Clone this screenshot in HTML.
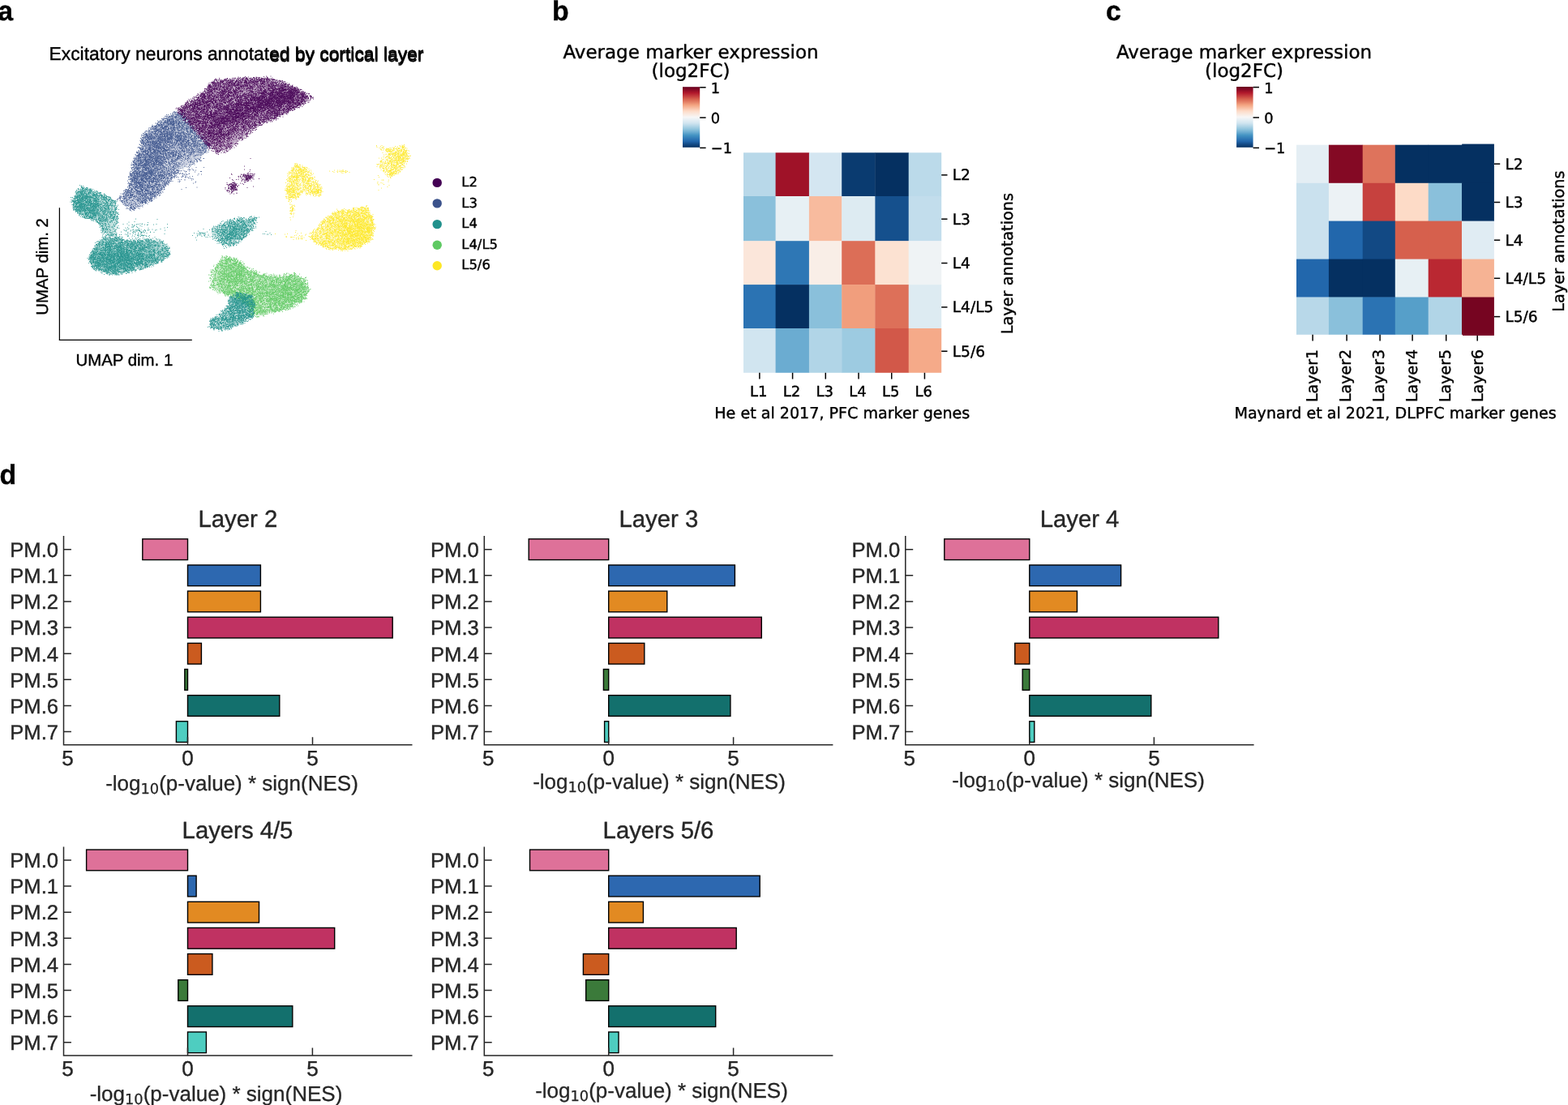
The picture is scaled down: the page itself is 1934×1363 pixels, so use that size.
<!DOCTYPE html>
<html><head><meta charset="utf-8"><title>Figure</title>
<style>
html,body{margin:0;padding:0;background:#fff;}
body{width:1934px;height:1363px;overflow:hidden;}
svg{display:block;position:absolute;left:0;top:0;}
text{text-rendering:geometricPrecision;}
.L{font-family:"Liberation Sans",sans-serif;}
.D{font-family:"DejaVu Sans",sans-serif;}
</style></head><body>
<svg width="1934" height="1363" viewBox="0 0 1934 1363">
<defs><linearGradient id="rdbu" x1="0" y1="0" x2="0" y2="1"><stop offset="0.00" stop-color="#67001f"/><stop offset="0.05" stop-color="#8a0b25"/><stop offset="0.10" stop-color="#b1182b"/><stop offset="0.15" stop-color="#c43b3c"/><stop offset="0.20" stop-color="#d6604d"/><stop offset="0.25" stop-color="#e48066"/><stop offset="0.30" stop-color="#f3a481"/><stop offset="0.35" stop-color="#f8bfa4"/><stop offset="0.40" stop-color="#fddbc7"/><stop offset="0.45" stop-color="#fae9df"/><stop offset="0.50" stop-color="#f7f6f6"/><stop offset="0.55" stop-color="#e4eef4"/><stop offset="0.60" stop-color="#d1e5f0"/><stop offset="0.65" stop-color="#b1d5e7"/><stop offset="0.70" stop-color="#90c4dd"/><stop offset="0.75" stop-color="#6bacd1"/><stop offset="0.80" stop-color="#4393c3"/><stop offset="0.85" stop-color="#327cb7"/><stop offset="0.90" stop-color="#2065ab"/><stop offset="0.95" stop-color="#124984"/><stop offset="1.00" stop-color="#053061"/></linearGradient><filter id="bl" x="-20%" y="-20%" width="140%" height="140%"><feMorphology operator="erode" radius="2"/><feGaussianBlur stdDeviation="1.8"/></filter></defs>
<text class="L" x="-2.7" y="24.5" font-size="33.8" font-weight="bold" fill="#000" stroke="#000" stroke-width="0.4">a</text>
<text class="L" x="681.0" y="24.6" font-size="33.8" font-weight="bold" fill="#000" stroke="#000" stroke-width="0.4">b</text>
<text class="L" x="1363.9" y="24.7" font-size="33.8" font-weight="bold" fill="#000" stroke="#000" stroke-width="0.4">c</text>
<text class="L" x="-0.5" y="597.4" font-size="33.8" font-weight="bold" fill="#000" stroke="#000" stroke-width="0.4">d</text>
<text class="L" x="60.5" y="74.3" font-size="22.84" fill="#000" stroke="#000" stroke-width="0.4">Excitatory neurons annotated by cortical layer</text>
<text class="L" x="60.8" y="75.6" font-size="22.84" fill="#000" stroke="#000" stroke-width="0.3"><tspan fill="none" stroke="none">Excitatory neurons annotat</tspan>ed by cortical layer</text>
<path d="M73.4 256.2V419.9M72.75 419.35H236.8" fill="none" stroke="#000" stroke-width="1.25"/>
<text class="L" x="153.4" y="450.5" font-size="20.4" text-anchor="middle" fill="#000" stroke="#000" stroke-width="0.4">UMAP dim. 1</text>
<text class="L" x="59" y="328.9" font-size="20.4" text-anchor="middle" fill="#000" transform="rotate(-90 59 328.9)" stroke="#000" stroke-width="0.4">UMAP dim. 2</text>
<circle cx="539.2" cy="225.4" r="5.7" fill="#440154"/>
<text class="D" x="569.3" y="230.1" font-size="16.4" fill="#000" stroke="#000" stroke-width="0.4">L2</text>
<circle cx="539.2" cy="250.9" r="5.7" fill="#3b528b"/>
<text class="D" x="569.3" y="255.6" font-size="16.4" fill="#000" stroke="#000" stroke-width="0.4">L3</text>
<circle cx="539.2" cy="276.6" r="5.7" fill="#21918c"/>
<text class="D" x="569.3" y="281.3" font-size="16.4" fill="#000" stroke="#000" stroke-width="0.4">L4</text>
<circle cx="539.2" cy="302.3" r="5.7" fill="#5ec962"/>
<text class="D" x="569.3" y="307.0" font-size="16.4" fill="#000" stroke="#000" stroke-width="0.4">L4/L5</text>
<circle cx="539.2" cy="327.7" r="5.7" fill="#fde725"/>
<text class="D" x="569.3" y="332.4" font-size="16.4" fill="#000" stroke="#000" stroke-width="0.4">L5/6</text>
<g id="umap">
<polygon points="263.7,98.1 300,96 332,95.2 347.9,99.8 365,107.8 386.6,120.3 368.4,132.8 342.2,145.3 319.5,155.5 302.4,170.3 285.3,185.1 268.3,189.7 259.2,184 237.5,159 222.8,141.9 217,135 234.1,123.7 251.2,112.3" fill="#440154" opacity="0.34" filter="url(#bl)" transform-origin="center" />
<polygon points="214,137.5 195,150 176.7,163.5 171,184 164,198.8 159.6,215.8 157.4,231.9 144.8,245.5 159.6,259.2 171,256.9 193.8,243.2 207.4,228.4 222.2,211.4 239.3,203.4 248.4,197.6 260.5,180 239.8,157 225.1,139.9" fill="#3b528b" opacity="0.26" filter="url(#bl)" transform-origin="center" />
<polygon points="98.2,229.6 88,245.5 90.2,259.2 102.8,268.3 119.8,273.9 125.5,285.3 128.9,293.3 143.7,291 146,270.5 143.7,247.8 131.2,241 114.1,234.1" fill="#21918c" opacity="0.26" filter="url(#bl)" transform-origin="center" />
<polygon points="123.2,294.4 114.1,308.1 108.4,319.5 114.1,330.8 131.2,337.7 146,338.8 171,333.1 193.8,325.1 208.6,316 209.7,305.8 199.5,296.7 182.4,294.4 159.6,296.7 143.7,291" fill="#21918c" opacity="0.34" filter="url(#bl)" transform-origin="center" />
<polygon points="317.8,268.4 294,268.4 276.9,273 262,281 256,288 267.8,298.5 276.9,304.8 288.3,303.7 301.9,293.5 313.3,282.1" fill="#21918c" opacity="0.22" filter="url(#bl)" transform-origin="center" />
<polygon points="276.9,315.1 259.8,334.4 258.7,353.8 274.6,362.9 285,366 300,372 306,380 310,391 333.8,386.8 356.5,381.1 375.9,370.8 381.5,357.2 377,342.4 364.5,337.8 345.1,340.1 322.4,337.8 305.3,329.9 291.7,319.6" fill="#5ec962" opacity="0.26" filter="url(#bl)" transform-origin="center" />
<polygon points="294,360.7 311,364.1 314.4,375.5 312.2,392.6 299.6,398.3 282.6,406.2 267.8,407.4 257.5,403.9 258.7,394.8 271.2,386.9 281.4,375.5 282.6,366.4" fill="#21918c" opacity="0.26" filter="url(#bl)" transform-origin="center" />
<polygon points="464.5,180.4 485,182.1 498.6,178.7 506.6,192.3 499.8,203.7 494.1,212.8 481.5,219.6 475.9,215.1 464.5,204.8 466.8,196.9 473.6,188.9" fill="#fde725" opacity="0.12" filter="url(#bl)" transform-origin="center" />
<polygon points="356.4,213.9 363.8,202.0 373.5,204.2 382.6,210.5 391.7,224.2 398.5,235.5 394.5,242.4 386.0,240.5 379.2,239.8 374.6,236.8 371.2,240.8 365.5,245.6 354.1,248.0 352.2,233.3 353.6,221.9" fill="#fde725" opacity="0.12" filter="url(#bl)" transform-origin="center" />
<polygon points="452,253.7 459.9,267.4 462.2,281 458.8,295.8 445.1,304.9 422.4,309.5 399.6,306.1 388.3,299.2 380.3,291.3 390.5,281 401.9,267.4 416.7,259.4 433.8,258.3 442.9,256" fill="#fde725" opacity="0.22" filter="url(#bl)" transform-origin="center" />
<path d="M997 357h0m-5 1h0m-6 1h0m-44 0h0m-13 0h0m0 1h0m1 3h0m6 2h0m3-4h0m1 4h0m3 0h0m1-3h0m1 2h0m2-2h0m15 3h0m6-1h0m3 1h0m1 0h0m2-1h0m1-3h0m4 3h0m2-2h0m2 3h0m4-4h0m0 4h0m3-4h0m2 4h0m0-1h0m0-1h0m1-2h0m0-1h0m0 2h0m0 2h0m1-1h0m0-3h0m1 0h0m0 3h0m0 2h0m1-5h0m1 0h0m0 4h0m1-2h0m0-1h0m3 4h0m5 6h0m-2-5h0m-1 4h0m-2 1h0m-2-5h0m0 4h0m-2-1h0m0 2h0m0-3h0m-1 1h0m-1 0h0m-1-3h0m-2 2h0m-1 2h0m0 1h0m-1-2h0m-1 0h0m-1 1h0m-1 1h0m-2-4h0m0 4h0m0-5h0m-2 1h0m0-1h0m-1 5h0m-2-4h0m0 2h0m0 2h0m-1-3h0m-2-1h0m-1 0h0m-3 3h0m-1-4h0m0 4h0m-1-3h0m0 2h0m0 1h0m-1 1h0m-2 0h0m-1-2h0m-3 0h0m0-3h0m-1 4h0m-1-1h0m-2 2h0m0-3h0m0 2h0m-1-3h0m-1 0h0m-1 2h0m0 2h0m-1-2h0m0-1h0m0-1h0m-2-1h0m-1 3h0m0 2h0m0-3h0m-2 2h0m-4-3h0m-2 3h0m-4-1h0m0 1h0m-1-1h0m-1-1h0m5 9h0m9-4h0m2 0h0m1 2h0m1-1h0m1-1h0m1 0h0m2-1h0m0 2h0m0-1h0m2-1h0m0 3h0m1-2h0m0 2h0m2-1h0m1 2h0m0-3h0m3-1h0m2 4h0m3 1h0m0-1h0m1 1h0m0-2h0m1-2h0m1 3h0m0-1h0m0 2h0m3-4h0m1 2h0m1-2h0m0 4h0m1 0h0m1-3h0m1 0h0m2 1h0m1-2h0m1-1h0m1 0h0m0 1h0m3 3h0m1-2h0m0-1h0m0 2h0m1-2h0m0 4h0m1-3h0m0 3h0m2-3h0m0 3h0m1-4h0m0 3h0m1 1h0m0-4h0m0 2h0m1-3h0m0 2h0m1-2h0m1 4h0m5-4h0m0 7h0m-3-1h0m-2 3h0m0 2h0m-1-2h0m0-1h0m0-1h0m-1-1h0m0 2h0m-1 0h0m-2 3h0m0-3h0m-1 0h0m-1-2h0m0 4h0m-1 1h0m0-3h0m0-1h0m-1 2h0m0 2h0m-1-5h0m0 2h0m-1 0h0m0 2h0m-1-4h0m-1 3h0m0 1h0m-1 1h0m-1-1h0m-1-4h0m0 2h0m-1 2h0m-3-3h0m0 4h0m0-3h0m-1 1h0m0-1h0m0 2h0m-1-4h0m-1 1h0m-1 4h0m0-5h0m0 2h0m-1 1h0m-3-2h0m0 2h0m0 2h0m0-3h0m-1 1h0m0 2h0m0-5h0m-1 5h0m0-5h0m0 2h0m-1 3h0m-1-4h0m-1 0h0m0-1h0m0 4h0m-1-3h0m0 2h0m-1-1h0m0 3h0m-1-5h0m-1 3h0m-1-2h0m-1 1h0m-2-2h0m0 2h0m0 3h0m-1 0h0m-1-4h0m0 2h0m-1 1h0m0-1h0m-1-2h0m0 2h0m-1 1h0m-6-1h0m-5 1h0m-1 5h0m5 2h0m2-2h0m2-1h0m1 1h0m2-2h0m1 3h0m1-1h0m1 0h0m1 2h0m3-1h0m0 1h0m3-4h0m0 2h0m3 0h0m0 2h0m2-3h0m1-1h0m1 0h0m1-1h0m1 3h0m0 2h0m1-2h0m2 0h0m1-3h0m0 2h0m1 2h0m1-2h0m0 2h0m0 1h0m1-4h0m0 2h0m1-1h0m0-1h0m1 3h0m0 1h0m1-1h0m0-1h0m0 2h0m1 0h0m0-5h0m0 1h0m1 3h0m0-3h0m2-1h0m1 1h0m1 1h0m0-1h0m0 4h0m1-5h0m1 5h0m1 0h0m0-3h0m1 2h0m2-2h0m1-1h0m1 3h0m0-3h0m1-1h0m0 2h0m0-1h0m2 0h0m1 4h0m1-4h0m1 0h0m0 2h0m1-2h0m3 0h0m2-1h0m-2 6h0m-2 0h0m-2 1h0m0 2h0m-2 0h0m0-1h0m-1-1h0m-1 1h0m-1-1h0m0-1h0m-1 3h0m-2-3h0m-1 5h0m-1-4h0m-1 2h0m0-1h0m0 2h0m-1-4h0m-1 4h0m0-3h0m-1 2h0m0 1h0m-1-3h0m0 4h0m-1 0h0m0-1h0m-1-1h0m0 2h0m0-1h0m-1-3h0m0 4h0m-1-5h0m0 4h0m-2-3h0m0 4h0m-1-3h0m0-1h0m0 2h0m-1 0h0m-1-1h0m0 2h0m0-3h0m-3 4h0m0-3h0m-1-2h0m0 2h0m-1-1h0m-1 2h0m0 1h0m-2-3h0m0 4h0m0-5h0m-1 0h0m0 3h0m0 2h0m-2-5h0m-1 5h0m-2-3h0m-1-1h0m0 1h0m-1 3h0m0-1h0m-1-1h0m-1-1h0m-2-1h0m0 4h0m-1-4h0m-1 0h0m0-1h0m-2 0h0m-3 5h0m0-3h0m-1 2h0m-2 0h0m-8-1h0m-3 2h0m-1-5h0m-6 0h0m3 9h0m1-1h0m0 2h0m0-3h0m1 1h0m1 1h0m0-3h0m1 4h0m1 0h0m3 0h0m5-2h0m0 2h0m5 0h0m1-3h0m0 4h0m3-1h0m1-4h0m0 2h0m1 1h0m0-1h0m1-1h0m1 2h0m0 1h0m1-4h0m1 4h0m1-2h0m0 2h0m1 0h0m1 0h0m0-3h0m2-1h0m1 4h0m0-1h0m1-2h0m2-1h0m1 4h0m0-3h0m0 4h0m1 0h0m1-5h0m1 2h0m0 2h0m0-3h0m1 0h0m0 2h0m0 2h0m1-1h0m0 1h0m1-5h0m0 5h0m1-4h0m1-1h0m1 4h0m0-3h0m1 1h0m2 3h0m0-5h0m1 0h0m1 4h0m0 1h0m2-2h0m0-1h0m1 3h0m1-4h0m0 2h0m0 1h0m1-4h0m0 3h0m1 0h0m0-3h0m1 0h0m0 1h0m0 2h0m1 1h0m2-2h0m1-2h0m0 3h0m4-2h0m0 2h0m-2 5h0m-6-1h0m-1 1h0m-3 1h0m0 2h0m-1-3h0m-1 2h0m0-3h0m-1-1h0m-2 1h0m-1-1h0m-1 1h0m-3 2h0m0-1h0m-1 2h0m-1-3h0m0 1h0m-1 0h0m0 2h0m-1 1h0m0-1h0m0-3h0m-2-1h0m0 5h0m-3 0h0m-1-5h0m-1 5h0m0-5h0m-1 3h0m-1 2h0m-3-2h0m0 2h0m0-4h0m-1 3h0m-1-1h0m0-3h0m-3 1h0m-2-1h0m0 4h0m-1-3h0m-1 2h0m0-1h0m0-1h0m-1 0h0m-1 4h0m-1-1h0m-2-3h0m-2 0h0m-2 0h0m0 3h0m-1-4h0m-4 3h0m0-1h0m-2 2h0m-2 1h0m-1 0h0m-1-3h0m-3 2h0m-2-1h0m-2 2h0m-1-2h0m-190 1h0m0 1h0m-1 0h0m-6-3h0m0 2h0m-1 1h0m-2-4h0m-1 2h0m-2-1h0m-2 9h0m1-3h0m1-2h0m1 2h0m1 1h0m0 2h0m0-5h0m1 4h0m1-3h0m1 0h0m0 2h0m0 2h0m1-2h0m0-3h0m1 1h0m0 2h0m0-3h0m1 5h0m1-1h0m1 1h0m0-3h0m1 2h0m1 0h0m1 1h0m1-3h0m5 1h0m0 2h0m0-5h0m2 5h0m1 0h0m2 0h0m1-1h0m4 1h0m1 0h0m173-2h0m7-1h0m0 2h0m2-3h0m1 3h0m0-2h0m2 0h0m1 0h0m0-1h0m3-1h0m1 2h0m0 1h0m4 2h0m1-4h0m1 1h0m0 2h0m0-1h0m3-1h0m1-1h0m1 4h0m3-2h0m3-2h0m1-1h0m1 2h0m0 1h0m1 0h0m0 2h0m1-1h0m1-4h0m0 5h0m1-5h0m1 0h0m0 2h0m1 0h0m0 3h0m1-5h0m0 1h0m1 3h0m0 1h0m2-3h0m0-1h0m0 2h0m1-3h0m0 3h0m1 2h0m0-3h0m1 3h0m1-1h0m1 0h0m2-2h0m1 3h0m1-3h0m0-1h0m1 2h0m1-1h0m0-2h0m1 5h0m0-3h0m1-2h0m1 5h0m2 0h0m2 0h0m1-5h0m2 0h0m1 2h0m1 2h0m-3 2h0m-3 4h0m-1-1h0m-2 2h0m-1-1h0m-1-4h0m0 2h0m0-1h0m-2 1h0m-1 3h0m-2 0h0m-1-4h0m-2 2h0m-1-1h0m-1 1h0m-1 0h0m0-1h0m0 2h0m-1-1h0m0-2h0m-1 4h0m0-5h0m-1 1h0m-1 0h0m-1 0h0m-1 1h0m0 2h0m-1 1h0m-2-1h0m0-1h0m0 2h0m-1-1h0m-1-1h0m0 1h0m-1 1h0m0-5h0m-1 1h0m-1 0h0m0 4h0m-4-4h0m-3 2h0m-1 0h0m-1 2h0m-1-3h0m-1-1h0m0 2h0m-4-2h0m0 4h0m-1-4h0m0 3h0m-2-4h0m0 2h0m0-1h0m-2-1h0m-3 5h0m-2-5h0m0 1h0m-92 4h0m-84-2h0m-4-3h0m-1 3h0m-1 1h0m-1 0h0m0 1h0m-2-4h0m0 2h0m-1-1h0m0 2h0m0-3h0m0-1h0m-1 4h0m0-3h0m-1 4h0m-1 0h0m-1-2h0m0 2h0m0-5h0m-2 5h0m-2-2h0m-1 0h0m0 1h0m-1-2h0m0 2h0m0-3h0m0 2h0m-1 2h0m0-4h0m0 2h0m-1 2h0m-1-2h0m-1 1h0m0-3h0m-1 3h0m0-1h0m-4-3h0m0 5h0m-1 0h0m-1-2h0m-3-1h0m-3-2h0m0 2h0m0 2h0m0-1h0m-1 0h0m0-1h0m-1 2h0m-1 1h0m0-5h0m0 4h0m-2 1h0m0-5h0m0 1h0m-7 9h0m1 0h0m0 1h0m4-1h0m0-3h0m1-1h0m1 0h0m1 3h0m0 1h0m1-3h0m0 2h0m1-2h0m2 3h0m1-4h0m3 1h0m0-1h0m0 2h0m1 2h0m1 1h0m1-3h0m1 0h0m1-1h0m2 0h0m0 3h0m1-4h0m0 2h0m0-1h0m0 4h0m1 0h0m2-4h0m0 1h0m1 1h0m2-2h0m0 2h0m0-3h0m0 2h0m1-1h0m0 4h0m0-1h0m1-1h0m1-3h0m0 3h0m1-2h0m0 4h0m2 0h0m0-5h0m0 2h0m2 3h0m1-4h0m0 2h0m0 2h0m2-2h0m1 0h0m0-1h0m2 1h0m1-2h0m1 4h0m1-1h0m0 1h0m1-1h0m1-1h0m1-2h0m1 4h0m3-5h0m1 4h0m45-2h0m8 1h0m3 2h0m1-5h0m7 3h0m1 2h0m0-5h0m4 3h0m1-3h0m2 4h0m1-1h0m1-1h0m0-1h0m3 2h0m1-2h0m0 2h0m1 0h0m3 0h0m2-1h0m0 3h0m1-4h0m1 4h0m2-3h0m1 1h0m5 2h0m83-4h0m1 2h0m1-2h0m1 3h0m0-4h0m3 5h0m1-2h0m1-3h0m1 0h0m1 2h0m1-1h0m1 4h0m1-2h0m1 2h0m0-4h0m1 4h0m0-5h0m1 1h0m0 2h0m1-2h0m0 2h0m0-1h0m1-1h0m1 2h0m1-2h0m0 4h0m1 0h0m2-3h0m2 3h0m1-2h0m1 0h0m0 1h0m1 0h0m2 0h0m0-3h0m0 2h0m1-1h0m0 2h0m0-1h0m2-1h0m1 2h0m0-3h0m0 4h0m2-5h0m1 1h0m1 4h0m1-3h0m1-2h0m1 4h0m1-1h0m0 1h0m1-2h0m-5 4h0m-1 3h0m-3-1h0m-2 1h0m-1-2h0m-1 1h0m0 1h0m-1 0h0m-2-3h0m0 2h0m-2-1h0m0 2h0m-1 0h0m0 2h0m0-5h0m0 4h0m-1-3h0m0 4h0m-1-5h0m0 2h0m-1 2h0m0-4h0m-1 1h0m0 2h0m-1 2h0m0-5h0m0 4h0m0-3h0m-1 2h0m0 2h0m0-5h0m-1 3h0m-1 0h0m0 2h0m0-3h0m0 2h0m-1 0h0m-3 1h0m0-1h0m-2-2h0m-3 3h0m-2-3h0m-98-2h0m-6 1h0m-3-1h0m-70 2h0m-3 3h0m-2-3h0m-1 0h0m0-1h0m0 2h0m-5-1h0m-1 3h0m-3-3h0m0 3h0m-2 0h0m0-3h0m-2 2h0m0 1h0m-1 0h0m0-5h0m-4 2h0m0 2h0m0-4h0m-1 5h0m-2-4h0m0 2h0m0-1h0m-1 0h0m0 1h0m-1 2h0m0-1h0m-1-2h0m-1-2h0m0 4h0m-1 1h0m-1-4h0m0-1h0m-2 2h0m0-1h0m-1 0h0m-2 1h0m-2 0h0m0 2h0m0-1h0m-1-1h0m-1-1h0m-1 1h0m0 1h0m-1 0h0m-2-2h0m-1 4h0m-1-5h0m0 2h0m-3 3h0m0-4h0m-1 1h0m-1 0h0m0-1h0m-3-1h0m0 1h0m-3 1h0m0 1h0m-1-3h0m-1 4h0m-3-2h0m1 8h0m0-3h0m3 4h0m2-2h0m3 0h0m0 2h0m1-5h0m0 4h0m0-3h0m0 4h0m1 0h0m0-5h0m1 5h0m0-3h0m2 2h0m0-2h0m1 1h0m1 1h0m0-1h0m0 2h0m1-2h0m1 1h0m0-1h0m0 2h0m0-5h0m1 1h0m0 4h0m0-5h0m0 2h0m2 2h0m1-1h0m0-3h0m1 5h0m0-4h0m1 0h0m0 2h0m0 2h0m1-5h0m0 3h0m0 2h0m1 0h0m0-5h0m0 4h0m1-3h0m1 4h0m0-3h0m1-1h0m1 0h0m0-1h0m1 3h0m1 0h0m0-3h0m3 1h0m0 2h0m0 2h0m2-2h0m0-1h0m2 1h0m0-1h0m1 0h0m0 2h0m1-1h0m0 2h0m1 0h0m1-4h0m0 1h0m0 2h0m2-3h0m2 2h0m1 0h0m1 1h0m1 0h0m2-3h0m2-1h0m1 1h0m1 4h0m2-4h0m3 4h0m6-1h0m157-3h0m2 4h0m20-5h0m1 3h0m2 2h0m3-5h0m1 1h0m0 2h0m1 2h0m2-4h0m1 0h0m0 2h0m1 0h0m0-1h0m3-1h0m3-1h0m-9 7h0m-1-1h0m-40 5h0m-147-5h0m0 5h0m-4-3h0m0 1h0m-1-1h0m0-2h0m-1 4h0m0 1h0m0-5h0m-2 1h0m-1 0h0m-1 0h0m0 3h0m-1-1h0m-1-1h0m-1 0h0m0 2h0m-1-3h0m0 1h0m-1 1h0m0 2h0m-2-5h0m-3 0h0m-1 5h0m-1-4h0m0 4h0m-1-2h0m-1-3h0m0 5h0m-3-3h0m0 1h0m0 2h0m-1 0h0m0-1h0m-1-4h0m0 2h0m0 2h0m-1-1h0m-1-1h0m-1-2h0m-3 4h0m-1 1h0m-2-4h0m-1 4h0m-2-5h0m-1 2h0m0 2h0m-1 0h0m0-3h0m0 4h0m-1 0h0m-1-3h0m0 2h0m0-3h0m-1-1h0m0 1h0m-3 4h0m-1-1h0m-1-3h0m-2-1h0m-2 4h0m0-1h0m-1-1h0m0 2h0m0 1h0m-3-2h0m-1-1h0m0 2h0m0-3h0m-1 1h0m0 1h0m0 2h0m-1-5h0m-1 0h0m-1 2h0m-2 1h0m-3 2h0m2 4h0m1 0h0m0-3h0m0 2h0m3 1h0m0-3h0m1 3h0m1 2h0m0-3h0m1 3h0m0-3h0m1-1h0m1 3h0m1 1h0m0-1h0m1 0h0m1-3h0m1 3h0m1-1h0m1 2h0m1 0h0m0-5h0m0 2h0m0 2h0m2-4h0m1 4h0m1-4h0m0 4h0m0-3h0m1-1h0m1 0h0m1 4h0m0-2h0m1 0h0m1 2h0m1-3h0m1 4h0m2-1h0m1-3h0m6-1h0m1 1h0m0 1h0m1 1h0m1 1h0m0 1h0m0-3h0m1-2h0m2 5h0m0-3h0m2-1h0m1-1h0m0 1h0m0 2h0m4-1h0m1-1h0m0 2h0m0 2h0m1 0h0m0-5h0m0 2h0m1 1h0m0-1h0m0-1h0m2 2h0m0-3h0m0 4h0m2-2h0m0-1h0m2 2h0m3 2h0m2-1h0m1-1h0m0 2h0m4-1h0m0 1h0m2-1h0m0-3h0m1 0h0m3 3h0m2-2h0m147 3h0m10-5h0m3 0h0m1 0h0m12 4h0m1-4h0m-12 11h0m-3-3h0m-4-1h0m-6 3h0m-3-2h0m-141 3h0m-4 0h0m-2-2h0m-1 2h0m-1-4h0m-1 3h0m-1 0h0m0 1h0m0-3h0m-1 0h0m0 3h0m-3-4h0m-1 2h0m-1 2h0m-1-4h0m-4 4h0m0-3h0m-2 1h0m-1-1h0m-3 1h0m-2 1h0m0-2h0m-1 0h0m0-1h0m0 2h0m-1-1h0m0 2h0m-2-1h0m-1-3h0m0 1h0m-1-1h0m0 2h0m-1 1h0m-3-3h0m-1 5h0m-1-3h0m0-2h0m-4 0h0m-4 3h0m-1 2h0m-4-2h0m-2-1h0m0 2h0m-2-1h0m-1-2h0m0 4h0m-1-4h0m0 2h0m-3 1h0m-1-3h0m-1-1h0m0 4h0m0-1h0m-1-3h0m-3 2h0m0 2h0m0 1h0m-1 0h0m0-1h0m-1-2h0m0-1h0m-4 3h0m-3-2h0m-2 2h0m-1 0h0m-4-3h0m1 10h0m1-3h0m1-1h0m1 3h0m2 1h0m0-1h0m1 1h0m0-1h0m1-2h0m1 3h0m1 0h0m0-3h0m1 1h0m1 0h0m1-2h0m0-1h0m0 2h0m1-1h0m0 1h0m2 0h0m1 2h0m1 0h0m0-3h0m1 2h0m0 1h0m1-1h0m1-2h0m2 2h0m0 2h0m4-5h0m1 1h0m1 0h0m0 1h0m0 2h0m1-2h0m1 0h0m1 2h0m2-4h0m1 5h0m0-4h0m2 0h0m6 2h0m0-3h0m1 1h0m2 4h0m1-4h0m0 4h0m0-3h0m2-1h0m0 3h0m1-2h0m3-2h0m1 2h0m2 2h0m2-3h0m0 2h0m0-3h0m1 5h0m1-2h0m0-2h0m1 2h0m1-2h0m0 3h0m1-1h0m0-1h0m1 2h0m1-3h0m2-1h0m2 5h0m0-1h0m1-3h0m0-1h0m1 3h0m0-1h0m3 2h0m3 0h0m1-1h0m0 2h0m0-5h0m0 2h0m0 2h0m1-3h0m0 2h0m2 2h0m0-3h0m1 2h0m2-3h0m3 4h0m142-5h0m22 5h0m4-4h0m-19 7h0m-147 1h0m0-3h0m-2 5h0m-1-2h0m0-3h0m-1 3h0m0-1h0m-2 3h0m-1-4h0m0 4h0m-2 0h0m-1-4h0m0 2h0m-1-2h0m-1 4h0m-1 0h0m0-1h0m-2 1h0m-1-4h0m0 4h0m0-5h0m-1 3h0m-1-3h0m-1 4h0m0-4h0m-1 5h0m-1-3h0m0 1h0m-2 2h0m-4-3h0m0-1h0m0 2h0m-1-3h0m-1 4h0m0 1h0m-3 0h0m-1-2h0m0-3h0m-2 1h0m0 2h0m-1-1h0m-2 1h0m0-3h0m-2 0h0m0 2h0m0-1h0m-1 1h0m-1 3h0m-3-4h0m0 3h0m-1-4h0m0 1h0m0 4h0m-1 0h0m-4-3h0m-2 0h0m-1 1h0m-1 0h0m-1 2h0m-2 0h0m-1-2h0m-1 1h0m0-3h0m0 2h0m-1 2h0m-1-5h0m-1 4h0m-1-3h0m-1 4h0m-1-3h0m-1-2h0m0 2h0m-1 2h0m-1-1h0m-1 2h0m-1-2h0m0-3h0m-1 2h0m-1-1h0m-1 1h0m0 2h0m0 1h0m0-5h0m-1 4h0m0 1h0m-1-2h0m0 2h0m-1-2h0m-1 2h0m-1-4h0m-1 3h0m0-3h0m0 4h0m-1-1h0m-3 1h0m0-5h0m0 4h0m-1-2h0m0 1h0m-1 1h0m-1-1h0m-3 0h0m-1 4h0m2 0h0m2 1h0m0 2h0m0-3h0m1 0h0m1-1h0m0 5h0m1-5h0m0 2h0m0 2h0m1 1h0m0-1h0m0-3h0m1 3h0m1-1h0m0-3h0m1 3h0m0-3h0m1 4h0m0-3h0m0 4h0m1-2h0m0 2h0m0-3h0m2 3h0m0-4h0m1 3h0m1-1h0m1-2h0m1 4h0m0-1h0m1-3h0m0 4h0m0-1h0m1-4h0m0 2h0m0-1h0m0 2h0m1 0h0m0-3h0m0 2h0m0 2h0m1-3h0m1 3h0m1-2h0m1-2h0m2 5h0m1-3h0m2 0h0m2-2h0m1 1h0m4 1h0m1 3h0m1-3h0m1 3h0m1-2h0m1-1h0m1 2h0m2-2h0m2-2h0m1 4h0m0-3h0m3 3h0m1-4h0m1 0h0m1 1h0m2 1h0m0 1h0m1-2h0m0 2h0m1 2h0m0-1h0m1 0h0m1-4h0m3 5h0m0-5h0m0 2h0m1 1h0m0 2h0m2-4h0m0 2h0m0 2h0m1-1h0m1-4h0m0 4h0m2 0h0m1 1h0m1-3h0m1 3h0m1-3h0m0 2h0m2 1h0m0-3h0m1-2h0m0 2h0m1 3h0m0-1h0m1-2h0m0 2h0m0-3h0m1 2h0m0-1h0m0 2h0m0-3h0m1 4h0m1 0h0m0-3h0m0 2h0m0-3h0m0 2h0m1-3h0m0 2h0m1-1h0m1-1h0m2 3h0m0-3h0m0 2h0m1 3h0m1-2h0m0-1h0m3 3h0m138-4h0m-142 6h0m0 1h0m-1-2h0m0 2h0m-1-1h0m-1 3h0m-1 0h0m-1-3h0m-1 0h0m-1 1h0m0 1h0m-1-2h0m0-1h0m0 2h0m-1-1h0m0 2h0m0-3h0m-1 3h0m0-3h0m-2 4h0m0-1h0m0 2h0m-1 0h0m-1-4h0m0-1h0m0 2h0m-1-2h0m-1 1h0m0 3h0m-1-3h0m-1 4h0m0-3h0m-1 0h0m-1-1h0m0-1h0m-1 3h0m0-3h0m0 2h0m0 2h0m-1-4h0m0 3h0m-3-2h0m-1 0h0m0 4h0m0-3h0m-1-1h0m0 4h0m-2-1h0m-1-3h0m-2 1h0m-1 2h0m0 1h0m-2-2h0m-1-1h0m-1 0h0m0 2h0m-9-4h0m0 2h0m-1-1h0m-1 0h0m-3-1h0m-1 0h0m0 2h0m-1 1h0m-2 0h0m0 2h0m0-5h0m-1 3h0m-1 0h0m0 2h0m-2-1h0m0-3h0m0 4h0m-1-2h0m-2-3h0m-1 3h0m-2-2h0m0 4h0m0-1h0m-2-3h0m0-1h0m-1 1h0m-1 3h0m0-3h0m0 4h0m-2-4h0m-1 0h0m0 4h0m-1-4h0m-1 2h0m-1 0h0m-2 1h0m0-3h0m0 2h0m-1 1h0m0-4h0m-1 0h0m-1 0h0m-1 2h0m-1 2h0m0-3h0m0 2h0m-1 1h0m-1-2h0m-2 3h0m-1 6h0m1-1h0m2 1h0m4-1h0m0-4h0m1 5h0m0-5h0m0 2h0m2-1h0m1 1h0m0-1h0m1 4h0m0-5h0m0 2h0m1-1h0m0 4h0m2 0h0m0-3h0m1 1h0m0 2h0m0-3h0m0 2h0m1 0h0m1-3h0m1 1h0m1-2h0m0 2h0m2-1h0m0 2h0m2 0h0m0 2h0m0-5h0m1 5h0m4-2h0m0 2h0m0-1h0m0-3h0m1 3h0m1-4h0m1 5h0m1-3h0m1-1h0m0-1h0m2 0h0m1 0h0m14 1h0m10 1h0m7-1h0m0 2h0m4 1h0m3-4h0m0 2h0m0 1h0m4-2h0m2 2h0m1-1h0m0 3h0m1-4h0m2 1h0m0-1h0m1-1h0m1 1h0m-55 6h0m-2-1h0m-3 1h0m-1 3h0m-1-4h0m-1 3h0m0-3h0m-1 0h0m-2 1h0m0 1h0m-1-2h0m-1 2h0m0-2h0m-1 2h0m-1-1h0m-1 1h0m-2-1h0m-1-1h0m-1 2h0m0-1h0m-1 0h0m-1 0h0m-1 0h0m0 2h0m-2 1h0m0-3h0m-1 3h0m-3-1h0m-1-1h0m-1 0h0m6 9h0m0-1h0m1 0h0m0-3h0m1-1h0m1 0h0m1 1h0m3 0h0m0 4h0m11-5h0m-14 8h0m-1 4h0m3 1h0m3 4h0m0-3h0m3 1h0m2-1h0m1 3h0m176 0h0m1 0h0m1-2h0m4 6h0m-1 2h0m-1-1h0m0-1h0m-1 2h0m-1-3h0m-2 2h0m-2-1h0m0 2h0m-1-3h0m-1 3h0m-1-2h0m-1 0h0m-1-2h0m-1 1h0m-1-2h0m0 4h0m0-3h0m-1 1h0m0 2h0m-2-1h0m0-3h0m-1 2h0m0 1h0m-1 0h0m-2 2h0m-1-1h0m0 1h0m-2-1h0m-2 0h0m-2-2h0m-4 1h0m-3 0h0m0 2h0m-2-2h0m0 1h0m-22 1h0m-124-1h0m-2 0h0m-1-3h0m0 2h0m-1 0h0m0 2h0m-2-5h0m-1 1h0m-1 1h0m0 2h0m-1-1h0m-1 7h0m2-1h0m1 2h0m2 0h0m0-3h0m0 2h0m1-4h0m0 2h0m1 3h0m0-3h0m1 1h0m0-3h0m4 2h0m104-2h0m2 3h0m1 2h0m2 0h0m1 0h0m4-1h0m2-1h0m1-2h0m0 1h0m1 0h0m0 3h0m1-3h0m0 2h0m2-2h0m0 2h0m3 0h0m2-3h0m3 2h0m1 1h0m1-2h0m1 2h0m0 1h0m2-4h0m0 2h0m0 1h0m1-3h0m1 4h0m1-1h0m2 0h0m0 1h0m1-1h0m1-1h0m0-1h0m3 1h0m0-3h0m1 0h0m1 2h0m0 2h0m0-4h0m1 4h0m1 1h0m1-4h0m1 4h0m1-5h0m1 4h0m0-1h0m2 0h0m2-3h0m1 0h0m0 2h0m2 1h0m0-1h0m1-2h0m1 0h0m0 4h0m1-3h0m1 0h0m1 2h0m0-3h0m0 2h0m2-1h0m0 2h0m1-1h0m0 3h0m1 0h0m1-2h0m1-1h0m0 2h0m1-1h0m1-1h0m2 0h0m1-1h0m0 2h0m1-2h0m0 2h0m1 0h0m0 1h0m2-1h0m0-1h0m2-1h0m0 4h0m0-3h0m1-2h0m0 3h0m3 1h0m0 5h0m-2-3h0m0 3h0m-1 0h0m-1 1h0m0-1h0m-1-1h0m-2-1h0m0 2h0m-2 0h0m0-3h0m-1 5h0m0-4h0m-1 0h0m0-1h0m-1 0h0m0 2h0m0 3h0m-1-1h0m-1 0h0m-1-4h0m0 4h0m-1 1h0m-1-3h0m-1 3h0m-1-5h0m0 2h0m0-1h0m-1 4h0m0-1h0m0-1h0m-1 0h0m0 2h0m-1-3h0m-2 2h0m-2-3h0m-1-1h0m0 4h0m0-3h0m0 4h0m-1-3h0m0 1h0m-1 2h0m0-3h0m-1 0h0m-1 2h0m0-3h0m-1 1h0m0 2h0m-1-1h0m-1-2h0m0 2h0m-1 2h0m0-4h0m-1-1h0m-1 0h0m0 4h0m-1-2h0m0 3h0m-1 0h0m-1-4h0m-1-1h0m0 2h0m-1 1h0m-1-2h0m-1-1h0m0 1h0m-1 1h0m-1 0h0m-1 2h0m-1 1h0m0-4h0m-2 0h0m0 2h0m-1-2h0m-1 1h0m-1-1h0m-1 2h0m0 2h0m-1 0h0m0-3h0m0-1h0m-1 4h0m0-2h0m-2 0h0m-1 0h0m-1-1h0m-1-1h0m-3 0h0m0 4h0m0-5h0m0 4h0m-1-1h0m0 2h0m0-5h0m-1 4h0m-1 1h0m0-5h0m0 1h0m-1 2h0m-1 2h0m0-1h0m0-3h0m-2-1h0m0 1h0m-1-1h0m0 4h0m-2-4h0m-1 3h0m-1-3h0m0 4h0m-1-4h0m0 4h0m0-3h0m-1 2h0m0-1h0m0-1h0m-1-1h0m-1 3h0m-2 2h0m-1-4h0m-1 2h0m0 2h0m-1 0h0m-1-2h0m-1-3h0m-1 5h0m0-1h0m-2 1h0m-1-3h0m-1 3h0m-1-1h0m-93 0h0m-3 0h0m-4 0h0m-1 0h0m0-2h0m-2 3h0m2 1h0m1 1h0m5 1h0m86 2h0m4 1h0m1 0h0m2 0h0m1-1h0m2-4h0m1 5h0m0-4h0m2 2h0m0-3h0m2 0h0m1 3h0m1-3h0m0 2h0m0 2h0m2-4h0m1 3h0m0-1h0m2-1h0m0 3h0m2-1h0m2-2h0m0-1h0m0 4h0m1 1h0m2 0h0m3 0h0m1-2h0m0 1h0m1-3h0m1 0h0m0-1h0m1 4h0m0-1h0m3 0h0m0-3h0m0 4h0m3-3h0m0 2h0m1-1h0m1 1h0m1 0h0m1-2h0m0 2h0m1 0h0m0-3h0m1 4h0m2 1h0m1-3h0m0 2h0m1 1h0m1-2h0m0 2h0m1-2h0m0-1h0m1-1h0m0 1h0m3 3h0m1-2h0m0-1h0m1 3h0m0-3h0m1-2h0m2 1h0m0 2h0m0-3h0m0 2h0m0 2h0m1 1h0m0-4h0m2 1h0m0 1h0m0 2h0m1-2h0m0 1h0m1-3h0m0-1h0m0 2h0m1-1h0m0 4h0m0-3h0m1 0h0m0 1h0m1-2h0m1 4h0m2 0h0m0-5h0m0 2h0m1 3h0m0-5h0m0 2h0m0 2h0m0-3h0m1 0h0m1 1h0m0 2h0m1 0h0m0-4h0m1 5h0m1-3h0m3 2h0m1-1h0m1-1h0m0 2h0m0 1h0m1-2h0m2 2h0m0-5h0m2 1h0m0 1h0m2-1h0m0-1h0m1 3h0m0-1h0m2 1h0m0 2h0m1-2h0m0-1h0m2 3h0m1 0h0m0-5h0m0 2h0m2-1h0m0 2h0m0 2h0m1-1h0m1 1h0m0-5h0m0 4h0m1 1h0m1-2h0m1 1h0m2 1h0m2-4h0m0 5h0m-2 2h0m0-1h0m0 4h0m-1-2h0m-1-3h0m0 2h0m0 2h0m-1 0h0m-1-2h0m0 3h0m-1-2h0m-1-1h0m0-1h0m-2-1h0m0 2h0m0 2h0m-1 1h0m-1-3h0m-1-1h0m-1 3h0m0-3h0m0-1h0m-1 3h0m-1-2h0m0 2h0m-1 2h0m0-3h0m-1 3h0m0-3h0m0 2h0m-1 1h0m0-2h0m-1 1h0m0-1h0m0-3h0m-1 0h0m0 2h0m0 2h0m-1-2h0m-1 0h0m0-1h0m-1 1h0m0 1h0m-1-2h0m-1 4h0m-2-5h0m-1 4h0m-2 1h0m0-5h0m0 4h0m-1-4h0m0 2h0m-1 2h0m-2 1h0m0-1h0m-1-4h0m0 5h0m-1-4h0m-1 0h0m0-1h0m-2 0h0m-1 3h0m-1 0h0m-2 1h0m-1 0h0m0-3h0m0 4h0m-1-2h0m0 2h0m-1-5h0m0 2h0m0 1h0m-1 0h0m-2-2h0m-1-1h0m0 4h0m-2 0h0m0-3h0m0 2h0m0 2h0m-1-5h0m0 4h0m-1-4h0m0 4h0m-1-1h0m0 2h0m0-5h0m-1 4h0m0-1h0m-1 1h0m0-1h0m-1 0h0m0-3h0m-1 5h0m0-5h0m-1 0h0m0 3h0m-2-3h0m0 5h0m-1 0h0m-1-4h0m0 2h0m-1-2h0m-1 0h0m-2 4h0m0-3h0m0 1h0m-2 0h0m0 2h0m-2-2h0m0 2h0m0-1h0m-1-1h0m0-3h0m-1 0h0m0 1h0m-2-1h0m0 2h0m0 2h0m-1-4h0m-2 5h0m-1-5h0m0 2h0m-1 0h0m-2 0h0m0 2h0m-1 1h0m0-5h0m-1 3h0m-1 2h0m0-1h0m-1-3h0m-1 2h0m0 2h0m0-5h0m-1 2h0m0 1h0m-1 1h0m-1-1h0m0-3h0m-1 0h0m-2 1h0m-1 3h0m-1 1h0m0-2h0m-1 0h0m0 2h0m-2 0h0m0-5h0m-1 1h0m0 1h0m0 2h0m-1-3h0m-1 2h0m0 1h0m-1-4h0m-1 4h0m0-1h0m-2-3h0m0 1h0m0 2h0m-3-1h0m-1 3h0m0-5h0m-1 4h0m-2 0h0m-1-1h0m0-1h0m-1 1h0m0-1h0m-81-1h0m-7 2h0m1 5h0m79 3h0m1-1h0m2-4h0m0 4h0m1 0h0m0-3h0m1 0h0m1 4h0m1-2h0m0 2h0m4-4h0m1 4h0m0-3h0m1-2h0m1 5h0m1-5h0m0 2h0m1-2h0m1 3h0m0 2h0m1-3h0m1 3h0m0-1h0m2-1h0m1 2h0m1-5h0m1 0h0m0 2h0m1 2h0m0-4h0m1 2h0m1 2h0m0-3h0m0 2h0m0 2h0m1-5h0m0 2h0m1 1h0m3 0h0m1 0h0m1-2h0m0 3h0m2-4h0m1 5h0m2-5h0m0 4h0m1-3h0m1 0h0m0 2h0m0 2h0m2-2h0m0 2h0m0-5h0m1 3h0m0-3h0m0 2h0m1-1h0m0 3h0m1-3h0m0 4h0m1-2h0m1 0h0m0-1h0m2 0h0m0 2h0m1-3h0m0-1h0m0 2h0m1 2h0m0-2h0m1 0h0m1-2h0m1 1h0m0 3h0m1-2h0m1 0h0m0 2h0m0 1h0m1-2h0m0 2h0m0-3h0m2-1h0m0 2h0m0-1h0m0 2h0m1-1h0m1 0h0m1 0h0m1 0h0m0-3h0m1 3h0m0 1h0m3-2h0m0 2h0m0-3h0m0 2h0m2 2h0m0-3h0m1-2h0m0 4h0m1-1h0m0 2h0m1-2h0m0-3h0m0 2h0m1 0h0m1-1h0m0 4h0m0-3h0m0 2h0m1 0h0m1-2h0m0 2h0m1-1h0m0 2h0m0-3h0m1-2h0m1 1h0m0-1h0m1 4h0m1-1h0m0 2h0m0-5h0m1 5h0m0-3h0m2 0h0m0 2h0m1-4h0m1 0h0m0 2h0m0 2h0m0-3h0m0 2h0m1-1h0m1 0h0m0 2h0m0-3h0m1 2h0m1 1h0m0-3h0m1 2h0m1 0h0m1-2h0m0 3h0m1-3h0m1-1h0m0 4h0m0 1h0m1-4h0m0 4h0m0-3h0m0 2h0m1-1h0m1-3h0m1 0h0m0 2h0m0 2h0m0-1h0m1-2h0m0 2h0m0-1h0m1 2h0m0-1h0m0 2h0m1-5h0m0 2h0m2 0h0m1 0h0m2-2h0m1 3h0m0 1h0m1 1h0m0-5h0m2 3h0m1-2h0m1 4h0m2-5h0m2 5h0m0-3h0m0 2h0m1-3h0m0 2h0m0 2h0m1-4h0m0 1h0m1 0h0m0 2h0m0-1h0m1 0h0m0 2h0m0-3h0m1 1h0m2 0h0m0-2h0m1 0h0m-2 6h0m0 4h0m0-3h0m-1-2h0m0 3h0m0 2h0m-1-5h0m0 2h0m0-1h0m-1 2h0m0 2h0m-1-3h0m-1-2h0m-2 5h0m-3-2h0m-1-3h0m-1 4h0m0-3h0m0 4h0m-1-2h0m-1-2h0m0-1h0m-1 1h0m0 1h0m-1 0h0m-1 3h0m-1-4h0m-1 3h0m0-1h0m-2 2h0m0-3h0m-1 3h0m0-3h0m-1-2h0m0 1h0m-1-1h0m0 2h0m0 2h0m-1-2h0m-1 2h0m0-3h0m-1 3h0m-1-2h0m-1 0h0m0-1h0m0 4h0m-1-5h0m-1 0h0m0 2h0m0-1h0m-1-1h0m-1 3h0m0-1h0m-1 2h0m0-1h0m-1-3h0m0 2h0m0-1h0m0 2h0m-1-1h0m0 1h0m-1 2h0m0-3h0m-1-1h0m0 4h0m0-5h0m0 2h0m-1-2h0m0 4h0m0-3h0m0 2h0m-1 1h0m0-3h0m-1 3h0m0-3h0m-1 0h0m-1-1h0m-1 0h0m0 4h0m-1-2h0m-1-2h0m0 4h0m0-3h0m0 2h0m-1-2h0m0 1h0m0 2h0m-1-4h0m0 4h0m-1-2h0m-1-1h0m0-1h0m-1 0h0m0 2h0m-3-1h0m0 4h0m-1-2h0m-1-3h0m0 1h0m0 2h0m-1-2h0m0-1h0m-1 5h0m-1 0h0m-1 0h0m0-5h0m0 1h0m-1-1h0m-1 0h0m-1 5h0m-1-3h0m0 2h0m-1 1h0m0-3h0m0 1h0m-1 2h0m0-2h0m-1 2h0m-1 0h0m0-5h0m0 4h0m-1-4h0m0 3h0m0 2h0m-1-1h0m0-3h0m-1 4h0m-1-5h0m0 4h0m-3-4h0m0 1h0m0 2h0m-1-3h0m0 3h0m0 2h0m-1 0h0m0-3h0m-1-2h0m0 2h0m-2-2h0m0 2h0m0 3h0m-1-5h0m-1 1h0m-2 1h0m0 1h0m-2-2h0m-1-1h0m0 1h0m-2 2h0m-1-3h0m-2 3h0m0 2h0m0-4h0m-1 2h0m-1-1h0m0 2h0m-3 0h0m-1-3h0m0 4h0m0-3h0m-1 1h0m0 2h0m0-3h0m-1 1h0m-1 2h0m-1-1h0m-2 1h0m-1-5h0m0 4h0m-1-1h0m0 2h0m0-5h0m0 4h0m0-3h0m-1 0h0m0 1h0m-2 1h0m-1 1h0m0-3h0m-2 0h0m-1 3h0m-1-3h0m-2 1h0m-3 0h0m0 2h0m-1-4h0m0 4h0m0-3h0m-1 1h0m0-1h0m-1 3h0m-1 1h0m0-1h0m0-3h0m-1 3h0m-1-1h0m0 2h0m-1-4h0m0 2h0m0-3h0m-3 2h0m-5 8h0m1 0h0m1-2h0m1-2h0m2 2h0m1 2h0m1-2h0m0 2h0m1-4h0m0 2h0m2-1h0m7 2h0m0-3h0m0 4h0m4-1h0m0-1h0m1 2h0m1-1h0m1 2h0m1-5h0m1 3h0m2-1h0m1-2h0m1 5h0m0-5h0m0 2h0m1 1h0m0-3h0m1 1h0m1 4h0m1-1h0m2-1h0m2-3h0m1 2h0m1-1h0m0 2h0m0 2h0m2-2h0m0 2h0m1-3h0m1-1h0m2 1h0m0 2h0m1-1h0m0 2h0m0-5h0m0 4h0m1-4h0m1 0h0m0 2h0m0 2h0m0 1h0m1 0h0m0-5h0m2 0h0m1 3h0m1 2h0m2-4h0m0-1h0m0 4h0m1 1h0m1-5h0m0 1h0m1 4h0m0-3h0m0 2h0m1-3h0m1-1h0m0 2h0m1 0h0m1 2h0m1-2h0m0-1h0m0 2h0m1 0h0m0-1h0m0 2h0m1 0h0m0-1h0m1 2h0m0-1h0m1-3h0m0 2h0m0-1h0m0 2h0m1-3h0m0 4h0m0-1h0m1-4h0m1 3h0m0-3h0m3 4h0m1 0h0m1-1h0m0-3h0m0 4h0m1-1h0m0 2h0m1-4h0m1 3h0m1 0h0m1 1h0m1-2h0m1 2h0m0-5h0m0 2h0m1-2h0m0 4h0m2 1h0m1-3h0m2-2h0m0 2h0m0 2h0m0-3h0m1-1h0m0 4h0m1 0h0m0-3h0m0 2h0m1 1h0m0-3h0m1 2h0m2-2h0m0 2h0m0-3h0m0 4h0m1 1h0m0-5h0m0 2h0m0 2h0m1-4h0m0 2h0m0 2h0m1-2h0m0 2h0m0 1h0m1-5h0m2 0h0m0 2h0m1-2h0m0 2h0m0 2h0m1-2h0m1-1h0m0 4h0m0-5h0m1 3h0m0-1h0m0-1h0m1 0h0m0 2h0m0-3h0m0 2h0m1 1h0m1 0h0m0 1h0m1 1h0m0-5h0m0 4h0m1-3h0m0 1h0m1 0h0m1 1h0m0 2h0m0-1h0m1-2h0m0 1h0m0 2h0m1-5h0m0 4h0m0-3h0m1 4h0m1-4h0m1-1h0m0 3h0m0 2h0m1 0h0m0-5h0m0 4h0m0-3h0m1-1h0m0 3h0m1 0h0m0-2h0m1 2h0m0-1h0m1 1h0m0 2h0m0-5h0m1 0h0m1 2h0m1-1h0m0 1h0m1 3h0m0-1h0m1 1h0m0-3h0m1-2h0m0 4h0m0-3h0m0 2h0m0 2h0m1-4h0m1 2h0m1 2h0m0-5h0m1 5h0m0-3h0m1-1h0m0 2h0m0 2h0m1-5h0m1 2h0m1 1h0m0-1h0m1-2h0m3 2h0m1 6h0m-2 2h0m-2-1h0m0 1h0m-1-4h0m-1 1h0m0 4h0m0-5h0m0 2h0m-1 3h0m-1-2h0m-1 2h0m-1-1h0m0-2h0m-1 2h0m0 1h0m-2-4h0m0 3h0m-1-1h0m0 2h0m-1-3h0m-1 1h0m0 2h0m-1-1h0m0-3h0m0 4h0m-1-2h0m0 2h0m-1-4h0m0 4h0m0-5h0m-1 4h0m0-1h0m0-1h0m-1 1h0m0 2h0m-1-5h0m-1 4h0m0-3h0m0 2h0m0 2h0m-2 0h0m-1-4h0m0 4h0m0-5h0m0 2h0m-1 0h0m-1 3h0m-1-4h0m0 2h0m-1-1h0m0 3h0m0-5h0m-1 1h0m-1 3h0m0 1h0m-1-3h0m0 1h0m-1 2h0m0-1h0m-1-4h0m0 2h0m-1-1h0m0 2h0m0 2h0m0-5h0m0 2h0m-2 2h0m0-3h0m0-1h0m-1 3h0m-1 1h0m0-1h0m0 2h0m0-5h0m0 2h0m-1 2h0m0-3h0m0 2h0m0 2h0m-1-3h0m0 2h0m0-1h0m-1-2h0m0-1h0m0 4h0m-1-1h0m0 2h0m0-5h0m-1 0h0m0 2h0m0 2h0m-1-4h0m0 4h0m0-1h0m-2 1h0m0-3h0m0-1h0m-1 1h0m0-1h0m0 4h0m-1-4h0m0 2h0m0 3h0m-1-5h0m0 1h0m-1 0h0m-1 2h0m-1 2h0m0-5h0m-1 5h0m-1-4h0m0 4h0m-1-1h0m-1-2h0m-1 1h0m-1-1h0m0-1h0m-1 1h0m0 2h0m0 1h0m-1-4h0m-1 3h0m0-1h0m0 2h0m-1-5h0m0 2h0m-1-2h0m0 5h0m-1-1h0m0-3h0m0 4h0m0-3h0m-1 2h0m-1 1h0m0-1h0m-1 0h0m0-1h0m-1 0h0m0 2h0m-1-4h0m0 2h0m-1-1h0m0-1h0m-1 1h0m-1 2h0m0-3h0m0 2h0m0-3h0m-1 5h0m0-4h0m0 2h0m-1-3h0m0 2h0m0-1h0m0 4h0m-1-2h0m0-2h0m-1 4h0m0-5h0m-1 1h0m-1 1h0m0 2h0m0-3h0m0 2h0m0-3h0m-1 3h0m-1 0h0m-1-3h0m-1 5h0m0-5h0m0 1h0m-1 4h0m-1-1h0m-1-3h0m-1 0h0m-1 4h0m0-5h0m0 2h0m0 2h0m-1-3h0m0-1h0m-1 2h0m0 3h0m-1-4h0m-1-1h0m0 3h0m-1-3h0m0 4h0m0-1h0m-3-2h0m-1 0h0m0-1h0m0 2h0m0 2h0m-1-2h0m0 2h0m-3-3h0m0 2h0m-1-2h0m-2 0h0m-2-1h0m0 4h0m-1-1h0m-1-3h0m0 4h0m-1-3h0m-1 2h0m-1 0h0m-1 2h0m-1 0h0m-1 0h0m0-4h0m-1 1h0m-1-1h0m0-1h0m-2 1h0m-1-1h0m0 3h0m-1-2h0m-1 3h0m-2-1h0m-1-2h0m-4 0h0m-2 1h0m0 2h0m-2 1h0m0-4h0m-1 2h0m0-3h0m-3 5h0m-1 0h0m0-5h0m-1 0h0m-2 5h0m0-2h0m-2 2h0m0-1h0m-54 7h0m43 0h0m1-2h0m2-2h0m3 3h0m2-2h0m1-1h0m1 0h0m0 2h0m1 0h0m1 0h0m0-3h0m2 0h0m1 5h0m3-1h0m1-2h0m2-1h0m0-1h0m1 0h0m1 0h0m0 4h0m0-3h0m1 0h0m0 4h0m1-3h0m1 1h0m0-1h0m3-1h0m0 4h0m1-5h0m2 4h0m1-1h0m1-2h0m0 2h0m1-3h0m0 4h0m0-3h0m1 1h0m2 1h0m2-2h0m0 4h0m0-1h0m2-1h0m0-3h0m0 4h0m1-3h0m0 2h0m2 1h0m3-3h0m0 4h0m2-5h0m2 1h0m0 2h0m0 1h0m1 1h0m0-3h0m1 2h0m1-1h0m0 2h0m0-3h0m2-1h0m0 1h0m1-2h0m0 2h0m3 1h0m0-3h0m0 2h0m1 0h0m1 3h0m1-2h0m1-2h0m0 2h0m0 2h0m1-2h0m0 2h0m0-1h0m2-1h0m1 1h0m0-1h0m0 2h0m1 0h0m0-3h0m1-2h0m2 5h0m0-3h0m1 3h0m1 0h0m0-3h0m1 1h0m0 2h0m0-1h0m1-1h0m0 1h0m1-4h0m0 4h0m0-1h0m1 2h0m0-1h0m2-4h0m1 1h0m0 2h0m0-3h0m0 4h0m1-1h0m0-3h0m0 4h0m1-2h0m0-1h0m0 4h0m1-1h0m1-4h0m0 2h0m1-1h0m0 4h0m0-5h0m0 4h0m1-4h0m1 0h0m0 4h0m1 0h0m0-3h0m0 4h0m0-3h0m1-1h0m0 2h0m0 1h0m2-3h0m0 2h0m0 2h0m1-4h0m0-1h0m0 2h0m1-2h0m0 2h0m0-1h0m1 2h0m1-2h0m1 3h0m1-3h0m0 4h0m1-3h0m1 0h0m0 2h0m1-3h0m0-1h0m1 1h0m0 3h0m1-1h0m1 2h0m0-5h0m1 5h0m1-1h0m1-4h0m0 4h0m0 1h0m1-5h0m0 2h0m1 3h0m1 0h0m1-4h0m0 1h0m0 2h0m1-2h0m0 2h0m0-3h0m0 2h0m1 1h0m0-3h0m1 4h0m0-1h0m1-4h0m0 4h0m1-1h0m0-3h0m0 2h0m0 2h0m1-4h0m1 2h0m0 2h0m1 0h0m0-1h0m0 2h0m2 0h0m0-5h0m1 0h0m0 4h0m0-3h0m1 0h0m0-1h0m1 2h0m0-1h0m1 2h0m0-3h0m0 2h0m2 2h0m2-4h0m1 3h0m1 0h0m0-3h0m0 2h0m0 2h0m1-4h0m0 2h0m0 2h0m0-3h0m0 2h0m0 2h0m1-5h0m0 1h0m1 4h0m0-1h0m0-3h0m0 2h0m2 2h0m0-3h0m0 2h0m0-3h0m1-1h0m0 1h0m1 3h0m0-1h0m0-3h0m0 2h0m1 3h0m0-5h0m0 4h0m1 1h0m1-5h0m0 2h0m1 2h0m1 1h0m0-3h0m0 1h0m2-1h0m1-2h0m1 4h0m0 1h0m2-3h0m1 0h0m1-2h0m1 0h0m-3 7h0m-2 4h0m-3-2h0m0 2h0m0-3h0m-1-1h0m0 2h0m0-1h0m0 2h0m-1-3h0m0 4h0m-2-3h0m-1-1h0m0 4h0m0-3h0m-1 1h0m-1 0h0m0-3h0m0 2h0m0 2h0m-1 0h0m0-3h0m0 2h0m-1-2h0m0-1h0m0 2h0m-1 3h0m0-5h0m0 4h0m-1-1h0m0-3h0m0 2h0m-1 1h0m0-2h0m-1 0h0m0 1h0m-1-1h0m-1 0h0m0 2h0m-1 2h0m0-3h0m0 1h0m-1 1h0m0-3h0m0 1h0m-1-1h0m0 2h0m0-3h0m-1 5h0m-1-2h0m0-3h0m-1 3h0m0-3h0m-1 0h0m0 2h0m-1 2h0m0-1h0m0-3h0m-1 1h0m0-1h0m0 4h0m-1-2h0m0-1h0m0 2h0m-1-2h0m-1 4h0m0-5h0m0 4h0m-1 1h0m0-1h0m-1-1h0m0-3h0m-2 1h0m0 1h0m-1-1h0m0 2h0m0-3h0m-2 4h0m0-3h0m0 4h0m-1-3h0m0 2h0m0-3h0m0 4h0m0-5h0m-1 2h0m0 2h0m0-3h0m-1 4h0m0-5h0m0 4h0m-2 1h0m0-3h0m-1-1h0m-1 1h0m0 3h0m-1 0h0m0-5h0m-1 4h0m0-3h0m-1 2h0m-1-3h0m0 2h0m0-1h0m-1 0h0m-1 0h0m0 2h0m0-3h0m-1 5h0m0-3h0m0 2h0m-1-1h0m0 2h0m0-3h0m-1 1h0m-1-1h0m0 2h0m0-1h0m0-3h0m-1 0h0m0 2h0m-1 3h0m0-5h0m-1 0h0m0 4h0m0-3h0m0 2h0m0 2h0m-1-1h0m0-1h0m-1 1h0m0-3h0m0 4h0m0-5h0m-1 5h0m0-3h0m0-1h0m-1 0h0m0 2h0m0 1h0m-1-4h0m0 4h0m0-3h0m-1 3h0m0-2h0m-1-2h0m0 1h0m-1 3h0m0 1h0m-3-2h0m0 2h0m-1-3h0m-2-2h0m-1 0h0m-1 4h0m-1-2h0m0 2h0m-1-2h0m0 3h0m-1 0h0m0-5h0m-1 2h0m0 1h0m-1-3h0m0 4h0m-2-2h0m0 3h0m-1-1h0m-1 0h0m-2-1h0m-1-3h0m0 2h0m0 2h0m-1 0h0m0-3h0m0 2h0m-1-1h0m0-1h0m-1 3h0m0-3h0m-1 2h0m-1-3h0m-1 0h0m0 4h0m-2-2h0m0-1h0m0 4h0m-1-4h0m0 2h0m-2-1h0m-1 3h0m0-5h0m-1 3h0m-1-3h0m0 3h0m-2 1h0m0 1h0m0-5h0m-1 0h0m0 1h0m-1 1h0m0 2h0m0 1h0m-1-1h0m-1-1h0m0 2h0m-1-4h0m-1 1h0m0 3h0m-2-5h0m0 5h0m-2-3h0m0 1h0m-1 0h0m-2-3h0m0 4h0m0-1h0m0 2h0m-1 0h0m0-1h0m-2 1h0m-1-5h0m-1 5h0m-2-5h0m-1 2h0m-2 2h0m-1-4h0m-3 2h0m-1 0h0m0 3h0m-1 0h0m0-3h0m0-1h0m-1 0h0m-1-1h0m0 4h0m0-3h0m-3 2h0m-3-3h0m-1 5h0m-2 0h0m0-5h0m0 3h0m-1-3h0m-1 3h0m-2-1h0m-2 2h0m-1-2h0m-1 2h0m0-3h0m-1 2h0m-2 2h0m-1 0h0m-3-1h0m-22 1h0m-14-2h0m-50 4h0m24 1h0m6-1h0m18 4h0m4-1h0m3-4h0m5 5h0m14-1h0m2-2h0m9-1h0m4-1h0m2 5h0m0-1h0m1-1h0m2-2h0m1 3h0m3 0h0m1-3h0m1 2h0m3 2h0m0-3h0m1 0h0m1 2h0m4-3h0m1 1h0m1-2h0m2 5h0m3-3h0m1 1h0m2-2h0m0 2h0m1-2h0m0 2h0m0-3h0m2 0h0m0 2h0m1-2h0m2 1h0m0 4h0m0-5h0m1 0h0m0 2h0m0 2h0m1-4h0m0 2h0m0 2h0m2 0h0m1-1h0m0 2h0m1-4h0m2 4h0m1-1h0m1-4h0m0 2h0m2 2h0m2-3h0m1 3h0m0-3h0m0 4h0m1-5h0m0 4h0m1-3h0m1 0h0m0 2h0m1 1h0m3-2h0m2-2h0m0 4h0m2-2h0m0 3h0m2-2h0m0-3h0m0 2h0m0 2h0m2 1h0m0-5h0m0 4h0m1 1h0m0-1h0m1 1h0m1-4h0m1 0h0m0-1h0m0 2h0m1-2h0m0 5h0m1 0h0m1 0h0m0-1h0m1-3h0m0 4h0m1-3h0m2-1h0m0 2h0m0 2h0m2-2h0m0-3h0m1 5h0m0-3h0m1 2h0m0 1h0m1-4h0m0 2h0m0-3h0m0 4h0m1-3h0m0 2h0m0 2h0m0-3h0m0 2h0m1 0h0m1-1h0m0 1h0m0-3h0m1 2h0m1-2h0m0 1h0m1 1h0m0 2h0m1-1h0m1-2h0m0-1h0m1 2h0m0-3h0m2 0h0m0 2h0m1 3h0m0-4h0m1 0h0m1 1h0m1 1h0m0 2h0m0-5h0m0 4h0m1-1h0m0-1h0m0 2h0m1 1h0m1-2h0m0 2h0m0-5h0m1 2h0m0-1h0m0 2h0m0 2h0m1-4h0m0 2h0m0 2h0m0-3h0m1 3h0m1-2h0m1-2h0m0 2h0m0-1h0m0 2h0m1-3h0m1 3h0m0-3h0m0 2h0m1 2h0m0-4h0m1 4h0m0-3h0m0 2h0m1-1h0m0 2h0m0-4h0m1 3h0m0-4h0m1 5h0m1-4h0m0 2h0m0 1h0m1-2h0m0 2h0m0-1h0m1 0h0m0 2h0m0-5h0m2 1h0m0 2h0m0 2h0m1-5h0m1 5h0m0-4h0m1-1h0m0 2h0m1 1h0m0 2h0m0-3h0m0 2h0m1 0h0m1-3h0m0-1h0m0 2h0m1 2h0m0-3h0m1-1h0m0 2h0m0 2h0m1-1h0m1-3h0m0 4h0m1-2h0m0-1h0m1 2h0m1 1h0m0-3h0m1 4h0m1-2h0m0-1h0m1 3h0m1-5h0m1 0h0m0 4h0m0 1h0m1-2h0m1-1h0m0 2h0m0-1h0m1 2h0m1-1h0m0 1h0m1-5h0m0 5h0m1-5h0m1 2h0m0 2h0m0-1h0m1 2h0m1-5h0m1 4h0m0-1h0m0 2h0m1 0h0m0-3h0m1 2h0m1-4h0m0 3h0m1 2h0m0-4h0m1 2h0m0 2h0m1-5h0m1 0h0m1 4h0m-1 3h0m0-1h0m-4 5h0m-2-2h0m0-3h0m-1 0h0m0 5h0m-1-3h0m0 2h0m-1-1h0m-1 2h0m-1-3h0m-1-1h0m0 3h0m-1 1h0m0-5h0m0 4h0m-1-4h0m-1 3h0m-1 0h0m0-1h0m-1 3h0m0-1h0m-1-2h0m0 1h0m0 2h0m-1 0h0m0-1h0m-1-2h0m0 2h0m0-3h0m0 2h0m-1-3h0m0 2h0m-1-1h0m0 2h0m0 2h0m0-3h0m-1 3h0m0-5h0m0 2h0m0 2h0m-1-3h0m0 4h0m-1-5h0m-1 3h0m-1 1h0m0-1h0m0 2h0m-1-3h0m-1 1h0m-1-1h0m0 2h0m0-1h0m-1-2h0m0 1h0m-1-1h0m0 2h0m-1 2h0m0-3h0m-1 0h0m-1 3h0m-1-4h0m-1 3h0m0-3h0m0 4h0m0-5h0m-1 1h0m0 4h0m0-5h0m-1 0h0m-1 3h0m0-3h0m0 2h0m0 2h0m-1-3h0m-1 0h0m0 1h0m-1-1h0m0 1h0m-1-2h0m0 4h0m-1-1h0m-1 1h0m0-1h0m0-1h0m-2-1h0m0 2h0m0-1h0m-1-1h0m-1 1h0m-1-2h0m-1 1h0m0 4h0m0-3h0m-1-2h0m-1 2h0m0 2h0m0-4h0m-1 2h0m0 2h0m0-3h0m0-1h0m-1 2h0m0-1h0m-1 0h0m-1 4h0m-1-5h0m-1 4h0m-1 1h0m-1 0h0m0-5h0m0 4h0m-1-4h0m-1 2h0m0 2h0m0-3h0m-1 0h0m-1 1h0m0-1h0m-1 1h0m-1 0h0m0 1h0m-1-1h0m0-1h0m-1 4h0m-1 0h0m-1-1h0m-1-4h0m0 1h0m-1-1h0m0 2h0m-1-2h0m0 4h0m-2-4h0m0 2h0m0 2h0m-1-4h0m-2 1h0m-3 2h0m-1 0h0m-1 1h0m0-3h0m-1 2h0m0-3h0m-3 1h0m-1-1h0m-1 2h0m0-2h0m-2 0h0m0 2h0m-1 0h0m0 2h0m-1-4h0m-2 4h0m0 1h0m-1-1h0m-2-2h0m0-2h0m-4 5h0m-1-3h0m-1 0h0m-1-1h0m0 2h0m-1-3h0m0 4h0m-2-4h0m0 1h0m-1 0h0m0 4h0m-1-3h0m-1 2h0m-1 0h0m0-4h0m-1 5h0m0-4h0m0 2h0m-1 1h0m-1-3h0m-1 1h0m-7 1h0m-1-3h0m-1 4h0m-1-2h0m0-1h0m0 2h0m-1 1h0m0 1h0m-1 0h0m-1-2h0m-3-2h0m-1-1h0m-1 0h0m-1 1h0m-1 4h0m0-3h0m-2 0h0m-1-2h0m0 5h0m-1-4h0m-1 0h0m-1 2h0m-3-2h0m-1 2h0m-1-3h0m0 4h0m0 1h0m-1-5h0m0 2h0m0 1h0m0 2h0m-2-5h0m-1 2h0m-1 2h0m0-1h0m-2-1h0m-1-1h0m-1 0h0m-12 3h0m-4-4h0m-1 5h0m-1-5h0m-2 2h0m-6 0h0m0 3h0m-5 0h0m-6-2h0m-4 0h0m-2 0h0m-2 0h0m-10-1h0m-1-1h0m0 2h0m18 6h0m7-1h0m5 0h0m1-1h0m5-1h0m0 1h0m3 1h0m1-2h0m9 5h0m11-2h0m3-2h0m0-1h0m1 1h0m1-1h0m0 2h0m1 1h0m1-2h0m0 2h0m1-2h0m0 3h0m1-3h0m0 4h0m0-3h0m1 0h0m1-1h0m0-1h0m0 2h0m1 3h0m1-4h0m0-1h0m1 3h0m0 1h0m2-4h0m1 1h0m0-1h0m1 3h0m1 2h0m0-5h0m1 1h0m0-1h0m2 4h0m3-4h0m1 4h0m2-1h0m1 1h0m1-3h0m0 3h0m3-3h0m1 4h0m2-4h0m2 4h0m1-4h0m0 1h0m2-1h0m0-1h0m2 5h0m1-4h0m1-1h0m0 2h0m0-1h0m1 0h0m1 0h0m0 2h0m3-1h0m0 1h0m0 2h0m1-2h0m3 0h0m0 2h0m0-1h0m1-4h0m0 5h0m1-2h0m5 1h0m0-3h0m1 3h0m1 0h0m2-1h0m0 2h0m1-2h0m0-3h0m0 1h0m1 3h0m1-2h0m0-1h0m1 0h0m1 2h0m1-2h0m0 2h0m1 2h0m0-5h0m1 5h0m1-1h0m1-4h0m0 2h0m0 2h0m0-3h0m1-1h0m1 1h0m0 1h0m2-2h0m1 4h0m0 1h0m1-3h0m0 2h0m1-1h0m0-1h0m0 2h0m1 1h0m0-5h0m1 1h0m1-1h0m0 2h0m0-1h0m1 0h0m1 2h0m1 2h0m0-3h0m0 2h0m1-4h0m0 2h0m2 1h0m0 2h0m0-3h0m0-1h0m1 0h0m0 3h0m1-1h0m0 2h0m1-3h0m0-1h0m1-1h0m0 4h0m1-1h0m0-3h0m0 2h0m1-2h0m0 1h0m2 4h0m0-3h0m1-2h0m0 2h0m1-1h0m0 3h0m1 1h0m0-5h0m0 4h0m1 1h0m0-5h0m1 5h0m0-1h0m0-3h0m1 2h0m0 2h0m0-5h0m1 3h0m0-3h0m0 4h0m2-2h0m0 2h0m0-1h0m0 2h0m1 0h0m0-1h0m0-1h0m1 1h0m0-1h0m0 2h0m1-3h0m0-1h0m1 1h0m0-1h0m1 4h0m0-4h0m1-1h0m0 2h0m0 1h0m1 0h0m0 2h0m0-1h0m1-4h0m1 5h0m0-4h0m1 1h0m1-2h0m0 2h0m1-1h0m0 2h0m0-1h0m0 2h0m1-4h0m0 2h0m0 1h0m0 2h0m1-4h0m1 1h0m1 2h0m0-3h0m1-1h0m0 4h0m1-2h0m0 2h0m0-3h0m1 4h0m0-3h0m0 2h0m0-3h0m1 2h0m0-3h0m0 2h0m0 2h0m1-2h0m0-1h0m1 1h0m0 2h0m1 1h0m0-5h0m1 3h0m0-3h0m1 0h0m1 0h0m1 3h0m0 2h0m1-1h0m0-3h0m1 1h0m0 3h0m1-5h0m0 1h0m0 2h0m1 2h0m1-5h0m0 2h0m0 1h0m1-2h0m0-1h0m1 0h0m0 4h0m1-1h0m0-3h0m0 1h0m1-1h0m0 2h0m0-1h0m0 4h0m2-2h0m1-1h0m1 3h0m0-3h0m1-2h0m2 3h0m2-2h0m1 2h0m-8 6h0m-2-3h0m0 1h0m0 2h0m-1-1h0m-2 0h0m-1-1h0m-1 2h0m0-3h0m-1 0h0m0 1h0m-1 2h0m0-3h0m0 4h0m-1-1h0m0-1h0m-1 3h0m-1 0h0m0-5h0m0 4h0m-1 1h0m-1-4h0m0 2h0m-1-2h0m-1 0h0m0 2h0m0-3h0m0 4h0m-1-2h0m-1 3h0m-2-4h0m0 4h0m0-5h0m-1 5h0m0-1h0m-1-2h0m-1 0h0m0 2h0m-1 0h0m0-3h0m-1 2h0m0 2h0m0-3h0m-2 2h0m0-3h0m-1 0h0m0 1h0m-1 3h0m0-1h0m-1 1h0m-1-2h0m-1-3h0m0 5h0m-1-2h0m-1-1h0m-1 3h0m-1-3h0m0 2h0m0-3h0m0 2h0m-1-3h0m-1 4h0m0-3h0m-1 2h0m-1 1h0m0-3h0m0-1h0m-2 3h0m0-1h0m-1-1h0m0 2h0m-1-3h0m0 2h0m0 2h0m-2 1h0m0-5h0m-1 2h0m0 2h0m0-3h0m0 4h0m-1-2h0m0-1h0m-1-2h0m-1 5h0m0-5h0m-1 3h0m0-3h0m-1 2h0m0 2h0m0-3h0m-1 1h0m0 3h0m0-5h0m-1 1h0m0 2h0m0-3h0m0 2h0m-1 1h0m0-3h0m0 2h0m-1 2h0m0-1h0m0 2h0m-1-3h0m0 2h0m-1-3h0m0 2h0m0 2h0m0-5h0m-1 0h0m-1 4h0m-1-3h0m-1 0h0m-1 0h0m0-1h0m0 2h0m0 2h0m-1 0h0m0-3h0m-1 3h0m0-3h0m0 2h0m-1 0h0m-2-2h0m0 2h0m-2-3h0m-2 0h0m0 3h0m-2-2h0m0 4h0m-2-3h0m-1 1h0m0-3h0m-1 5h0m-1-3h0m-1-1h0m0 2h0m-1-2h0m0 2h0m-2 2h0m-1-1h0m-1-3h0m-2 2h0m0-3h0m0 2h0m0-1h0m-1 4h0m0-5h0m-1 4h0m-2 1h0m-1-1h0m0 1h0m-1 0h0m0-5h0m-1 2h0m-1-1h0m-1 1h0m0 2h0m-1-4h0m-1 3h0m-1 0h0m0 2h0m0-3h0m-1-2h0m0 1h0m-1 0h0m0 2h0m0-1h0m-1-2h0m0 2h0m0 3h0m-2-2h0m0-3h0m-3 0h0m0 5h0m-1-3h0m-1 2h0m0-4h0m-1 4h0m-1-4h0m0 1h0m-1 1h0m-1 0h0m0-1h0m0 2h0m-1-3h0m0 3h0m-1 0h0m0 2h0m-1-3h0m-1 2h0m0-1h0m-1 2h0m-2-4h0m-1 1h0m0 1h0m-1 1h0m0-1h0m-1 2h0m-1-1h0m-1-4h0m-1 2h0m0 2h0m-3 1h0m0-5h0m-2 3h0m0 2h0m-2-2h0m-1-2h0m-1 2h0m-1-1h0m0-1h0m-1 1h0m-2 0h0m7 7h0m1-2h0m1-1h0m4 2h0m0 2h0m0-1h0m1-1h0m2-1h0m1 0h0m1 0h0m0 4h0m1-4h0m0 2h0m1 2h0m1-3h0m0 2h0m0-3h0m0 4h0m2-4h0m1 0h0m0 1h0m0 2h0m1-1h0m1 0h0m1-2h0m0 1h0m2-1h0m0 2h0m0-3h0m0 4h0m2-3h0m0 3h0m1-3h0m2 0h0m0 2h0m3 2h0m0-5h0m2 1h0m1 1h0m1 1h0m2-3h0m2 4h0m2 1h0m0-3h0m1-1h0m0 2h0m0 2h0m0-5h0m1 1h0m1 4h0m0-4h0m1 2h0m1-1h0m0 2h0m1-4h0m1 3h0m6-3h0m0 2h0m3 3h0m0-5h0m1 4h0m1-2h0m0-1h0m1-1h0m1 0h0m1 3h0m1 2h0m0-5h0m1 0h0m0 4h0m0-3h0m0 4h0m1 0h0m1-5h0m0 2h0m1-2h0m1 3h0m1-3h0m1 1h0m0 2h0m1 0h0m0 2h0m1 0h0m1-5h0m1 5h0m1-2h0m0-1h0m2 0h0m0-1h0m1 1h0m1 0h0m0-1h0m1-1h0m0 2h0m0-1h0m2 0h0m1-1h0m0 2h0m0-1h0m0 4h0m1-5h0m1 4h0m0-4h0m1 5h0m2 0h0m0-1h0m2 1h0m0-1h0m0-3h0m1-1h0m1 0h0m0 1h0m0 2h0m1-1h0m0 2h0m0-3h0m1 1h0m0-1h0m0 2h0m0 2h0m1 0h0m1-5h0m0 5h0m1-5h0m0 2h0m1 0h0m0 1h0m1-1h0m0 2h0m2-4h0m2 4h0m1-1h0m0 2h0m0-5h0m1 0h0m0 2h0m1 0h0m1 0h0m0-1h0m1 4h0m0-5h0m1 0h0m1 1h0m0 4h0m1-2h0m0-3h0m1 0h0m0 3h0m1-3h0m1 0h0m0 3h0m1 0h0m1 0h0m0-2h0m1 1h0m3-1h0m2 2h0m6-3h0m-14 7h0m-1-1h0m-1 1h0m0-1h0m-1 4h0m0-1h0m-1-2h0m0 2h0m-2-3h0m-1 1h0m0 1h0m-1 2h0m-1-3h0m0 2h0m0-3h0m0 2h0m-2 0h0m-2-2h0m-1 3h0m0-3h0m-1 1h0m0 1h0m-1 1h0m-1-2h0m0-1h0m0 2h0m-1-2h0m-1 1h0m0 1h0m-1 0h0m0 2h0m0-1h0m-2 2h0m-1-4h0m0 2h0m-1-3h0m-2 1h0m0-1h0m-1 0h0m-2 2h0m-2-2h0m0 4h0m-1-2h0m-1 2h0m0-3h0m0 1h0m-1-1h0m0 2h0m-1 0h0m-1 2h0m-1-1h0m-1-1h0m-1-2h0m0-1h0m-1 2h0m0 1h0m0 2h0m-2-5h0m0 2h0m-1 0h0m0 2h0m-1-4h0m-1 4h0m-2-3h0m-3 3h0m0-1h0m0 2h0m-1-5h0m-2 5h0m-2-3h0m0 2h0m0-3h0m0 2h0m0 2h0m-2-1h0m-1-1h0m-1 1h0m-1 0h0m0-3h0m-1 3h0m0-3h0m0 4h0m-1 0h0m0-5h0m-1 5h0m-1-1h0m0-4h0m0 2h0m-1-2h0m0 5h0m-1-4h0m0-1h0m-1 2h0m0 1h0m-2 1h0m0 1h0m-2-4h0m0-1h0m-1 0h0m-1 0h0m-2 0h0m-2 0h0m-1 1h0m0 4h0m-1-4h0m-1-1h0m0 5h0m-2 0h0m-1-1h0m0-2h0m-1-2h0m0 5h0m-1-3h0m0 2h0m-1-1h0m-1-2h0m0-1h0m-2 1h0m-1 2h0m0-3h0m0 2h0m-1 0h0m0-1h0m-3-1h0m0 4h0m-1-2h0m-1 1h0m0-3h0m-1 3h0m0-3h0m8 7h0m1-1h0m1 3h0m5 0h0m0-1h0m3-1h0m0 1h0m0 2h0m1-4h0m1 1h0m1 0h0m1-1h0m1 0h0m0 3h0m1-1h0m1 3h0m0-5h0m0 1h0m2-1h0m1 3h0m0-3h0m2 0h0m1 2h0m1-2h0m1 1h0m1 2h0m5 2h0m0-5h0m2 1h0m1 2h0m1-1h0m1-2h0m1 2h0m1-2h0m0 3h0m2 1h0m0-1h0m1-2h0m0 2h0m1-1h0m1 2h0m1-4h0m0 1h0m1-1h0m0 3h0m1-2h0m1-1h0m1 3h0m0-1h0m1-2h0m0 2h0m1 1h0m1 1h0m1-2h0m1 0h0m2-2h0m1 3h0m1-1h0m2 0h0m1 0h0m1-1h0m1-1h0m0 3h0m2 0h0m0-3h0m2 1h0m5 0h0m1 1h0m5-2h0m7 0h0m-30 7h0m-7-1h0m-6 1h0m-3-1h0m-1 0h0" transform="scale(.5)" fill="none" stroke="#fde725" stroke-width="2.3" stroke-linecap="round" opacity="0.92"/>
<path d="M567 633h0m0 2h0m-6-2h0m-1-1h0m-1 2h0m-1-3h0m0 4h0m0-1h0m-1 1h0m-3-1h0m-1 1h0m0-1h0m-4-1h0m-1-2h0m0 3h0m-3 6h0m0-1h0m1 2h0m1-5h0m2 0h0m0 4h0m3-4h0m1 5h0m2-4h0m1 2h0m0 2h0m0-5h0m0 4h0m2-1h0m0-1h0m2 0h0m0 2h0m0-1h0m1 2h0m1-1h0m1-2h0m0 2h0m0-3h0m0 2h0m1-3h0m0 4h0m1-3h0m0 2h0m1-3h0m0 2h0m0 2h0m0-3h0m0 4h0m1 0h0m1 0h0m0-5h0m1 5h0m0-5h0m1 5h0m0-5h0m0 4h0m0-1h0m1-1h0m0 2h0m0-1h0m0 2h0m2-1h0m0 1h0m3-5h0m0 1h0m0 4h0m1-2h0m0 2h0m1-5h0m1 3h0m1-1h0m0 3h0m2 0h0m1-2h0m0-1h0m0 2h0m1-3h0m2 4h0m13 5h0m-5-3h0m-2 3h0m0-1h0m-2 2h0m-3-4h0m0-1h0m0 2h0m0 2h0m-1-3h0m-1 2h0m0 2h0m-1-1h0m-1 1h0m-1-2h0m0 2h0m-1-5h0m0 2h0m-1 0h0m0-1h0m-1 2h0m0-3h0m-2 3h0m-1-2h0m0 1h0m-1-1h0m-2 0h0m-3 4h0m-1-5h0m0 2h0m0 2h0m-1-2h0m0 2h0m-2-3h0m0 4h0m0-3h0m0 2h0m-1-4h0m-2 0h0m-1 3h0m0 2h0m-1-3h0m0 2h0m-1-3h0m0 3h0m-1-1h0m0-3h0m0 2h0m-1 1h0m-1-2h0m0-1h0m-1 4h0m0-4h0m-1 1h0m-1 1h0m-3-1h0m-1-1h0m0 4h0m0-3h0m-1-1h0m-1 5h0m-1-4h0m0 4h0m0-3h0m-1 1h0m0-3h0m0 2h0m0 2h0m-1-2h0m-2 0h0m-1 1h0m0 2h0m-1-3h0m-7 9h0m2 0h0m2-4h0m0 2h0m1 0h0m0-1h0m2 1h0m1 2h0m0-5h0m1 3h0m1-2h0m0-1h0m0 2h0m0 2h0m1 1h0m1-1h0m1 0h0m1-3h0m0-1h0m1 4h0m0-3h0m1 2h0m2-2h0m0 2h0m1-1h0m1 0h0m1 0h0m1-2h0m0 2h0m0-1h0m0 2h0m1-1h0m0-2h0m1 0h0m0 4h0m0-1h0m1-3h0m0 2h0m0 2h0m1-3h0m0 2h0m0 2h0m2-5h0m0 1h0m1 2h0m1 1h0m1 1h0m1-1h0m2 0h0m1-2h0m1 0h0m0 3h0m1-3h0m2 1h0m1-1h0m0-1h0m1 1h0m0 2h0m1-4h0m0 4h0m0-3h0m0 4h0m1-2h0m1-2h0m0 4h0m1-3h0m0 3h0m1-4h0m0 2h0m0-3h0m0 4h0m1-2h0m1 1h0m0-3h0m1 2h0m0-1h0m0 2h0m1 2h0m0-5h0m1 1h0m1 4h0m2-1h0m0-1h0m1 0h0m0 2h0m1-5h0m0 1h0m1 3h0m0-1h0m0-3h0m1 0h0m0 4h0m0-3h0m0 2h0m1-2h0m0 2h0m1-1h0m0-2h0m1 4h0m0-3h0m0 4h0m0-5h0m2 5h0m1-1h0m3-2h0m2 1h0m8 8h0m-2 0h0m-5-3h0m-2 3h0m0-1h0m0-1h0m-1 0h0m0 2h0m-1-5h0m0 2h0m0 2h0m-1-4h0m-1 5h0m-1 0h0m0-5h0m0 4h0m-1-1h0m0 2h0m0-5h0m0 4h0m-1-3h0m-1 2h0m0 2h0m-2-4h0m0 2h0m0 2h0m0-3h0m-1 3h0m0-4h0m-1 0h0m0 4h0m0-5h0m-1 0h0m0 2h0m0-1h0m0 2h0m-1 0h0m0 1h0m-1-2h0m0 2h0m-1 1h0m0-3h0m-1 1h0m-2 1h0m0-3h0m-1 2h0m0-3h0m-1 2h0m-1-1h0m0-1h0m-2 2h0m0-1h0m0 4h0m-2-2h0m0 1h0m-2 1h0m0-3h0m-1-2h0m0 4h0m-1-4h0m0 2h0m-1-1h0m0-1h0m0 2h0m-1 0h0m-1 3h0m0-5h0m0 2h0m-1-1h0m0 2h0m-1-2h0m-1 4h0m-1-5h0m0 2h0m0 2h0m-1-3h0m0 4h0m0-5h0m-1 3h0m0-1h0m-1 0h0m-1 2h0m-1-4h0m0 4h0m-1-2h0m0 1h0m-1 2h0m-1-2h0m0 2h0m-2-4h0m0 2h0m0-3h0m0 2h0m-1 1h0m0 2h0m-2-2h0m0-1h0m-1-1h0m-1 3h0m-1-3h0m0 4h0m0-5h0m0 4h0m-2-2h0m0-1h0m-1 2h0m0-3h0m0 2h0m-1-1h0m0 2h0m-1 2h0m-1-4h0m-2-1h0m-2 2h0m-1-2h0m0 4h0m0-3h0m0 2h0m0 2h0m-1-1h0m-1 1h0m0-1h0m0-3h0m-1 1h0m-1 3h0m0-3h0m-1 3h0m-5-5h0m-1 3h0m-3 8h0m6-3h0m1 3h0m0-5h0m0 2h0m1 1h0m1-3h0m0 3h0m0 2h0m3-4h0m1 3h0m1-1h0m0-3h0m0 2h0m3-2h0m3 4h0m1-3h0m0 4h0m1-4h0m1-1h0m0 2h0m2 0h0m1 0h0m0-1h0m1 1h0m0 1h0m1 2h0m1-3h0m1 0h0m0 2h0m0-1h0m0 2h0m2-4h0m0 1h0m1-2h0m1 0h0m0 2h0m1 1h0m0 2h0m1-1h0m0 1h0m1-3h0m2 0h0m0-1h0m1 1h0m0 2h0m0-3h0m0 4h0m1-4h0m1 0h0m1 2h0m0-3h0m1 5h0m0-3h0m1 2h0m0-3h0m1-1h0m0 2h0m0 2h0m0-3h0m0 4h0m1-1h0m0-4h0m1 3h0m0-3h0m0 4h0m1 1h0m1-4h0m1 0h0m1 3h0m0-4h0m1 1h0m0 2h0m0 2h0m1-4h0m2-1h0m0 5h0m1-3h0m0 2h0m2-2h0m0 3h0m1-3h0m0 2h0m0 1h0m1-1h0m0-3h0m1 0h0m0 2h0m1-1h0m1-1h0m0 4h0m1-5h0m0 2h0m0 2h0m1-4h0m1 4h0m1 0h0m0 1h0m1-2h0m1-2h0m0 2h0m0-1h0m1 1h0m0-3h0m0 2h0m2 2h0m0-3h0m0 4h0m1-2h0m0-3h0m0 4h0m1-2h0m0-1h0m1 4h0m0-3h0m0 2h0m1 0h0m0-4h0m1 1h0m0-1h0m0 2h0m0 2h0m1-3h0m0-1h0m1 3h0m1-3h0m1 1h0m0 2h0m0 2h0m0-5h0m1 4h0m1 0h0m0-1h0m4-3h0m3 3h0m1-2h0m5 3h0m1 0h0m3-1h0m15 8h0m-6 0h0m-1-1h0m-1 1h0m0-4h0m-2 1h0m-2 1h0m-1 1h0m-2-3h0m-1 3h0m-1 0h0m-1 0h0m-1-2h0m0 2h0m-1 0h0m-1 0h0m0-3h0m-2 2h0m-1 2h0m-1 0h0m-1-1h0m-2-3h0m0 2h0m0 2h0m-1 0h0m0-1h0m0-1h0m-1-2h0m-1-1h0m0 4h0m-1-1h0m-1 2h0m-2 0h0m0-5h0m-1 1h0m-1 3h0m0-3h0m-1 1h0m-1-2h0m0 4h0m-1-2h0m0 1h0m-1-1h0m-1 2h0m0-3h0m-1 2h0m0 2h0m0-5h0m-1 4h0m0-4h0m-1 5h0m0-5h0m0 1h0m0 2h0m-1 0h0m0 2h0m-1-3h0m-1 1h0m0-3h0m0 1h0m-1 2h0m0 2h0m0-5h0m0 4h0m-1 0h0m0-1h0m-1-2h0m0 3h0m-1-1h0m-1 2h0m0-3h0m-1 0h0m0-1h0m-1 2h0m0-3h0m-1 0h0m0 4h0m-1-1h0m-1 2h0m0-5h0m-1 0h0m0 2h0m0-1h0m0 2h0m-1-3h0m0 2h0m0 2h0m-1-2h0m0 3h0m-1-2h0m0 2h0m-1-3h0m0-1h0m-1 4h0m-1-3h0m0 2h0m0-1h0m-1 0h0m0-2h0m-1 1h0m0 1h0m-1 0h0m0 2h0m-1-5h0m0 4h0m-1-1h0m0-3h0m0 4h0m-2 1h0m0-5h0m-2 1h0m0 4h0m-1-3h0m-1-1h0m0 3h0m-1-4h0m-1 0h0m-1 0h0m-1 2h0m0 1h0m-1 2h0m0-5h0m0 2h0m-1-1h0m0 4h0m-1-5h0m-1 2h0m0 1h0m-2 2h0m0-5h0m0 3h0m-1-2h0m-1 2h0m0 1h0m-2-4h0m-1 3h0m0 1h0m-1-3h0m0 3h0m-1-2h0m-1 2h0m-1 1h0m-2-2h0m0-3h0m0 4h0m-1-4h0m-1 4h0m-1-1h0m-1 1h0m-3-3h0m0 2h0m0-1h0m-1 3h0m-1-4h0m-1 0h0m0 2h0m0-3h0m-1 3h0m0 1h0m-3-1h0m-1 2h0m-1-4h0m-1-1h0m-2 2h0m0-1h0m-1 4h0m-2-1h0m-1-4h0m0 5h0m1 1h0m1 5h0m2-4h0m0 4h0m3-1h0m3 1h0m2-4h0m0 2h0m0 2h0m3-5h0m2 3h0m2-3h0m0 2h0m0-1h0m1 1h0m0 3h0m1-2h0m1 2h0m1-4h0m1 1h0m0-1h0m0-1h0m2 3h0m0-3h0m2 4h0m0-3h0m0 1h0m1 3h0m1-1h0m0-1h0m1-3h0m0 5h0m1-2h0m0-3h0m1 4h0m0-3h0m1 2h0m0 1h0m1-2h0m0-1h0m0 2h0m1 2h0m0-3h0m1 2h0m0 1h0m1-2h0m0 2h0m1-3h0m1 3h0m0-5h0m1 4h0m0-1h0m2 0h0m0 1h0m1-2h0m0 1h0m0-3h0m1 2h0m0 1h0m0 2h0m1-3h0m2-1h0m0 2h0m1-3h0m1 4h0m0-3h0m0 4h0m1-1h0m0-4h0m1 4h0m0-1h0m1 2h0m1-5h0m1 2h0m1-1h0m1 3h0m0 1h0m0-3h0m2 0h0m1-2h0m2 0h0m1 4h0m0-3h0m0 2h0m0 2h0m1-4h0m0 2h0m0-1h0m1 2h0m0-3h0m0 2h0m1 2h0m0-5h0m0 2h0m0 2h0m1 1h0m1 0h0m0-5h0m0 2h0m1-1h0m0 4h0m1-4h0m0 2h0m0-1h0m1-2h0m0 2h0m0 1h0m0 2h0m1-3h0m0-1h0m0 2h0m0 2h0m1-2h0m0 2h0m1 0h0m0-1h0m0-1h0m1 0h0m0 2h0m0-5h0m0 2h0m1-1h0m0 2h0m1 0h0m0 2h0m1-3h0m0 2h0m1-3h0m2 1h0m0 3h0m1-5h0m1 5h0m1-1h0m0-3h0m0 1h0m1 2h0m0 1h0m1 0h0m0-5h0m1 0h0m1 1h0m1 4h0m0-1h0m0-3h0m1 1h0m0-1h0m0 2h0m1-1h0m1-1h0m1 3h0m0 1h0m1-2h0m1 1h0m0 1h0m1-2h0m1-2h0m1 0h0m0 4h0m1-1h0m1 1h0m0-5h0m0 2h0m1-1h0m3-1h0m1 4h0m0-2h0m1-1h0m1 2h0m0-3h0m0 2h0m1 1h0m0 2h0m0-4h0m1 2h0m1 1h0m0-3h0m0 2h0m1-2h0m1 0h0m0 4h0m0-3h0m0 2h0m1 1h0m0-3h0m0 2h0m1-1h0m3 1h0m3-4h0m10 4h0m1 0h0m1 1h0m1-1h0m1-1h0m4-1h0m10 3h0m7-1h0m26-1h0m3 2h0m3-3h0m0 2h0m3-2h0m3 2h0m6 1h0m1 0h0m5-4h0m1 4h0m0-3h0m0 2h0m1-3h0m0 3h0m2-1h0m10 1h0m4 7h0m-6-1h0m0 1h0m-1-2h0m-1-1h0m-1 2h0m0-1h0m-1 2h0m-2-1h0m0-4h0m-1 4h0m-2-4h0m0 2h0m0 2h0m-1-2h0m0-1h0m0 4h0m0-5h0m-1 1h0m-1 1h0m0 1h0m-1 0h0m-2-2h0m0 2h0m0 2h0m-1-1h0m-1 1h0m0-3h0m-1-2h0m-1 2h0m-1 2h0m0-3h0m0-1h0m-1 3h0m0-3h0m-1 1h0m0 2h0m0 2h0m0-5h0m-1 4h0m0-1h0m-2 1h0m0-1h0m-1 2h0m-1 0h0m-1-1h0m-1 0h0m-1-1h0m0 2h0m-1-1h0m-1-4h0m0 4h0m-3 0h0m0 1h0m0-5h0m-1 0h0m-1 3h0m-1 1h0m0-4h0m-3 5h0m-4-4h0m-1 3h0m-1-1h0m0 2h0m-1-5h0m0 2h0m-5 3h0m-1-4h0m-1 3h0m-1 0h0m-1 0h0m-2 0h0m0-4h0m-1 4h0m-1-2h0m-2 2h0m-2-3h0m-1 4h0m-1 0h0m-1 0h0m0-5h0m0 2h0m-2 2h0m0 1h0m-3-5h0m0 2h0m-2 3h0m0-1h0m-1 1h0m-1 0h0m-2 0h0m0-3h0m0 2h0m-2 1h0m0-5h0m0 3h0m-2 0h0m-1-1h0m-1-2h0m-1 0h0m0 2h0m-1 0h0m0-2h0m-1 5h0m0-5h0m0 4h0m-1-2h0m0-1h0m-1 2h0m-1 1h0m0-1h0m0 2h0m-1-3h0m0 2h0m0 1h0m-1-4h0m-1 3h0m-1 0h0m0-3h0m0 2h0m-1-1h0m0 1h0m-1 1h0m0 1h0m-1-4h0m0-1h0m-2 4h0m0-3h0m0 4h0m-1-3h0m0 2h0m0 1h0m0-5h0m-1 0h0m0 2h0m0-1h0m-2-1h0m0 5h0m-1-1h0m0 1h0m-1-5h0m0 5h0m-1 0h0m0-5h0m-2 1h0m0 2h0m0-3h0m0 2h0m-1 2h0m0-3h0m-1 3h0m0-1h0m-1-1h0m-2 1h0m0 2h0m-2-5h0m-1 5h0m0-1h0m0-1h0m-1 0h0m0 1h0m0-3h0m-1 3h0m0-3h0m0 1h0m-1 1h0m-1 1h0m0-3h0m-1 4h0m-1 0h0m0-3h0m-1-1h0m-1-1h0m0 4h0m0-3h0m-1-1h0m-4 4h0m0 1h0m-1 0h0m-1-3h0m-1-2h0m0 2h0m0 1h0m-2 2h0m0-3h0m-1 1h0m0-3h0m0 4h0m-1-3h0m0 4h0m0-3h0m0 2h0m-2-1h0m0-1h0m-1 0h0m0 2h0m0-3h0m-1-1h0m0 4h0m-1-4h0m0 1h0m-1 2h0m0 2h0m-1-2h0m0-2h0m-1-1h0m0 1h0m-1 4h0m0-5h0m0 2h0m0 2h0m0-3h0m0 2h0m-1-3h0m-1 1h0m0-1h0m0 4h0m-1-3h0m0 4h0m0-5h0m-2 1h0m-1 2h0m0 2h0m0-5h0m0 1h0m-1 4h0m0-3h0m0 2h0m-1 1h0m0-5h0m0 2h0m0 2h0m0-3h0m-1 0h0m0-1h0m-1 5h0m0-5h0m-1 3h0m-1-3h0m-1 0h0m0 3h0m-1 0h0m0-3h0m-1 3h0m0 2h0m-1-2h0m0 2h0m-1-1h0m0-3h0m-1 2h0m0 2h0m0-5h0m0 2h0m-1 1h0m0-3h0m-1 2h0m0 2h0m-1-2h0m0 2h0m0-3h0m0 2h0m-1 2h0m0-1h0m0-3h0m-1 4h0m0-5h0m0 4h0m-1 0h0m-1-1h0m0 2h0m0-5h0m-1 3h0m0-3h0m0 4h0m0-3h0m-2 3h0m0-1h0m0-3h0m-1 2h0m-1 1h0m-1-3h0m0 2h0m0 2h0m-1 1h0m0-3h0m0 2h0m-1-3h0m0 1h0m0 2h0m-1-1h0m0 1h0m-1-4h0m-1 5h0m-1-3h0m0 2h0m-1 1h0m0-5h0m0 4h0m0-3h0m-1 4h0m-2-2h0m0 2h0m0-5h0m0 4h0m-1-1h0m-1-2h0m-1 2h0m0-1h0m-1 1h0m-1 0h0m-1-3h0m0 2h0m0 2h0m-1 0h0m-1 0h0m0 1h0m-1-5h0m-1 5h0m-2-5h0m0 4h0m-2 0h0m-4-2h0m-1-1h0m0 4h0m0-5h0m-1 2h0m-2 0h0m-3 3h0m-4-3h0m0 1h0m-1-2h0m-4-1h0m-1 0h0m2 8h0m2-1h0m0 1h0m1 1h0m1 1h0m6-1h0m1 2h0m1-1h0m1-3h0m0 2h0m0-3h0m2 2h0m0 2h0m1-1h0m1 1h0m2-3h0m2 1h0m0 3h0m1-3h0m1-1h0m0-1h0m1 4h0m0 1h0m3-3h0m0-2h0m1 2h0m0 1h0m1 1h0m1-1h0m1-2h0m0 2h0m0 2h0m2-1h0m0-1h0m2-3h0m0 4h0m0-1h0m1 1h0m0-1h0m0-1h0m1-2h0m0 2h0m1 3h0m0-1h0m2 1h0m0-5h0m2 2h0m1 2h0m0-3h0m1 4h0m0-3h0m1-1h0m0 2h0m1-3h0m0 2h0m0 2h0m1-4h0m1 0h0m1 5h0m1-3h0m0-1h0m1 1h0m1 2h0m1-3h0m0 2h0m0 2h0m0-3h0m1 2h0m1-1h0m1 1h0m0 1h0m1 0h0m2-4h0m0 2h0m0-1h0m0 2h0m1-3h0m0 1h0m1 1h0m0 2h0m1-1h0m0-3h0m0 1h0m1-1h0m1 0h0m0 1h0m1 2h0m0 1h0m1-4h0m0 2h0m1-3h0m0 4h0m1-1h0m0-3h0m0 2h0m1 3h0m1-4h0m0 4h0m1 0h0m1 0h0m0-5h0m1 3h0m0 1h0m1-4h0m0 2h0m0 2h0m2 0h0m0-3h0m1 3h0m1 1h0m0-5h0m1 2h0m1 2h0m0 1h0m1-4h0m0 2h0m0 2h0m1-2h0m1 0h0m0 1h0m1-4h0m1 5h0m2-4h0m0 2h0m2 0h0m1-3h0m0 4h0m0-3h0m1 2h0m0-3h0m1 3h0m2 2h0m0-1h0m1-3h0m1 3h0m1-3h0m0 4h0m0-5h0m2 1h0m1 4h0m1-2h0m1 0h0m0 2h0m0-5h0m1 1h0m0 3h0m1 1h0m1 0h0m1-4h0m0 2h0m0 1h0m1-1h0m1-2h0m0 3h0m1-3h0m0-1h0m0 4h0m1-4h0m0 3h0m2-1h0m2 2h0m1-4h0m2 5h0m3-5h0m1 5h0m1-2h0m1-3h0m1 5h0m0-5h0m1 2h0m0 2h0m1 0h0m0-1h0m0 2h0m1 0h0m0-5h0m1 0h0m1 0h0m0 1h0m1 0h0m1 1h0m1-1h0m1 3h0m0-3h0m1-1h0m1 2h0m1-1h0m0 2h0m0-1h0m1 2h0m1 1h0m0-5h0m1 0h0m0 4h0m2 0h0m0-1h0m2 1h0m0-3h0m0 1h0m1-1h0m1 4h0m1 0h0m1-5h0m0 4h0m1-2h0m0 2h0m0-1h0m1-3h0m0 2h0m1-2h0m0 4h0m1-1h0m0 1h0m2 0h0m1-2h0m0-1h0m1 1h0m1 3h0m0-3h0m1 0h0m1-1h0m0 1h0m1-1h0m2-1h0m0 1h0m1 3h0m1-4h0m1 5h0m0-3h0m0-1h0m1 4h0m1-2h0m0 1h0m1 0h0m1-3h0m0 2h0m0 2h0m1-2h0m1 0h0m0 2h0m0-3h0m2-2h0m1 2h0m0 2h0m2-2h0m0-1h0m0-1h0m1 5h0m1-4h0m2-1h0m1 3h0m1-3h0m1 5h0m0-5h0m0 1h0m1 4h0m0-2h0m2-1h0m2 0h0m1 3h0m0-1h0m1-2h0m1-2h0m0 4h0m1-3h0m1 4h0m0-1h0m1-4h0m1 2h0m0 1h0m0 2h0m1-1h0m1-1h0m0-3h0m0 2h0m1 3h0m0-5h0m0 1h0m1 4h0m0-2h0m1-1h0m1 3h0m0-3h0m0-1h0m1 4h0m0-4h0m1-1h0m1 0h0m0 1h0m1 2h0m3 1h0m1-1h0m0-1h0m1-2h0m0 3h0m0 2h0m1-2h0m0 2h0m0-5h0m1 2h0m1 0h0m0-1h0m1 1h0m1 3h0m1-3h0m1 0h0m1 3h0m0-5h0m1 4h0m0 1h0m1-2h0m2 2h0m0-3h0m1 2h0m1-3h0m1 2h0m0 2h0m1-2h0m1 0h0m0-3h0m2 3h0m2 0h0m1 1h0m2-1h0m0 2h0m3-4h0m1 3h0m0-3h0m1-1h0m4 8h0m-3 0h0m0-1h0m-3 2h0m0-1h0m0 2h0m-1-3h0m0 4h0m0-1h0m-2-4h0m0 4h0m-1-3h0m0 4h0m0-3h0m-4 3h0m-1-3h0m-1 3h0m-1-3h0m-2-1h0m0 2h0m-1 1h0m0-3h0m-1-1h0m0 4h0m-1 1h0m0-1h0m-1-3h0m0 4h0m0-3h0m0 2h0m-1 0h0m-1 0h0m0 1h0m-1-4h0m0 3h0m-1-4h0m-1 5h0m0-4h0m-1-1h0m0 2h0m-1 1h0m0-1h0m0 2h0m-1-4h0m0 2h0m-1 0h0m0 1h0m-1 1h0m0 1h0m-1-1h0m0-2h0m-2 2h0m0-4h0m0 2h0m-1 0h0m-1 2h0m-1-1h0m0-3h0m0 4h0m-1 0h0m0-3h0m0 4h0m-1-5h0m0 2h0m-3-1h0m-1-1h0m0 2h0m-1 2h0m-1-4h0m-1 2h0m-1-1h0m0 2h0m0 2h0m0-5h0m0 2h0m-1-2h0m-1 1h0m0 2h0m0-1h0m-1 1h0m0 2h0m0-3h0m-1 2h0m0-3h0m0 4h0m0-5h0m-1 1h0m-1 3h0m0-4h0m-1 4h0m-1-2h0m0-1h0m0-1h0m-1 3h0m0 2h0m0-1h0m-1 1h0m-1-4h0m0 4h0m0-3h0m-1 0h0m0 3h0m-1-3h0m0-2h0m-1 4h0m-1-1h0m-2-1h0m0 2h0m0-3h0m-1 3h0m0 1h0m-1-4h0m-1 0h0m-1 0h0m0 1h0m-1 3h0m0-3h0m-2-2h0m0 3h0m-2-3h0m-1 4h0m0-3h0m0 2h0m-1-3h0m-1 2h0m0 2h0m-3-3h0m0 4h0m-1-3h0m0 1h0m0 2h0m-1-3h0m0-1h0m-2-1h0m0 2h0m-1 2h0m0-3h0m0 4h0m-1-3h0m0 2h0m0-3h0m-2 3h0m0-1h0m0 2h0m-1-2h0m0 1h0m-1-3h0m0 4h0m-2-4h0m0 2h0m-3-3h0m0 3h0m-1-3h0m-4 0h0m0 2h0m0 3h0m-1-2h0m-1-1h0m-1 0h0m0-1h0m-1 3h0m-1-3h0m0 2h0m0-3h0m-2 5h0m-1-4h0m0 3h0m-1-1h0m-2-3h0m0 4h0m-1 1h0m-1-1h0m-1-4h0m0 4h0m-1 1h0m-2-4h0m0 2h0m-1-1h0m0 3h0m-1-3h0m0 2h0m-1-3h0m0 2h0m0 2h0m-2 0h0m-1-3h0m-1 1h0m0-3h0m-3 1h0m-1 1h0m0-1h0m-1 3h0m0-3h0m-1 2h0m-1 0h0m0-1h0m-1 3h0m-1 0h0m0-1h0m-1-2h0m0 1h0m0-3h0m-1 4h0m0-3h0m-1-1h0m0 2h0m-1 2h0m0-3h0m0 4h0m-1-5h0m0 1h0m0 2h0m-1 1h0m-1-2h0m0 2h0m-1-4h0m-1 1h0m0 4h0m0-1h0m-1 1h0m-1 0h0m-3 0h0m-1 0h0m0-3h0m-1-2h0m-1 5h0m0-3h0m-1-1h0m-1 0h0m0 1h0m-1-2h0m0 2h0m-1 2h0m0 1h0m0-5h0m-1 5h0m0-1h0m0-1h0m-1 0h0m0 1h0m-1-1h0m-1 2h0m0-3h0m-1 3h0m0-1h0m0-3h0m-1-1h0m0 3h0m-1 2h0m0-5h0m0 2h0m-1 3h0m-1-5h0m0 2h0m0 2h0m-1 0h0m0-3h0m0 2h0m-1-1h0m0 2h0m0-1h0m-1-3h0m0 5h0m-1-5h0m0 4h0m0-1h0m0 2h0m-2-2h0m0-3h0m-1 5h0m0-5h0m-1 4h0m0-3h0m0 2h0m-1-2h0m0 2h0m0-1h0m0 2h0m-1-4h0m-1 5h0m0-1h0m-1-2h0m0 3h0m-1-2h0m0 1h0m0-3h0m-1 4h0m0-5h0m0 2h0m0 2h0m-1 1h0m0-5h0m0 4h0m-1-4h0m0 4h0m-1 1h0m0-5h0m0 1h0m-1-1h0m0 2h0m0 2h0m-1-3h0m-1 4h0m0-1h0m0-3h0m-1 3h0m-1-1h0m-1 2h0m0-1h0m0-3h0m0 2h0m-1 1h0m0-3h0m-1 4h0m-1-3h0m0 2h0m0-1h0m-2-2h0m0 2h0m0 1h0m-1-1h0m0 2h0m0-1h0m-1 1h0m0-5h0m0 1h0m-1-1h0m-1 1h0m0 2h0m-1-2h0m0 2h0m-1-2h0m0 2h0m0 2h0m-2 0h0m0-4h0m-1 1h0m0 3h0m-2-4h0m0-1h0m-1 1h0m-1 0h0m-1 2h0m0 2h0m-1-5h0m0 4h0m-1 1h0m-1-5h0m0 2h0m-1 3h0m-1-3h0m-1-1h0m0 1h0m-1 1h0m0-1h0m0 2h0m-1 1h0m0-5h0m-1 3h0m0 2h0m-1-1h0m0-3h0m-1 2h0m0 1h0m-1-2h0m0 2h0m-1-4h0m-2 0h0m-1 2h0m-3-1h0m0 2h0m-1-1h0m-1 1h0m-1-2h0m-2 1h0m-1 1h0m-1-2h0m-1 0h0m0 4h0m-1-2h0m0 2h0m-1 0h0m0-3h0m-5 0h0m-4 2h0m6 7h0m1-3h0m3-2h0m2 1h0m0 4h0m0-5h0m0 4h0m2-1h0m6 2h0m1-1h0m0-3h0m1 0h0m0-1h0m1 4h0m0 1h0m1-2h0m1-3h0m2 4h0m0-1h0m0 2h0m1-2h0m0-3h0m2 4h0m0-2h0m1 0h0m1 3h0m1-1h0m1-2h0m1-1h0m0-1h0m1 4h0m0-3h0m1 4h0m1 0h0m0-1h0m1-1h0m0-3h0m1 2h0m0-1h0m2 4h0m2-3h0m0-2h0m3 1h0m1 2h0m1-3h0m0 4h0m1-3h0m0 2h0m0-3h0m1 3h0m0-1h0m1-1h0m0-1h0m1 2h0m1 0h0m1-2h0m1 1h0m0-1h0m1 5h0m1-2h0m0 2h0m1-5h0m0 1h0m1 2h0m1-3h0m1 5h0m0-5h0m1 5h0m0-1h0m1-3h0m0 2h0m2 1h0m0 1h0m0-3h0m1 3h0m1-5h0m0 2h0m0-1h0m1 1h0m0 2h0m0-4h0m1 3h0m1-1h0m1 1h0m0 2h0m1-5h0m1 2h0m0-2h0m1 2h0m2 2h0m1-2h0m1-1h0m0 2h0m0 1h0m2-3h0m0 2h0m2-2h0m0-1h0m0 4h0m1 1h0m0-5h0m3 1h0m0 2h0m0-1h0m1-1h0m0 2h0m0 1h0m1-2h0m0 1h0m1 2h0m1-3h0m0 2h0m0-1h0m0-3h0m2 5h0m1-2h0m0-1h0m1 3h0m0-5h0m0 2h0m3-1h0m1 0h0m0 3h0m1-3h0m3 3h0m0 1h0m0-5h0m1 3h0m1 2h0m1-2h0m0 1h0m1-2h0m1 0h0m1-1h0m1 0h0m0 4h0m0-5h0m1 1h0m1 3h0m0-1h0m3 1h0m1-2h0m1-2h0m0 1h0m0 2h0m1 0h0m0 1h0m1-4h0m1 5h0m1 0h0m0-5h0m0 2h0m1 2h0m1-2h0m2 1h0m0 2h0m1-2h0m0 1h0m1-1h0m0 2h0m1-4h0m0 4h0m0-5h0m1 2h0m0-2h0m1 0h0m1 4h0m1-1h0m0-1h0m0 2h0m1-3h0m0 2h0m1 0h0m0 2h0m0-5h0m3 1h0m0 4h0m0-1h0m1-1h0m2-2h0m1 0h0m0-1h0m1 2h0m0-1h0m1 4h0m1-5h0m1 3h0m0 1h0m2-4h0m2 5h0m1-2h0m0-3h0m1 5h0m0-3h0m0 2h0m2-4h0m0 4h0m1-1h0m0-1h0m1 1h0m0 2h0m0-5h0m1 0h0m1 4h0m1 1h0m0-5h0m2 3h0m0 1h0m0-3h0m1 3h0m0-3h0m1 4h0m0-4h0m3 2h0m1-3h0m1 0h0m0 2h0m1 0h0m1-2h0m1 0h0m1 4h0m1-4h0m0 2h0m0 2h0m1 1h0m1-5h0m0 1h0m2 4h0m0-1h0m0-3h0m1 2h0m0 2h0m0-5h0m0 1h0m1 0h0m0 2h0m0-3h0m0 2h0m2-2h0m0 1h0m1-1h0m0 2h0m1 1h0m3 2h0m1 0h0m1-1h0m1-4h0m0 2h0m0 2h0m0-3h0m1 4h0m0-5h0m0 3h0m1 2h0m0-4h0m1 2h0m0 2h0m0-5h0m0 4h0m3-1h0m1-2h0m0 4h0m0-5h0m0 2h0m1 1h0m1 0h0m0-3h0m1 2h0m1 2h0m0-3h0m0 2h0m0 2h0m0-5h0m1 2h0m1-2h0m0 2h0m1-1h0m0 4h0m1-2h0m0-1h0m3 0h0m1-2h0m0 4h0m0-3h0m1-1h0m0 5h0m1-1h0m1 1h0m0-1h0m1-1h0m1 1h0m1-4h0m0 5h0m1 0h0m0-3h0m0 2h0m1-2h0m0 2h0m1-1h0m0-3h0m1 3h0m1 2h0m1-3h0m0 2h0m1-3h0m0-1h0m2 4h0m0 1h0m1-1h0m0 1h0m1-5h0m1 2h0m0-2h0m1 2h0m0-1h0m1 1h0m0 2h0m1 1h0m1-3h0m0 2h0m1-3h0m1 1h0m0 2h0m0-3h0m0 2h0m1 2h0m1 0h0m0-3h0m0-1h0m1 3h0m2-4h0m1 4h0m0-1h0m0 2h0m1-1h0m1-1h0m1 1h0m0-1h0m1 2h0m3-4h0m0 2h0m0 2h0m1 3h0m-1 3h0m0-1h0m-2-4h0m-1 5h0m-2-3h0m-1 2h0m-1 1h0m0-3h0m0 2h0m-1 1h0m-1-1h0m-2-3h0m0-1h0m-1 4h0m-1-4h0m-1 1h0m0 4h0m0-5h0m0 2h0m-1 1h0m0-3h0m-1 4h0m0-3h0m0-1h0m0 2h0m-1-2h0m0 3h0m-1-2h0m0-1h0m0 4h0m-1 1h0m0-5h0m0 4h0m0-3h0m-1 2h0m-1-1h0m0 1h0m-1-1h0m-1 1h0m0 1h0m-1-1h0m-1-3h0m0 2h0m-1-1h0m0 4h0m-1-2h0m0 2h0m0-3h0m-1-2h0m-1 4h0m-1-4h0m0 1h0m0 4h0m-1-4h0m0-1h0m-1 1h0m0 4h0m-1-2h0m0-3h0m-1 3h0m0 2h0m0-3h0m0 2h0m-1 1h0m-1-5h0m0 3h0m-1 1h0m-1-3h0m0 1h0m-1-2h0m0 2h0m-1-1h0m0 1h0m-1 1h0m-1 2h0m0-1h0m0-3h0m-1 0h0m-1-1h0m0 4h0m-3-4h0m-1 1h0m0 4h0m0-5h0m-1 0h0m0 2h0m0 2h0m-1 0h0m0-3h0m0 4h0m-1-4h0m-1 3h0m-1 0h0m0-3h0m0 2h0m0 2h0m0-3h0m-1 3h0m0-3h0m-1 1h0m0 1h0m-1-3h0m0 4h0m0-5h0m0 2h0m-1 1h0m0-3h0m0 4h0m-1 0h0m0-3h0m0 2h0m0-3h0m0 2h0m-1-1h0m0 2h0m0-1h0m-1 2h0m-1-2h0m-1 3h0m0-3h0m-1 1h0m0-3h0m0 4h0m-1-2h0m-1 0h0m0 2h0m-2 1h0m0-3h0m-1-2h0m-1 2h0m-1-2h0m0 4h0m-1 0h0m0-4h0m-1 3h0m0-3h0m-1 4h0m-1-1h0m0-3h0m-1 2h0m-1 2h0m0-2h0m-1-2h0m-1 1h0m0 4h0m-1-5h0m0 2h0m0 2h0m0 1h0m-1-3h0m0 1h0m-1-1h0m0-1h0m0 4h0m-1-4h0m0 4h0m0-1h0m-1 0h0m0-1h0m0-1h0m-1-1h0m0 4h0m0-5h0m0 2h0m-1-1h0m-1 4h0m0-3h0m-1-1h0m0 2h0m-1-2h0m0 1h0m-1 2h0m0-3h0m-1 1h0m0-1h0m-2 3h0m0-3h0m0 4h0m0-5h0m-1 1h0m0 2h0m0-3h0m0 2h0m-1 2h0m-1-1h0m0 2h0m-1-2h0m-1 1h0m0-4h0m-2 4h0m-1-4h0m-1 1h0m0 2h0m0-3h0m-1 5h0m0-3h0m0-1h0m-1 4h0m0-3h0m-1 0h0m0-1h0m0 2h0m0 2h0m0-5h0m-2 4h0m0-1h0m-1-1h0m0-1h0m-2 2h0m-1 1h0m0-3h0m0-1h0m-2 2h0m0 2h0m-2-3h0m-1 1h0m0 3h0m-1 0h0m-3-1h0m0-3h0m-1 2h0m-1 0h0m0 1h0m-1 0h0m0-4h0m-1 5h0m0-3h0m-1 2h0m-1-3h0m-1 1h0m0 1h0m0 2h0m-1-5h0m0 2h0m-2 2h0m0-3h0m-2 0h0m0 4h0m-2-4h0m0 2h0m-1-1h0m-1 0h0m-1 3h0m-1 0h0m0-5h0m-1 2h0m0-1h0m-1 2h0m-1-1h0m0-2h0m-1 2h0m-1-1h0m-1-1h0m-1 3h0m-1-3h0m0 2h0m-1 1h0m0-3h0m0 4h0m-1-3h0m-1 2h0m-1 1h0m-1-2h0m0 2h0m0-1h0m-1 1h0m-1 0h0m0-4h0m-1 1h0m-1 4h0m-1-1h0m-1-2h0m-1 3h0m-1 0h0m-1-1h0m0-3h0m0 4h0m-1-1h0m-1-1h0m0 2h0m-1-5h0m-1 3h0m-1-1h0m0 1h0m-1 2h0m-2-4h0m0 1h0m-1 0h0m-3 1h0m-1 0h0m-1-2h0m-1 2h0m0-1h0m-1-2h0m0 4h0m-1-2h0m-1-1h0m-1 4h0m0-4h0m-2 1h0m0-1h0m0 2h0m-2 1h0m-1-4h0m0 2h0m-2 0h0m0-1h0m-1 1h0m-1 1h0m-2 0h0m0 1h0m-1-2h0m0 1h0m-1 2h0m0-5h0m0 1h0m-1 3h0m0-1h0m-1 2h0m0-5h0m0 2h0m-1 0h0m0 3h0m-1-4h0m0 2h0m0-3h0m0 4h0m-1-2h0m0-1h0m-1 2h0m0 2h0m0-1h0m-1 1h0m-1-5h0m0 2h0m0-1h0m-1 0h0m-1 3h0m-1-2h0m0 2h0m-1-3h0m0 4h0m-1 0h0m-1-2h0m-1-2h0m0 1h0m-3-1h0m-2 1h0m0 2h0m0-3h0m-1 4h0m0-5h0m0 4h0m-1 0h0m-1-4h0m-1 0h0m-1 4h0m-2-2h0m0 3h0m-1-5h0m0 3h0m-1-2h0m0 4h0m-2-4h0m-2 0h0m-3 1h0m-1 0h0m-1 1h0m-1-1h0m-2-1h0m0 2h0m-2-1h0m-1 1h0m0 1h0m0-3h0m-2 1h0m-2-1h0m0 2h0m-3 3h0m1 1h0m0 2h0m1-2h0m1 2h0m2-3h0m2 0h0m1 1h0m1 3h0m0-3h0m1-1h0m1 2h0m1-2h0m1 3h0m1 2h0m0-1h0m1-3h0m2 4h0m1-2h0m3-3h0m2 4h0m0-2h0m3 2h0m1-1h0m1-3h0m2 2h0m0-1h0m0-1h0m1 2h0m1 1h0m0-3h0m1 5h0m1-5h0m1 3h0m0 2h0m1-3h0m1-2h0m1 0h0m0 2h0m1-2h0m1 1h0m0 4h0m1-1h0m1 0h0m1-3h0m0 2h0m1-1h0m1 2h0m0-3h0m0 2h0m0-3h0m1 3h0m0-3h0m1 0h0m1 0h0m0 3h0m1-3h0m1 3h0m0-3h0m0 4h0m2-2h0m0 1h0m1 1h0m1 0h0m0 1h0m2-2h0m1 0h0m1-2h0m0 2h0m0-3h0m1 1h0m0 4h0m1-5h0m1 0h0m1 1h0m0 3h0m2-3h0m0 2h0m0-1h0m3 1h0m0 2h0m1-2h0m1 2h0m2-2h0m1 0h0m0 2h0m1-1h0m0-1h0m1-2h0m0-1h0m2 0h0m0 4h0m1 1h0m1-2h0m0-3h0m1 1h0m0 1h0m1-1h0m0-1h0m1 3h0m0 2h0m0-3h0m0 2h0m2-1h0m1-1h0m0-1h0m0 2h0m0 2h0m1-1h0m2 1h0m0-3h0m1-2h0m0 3h0m0 2h0m1-4h0m0 4h0m1-2h0m2 0h0m0 2h0m2-4h0m1 2h0m1 2h0m1-2h0m0 2h0m0-5h0m0 1h0m1 2h0m0 2h0m1-4h0m0 1h0m1 1h0m0 2h0m0-3h0m1 1h0m0 1h0m2-2h0m0-1h0m1 2h0m0-3h0m0 2h0m0 2h0m1 0h0m0 1h0m0-5h0m1 1h0m0 2h0m0-1h0m0 2h0m1-1h0m1 2h0m1-4h0m3 0h0m3 4h0m1-2h0m0-1h0m0 2h0m0-3h0m1 1h0m0 2h0m1-3h0m1 2h0m0 2h0m0-3h0m1 3h0m0-5h0m1 1h0m0 4h0m0-5h0m1 1h0m0-1h0m1 0h0m0 2h0m1 2h0m1-2h0m1-2h0m0 4h0m1-4h0m0 2h0m0-1h0m1-1h0m0 2h0m1 3h0m0-1h0m2-4h0m0 1h0m0 2h0m1 0h0m0 2h0m0-5h0m0 4h0m1 0h0m0-3h0m1 1h0m1 3h0m0-5h0m1 5h0m1-5h0m0 2h0m1 0h0m1-2h0m0 4h0m1 0h0m1-1h0m0-3h0m1 0h0m1 3h0m0-3h0m1 5h0m0-1h0m1-4h0m1 1h0m1 4h0m0-4h0m1 3h0m3-3h0m1 3h0m1-3h0m1-1h0m0 4h0m1 1h0m0-1h0m2-2h0m0-1h0m1 1h0m1 2h0m0-3h0m1 0h0m1 0h0m0 4h0m0-1h0m1-2h0m1 0h0m0-1h0m1 3h0m2-3h0m1-1h0m0 3h0m0 2h0m1-3h0m1 2h0m1-3h0m0 3h0m1 1h0m0-2h0m1 1h0m1-1h0m1 1h0m1 0h0m1 1h0m0-5h0m0 1h0m1 0h0m0 4h0m1-3h0m0 3h0m1-4h0m0-1h0m1 5h0m0-3h0m0 2h0m1-1h0m0 2h0m0-5h0m0 4h0m1 1h0m0-5h0m0 2h0m0-1h0m0 2h0m1 1h0m0-3h0m1 2h0m1-3h0m0 4h0m1-3h0m0 2h0m1 2h0m1-5h0m0 1h0m0 4h0m1-2h0m0-3h0m1 0h0m0 4h0m0-1h0m1 0h0m0 2h0m0-5h0m0 2h0m1-2h0m0 1h0m0 2h0m0 2h0m1-2h0m0 1h0m0-3h0m2 0h0m0 2h0m1-1h0m0 2h0m0-3h0m0 2h0m2 0h0m0-3h0m0 2h0m1-2h0m0 2h0m0 1h0m1 2h0m1 0h0m0-3h0m0 2h0m0-3h0m1-1h0m0 4h0m0-3h0m1 4h0m0-3h0m1-1h0m1 4h0m0-3h0m0-1h0m1 0h0m0 1h0m1 2h0m1 1h0m0-5h0m1 4h0m0 1h0m2-3h0m0 2h0m1 1h0m0-1h0m1-3h0m1 1h0m0-1h0m1 1h0m0 2h0m1-3h0m1 4h0m0-1h0m1 1h0m1-4h0m0 4h0m1-5h0m0 3h0m0 2h0m1-2h0m0 2h0m0-5h0m0 2h0m0 2h0m1-2h0m0 2h0m0 1h0m1 0h0m0-3h0m0 2h0m1 0h0m1-3h0m0-1h0m1 2h0m1-1h0m0 4h0m1-4h0m0 2h0m2-3h0m0 3h0m0 2h0m1-5h0m0 1h0m0 2h0m1 1h0m0-3h0m1 4h0m0-5h0m0 4h0m1 1h0m0-3h0m1-2h0m0 1h0m1 4h0m1-3h0m0-1h0m1 1h0m0 2h0m1-4h0m1 5h0m1-3h0m0-1h0m1 3h0m1 0h0m0-3h0m0 2h0m1-2h0m0 4h0m5 0h0m-1 1h0m-2 2h0m-1 3h0m0-5h0m-1 3h0m0 2h0m-1-3h0m0 1h0m-1 2h0m0-1h0m-1 1h0m-1-3h0m-2 3h0m0-3h0m-1 3h0m0-5h0m0 2h0m-1 3h0m0-1h0m-2 1h0m0-5h0m-1 3h0m0 2h0m0-5h0m0 2h0m0 2h0m-1-4h0m0 2h0m-1 3h0m-1-5h0m-2 3h0m0-3h0m0 1h0m-2 3h0m0-1h0m0 2h0m-1-4h0m0 4h0m-1-3h0m-1 0h0m0 2h0m0-3h0m0 4h0m-1-1h0m-2-3h0m0-1h0m-1 4h0m0-3h0m0 1h0m-1 3h0m0-5h0m-1 3h0m0-3h0m0 2h0m-1 0h0m0 2h0m-1-3h0m0 2h0m0 2h0m0-5h0m0 2h0m-1 1h0m0 2h0m0-5h0m-1 0h0m0 2h0m0 2h0m0-3h0m0 2h0m0 2h0m-1-3h0m0 2h0m-1 0h0m0-3h0m-1 2h0m0 1h0m-2-3h0m0 2h0m0-1h0m-1-1h0m0 2h0m-1-3h0m-2 2h0m0 1h0m0-3h0m-2 1h0m-1-1h0m-1 4h0m0-4h0m-1 3h0m-1-3h0m0 2h0m-1-1h0m0 2h0m0-3h0m-2 1h0m0-1h0m-1 0h0m0 2h0m-1 2h0m0-1h0m0 2h0m-1-3h0m0 1h0m-1-3h0m0 2h0m-1 1h0m0-3h0m0 2h0m-1 2h0m0 1h0m0-3h0m-1 0h0m0 2h0m0-3h0m0 2h0m0 2h0m-1-2h0m0-1h0m-1-2h0m-1 2h0m0-1h0m0 4h0m0-5h0m-1 4h0m0-4h0m0 2h0m-1-2h0m0 1h0m-1 2h0m0-1h0m-1 0h0m-1 2h0m-1-3h0m-1 0h0m0-1h0m0 2h0m-1-2h0m0 3h0m-1 2h0m-1-1h0m0-1h0m0-3h0m-2 1h0m0 1h0m0 2h0m-1 1h0m-1-3h0m0 2h0m-1-4h0m-1 3h0m-1 1h0m0 1h0m0-5h0m-1 1h0m0 4h0m-2-4h0m0 1h0m-1-2h0m0 2h0m0 1h0m0 2h0m-1-2h0m0 2h0m-1-2h0m0 2h0m-2-5h0m0 2h0m-2-2h0m-1 1h0m0 2h0m-1 2h0m0-3h0m-1-1h0m0-1h0m-1 1h0m0-1h0m0 2h0m-1 0h0m-1 3h0m-1-3h0m0 2h0m0-4h0m-1 0h0m-1 2h0m-1-1h0m0 4h0m-1-3h0m-1 0h0m-2 3h0m-1-5h0m0 4h0m0-3h0m-2 3h0m0-3h0m-1 4h0m-1-3h0m0 1h0m-1-1h0m-1-1h0m0-1h0m-1 3h0m-2-1h0m0-1h0m0-1h0m-2 4h0m-1-3h0m-1-1h0m0 2h0m-1-1h0m-1-1h0m0 2h0m-1 3h0m-3-5h0m0 2h0m0-1h0m0 2h0m-1 2h0m0-5h0m-1 1h0m-2 0h0m-1 1h0m0 3h0m-1-5h0m0 4h0m-2-3h0m0-1h0m-2 2h0m0 1h0m0 2h0m-1-5h0m0 1h0m0 2h0m-1 2h0m-2 0h0m0-1h0m-1-1h0m0 2h0m-1-1h0m0-3h0m-1 0h0m-1 1h0m0 2h0m0 1h0m0-5h0m-1 1h0m0 2h0m-2-1h0m-1 1h0m-1-2h0m0 4h0m-1-3h0m-1 3h0m-1-4h0m0 2h0m-1 0h0m0 2h0m0-3h0m0 2h0m-2-1h0m0-3h0m-1 0h0m0 2h0m-1 1h0m-1-3h0m0 1h0m0 4h0m-1-2h0m-1-1h0m0-1h0m-4 2h0m0 2h0m-1-3h0m0 2h0m-1 1h0m0-1h0m-1-2h0m0-1h0m0-1h0m-1 0h0m-1 2h0m-1 1h0m-1-3h0m0 2h0m0-1h0m-1 4h0m0-5h0m-1 2h0m0-1h0m-1 3h0m0-3h0m0 4h0m0-3h0m-1 3h0m-1-4h0m0 2h0m-1-3h0m0 2h0m-1-1h0m0-1h0m0 2h0m-2-2h0m-1 1h0m-2-1h0m0 2h0m-3 0h0m0 2h0m-2-2h0m0-1h0m0 4h0m-1-2h0m-1 0h0m0 2h0m-1-1h0m-2 0h0m0-1h0m-1-3h0m0 2h0m0 1h0m0 2h0m-2-2h0m0 2h0m0-5h0m-1 0h0m0 2h0m0-1h0m0 2h0m-1-2h0m0-1h0m-1 4h0m0-4h0m-1 5h0m-1-1h0m0-3h0m-1 0h0m0 1h0m0 2h0m-2-4h0m-1 4h0m0-3h0m0 2h0m-1-1h0m-1-2h0m0 2h0m-1 3h0m-1-5h0m-1 2h0m-1 2h0m-1-4h0m0 4h0m-1 1h0m-1-1h0m0 1h0m-1-4h0m0 2h0m-1 0h0m0-2h0m-2 4h0m0-1h0m0-1h0m-1-1h0m0 2h0m-1-3h0m-1 2h0m-1-3h0m-1 4h0m-2-4h0m0 1h0m-1 2h0m0 2h0m0-3h0m-2 0h0m-2-2h0m-1 1h0m-2 3h0m0-1h0m-2-3h0m-2 2h0m-1 0h0m-3-2h0m-1 1h0m11 6h0m2-1h0m0 4h0m4-4h0m0 2h0m1 1h0m3-3h0m4 2h0m1 0h0m0 1h0m0-3h0m1 0h0m1 0h0m0 2h0m0 2h0m1-3h0m0 2h0m0-1h0m1 1h0m0 2h0m0-3h0m1-2h0m1 0h0m1 4h0m0-2h0m1 0h0m0 3h0m1-4h0m0 1h0m0 2h0m1-3h0m0-1h0m0 4h0m1-3h0m0 4h0m0-5h0m0 4h0m1 1h0m0-5h0m1 0h0m0 2h0m1 1h0m0 2h0m0-3h0m1-2h0m1 1h0m0-1h0m0 2h0m1 2h0m0-3h0m1 0h0m0 3h0m1-4h0m0 4h0m1-2h0m1-1h0m0 2h0m1-1h0m0 2h0m1-2h0m1 3h0m0-5h0m0 2h0m1-1h0m0-1h0m1 0h0m1 4h0m0 1h0m1-5h0m0 2h0m2 1h0m0-3h0m0 2h0m1 2h0m1-3h0m1-1h0m1 3h0m0-3h0m0 2h0m1 3h0m0-5h0m0 2h0m1 0h0m1-1h0m1 1h0m0 3h0m1-2h0m0 1h0m1-4h0m0 3h0m1 2h0m0-5h0m0 2h0m1-2h0m0 2h0m0 2h0m0-3h0m1 0h0m1 4h0m1-2h0m0-2h0m1 0h0m1-1h0m0 4h0m1-1h0m0 2h0m0-1h0m1 1h0m0-5h0m1 4h0m3-3h0m1 0h0m0-1h0m1 1h0m0 4h0m1 0h0m0-1h0m1-3h0m0 4h0m1-2h0m0-3h0m1 1h0m0 1h0m1 1h0m1-1h0m0 1h0m1 0h0m0-3h0m1 2h0m0-1h0m0 4h0m0-5h0m1 0h0m0 2h0m3-2h0m0 4h0m1-4h0m0 1h0m1 0h0m0 1h0m0 2h0m2-1h0m0 2h0m0-1h0m1-1h0m0-2h0m1 4h0m1-4h0m0 4h0m1-4h0m0 1h0m1-2h0m1 3h0m1 1h0m1-3h0m1 0h0m1 0h0m1 4h0m1-2h0m1 2h0m1 0h0m0-2h0m1-2h0m1-1h0m0 4h0m0-3h0m1 2h0m1 0h0m1-2h0m0 2h0m0 2h0m1-5h0m0 2h0m0 2h0m0-3h0m0 2h0m2 0h0m0 2h0m1-1h0m1-3h0m0 2h0m0-3h0m1 2h0m0 2h0m1-1h0m0 2h0m0-5h0m1 3h0m0 2h0m1-5h0m1 3h0m1 0h0m0 1h0m1 1h0m0-5h0m1 3h0m1-2h0m1 0h0m0 3h0m1 1h0m0-3h0m0 2h0m0-3h0m1 4h0m0-5h0m0 2h0m1 1h0m0 2h0m0-1h0m1-1h0m0-3h0m0 2h0m0 2h0m1-4h0m1 2h0m0 2h0m1-2h0m1 3h0m0-5h0m0 1h0m1 4h0m0-5h0m0 3h0m1-3h0m0 2h0m0 2h0m1-3h0m1-1h0m1 4h0m1-4h0m0 3h0m1 2h0m0-5h0m1 0h0m0 2h0m0 1h0m1 2h0m0-5h0m0 2h0m1 1h0m0 2h0m0-4h0m1 0h0m0-1h0m0 4h0m1-3h0m0 2h0m1-3h0m1 2h0m1-2h0m0 2h0m0-1h0m1 4h0m1 0h0m0-5h0m1 4h0m0-4h0m1 2h0m0-1h0m1 0h0m0 1h0m0 2h0m2 1h0m1 0h0m0-3h0m0-1h0m1-1h0m0 4h0m1-3h0m1-1h0m1 3h0m2 1h0m0-3h0m0 4h0m1-4h0m0 1h0m1-2h0m1 0h0m0 2h0m0-1h0m1 0h0m0 4h0m1-2h0m0-3h0m0 2h0m0 2h0m0-3h0m1-1h0m0 2h0m0 2h0m1-1h0m0 1h0m1 1h0m1-4h0m0 2h0m1-2h0m0-1h0m1 0h0m0 4h0m1-1h0m0 2h0m0-5h0m0 2h0m0 2h0m1-2h0m0 1h0m1 0h0m0-1h0m1 2h0m0-1h0m1 2h0m0-5h0m0 2h0m0 2h0m1 1h0m0-5h0m0 2h0m0-1h0m1 1h0m0 2h0m1-1h0m1 2h0m0-5h0m0 2h0m0 2h0m0-1h0m1-2h0m0 4h0m1-5h0m1 4h0m0-1h0m1 2h0m0-3h0m0 2h0m0-3h0m0 2h0m1-3h0m1 0h0m0 2h0m0 2h0m1-4h0m0 4h0m0 1h0m1-1h0m0-3h0m0 4h0m3-4h0m0 1h0m1-2h0m0 4h0m1-4h0m1 0h0m0 3h0m2-1h0m0-1h0m0 4h0m1-5h0m0 4h0m1 1h0m0-1h0m1-2h0m0-1h0m0 4h0m1-3h0m1 2h0m1-4h0m0 2h0m0 2h0m0-3h0m0 2h0m1-3h0m0 2h0m0 1h0m1-2h0m0 1h0m1-1h0m0 2h0m1-2h0m0 2h0m1 1h0m0 1h0m1-5h0m0 5h0m1-5h0m1 5h0m0-5h0m0 4h0m1-3h0m1 4h0m1-2h0m0-3h0m1 1h0m1 0h0m0 2h0m0-3h0m1 0h0m0 1h0m1 3h0m1 0h0m0 1h0m1-4h0m1 0h0m1 3h0m1-2h0m0 2h0m1-2h0m1 0h0m0 2h0m2-1h0m0-3h0m2 0h0m-4 9h0m-1-3h0m-1 0h0m0 2h0m-1 0h0m-1-2h0m0 2h0m0 2h0m-1-4h0m0 2h0m0 1h0m-1 0h0m-1-2h0m-1 0h0m0 1h0m-3 2h0m0-3h0m0 2h0m-1 0h0m0 2h0m0-5h0m-1 5h0m-1-4h0m0 2h0m0 2h0m-1-3h0m-1-1h0m0 4h0m-1-5h0m0 1h0m-1 1h0m-1-2h0m0 4h0m-1-3h0m0 2h0m-1-1h0m-1 1h0m-1 0h0m0-1h0m-1 0h0m0 2h0m-1-1h0m-1-2h0m-1 4h0m-1-4h0m0 4h0m0-5h0m0 4h0m-1-3h0m0 2h0m0-1h0m0 2h0m-1 1h0m-1-4h0m0 2h0m0 1h0m-1 0h0m-1 0h0m-1 1h0m-1-5h0m0 2h0m-1 3h0m0-1h0m-2-3h0m0-1h0m0 4h0m-1-4h0m0 2h0m0 2h0m0-3h0m0 2h0m0 2h0m-1-4h0m0 2h0m0-3h0m-1 0h0m0 1h0m0 2h0m-1 1h0m-1-3h0m0-1h0m-1 0h0m0 2h0m-1 0h0m0-1h0m-1 0h0m0 2h0m0-3h0m0 4h0m-1-3h0m0-1h0m0 2h0m-1 2h0m0-3h0m0 2h0m0-3h0m0 2h0m-1 0h0m-2-2h0m-1 1h0m0 4h0m-1-4h0m0 2h0m-1 2h0m0-5h0m-1 0h0m-1 5h0m0-3h0m-2-1h0m0 2h0m0 2h0m0-5h0m0 2h0m0 2h0m-1-1h0m0-3h0m0 2h0m-1-2h0m0 2h0m0 1h0m0 2h0m-1-3h0m-1 1h0m0 2h0m0-3h0m-1 1h0m-1-3h0m0 2h0m0-1h0m-1 2h0m0 2h0m0-3h0m0 2h0m-1 1h0m0-1h0m0-1h0m-1-2h0m0 4h0m-1 0h0m0-3h0m-1 0h0m0-1h0m0 4h0m-1-2h0m0 2h0m-1-2h0m0 1h0m-1-1h0m0-3h0m-1 2h0m0 1h0m0-3h0m-2 1h0m0 2h0m-1-2h0m-1 0h0m0 4h0m0-5h0m-2 1h0m0 3h0m-1-2h0m-1 3h0m0-5h0m-1 5h0m0-5h0m-1 4h0m0-3h0m-1 1h0m-1 3h0m-1-4h0m-1 4h0m-1-2h0m0-3h0m-1 1h0m0 1h0m-1-1h0m0-1h0m-1 1h0m0 4h0m-1-2h0m0 2h0m0-5h0m-1 3h0m-1-3h0m-1 5h0m0-1h0m-1 0h0m0-1h0m-1-2h0m-1 3h0m0-3h0m0 1h0m-1 0h0m-1 1h0m0-1h0m0 2h0m-1-1h0m-1 2h0m0-3h0m-1 0h0m0 3h0m-2-3h0m0-2h0m-1 5h0m-1-1h0m0-2h0m-1 2h0m-1-2h0m0-1h0m-1-1h0m-2 3h0m-1 1h0m0-1h0m0 2h0m0-5h0m-1 4h0m0-4h0m-1 5h0m0-4h0m-1 1h0m0 1h0m-1 2h0m0-3h0m-1 1h0m0 2h0m-1-2h0m-1-2h0m0 2h0m0-3h0m-1 1h0m0 3h0m-2 0h0m-1-3h0m0 4h0m-1-1h0m0-1h0m0-3h0m-2 0h0m-1 2h0m0 1h0m-1-2h0m-1 2h0m-1-2h0m-1 3h0m-1-4h0m-1 0h0m-1 2h0m-1-1h0m0 3h0m-1-2h0m0-1h0m-2 0h0m-1 3h0m0-3h0m0 2h0m0 2h0m0-5h0m-2 3h0m0 2h0m0-5h0m-1 2h0m0 2h0m0 1h0m-1-2h0m-1 2h0m0-2h0m-1 1h0m-1-4h0m-3 3h0m-2 1h0m0-3h0m0-1h0m-1 1h0m-1-1h0m0 3h0m-1-1h0m-1 3h0m0-2h0m-1 1h0m-1-4h0m0 3h0m-1-2h0m0-1h0m-1 4h0m-2-1h0m-1 2h0m0-3h0m0 2h0m-1 1h0m0-3h0m0 2h0m-1-2h0m0-1h0m0 4h0m-1-1h0m-1-2h0m-1-2h0m0 3h0m-1 2h0m-1-5h0m0 2h0m-1 1h0m-1-1h0m-1-2h0m-1 5h0m-1-3h0m-1 1h0m0 2h0m0-5h0m0 2h0m-2-2h0m-1 3h0m-1 0h0m-1 1h0m-1-1h0m0-1h0m-1 1h0m0 2h0m-1-2h0m-1-3h0m0 2h0m-3 0h0m-1 3h0m0-5h0m-1 0h0m-1 0h0m-2 0h0m0 1h0m-1 3h0m0-1h0m-1-3h0m0 4h0m0-3h0m-2 1h0m0-1h0m-1-1h0m-2 4h0m-1 0h0m0-4h0m-1 0h0m0 2h0m15 4h0m2 0h0m0 2h0m2 0h0m2-2h0m3 3h0m1 0h0m1 0h0m2-1h0m1-1h0m1 2h0m1 0h0m0 2h0m0-5h0m1 1h0m0 1h0m1 3h0m0-5h0m0 4h0m0-3h0m1 2h0m1 0h0m0 1h0m0-3h0m1 0h0m0-1h0m0 2h0m0 2h0m1 1h0m0-5h0m0 2h0m1-1h0m1 0h0m1 4h0m0-3h0m1 3h0m0-5h0m0 2h0m2 2h0m0-1h0m1-2h0m0 2h0m1-2h0m0 2h0m1-2h0m1 0h0m0 4h0m0-5h0m1 0h0m0 2h0m0 2h0m1 1h0m0-5h0m1 2h0m0-1h0m1 0h0m0 2h0m0-1h0m1 3h0m0-5h0m1 5h0m0-3h0m1-2h0m1 2h0m1-2h0m0 2h0m0-1h0m1 0h0m0 2h0m0 1h0m1 1h0m2 0h0m1-4h0m1 2h0m0 1h0m1-2h0m1-1h0m0-1h0m1 5h0m0-3h0m1-1h0m0 2h0m0 2h0m1-4h0m2 4h0m0-5h0m2 5h0m1 0h0m1-2h0m0 2h0m2-1h0m0-3h0m1 2h0m0 2h0m0-3h0m0-1h0m1 2h0m0-2h0m1 4h0m0-4h0m1-1h0m2 5h0m0-3h0m0-1h0m1 0h0m2 4h0m1-4h0m0-1h0m0 2h0m0 2h0m1-1h0m0 2h0m0-3h0m2 2h0m0-1h0m1 2h0m0-1h0m0-3h0m1 0h0m1 2h0m0 2h0m0-5h0m0 1h0m1 4h0m0-4h0m1 2h0m1-1h0m0-2h0m1 5h0m0-5h0m2 0h0m1 5h0m1 0h0m0-1h0m1 1h0m2-3h0m1-2h0m1 4h0m1-1h0m1 2h0m2 0h0m0-4h0m1-1h0m0 1h0m1 3h0m0-3h0m1 4h0m0-5h0m0 4h0m1 1h0m0-5h0m0 2h0m0 2h0m1-1h0m1 1h0m0-1h0m0 2h0m1-2h0m0 2h0m0-1h0m1 0h0m0-1h0m1-2h0m0 2h0m0-3h0m1 0h0m0 4h0m1 1h0m1-1h0m1-1h0m0 2h0m0-3h0m1 3h0m0-5h0m0 2h0m1-2h0m0 4h0m1-1h0m1 2h0m0-3h0m0 2h0m1-2h0m0 2h0m0-3h0m1-1h0m0 4h0m1-4h0m0 4h0m1-2h0m1 2h0m0-3h0m0 2h0m1 1h0m1-4h0m1 0h0m0 4h0m0-1h0m1 2h0m0-5h0m1 5h0m0-5h0m1 3h0m0 2h0m0-5h0m1 0h0m0 2h0m0-1h0m0 2h0m0 2h0m1-2h0m0-3h0m1 4h0m1-2h0m0 2h0m1 1h0m1-4h0m0-1h0m0 2h0m1-2h0m0 2h0m1-1h0m1 1h0m0-1h0m0 2h0m1-1h0m0 1h0m1-3h0m0 3h0m1-1h0m1 1h0m1 2h0m0-5h0m0 4h0m0-3h0m1 2h0m0-3h0m0 4h0m1 1h0m1-4h0m1 1h0m0 2h0m1-4h0m0 2h0m0-1h0m0 2h0m1-2h0m0 2h0m1 2h0m0-1h0m0-3h0m1-1h0m0 4h0m0-3h0m1 1h0m0-1h0m0 4h0m2-3h0m1-2h0m0 2h0m0 2h0m1-4h0m0 2h0m0 2h0m1-2h0m1 0h0m0-1h0m0 2h0m1-1h0m0 1h0m0-3h0m1 0h0m0 1h0m0 2h0m1-3h0m0 5h0m1-3h0m0-1h0m0 4h0m1-2h0m0-3h0m0 2h0m1 0h0m0 3h0m1 0h0m0-1h0m2-3h0m2 4h0m0-4h0m1 3h0m0-3h0m0 4h0m1 0h0m0-5h0m1 4h0m0-3h0m0 2h0m1-1h0m0 3h0m1-1h0m0-3h0m0 4h0m0-5h0m1 2h0m0 1h0m1-1h0m0-1h0m0 2h0m1 1h0m1-3h0m1-1h0m1 2h0m0-2h0m1 1h0m0 2h0m0 2h0m1 0h0m1-4h0m0 1h0m1 2h0m1-2h0m0-2h0m1 0h0m0 1h0m1 2h0m0 2h0m0-3h0m1 3h0m2-5h0m0 4h0m0-1h0m1 2h0m1-2h0m0 2h0m0-3h0m2 0h0m1 3h0m-5 2h0m-5-1h0m-1 1h0m-1 3h0m-1-1h0m0-1h0m-1-2h0m0 2h0m0-1h0m0 4h0m-1-2h0m0 2h0m-2 0h0m0-5h0m0 3h0m-1 2h0m0-5h0m-1 1h0m0 3h0m-1-1h0m0 1h0m-1-4h0m0 1h0m-1 0h0m0 4h0m0-5h0m-2 3h0m0-1h0m-1 3h0m-1-4h0m0-1h0m-1 3h0m0 2h0m0-5h0m0 2h0m0 2h0m-1-3h0m0-1h0m-1 5h0m-1-4h0m0 2h0m0 2h0m-1-2h0m0-3h0m0 4h0m-1-1h0m-1 1h0m-1-1h0m-1-2h0m0 3h0m-1-2h0m0 2h0m0-3h0m-1 2h0m0-3h0m0 2h0m-1 3h0m-1-2h0m0 2h0m-1-4h0m0 2h0m0-3h0m-1 3h0m0-1h0m0 2h0m-1-4h0m-1 1h0m0-1h0m0 2h0m-1 2h0m0 1h0m-1 0h0m0-1h0m-1-4h0m0 2h0m0 2h0m0-3h0m-1 0h0m0-1h0m0 4h0m-1-3h0m0-1h0m0 4h0m-2-1h0m0 2h0m0-3h0m-1-2h0m-1 5h0m0-5h0m0 4h0m-1-3h0m0 2h0m-1 0h0m0-3h0m-1 5h0m0-3h0m0 2h0m-1-3h0m0 4h0m0-5h0m0 2h0m-1 3h0m0-5h0m-1 1h0m0 4h0m-2-5h0m0 4h0m-1-3h0m-1 3h0m-2-2h0m-1-2h0m0 2h0m-1 1h0m0 2h0m-1 0h0m0-3h0m-1 2h0m0-1h0m0 2h0m-1 0h0m0-1h0m-1 1h0m0-5h0m-1 1h0m0 3h0m-1-3h0m0 4h0m-1-1h0m0-3h0m0 2h0m-1-3h0m0 2h0m0 1h0m-1 0h0m0-3h0m-1 1h0m0-1h0m0 2h0m0 2h0m-1-3h0m0 2h0m-1-1h0m-1 1h0m0 2h0m0-3h0m-1-1h0m0 4h0m-1-3h0m-1 1h0m0-1h0m0 2h0m-1 1h0m0-5h0m0 2h0m-1-1h0m0-1h0m-2 3h0m0-3h0m0 2h0m-1 0h0m0-1h0m-1 0h0m0 4h0m0-3h0m-1-1h0m0 4h0m0-3h0m-1 1h0m-1 0h0m0-3h0m0 2h0m-1-2h0m0 2h0m-1 1h0m0 2h0m-1 0h0m-1-2h0m0-1h0m-2-2h0m0 2h0m0 2h0m0-1h0m-1 1h0m0-3h0m0 4h0m-1 0h0m0-1h0m-1-3h0m0 2h0m0-3h0m-1 4h0m-4-2h0m0 2h0m-1 0h0m-1-2h0m0 2h0m-1-2h0m0 2h0m0-1h0m-1-2h0m-2 3h0m-1 1h0m0-1h0m-1-4h0m0 2h0m-1-1h0m0 1h0m0 2h0m-1-3h0m0 2h0m0-1h0m-2-1h0m0 4h0m-1-3h0m0 2h0m-2 1h0m-1-2h0m0 1h0m-1-1h0m-1-3h0m-1 0h0m-1 4h0m0 1h0m0-5h0m-1 2h0m-1-2h0m-1 2h0m0-1h0m-1 4h0m-1-2h0m0-1h0m0 2h0m-1 0h0m0-3h0m0 4h0m0-5h0m-1 4h0m0-1h0m0-3h0m-1 5h0m0-3h0m0 2h0m-1 1h0m-1-3h0m0 3h0m-1-5h0m-1 2h0m0-1h0m-3 1h0m-1 1h0m-1-1h0m-1 3h0m-1 0h0m-3-2h0m-1 2h0m-2-4h0m0 1h0m0 2h0m-2-2h0m0-2h0m-2 0h0m0 4h0m-1-3h0m-1 1h0m-1 0h0m0-1h0m0 4h0m-1-1h0m0-1h0m-1-1h0m-1-2h0m-3 1h0m-2 0h0m0 2h0m-1 1h0m0-3h0m-3 1h0m-2 0h0m-7-2h0m14 6h0m3 0h0m3 4h0m0-3h0m2 4h0m0-1h0m1-4h0m0 2h0m1-1h0m1 2h0m1-3h0m1 0h0m0 2h0m0 1h0m2 2h0m2 0h0m0-3h0m0 2h0m1-4h0m0 2h0m0 2h0m1-3h0m0 2h0m1 1h0m1 0h0m1-1h0m0 1h0m1-2h0m0 2h0m1 1h0m0-4h0m1 2h0m1 2h0m2-2h0m0-2h0m1 0h0m0 4h0m0-3h0m0 2h0m1 1h0m0-1h0m1-2h0m0-1h0m1 3h0m0-1h0m1-3h0m0 2h0m1-2h0m0 3h0m1 0h0m1 2h0m0-5h0m0 2h0m0 2h0m1-1h0m0 2h0m0-5h0m2 2h0m1-2h0m0 2h0m2 0h0m0-1h0m1 1h0m0-1h0m0 2h0m0 2h0m1-2h0m0 2h0m0-5h0m3 4h0m0-1h0m3-2h0m0-1h0m0 2h0m1-2h0m0 1h0m0 2h0m1-3h0m0 1h0m2-1h0m0 4h0m1 1h0m0-5h0m1 5h0m1-2h0m1 0h0m1-1h0m1 0h0m0 1h0m3 2h0m0-1h0m1 1h0m1-4h0m0 4h0m1 0h0m1 0h0m0-5h0m1 1h0m1-1h0m0 2h0m1 3h0m1-4h0m0-1h0m1 0h0m0 1h0m0 4h0m1-4h0m0 4h0m1 0h0m0-3h0m0 2h0m1-3h0m1 3h0m0-3h0m2 2h0m1 2h0m0-3h0m1 0h0m0 3h0m1-1h0m0-1h0m2-2h0m0 4h0m1-2h0m0 1h0m1-2h0m1 3h0m1-5h0m0 2h0m0 2h0m0-1h0m1 1h0m0-3h0m0 4h0m1-5h0m0 1h0m0 2h0m2-1h0m1 2h0m0-1h0m1-3h0m1 2h0m0 3h0m1-4h0m0 2h0m0 2h0m1-5h0m0 2h0m0 2h0m0-1h0m1 0h0m0-3h0m1 5h0m1 0h0m0-3h0m1-1h0m1 0h0m0 4h0m1-3h0m0-1h0m1 1h0m0 1h0m1 2h0m1-5h0m0 2h0m0 2h0m0-1h0m1-1h0m0 2h0m0-1h0m0 2h0m1-1h0m2-2h0m0 2h0m0-3h0m1 1h0m0 1h0m0-3h0m1 0h0m0 2h0m1-2h0m0 1h0m2 2h0m0-1h0m1-2h0m3 2h0m1 0h0m1-1h0m0 2h0m0-3h0m1 0h0m1 4h0m0-3h0m2 1h0m1 0h0m0-1h0m0 4h0m1-3h0m1 1h0m0 2h0m0-3h0m1 2h0m0 1h0m0-5h0m1 3h0m1 2h0m1-5h0m1 0h0m1 5h0m1-5h0m0 2h0m0-1h0m1 0h0m0 2h0m2-1h0m1-2h0m1 1h0m0-1h0m1 0h0m1 4h0m1-4h0m2 0h0m0 2h0m1 0h0m0-1h0m1 1h0m0 2h0m2-2h0m1-2h0m0 2h0m2-2h0m0 2h0m1-2h0m5 0h0m-15 10h0m-2-3h0m-2 2h0m-2-2h0m-2 4h0m0-5h0m-3 1h0m0-1h0m-1 5h0m-1-3h0m-1 1h0m-1-3h0m0 2h0m0 2h0m0 1h0m-1-4h0m0 3h0m-2-3h0m0 2h0m0-3h0m0 2h0m-1 1h0m0 2h0m0-1h0m0-3h0m-1 0h0m-1 3h0m-1-3h0m-1 3h0m-1-3h0m0 4h0m-1-3h0m0 2h0m0-3h0m-1-1h0m0 4h0m-1-1h0m0 2h0m-1-4h0m-1 1h0m-1 1h0m0 1h0m-2-1h0m0-3h0m0 2h0m0 2h0m-1 1h0m-1-5h0m-2 0h0m0 2h0m-2 3h0m0-5h0m0 2h0m-1-2h0m0 2h0m-1 2h0m-1 1h0m0-3h0m0 2h0m-1-2h0m-1 0h0m0 2h0m-1 0h0m-1-3h0m-1 2h0m0 2h0m0-5h0m0 4h0m-1-2h0m-1-2h0m0 2h0m-3 3h0m0-3h0m0 2h0m-1-1h0m-1-1h0m-1 2h0m-1-2h0m0-1h0m-1 0h0m0 2h0m0-3h0m-1 0h0m-1 1h0m0 1h0m-1 1h0m0 2h0m0-5h0m0 2h0m0 2h0m-1 0h0m-1 1h0m-1-1h0m-1-3h0m0-1h0m-3 5h0m0-3h0m0-1h0m0 2h0m-1-1h0m-1-2h0m0 4h0m0 1h0m-1-4h0m0-1h0m-1 2h0m0 1h0m-1 2h0m-1-5h0m-2 5h0m-1-4h0m-1 0h0m0 1h0m-3 2h0m-1-3h0m-1 0h0m0 2h0m-1-3h0m0 2h0m-3-2h0m0 1h0m-1 1h0m-1 3h0m-1-4h0m0-1h0m-2 3h0m-1-1h0m0 2h0m-1 1h0m-1-2h0m-1 1h0m-1-3h0m-1 1h0m0 2h0m0 1h0m-1-3h0m-2-1h0m0 1h0m-1-2h0m-1 5h0m-1-4h0m0 2h0m-2-2h0m-2 4h0m0-5h0m-1 4h0m0-3h0m-1 4h0m-1-1h0m0-2h0m-1 3h0m-1-3h0m0 2h0m-1-3h0m-1 4h0m0-5h0m-1 1h0m0 2h0m0 2h0m-1-5h0m-1 3h0m0 2h0m-1-5h0m-1 3h0m-1 1h0m-1-2h0m-1 2h0m0-4h0m-1 2h0m-1 3h0m-1-2h0m0 2h0m0-3h0m-2-1h0m0 2h0m-1-1h0m-3 0h0m2 5h0m3 4h0m4-3h0m0-1h0m1 3h0m1-3h0m1 1h0m1-2h0m1 1h0m1-1h0m1 5h0m0-2h0m1-3h0m0 2h0m1 3h0m0-5h0m0 2h0m2 1h0m1-2h0m0 2h0m1-2h0m1 1h0m0 2h0m1-4h0m0 1h0m1 2h0m0 2h0m0-3h0m1 1h0m0 2h0m0-3h0m1 2h0m1-1h0m1 0h0m0-3h0m2 3h0m0 2h0m0-5h0m2 2h0m1 3h0m0-5h0m0 1h0m1 3h0m0-1h0m1 1h0m1-2h0m0-1h0m0 2h0m1 1h0m0-1h0m1 2h0m0-5h0m0 2h0m1 0h0m0-1h0m1 0h0m0 4h0m1-3h0m2-1h0m1-1h0m2 2h0m0 1h0m1 0h0m0-1h0m1 0h0m0 2h0m2-3h0m2 1h0m0 1h0m2 0h0m0-3h0m1 2h0m0-1h0m0 2h0m1-2h0m1 0h0m0 2h0m1-1h0m1-1h0m0-1h0m0 2h0m1-2h0m0 2h0m0 3h0m1-1h0m0-3h0m1 1h0m0 2h0m0-3h0m1 0h0m0 2h0m0-3h0m0 2h0m1 3h0m2-3h0m2-1h0m2 2h0m2 1h0m1-4h0m0 4h0m1-1h0m0 2h0m1-4h0m1 3h0m0-1h0m0 2h0m1-3h0m0-2h0m1 2h0m0-1h0m0 2h0m1 2h0m1-2h0m2 2h0m1 0h0m2-3h0m1 0h0m0 2h0m1 0h0m0-1h0m1-1h0m0 1h0m0-3h0m1 4h0m0-4h0m0 2h0m1 3h0m1-5h0m1 3h0m1 2h0m0-5h0m0 2h0m1 2h0m0 1h0m1-1h0m0-3h0m0 2h0m1-2h0m0 2h0m1 0h0m1-2h0m1 3h0m1-2h0m1-1h0m0 4h0m1 0h0m0-3h0m1 2h0m0 1h0m1-4h0m0-1h0m0 2h0m1-2h0m0 2h0m1-2h0m2 3h0m1 1h0m0-1h0m0-3h0m1 1h0m0 4h0m1-4h0m1 0h0m1 0h0m2 0h0m1-1h0m0 4h0m1-4h0m2 2h0m3-1h0m-12 6h0m-4 0h0m0-1h0m-1 0h0m0 1h0m-1 2h0m-4-2h0m0 1h0m-1 1h0m-2-1h0m-1-1h0m-2 0h0m-1-1h0m-2 1h0m0-1h0m0 2h0m-1-1h0m-1 3h0m-1-2h0m-1-1h0m0 2h0m0-1h0m-2-2h0m0 2h0m0 2h0m-1-3h0m-1 1h0m0 2h0m0-4h0m-1 5h0m-1-3h0m-1 1h0m0 1h0m-1-3h0m0 2h0m-1 0h0m0-1h0m0 2h0m-1-1h0m0-1h0m0 2h0m0-3h0m-1 0h0m0 4h0m0-5h0m-2 0h0m0 2h0m0 2h0m-1 1h0m0-5h0m-1 3h0m0-3h0m-1 5h0m0-1h0m0-3h0m-1 3h0m-1 1h0m0-3h0m-1 3h0m0-3h0m-1-2h0m0 4h0m-1-1h0m0 2h0m-1-4h0m0 2h0m0-3h0m-1 3h0m0 2h0m-1-4h0m0-1h0m-2 2h0m-1-2h0m0 2h0m-1 1h0m0 1h0m-2-1h0m-2 2h0m0-3h0m-1-1h0m-1 3h0m-1-3h0m0 2h0m-1-1h0m-1 3h0m-1-2h0m-1 2h0m-1-5h0m-1 1h0m0 1h0m-1 2h0m0 1h0m0-3h0m-1 3h0m-1-3h0m-1 1h0m0 2h0m-1-5h0m0 3h0m-1-3h0m-1 4h0m-1-4h0m-1 3h0m0-3h0m0 2h0m0 2h0m-1-4h0m0 2h0m-1 3h0m-1 0h0m-1-1h0m-1-4h0m-1 3h0m-1-1h0m-1-1h0m-1 3h0m0-3h0m0 2h0m0 2h0m-1 0h0m-1-3h0m0 2h0m-1 0h0m-1 1h0m0-5h0m-2 3h0m0 1h0m-2 1h0m0-5h0m-1 1h0m-2-1h0m-1 1h0m0 2h0m0-1h0m-1-1h0m-1 3h0m-1-3h0m0 2h0m0-3h0m-1 3h0m0 2h0m-1 0h0m0-4h0m-1 0h0m0 1h0m-3-2h0m0 3h0m-2 1h0m4 3h0m1 1h0m3 3h0m1 0h0m5-5h0m0 1h0m1 2h0m0-3h0m0 2h0m0 2h0m1-4h0m0 4h0m0-3h0m1 1h0m0 1h0m1-2h0m0 4h0m1-4h0m3 2h0m0 2h0m1-1h0m0-1h0m1 1h0m0 1h0m0-5h0m1 2h0m1 2h0m0-3h0m0 2h0m1-2h0m1 1h0m1-1h0m0 2h0m1-2h0m0 2h0m0 2h0m1 0h0m0-3h0m0 1h0m1-3h0m1 0h0m1 3h0m0 2h0m1-5h0m0 2h0m1-1h0m1 1h0m0 1h0m1-2h0m0 4h0m1-3h0m0-1h0m1-1h0m1 0h0m0 4h0m1-4h0m0 2h0m0 2h0m0-1h0m1-2h0m1 2h0m1-2h0m0 4h0m2-3h0m0-1h0m1 2h0m3-1h0m2-1h0m1 1h0m0 2h0m0-4h0m3 0h0m2 4h0m1-2h0m1-1h0m3-1h0m1 2h0m1 0h0m1-2h0m0 1h0m1-1h0m0 2h0m0-1h0m1-1h0m0 1h0m1 0h0m6-1h0m1 0h0m2 1h0m7 0h0m-22 5h0m-14 0h0m-1 0h0m-2 1h0m-1-1h0m-2 1h0m-2 0h0m-2 1h0m-1 2h0m-1 0h0m-1-4h0m0 4h0m0-3h0m-1-1h0m-2 2h0m-2-1h0m-1 2h0m-2-2h0m-4 0h0m-1 0h0m-1 2h0m0-1h0m-2-1h0m0 2h0m0-3h0m-4 5h0m-1-4h0m0 1h0m-1-1h0m-1-1h0m-1 2h0m0-1h0m-2 1h0m0 2h0m-1-1h0m0-3h0m-1 1h0m-2 2h0m-1-1h0m-1-1h0m0-1h0m5 6h0m1 0h0m3 1h0m6 0h0m1 0h0m2 2h0m1-2h0m2-1h0m0 1h0m1 1h0m2-2h0m11 0h0" transform="scale(.5)" fill="none" stroke="#5ec962" stroke-width="2.3" stroke-linecap="round" opacity="0.92"/>
<path d="M197 457h0m3 3h0m1-2h0m0 2h0m4-1h0m24 8h0m-4-1h0m-1 1h0m-2-2h0m0 2h0m-2 0h0m-3-3h0m-1 1h0m-1-2h0m0 4h0m-1-4h0m0 4h0m0-1h0m-1-3h0m-1 2h0m0 2h0m-1-2h0m-2 2h0m-1-5h0m0 2h0m-2 1h0m0-1h0m-1 0h0m0-1h0m0 2h0m0 2h0m-1-3h0m0-2h0m-1 2h0m0 2h0m0-4h0m-1 1h0m0 4h0m-1-5h0m0 1h0m-2 3h0m-4 1h0m-1 0h0m-1-2h0m-1 1h0m-5 6h0m2-3h0m1 1h0m0 2h0m3 0h0m1 0h0m0 1h0m1-3h0m1 3h0m2-2h0m0 2h0m0-1h0m1 1h0m0-5h0m0 2h0m1-1h0m1 4h0m0-3h0m1 1h0m1 0h0m0 2h0m1-2h0m0 2h0m0-5h0m0 2h0m0 2h0m1 0h0m0-3h0m1 3h0m0-1h0m0-3h0m0 2h0m1 1h0m2-3h0m0 4h0m0-3h0m1 2h0m0-3h0m0 4h0m0-3h0m1 4h0m1-4h0m1 4h0m0-4h0m1-1h0m2 0h0m0 4h0m0-3h0m0 2h0m1 1h0m0-4h0m1 5h0m1-4h0m2 1h0m0 2h0m0 1h0m0-5h0m1 3h0m1-3h0m0 2h0m0 2h0m1-2h0m0 3h0m1-5h0m0 4h0m1-2h0m0 1h0m1 0h0m0-1h0m1 2h0m3 1h0m2-3h0m3 3h0m1-2h0m2 1h0m2 0h0m17 7h0m-1-1h0m-7 1h0m-1-4h0m-1 0h0m0 2h0m-2 1h0m0-3h0m0 1h0m-2 1h0m0-1h0m-1 0h0m-1 0h0m-2-2h0m0 2h0m0 2h0m-2-1h0m0 2h0m-1 0h0m0-3h0m-2-1h0m-1 0h0m-1 4h0m0-5h0m0 4h0m-1 1h0m0-5h0m0 4h0m-1-1h0m-1 2h0m0-2h0m-1-2h0m0 1h0m-1-2h0m-2 4h0m-1-2h0m-1-2h0m-1 1h0m0 2h0m-1-1h0m-1-1h0m-1 3h0m0-3h0m0 1h0m-1 3h0m0-3h0m-1-1h0m0 2h0m0-3h0m-1 3h0m-1 2h0m-1 0h0m-1 0h0m-1-3h0m0 2h0m0 1h0m-1-1h0m-1-1h0m-1 0h0m0-1h0m-1 1h0m0-3h0m-1 1h0m0 4h0m0-5h0m-1 3h0m-2 2h0m0-1h0m-1-3h0m0 2h0m0 2h0m-1-5h0m0 2h0m-1-1h0m0 2h0m0 2h0m0-3h0m-1 2h0m0 1h0m-1-1h0m0-3h0m0 2h0m-1 1h0m0-3h0m0 4h0m0-3h0m-1-2h0m-1 1h0m0 1h0m-2 3h0m-1-4h0m0 2h0m-1-3h0m-1 2h0m0-1h0m0-1h0m-1 2h0m0-1h0m-1 3h0m-1 0h0m0-1h0m0-1h0m-1 1h0m0 2h0m0-5h0m-2 0h0m-2 9h0m0 2h0m2-1h0m0 1h0m1-2h0m1-1h0m0 2h0m0-4h0m1 5h0m2-5h0m0 4h0m0-1h0m0 2h0m1-2h0m0 2h0m0-5h0m0 2h0m0-1h0m1 1h0m0 3h0m1 0h0m1-4h0m0 2h0m1 0h0m1-1h0m0 2h0m0-3h0m0 2h0m1 0h0m0-3h0m1 5h0m0-5h0m0 3h0m1-3h0m0 4h0m1-4h0m0 2h0m0-1h0m1 0h0m1 3h0m1-4h0m0 2h0m0 1h0m1-3h0m0 2h0m0 2h0m1 1h0m0-2h0m1-2h0m0 4h0m0-5h0m2 3h0m0-1h0m0 2h0m1-2h0m0 2h0m0 1h0m1 0h0m0-1h0m1 1h0m0-4h0m0 2h0m1 0h0m0-3h0m0 2h0m0 2h0m1-4h0m0 4h0m0-1h0m1 2h0m0-3h0m0 2h0m1-1h0m1 2h0m0-1h0m1-4h0m0 4h0m0-3h0m0 4h0m2 0h0m0-1h0m1 1h0m1-2h0m0-3h0m0 2h0m1 2h0m1 1h0m0-1h0m2 1h0m1-4h0m1 2h0m0-3h0m2 1h0m0 2h0m0 2h0m0-1h0m1-4h0m0 2h0m0-1h0m0 2h0m1-3h0m0 1h0m1 2h0m1 2h0m0-5h0m0 1h0m1 1h0m0-1h0m0-1h0m1 5h0m0-3h0m0 2h0m1-1h0m0-3h0m1 1h0m0 4h0m1-3h0m1-2h0m0 2h0m0-1h0m1 1h0m0 1h0m1 2h0m0-3h0m2 0h0m1 2h0m0-1h0m1-1h0m0-1h0m1-1h0m1 1h0m1 2h0m0-1h0m1-2h0m0 2h0m1 1h0m0-1h0m0 2h0m0-3h0m1 2h0m1-1h0m0 1h0m1 1h0m2 1h0m0-5h0m1 3h0m0 2h0m1-2h0m1 1h0m0-3h0m2 1h0m2 1h0m0 2h0m2 0h0m2 0h0m3 0h0m4 6h0m-1-2h0m0 2h0m0-4h0m-1 3h0m-1-3h0m-1 4h0m-1-4h0m0 4h0m0-3h0m-1-1h0m0 1h0m-4 1h0m0 2h0m-1-4h0m0 2h0m0 2h0m-1-4h0m-1 2h0m0-3h0m0 1h0m-1 0h0m0 4h0m-1-3h0m-1-1h0m0 2h0m-1 2h0m0-4h0m-1-1h0m0 4h0m0-1h0m-1-2h0m-1 0h0m0 2h0m-1-3h0m-2 5h0m0-5h0m-1 4h0m-1-3h0m0 2h0m0-3h0m0 4h0m-4-4h0m0 4h0m-1 1h0m-1-4h0m-1 4h0m0-5h0m0 4h0m-1 1h0m-1-2h0m-1-3h0m0 2h0m-1-1h0m0-1h0m0 2h0m0 2h0m-1-3h0m-1 1h0m-1 1h0m0 2h0m0-3h0m0 2h0m-1 1h0m-1-2h0m-1 1h0m-1-1h0m-1-2h0m0-1h0m-1 3h0m-1-2h0m-1 0h0m0-1h0m-1 3h0m0-1h0m0 2h0m-1-3h0m0-1h0m0 2h0m-1 0h0m-1-1h0m0 4h0m0-5h0m-1 2h0m-1-1h0m0 2h0m-1-2h0m0 4h0m0-5h0m-1 5h0m0-5h0m0 2h0m-2-1h0m-1 2h0m0 2h0m0-4h0m-1 0h0m0 2h0m0 2h0m-1-4h0m0 2h0m0-3h0m0 4h0m-1 0h0m0-3h0m0 4h0m0-5h0m-1 1h0m0 2h0m-1 0h0m0 2h0m0-1h0m-1-3h0m0-1h0m0 2h0m-1 0h0m0 1h0m-1-3h0m-1 0h0m0 3h0m-1 2h0m0-5h0m0 2h0m-1 2h0m0-1h0m0 2h0m0-5h0m-1 1h0m0 2h0m0-3h0m0 4h0m-1-4h0m0 2h0m0 2h0m0-3h0m0 2h0m-1 0h0m0-1h0m0 2h0m-1-2h0m0-1h0m0 2h0m-1 2h0m0-3h0m0 2h0m-1 1h0m0-3h0m-1 3h0m0-3h0m-1 3h0m0-5h0m0 4h0m-1-3h0m0 2h0m0 2h0m0-5h0m-1 1h0m0 4h0m0-1h0m-1-3h0m0-1h0m-1 5h0m0-5h0m-1 1h0m-1 0h0m0 2h0m0 2h0m0-3h0m-1-1h0m0-1h0m0 2h0m-1-1h0m0 2h0m-1-3h0m0 2h0m0-1h0m-1 3h0m0-1h0m-1 1h0m-1-3h0m0 2h0m-1 2h0m-1-1h0m-1 1h0m0-2h0m-3-2h0m-1 1h0m-3-1h0m1 6h0m2 4h0m0-2h0m2 0h0m0 2h0m0-4h0m1 3h0m0-1h0m0 2h0m1 0h0m1-1h0m0-1h0m0 2h0m1 0h0m1-3h0m0-1h0m1 2h0m0 2h0m0-3h0m0 2h0m1-1h0m0 2h0m0-1h0m1-1h0m1-1h0m0 1h0m1-1h0m1-1h0m0 2h0m0-3h0m0 2h0m1 1h0m0 2h0m0-3h0m1 0h0m0 2h0m0-3h0m0 2h0m0-3h0m1 2h0m0-1h0m1 2h0m0 2h0m0-1h0m1-1h0m0 2h0m0-1h0m1-4h0m0 1h0m0 2h0m1-2h0m0 2h0m1 2h0m0-3h0m0 1h0m1-3h0m0 4h0m1-1h0m0-3h0m1 0h0m0 4h0m0-3h0m0 2h0m0 2h0m1 0h0m0-5h0m0 2h0m0 1h0m1-3h0m0 1h0m0 4h0m1 0h0m1-4h0m0 2h0m1 0h0m0 2h0m0-3h0m1-2h0m0 3h0m1-3h0m1 3h0m0-1h0m1-2h0m0 2h0m0 1h0m0 2h0m2-1h0m0 1h0m2 0h0m0-4h0m0 2h0m1 1h0m1-1h0m0-3h0m1 2h0m0 3h0m1 0h0m1 0h0m0-5h0m0 2h0m0-1h0m1-1h0m0 2h0m0 2h0m0-1h0m1 2h0m0-3h0m0 2h0m0-1h0m1-3h0m0 2h0m1 2h0m0-3h0m1 0h0m0 4h0m0-3h0m1 3h0m1 0h0m2-5h0m0 3h0m1-3h0m0 2h0m1 3h0m0-5h0m1 4h0m0-1h0m0 2h0m1-5h0m0 2h0m0 1h0m0 2h0m1-3h0m1-1h0m0 2h0m0 2h0m0-3h0m1 3h0m0-4h0m0 2h0m1 2h0m0-3h0m1-2h0m0 2h0m0 1h0m1-1h0m0 2h0m0-4h0m1 5h0m1 0h0m1-1h0m0-3h0m0 2h0m1-2h0m0 4h0m1-5h0m0 4h0m2 1h0m1-1h0m3-1h0m2-2h0m0-1h0m1 0h0m0 5h0m1 0h0m1-4h0m1-1h0m1 1h0m0-1h0m0 2h0m1 0h0m0-1h0m2 0h0m0-1h0m1 2h0m0 2h0m0-3h0m1 1h0m0 3h0m1 0h0m1-5h0m1 0h0m1 1h0m1 1h0m0 2h0m1-3h0m1 2h0m0-3h0m1 1h0m0 4h0m1-4h0m2 4h0m1-2h0m0-1h0m1-2h0m1 2h0m1 0h0m0 2h0m0-1h0m1-2h0m0 4h0m0-3h0m1 1h0m1 0h0m2 0h0m0 2h0m1-1h0m0 1h0m2-2h0m1 2h0m3-1h0m-3 4h0m-1 0h0m0 2h0m0-1h0m-1 0h0m0-3h0m-1 3h0m-1-1h0m-1-2h0m-1 2h0m-1 0h0m-2 0h0m-1 1h0m-1-3h0m0 2h0m-2 3h0m0-2h0m-1 2h0m0-3h0m-4 3h0m-2-2h0m0-2h0m-1 4h0m-1-5h0m0 1h0m0 2h0m-1-2h0m0 1h0m-1 3h0m0-3h0m-1-2h0m0 4h0m-1 1h0m0-1h0m-2 1h0m-1-4h0m0 2h0m-2 0h0m-1 0h0m0-1h0m-2-2h0m-1 5h0m-1-3h0m-1 2h0m-1-4h0m0 4h0m-3-1h0m-2 0h0m0-3h0m0 4h0m-1-1h0m-1 2h0m0-3h0m0 2h0m-2-1h0m0-3h0m0 4h0m-1 0h0m0-3h0m0 2h0m-1-2h0m-1-1h0m0 4h0m-1 0h0m0-2h0m-1 2h0m0 1h0m-1 0h0m0-1h0m-1-1h0m0 2h0m-1-5h0m0 2h0m0-1h0m-1 2h0m0 2h0m0-3h0m-1 3h0m-1 0h0m-1-2h0m0-1h0m0 2h0m-1 1h0m-1-5h0m0 4h0m0-1h0m0 2h0m-1-2h0m0 2h0m0-3h0m0 2h0m-1 0h0m0-3h0m0 2h0m0 2h0m-1-5h0m-1 1h0m0 2h0m0-3h0m0 2h0m-1 0h0m-1-1h0m0 2h0m0 2h0m0-1h0m-1 1h0m-1-1h0m0-4h0m-1 4h0m0-3h0m0 2h0m0-1h0m-1-1h0m0 2h0m-1-3h0m0 4h0m0-1h0m-1-2h0m0 2h0m-1-3h0m-1 1h0m0 4h0m0-3h0m-1 0h0m0-1h0m-1 4h0m-1-3h0m-1 3h0m-1-2h0m0-1h0m-1 2h0m0-1h0m-1-1h0m0 3h0m-1 0h0m0-5h0m-1 3h0m0 2h0m0-1h0m-1-1h0m0 2h0m0-3h0m-1-1h0m0-1h0m0 4h0m-1 1h0m0-3h0m0 2h0m-1-2h0m0-1h0m0 2h0m-1-2h0m0 2h0m0-3h0m-1 4h0m0-3h0m-1-1h0m0 2h0m0-1h0m0 2h0m-1-2h0m0 1h0m0 2h0m-1-4h0m0 2h0m0 2h0m0-1h0m-1-2h0m0 2h0m0 1h0m-1-2h0m0 2h0m0 1h0m0-5h0m-1 5h0m0-1h0m-1-3h0m0 2h0m-1 1h0m0-1h0m0 2h0m0-3h0m-1 2h0m0 1h0m0-3h0m-1-1h0m0-1h0m-1 1h0m0-1h0m0 4h0m-1-2h0m0 2h0m0-1h0m0-3h0m-1 1h0m0 2h0m-1-2h0m-1 4h0m0-3h0m-4-1h0m-3-1h0m4 7h0m2 0h0m0 4h0m1-2h0m0-3h0m0 2h0m2-1h0m0-1h0m1 3h0m0 1h0m1 0h0m2 0h0m0-3h0m0 2h0m1 2h0m0-3h0m1-2h0m0 2h0m0-1h0m1 1h0m0 3h0m1 0h0m1 0h0m0-3h0m2 3h0m0-1h0m1-2h0m0-1h0m1-1h0m0 2h0m0 2h0m0-3h0m0 2h0m1-1h0m0 2h0m0-3h0m1 0h0m0-1h0m0 2h0m0 2h0m1-4h0m0 4h0m0 1h0m1-3h0m0-1h0m0 4h0m1-5h0m0 2h0m0 2h0m0-3h0m1 3h0m1 1h0m0-3h0m0 2h0m0-3h0m1 0h0m0-1h0m0 2h0m1 3h0m0-4h0m1-1h0m0 4h0m1-2h0m0 1h0m0 2h0m1-5h0m0 4h0m1-2h0m0 2h0m0-3h0m0 2h0m1-1h0m0-1h0m1 0h0m0 1h0m1 2h0m0-3h0m0 4h0m1 0h0m0-3h0m1 0h0m0 2h0m0-3h0m1 1h0m0 1h0m2-3h0m0 2h0m0 2h0m0-3h0m1 3h0m0-1h0m1 0h0m0-3h0m1 0h0m0 2h0m1-1h0m1 1h0m0 1h0m1-3h0m0 2h0m0 2h0m1-3h0m0 2h0m1 1h0m0-3h0m0 2h0m1-1h0m0 2h0m0-3h0m1 4h0m0-5h0m1 0h0m1 2h0m0 2h0m0-1h0m0 2h0m1-2h0m1-2h0m0 4h0m0-5h0m0 2h0m1 1h0m0 2h0m0-3h0m0 2h0m1 1h0m1-4h0m0 4h0m0-5h0m0 2h0m0 2h0m1-4h0m0 4h0m0-3h0m0 2h0m1 1h0m0-3h0m1-1h0m0 1h0m0 2h0m1 2h0m1-1h0m0-3h0m0-1h0m1 2h0m0-1h0m0 4h0m1-2h0m0 2h0m1-3h0m0-1h0m0 2h0m1-1h0m0 2h0m0-1h0m1 2h0m0-5h0m1 1h0m0 2h0m1-1h0m0-1h0m1 0h0m0-1h0m2 4h0m0-3h0m1 0h0m2-1h0m1 4h0m1 0h0m0-1h0m0 2h0m1-1h0m1-1h0m2-1h0m0-1h0m0 2h0m1 0h0m0 1h0m1 0h0m1 0h0m0-4h0m1 5h0m1-1h0m0-1h0m0 2h0m1-4h0m0 1h0m0 2h0m1 0h0m1-3h0m0 4h0m0-5h0m1 3h0m0 2h0m1-2h0m0 2h0m1-2h0m2-1h0m0 1h0m1-3h0m1 2h0m1-2h0m1 3h0m1 1h0m1-4h0m0 2h0m1 2h0m1 0h0m2-2h0m1 3h0m1-1h0m1-2h0m1-2h0m1 3h0m3 2h0m2-3h0m-3 6h0m0 2h0m-1-3h0m0 1h0m0 2h0m-2 0h0m0 1h0m-1-1h0m0-3h0m-1 3h0m-1-4h0m-5 3h0m-2-3h0m-2 4h0m-4 1h0m0-1h0m0-3h0m-1 0h0m0 2h0m-1 2h0m0-5h0m0 2h0m-1 2h0m0-1h0m-1 0h0m-1-1h0m0 1h0m-2 0h0m-1 2h0m0-1h0m-1 0h0m-1-3h0m0 2h0m0 2h0m-1-2h0m0 2h0m0-1h0m-1-2h0m-1-1h0m-1 1h0m-1 0h0m-1 3h0m-1-3h0m-1-1h0m0 2h0m-2 2h0m0-5h0m0 4h0m-1-1h0m0 2h0m-1-5h0m0 1h0m0 4h0m-3-2h0m0-3h0m0 2h0m0 2h0m-1-3h0m-1-1h0m-1 4h0m-2-2h0m-1-1h0m0 2h0m0-3h0m0 4h0m-1-3h0m0 1h0m-1-1h0m0 4h0m0-5h0m0 2h0m0 2h0m-1-2h0m0-1h0m-1-1h0m0 4h0m-1 1h0m0-5h0m0 2h0m-1-1h0m0 4h0m-1-3h0m0 2h0m0-3h0m-1 2h0m0 2h0m0-3h0m0 2h0m-1-3h0m0 1h0m-1 3h0m0-5h0m0 2h0m0-1h0m-1-1h0m-1 1h0m0 2h0m-1 0h0m0 2h0m0-3h0m-1 1h0m0-3h0m-1 0h0m-1 1h0m0 2h0m0-3h0m0 4h0m-2 0h0m0-1h0m-1 0h0m0-1h0m0 2h0m-1-1h0m0 2h0m-1-1h0m0-3h0m-1 0h0m0 2h0m0-1h0m-1 3h0m0-3h0m0 2h0m-1-1h0m0 2h0m0-5h0m-1 4h0m0-1h0m0 2h0m0-5h0m-1 0h0m0 2h0m-1-1h0m0 4h0m-2-4h0m0 2h0m0 2h0m0-5h0m0 4h0m-1 1h0m0-1h0m-1-1h0m0-3h0m-1 1h0m0 4h0m-1-4h0m0 4h0m0-3h0m-1 1h0m0 2h0m0-5h0m0 4h0m-1-3h0m0 2h0m0-1h0m-1 2h0m0-1h0m0-3h0m-1 5h0m0-1h0m0-3h0m-1 2h0m0-1h0m-1-1h0m0-1h0m0 2h0m0 2h0m-1 0h0m0-3h0m0 4h0m0-5h0m-1 1h0m0-1h0m0 2h0m0 2h0m-1-3h0m0 4h0m0-5h0m-2 3h0m0-3h0m0 2h0m0 2h0m-1 1h0m0-5h0m0 2h0m-1-2h0m0 2h0m0-1h0m-1 0h0m0-1h0m0 2h0m-1 0h0m0-1h0m0 2h0m-1-2h0m0 4h0m0-1h0m-1-3h0m0 4h0m0-3h0m-1 3h0m0-5h0m-1 1h0m0-1h0m-1 0h0m0 2h0m-2 0h0m0 3h0m0-5h0m-1 1h0m0 1h0m-1-2h0m0 4h0m-1-1h0m1 5h0m0-1h0m1 1h0m0-1h0m2 1h0m1-1h0m0-1h0m1 1h0m1 1h0m0-1h0m0 2h0m0 2h0m2-1h0m0-3h0m0 4h0m1-4h0m0 2h0m0-3h0m0 2h0m0 2h0m1 1h0m0-1h0m0-3h0m1-1h0m0 2h0m1-1h0m0 4h0m0-5h0m1 2h0m0 2h0m1-3h0m0 4h0m1 0h0m0-5h0m0 4h0m0-1h0m1-2h0m0 4h0m1-1h0m0-1h0m0 2h0m1 0h0m0-3h0m1-1h0m0 2h0m1-2h0m1 1h0m0 2h0m0-3h0m0 2h0m1 1h0m1-2h0m0 1h0m1 1h0m0-1h0m1-2h0m0 4h0m0-5h0m1 2h0m0 1h0m1 0h0m0-3h0m1 0h0m0 2h0m0 3h0m1-1h0m0-3h0m0 4h0m1-5h0m0 2h0m0 2h0m0-1h0m1-1h0m0 1h0m0 2h0m1-2h0m1-1h0m1-1h0m1 1h0m0 3h0m1-5h0m0 3h0m1-2h0m0 1h0m1 2h0m0-2h0m1-1h0m0 2h0m0-1h0m0 2h0m1 1h0m0-5h0m1 2h0m0 2h0m0-4h0m1 3h0m0-3h0m1 2h0m0 3h0m1-3h0m0 1h0m0 2h0m1-2h0m0 2h0m0-3h0m0-1h0m2 3h0m0-3h0m0 2h0m0 2h0m1-4h0m0 2h0m0 2h0m0-1h0m1-4h0m0 2h0m0-1h0m0 4h0m1-1h0m0-3h0m0 2h0m1 1h0m0-1h0m1 0h0m0 2h0m0-5h0m1 4h0m0-3h0m0 2h0m1 0h0m0-1h0m1 2h0m0-1h0m0-3h0m1 0h0m1 5h0m1-4h0m0 2h0m0 1h0m1 0h0m0-4h0m1 2h0m0-1h0m1 0h0m0 4h0m1-3h0m0 1h0m1-3h0m2 5h0m1-1h0m1-3h0m1 3h0m0-3h0m0 4h0m1-3h0m1 2h0m0-1h0m1-2h0m0 2h0m0-3h0m1 1h0m0 4h0m2-3h0m0 3h0m2-3h0m0 3h0m1-1h0m1-2h0m0 2h0m0-1h0m1 1h0m1-4h0m0 2h0m1-1h0m0 4h0m1-5h0m1 2h0m0 2h0m1-3h0m1 4h0m2-4h0m0 2h0m0-3h0m0 4h0m1-4h0m1 4h0m1-4h0m2 5h0m2-2h0m0-3h0m1 0h0m2 1h0m0 4h0m1 0h0m3 0h0m1-3h0m1 1h0m0-3h0m0 2h0m1-2h0m0 4h0m1-3h0m2 0h0m5 0h0m-2 8h0m-1 2h0m-1-1h0m-1-3h0m-2 4h0m0-5h0m0 2h0m0 1h0m-1 0h0m-3-3h0m0 1h0m-1 2h0m-1 2h0m0-3h0m-1-2h0m0 4h0m0-3h0m-1 3h0m-2-4h0m-1 1h0m-1 4h0m-1-2h0m0-3h0m-1 0h0m0 1h0m0 2h0m-1 2h0m0-2h0m-1-2h0m-2 1h0m-1 1h0m0-2h0m-2 1h0m-1 3h0m0-1h0m-2-4h0m-2 2h0m-1 1h0m0-3h0m0 2h0m-1 1h0m0 2h0m-1-1h0m-1-4h0m0 3h0m-1 2h0m0-5h0m0 2h0m-1-1h0m-1-1h0m0 4h0m-2-1h0m-4 1h0m-1-3h0m0 1h0m-1 3h0m0-3h0m-1 3h0m-1-3h0m0 2h0m-1 0h0m-1-3h0m0-1h0m0 2h0m-1 3h0m-1-2h0m0 2h0m0-3h0m-1-2h0m0 2h0m0 2h0m0-3h0m-1 1h0m0-1h0m-1 1h0m0 2h0m-1-2h0m0 2h0m-1 1h0m0-1h0m-1-2h0m0 1h0m-1 0h0m0-3h0m0 2h0m0 2h0m-1-2h0m0 2h0m0-3h0m-1 2h0m-1 1h0m-1-1h0m0 2h0m0-5h0m0 4h0m0-3h0m-1-1h0m0 2h0m0 1h0m-1 2h0m-1-3h0m-1 1h0m0-3h0m0 4h0m-1-1h0m0 2h0m0-5h0m0 2h0m0-1h0m-1 2h0m0-3h0m-1 3h0m0-1h0m0-1h0m-1 1h0m-1 1h0m0 2h0m0-5h0m0 4h0m-1 1h0m-1-2h0m-1-1h0m-1-1h0m0-1h0m0 2h0m0 2h0m-1 1h0m0-3h0m0 2h0m-1 1h0m0-1h0m-1-2h0m0 1h0m-1 2h0m0-3h0m-1 1h0m0-1h0m0 2h0m-1-3h0m0-1h0m0 4h0m-2-4h0m-2 4h0m-2-3h0m-1 4h0m-1-4h0m-1 0h0m0 3h0m-1-4h0m-1 1h0m0 2h0m0 2h0m0-5h0m-1 4h0m-1-4h0m0 4h0m-2-1h0m0-1h0m0 2h0m-1-1h0m-2-2h0m0 2h0m0 1h0m-4-3h0m8 7h0m1 1h0m0-3h0m0 4h0m2-3h0m2-1h0m1 3h0m1-3h0m1 0h0m0 1h0m1 4h0m1-3h0m0-1h0m0-1h0m1 3h0m0-3h0m3 5h0m0-5h0m1 3h0m0-3h0m1 2h0m0-1h0m0 2h0m0-3h0m2 0h0m0 1h0m0 4h0m1-2h0m0 2h0m0-3h0m1 1h0m0 2h0m1-1h0m0-3h0m1 0h0m0 2h0m1-1h0m0 2h0m1-4h0m3 4h0m0 1h0m0-5h0m1 4h0m0-1h0m0-1h0m3 0h0m0 1h0m1-3h0m1 5h0m1-4h0m1 3h0m0-3h0m0 4h0m0-5h0m0 2h0m1-1h0m0 4h0m0-3h0m0 2h0m1-3h0m0 2h0m0-3h0m1 2h0m0 1h0m1-1h0m0 2h0m0-3h0m1 3h0m0-4h0m0 2h0m1 1h0m0 1h0m1-2h0m0 2h0m0-3h0m0 2h0m1-3h0m2 2h0m1-2h0m1 3h0m1-1h0m1 2h0m0-3h0m0 1h0m1-1h0m0-1h0m2 3h0m0 2h0m1-3h0m1-1h0m0-1h0m0 2h0m2 1h0m1 0h0m0 2h0m1 0h0m0-3h0m2-1h0m1 0h0m0 4h0m1-4h0m1 2h0m0-3h0m2 0h0m1 1h0m0 2h0m1-1h0m0 2h0m1-3h0m1 2h0m1-3h0m1 5h0m1-1h0m0 1h0m1-5h0m2 5h0m0-5h0m2 1h0m1 2h0m0 2h0m1-1h0m0-3h0m0-1h0m0 2h0m1 2h0m1-3h0m0 2h0m1-1h0m1 1h0m0-1h0m3-1h0m2 0h0m0 4h0m1-3h0m0 1h0m1 0h0m0-3h0m4 5h0m0-1h0m1 1h0m1-5h0m2 1h0m327 4h0m19 3h0m-5 1h0m-1 2h0m-1-2h0m-1-1h0m-1 2h0m-1 0h0m-1 0h0m0-1h0m-1-3h0m0 4h0m0-1h0m-2 2h0m-2-1h0m-2 0h0m-1-3h0m-2 0h0m-1 1h0m-2 0h0m-2 3h0m-10-1h0m-1-1h0m-1 0h0m-2 2h0m-2-1h0m-2-1h0m-1 1h0m-2 1h0m0-3h0m-3 2h0m-1-3h0m-3 4h0m-6-1h0m-2 1h0m-285 0h0m-1 0h0m0-3h0m-1-1h0m-2-1h0m0 2h0m0 2h0m-1 1h0m-1-4h0m-3-1h0m0 4h0m0-3h0m-1 2h0m0-3h0m-1 0h0m0 2h0m0 2h0m0-3h0m-1 4h0m-1-1h0m0-3h0m-1 1h0m0-1h0m0 4h0m-1 0h0m-1 0h0m0-5h0m0 4h0m-1 1h0m-2-5h0m0 2h0m0-1h0m-1 0h0m0 4h0m-1-2h0m-2-2h0m-1 1h0m-2 1h0m-1 1h0m-2-3h0m0 4h0m0-5h0m0 2h0m0 2h0m-1-3h0m-1 3h0m-2 0h0m-1-4h0m-1 1h0m0 2h0m-1 2h0m0-3h0m0-1h0m-1 3h0m-1 1h0m0-1h0m-1-1h0m0-2h0m-1 0h0m0-1h0m-1 4h0m0-3h0m0 1h0m-1-2h0m-1 5h0m-1-5h0m-1 4h0m-1-1h0m0-3h0m0 2h0m-1 3h0m-1-2h0m-1-3h0m0 4h0m0 1h0m-3-5h0m-2 4h0m-1-4h0m0 4h0m-1-4h0m-1 0h0m0 3h0m-1-3h0m-1 3h0m0-3h0m-3 0h0m0 2h0m0 2h0m0-3h0m-1 4h0m-1-5h0m0 4h0m0-1h0m0 2h0m-1 0h0m0-5h0m0 2h0m0 2h0m-1-1h0m0-1h0m0-1h0m-1 4h0m0-5h0m-1 0h0m0 2h0m0 2h0m0-1h0m-1 0h0m0-1h0m0-1h0m-1 2h0m0-3h0m0 2h0m0-1h0m-1 0h0m0 2h0m0 2h0m0-5h0m-1 5h0m0-3h0m0-1h0m-1-1h0m0 4h0m-1 1h0m0-5h0m-1 5h0m-1-3h0m-1 0h0m0 3h0m-1-3h0m0 2h0m0-3h0m-1 0h0m0-1h0m-1 5h0m-1-3h0m-1 3h0m0-5h0m-1 0h0m0 2h0m0 1h0m-1 0h0m-1-3h0m0 2h0m-3-1h0m0 1h0m-1-1h0m-4-1h0m25 7h0m2 1h0m0 2h0m0-1h0m3-1h0m1 3h0m0-4h0m1 3h0m1-3h0m1 0h0m0-1h0m1 0h0m1 3h0m1 0h0m1-2h0m0 1h0m2 1h0m0 2h0m1-4h0m3 2h0m0-2h0m1 0h0m0 2h0m1 2h0m1-1h0m0 1h0m1-2h0m0-3h0m1 5h0m0-3h0m1 1h0m1 1h0m0-4h0m2 1h0m0 2h0m1 0h0m2-1h0m1-1h0m0 4h0m0-1h0m1-2h0m1 2h0m1-2h0m1-1h0m0 2h0m0-1h0m1-1h0m0 4h0m1-4h0m0 2h0m0 2h0m1-3h0m1 0h0m1 0h0m1-1h0m0 2h0m0 2h0m4-5h0m4 3h0m1 1h0m2 1h0m2-3h0m0 1h0m1 0h0m1-2h0m0 1h0m4-1h0m0 1h0m1 2h0m2-3h0m0 4h0m2-4h0m0 1h0m45-2h0m53 1h0m162 4h0m11-2h0m1 1h0m4-1h0m1-1h0m0 2h0m2-3h0m0 4h0m1-2h0m2 2h0m2-2h0m1-1h0m1 3h0m3-4h0m0-1h0m4 5h0m2-4h0m0 2h0m1 0h0m1-1h0m0 2h0m0 1h0m1-2h0m1 1h0m0 1h0m1-3h0m0 2h0m1-4h0m0 4h0m1 1h0m1-3h0m1 0h0m1-1h0m0 1h0m2 3h0m0-3h0m1-2h0m0 1h0m1 3h0m1 1h0m1-1h0m1 1h0m1-1h0m4-4h0m0 2h0m1 1h0m0 1h0m4 0h0m0-2h0m1-2h0m1 5h0m1-1h0m0-3h0m0 2h0m1 1h0m1-3h0m1-1h0m1 1h0m1 3h0m1 0h0m1-3h0m0 1h0m1 1h0m0 2h0m0-1h0m1-3h0m0 4h0m0-3h0m1 1h0m1 0h0m0 2h0m0-3h0m1-2h0m2 1h0m1 1h0m0 1h0m1 0h0m0 1h0m1 1h0m1-5h0m1 9h0m-5 2h0m-1-2h0m0 2h0m-2-3h0m0 1h0m0 2h0m-1-4h0m-2-1h0m-3 4h0m0-4h0m-1 2h0m-1 1h0m0-3h0m-1 0h0m-1 4h0m0-4h0m-2 2h0m0 1h0m-1-1h0m-1 1h0m-1-3h0m-1 4h0m-2-4h0m-2 5h0m0-4h0m0 2h0m-3 2h0m0-3h0m0 2h0m-1 0h0m0-1h0m-1-2h0m0 2h0m-1-3h0m0 4h0m-1-4h0m-1 0h0m0 4h0m-1-4h0m0 2h0m-1 0h0m-1 0h0m0-1h0m0 2h0m0-3h0m-2 2h0m0 1h0m-1 1h0m-1-3h0m-3 4h0m0-3h0m-2-2h0m-1 3h0m-1-2h0m-3 2h0m0 2h0m-2-4h0m0 1h0m0 2h0m-1 0h0m0-3h0m0 4h0m-1-5h0m-1 2h0m-1-2h0m0 2h0m-1 1h0m-2 1h0m0-1h0m-1-3h0m0 2h0m0 2h0m0-1h0m0 2h0m-1-1h0m0-3h0m-3 1h0m0-1h0m0 4h0m-1-2h0m0-3h0m-1 5h0m0-2h0m-1-2h0m-2 3h0m-1-2h0m0-1h0m-2 1h0m-1-1h0m-1 1h0m-2 2h0m-1-2h0m-1 3h0m-6-4h0m-3 4h0m0-1h0m-179-1h0m-33-2h0m-14 1h0m-26 1h0m-2-1h0m0-2h0m-1 5h0m0-3h0m-2-2h0m0 4h0m-1 1h0m-3-2h0m-6-1h0m-2-2h0m-2 2h0m-1-2h0m-1 1h0m0 2h0m-5-3h0m0 3h0m-1-2h0m-3-1h0m-1 0h0m0 5h0m-2 0h0m0-4h0m-3 1h0m-2-2h0m-1 5h0m0-4h0m-1-1h0m0 5h0m-1 0h0m0-5h0m-1 2h0m-1-2h0m-1 4h0m-2 0h0m0-3h0m-1 1h0m-1 3h0m0-1h0m-1-1h0m0 2h0m-2-2h0m0-3h0m0 1h0m-1-1h0m-1 2h0m-1-2h0m-2 0h0m8 7h0m2 3h0m1-3h0m0-1h0m0 2h0m1-2h0m2 3h0m0 2h0m1 0h0m1-1h0m1-4h0m1 5h0m0-1h0m1-3h0m2-1h0m2 2h0m1 3h0m0-1h0m1-4h0m0 4h0m1-3h0m0 1h0m5-2h0m0 1h0m1 0h0m2 4h0m0-3h0m10 2h0m1-3h0m0 3h0m2 1h0m2-3h0m1-2h0m0 2h0m6 3h0m12-4h0m10-1h0m4 4h0m8-2h0m1 1h0m4 2h0m1-2h0m5-1h0m1-1h0m4 0h0m4 4h0m0-5h0m4 1h0m1-1h0m6 2h0m6 1h0m2-1h0m14 0h0m7-1h0m27 0h0m125 2h0m3-1h0m0 2h0m1 1h0m1 0h0m2-1h0m0-3h0m2 4h0m2-2h0m0 2h0m1-2h0m1-2h0m0 1h0m1 0h0m0 2h0m1 1h0m0-3h0m1 2h0m0 1h0m1 0h0m0-3h0m1 0h0m1 3h0m2-4h0m1-1h0m1 0h0m1 1h0m1 1h0m0 1h0m0 2h0m2 0h0m0-1h0m1-1h0m0-3h0m0 2h0m1-2h0m1 4h0m0 1h0m1 0h0m0-5h0m0 4h0m2-3h0m1 3h0m1 0h0m0-3h0m0 4h0m1-4h0m2-1h0m0 2h0m1 0h0m1-1h0m0 2h0m0-1h0m1 1h0m1-2h0m1 0h0m0 4h0m0-1h0m2-1h0m0-3h0m1 0h0m1 1h0m0 4h0m0-5h0m0 4h0m1-2h0m1 1h0m0 2h0m0-5h0m2 0h0m0 2h0m1 3h0m0-5h0m0 2h0m2 3h0m0-1h0m1 1h0m2-3h0m1 1h0m0 2h0m1 0h0m0-5h0m1 1h0m1 2h0m0 2h0m1-4h0m0 2h0m0-1h0m1 1h0m0 1h0m1-4h0m0 2h0m1-2h0m0 1h0m1 4h0m1-2h0m0-1h0m0-1h0m2 1h0m0 2h0m0-1h0m1 2h0m1-1h0m2-3h0m1 3h0m1-1h0m0 2h0m1-5h0m2 5h0m1-2h0m2 2h0m2-4h0m0 2h0m2 1h0m1 0h0m0-3h0m1 4h0m2-5h0m1 0h0m3 2h0m0 5h0m0 3h0m-4 1h0m-1-4h0m-1 0h0m0 3h0m-2 0h0m-2-1h0m-1-2h0m0 4h0m-1-1h0m-1-4h0m0 1h0m-2 4h0m-1-4h0m-5-1h0m-1 0h0m0 4h0m-1-3h0m0-1h0m-1 3h0m0-3h0m-2 3h0m0 2h0m0-5h0m-1 2h0m-1 0h0m0 2h0m0-1h0m-1-1h0m0 3h0m-1-1h0m-1-2h0m0 2h0m-1-1h0m0-3h0m-1 5h0m-1-4h0m0 3h0m-1-4h0m0 3h0m-2-3h0m0 4h0m0-1h0m-1-1h0m0 1h0m-1-1h0m0 2h0m0-3h0m0 2h0m-1-3h0m-1 5h0m-1-3h0m0 2h0m-1-3h0m-1 0h0m0-1h0m-2 2h0m0 3h0m-1-5h0m0 1h0m0 2h0m-1 2h0m0-5h0m-1 5h0m0-5h0m-1 4h0m0-3h0m-1 0h0m0 2h0m0 2h0m-1-5h0m-1 2h0m0 2h0m0-3h0m0 2h0m0 2h0m0-5h0m-1 4h0m0 1h0m-1-3h0m0 2h0m-1-4h0m0 4h0m0-1h0m-1-1h0m0-1h0m0 2h0m0 2h0m-1-4h0m-1-1h0m-2 4h0m0-4h0m-1 4h0m0-3h0m0 2h0m-1-3h0m-1 3h0m0-1h0m-1 2h0m0 1h0m-1-4h0m-1-1h0m-1 2h0m-1 2h0m0-3h0m-1 1h0m-1 3h0m-1-2h0m-1-1h0m-1 0h0m0 3h0m-1-3h0m0 1h0m-1-1h0m0 1h0m-3-3h0m0 4h0m-1-1h0m-1-3h0m-1 2h0m-2 2h0m0-3h0m-2 2h0m-3 0h0m-1-1h0m0 2h0m-1-4h0m-3 5h0m0-5h0m0 2h0m-2 2h0m0-3h0m-3-1h0m0 4h0m0-3h0m-4 1h0m0 2h0m-1-4h0m-2 4h0m-112-1h0m-7 1h0m-40 1h0m-16-5h0m-8 5h0m-3-2h0m-2-2h0m-7-1h0m-2 1h0m0 2h0m-3-1h0m-10 1h0m-5 1h0m-16 1h0m-3-1h0m-2-2h0m0 2h0m-6-3h0m-5 0h0m0 2h0m0-1h0m-3 0h0m-4 0h0m-1 0h0m-2 2h0m0-3h0m-2-1h0m-3 5h0m0-3h0m0 1h0m-1-2h0m-4 2h0m-2 2h0m0-5h0m-1 5h0m-1 0h0m-1-2h0m0 2h0m0-5h0m-1 1h0m-2 4h0m0-5h0m-2 1h0m-2 2h0m3 7h0m1-1h0m0 1h0m2-4h0m1 4h0m0-3h0m1 0h0m1 1h0m0-1h0m0 2h0m1-2h0m0 3h0m3 0h0m0-3h0m1-1h0m1 1h0m1 1h0m2 0h0m0 2h0m0-3h0m1 2h0m1-2h0m4 1h0m1 0h0m1 1h0m1 2h0m6-5h0m3 1h0m1 4h0m2-2h0m2-1h0m19 1h0m2 2h0m4 0h0m0-3h0m4-1h0m2-1h0m5 4h0m5-2h0m0 2h0m1-2h0m4 2h0m3-1h0m2 1h0m2-1h0m2 1h0m1-1h0m0 2h0m0-5h0m0 4h0m2 1h0m3-3h0m8 2h0m1-1h0m2 2h0m6-1h0m0-1h0m3 0h0m8-1h0m7 2h0m3-1h0m10-2h0m11 3h0m95-3h0m15 2h0m6-3h0m0 2h0m1 0h0m0 2h0m2-3h0m4 4h0m0-5h0m0 1h0m1 0h0m0 4h0m1-4h0m1 2h0m1 1h0m1-1h0m1-1h0m1 0h0m1 1h0m0 1h0m1 0h0m1-2h0m0 1h0m1 0h0m1-1h0m2 0h0m1 1h0m0 1h0m1-2h0m1 1h0m0-3h0m1 0h0m0 2h0m1 2h0m1 1h0m0-3h0m1-1h0m1 2h0m1-1h0m1 2h0m1-4h0m0 4h0m0-1h0m1-1h0m1 1h0m0 2h0m0-1h0m1-1h0m0-1h0m0 2h0m1-3h0m0 3h0m2-3h0m0 2h0m1 2h0m3-2h0m0-1h0m2 3h0m0-5h0m0 2h0m2-2h0m0 4h0m1-4h0m0 1h0m0 4h0m1-3h0m1 1h0m0-1h0m1-1h0m1 3h0m0 1h0m1-2h0m0 2h0m0-3h0m0 2h0m1-4h0m1 1h0m0 4h0m0-3h0m0 2h0m1 1h0m0-5h0m0 2h0m0-1h0m1 0h0m1 0h0m0 2h0m0 2h0m0-5h0m0 2h0m1-2h0m0 4h0m1-1h0m0-3h0m0 4h0m1-2h0m0-1h0m1 0h0m0 2h0m0-3h0m0 2h0m1 0h0m1-2h0m1 2h0m1-2h0m0 4h0m1-1h0m0-1h0m1-1h0m1 4h0m0-3h0m0-1h0m0 2h0m1-2h0m1 4h0m0-4h0m2-1h0m0 2h0m0 1h0m1 2h0m0-3h0m1-2h0m0 2h0m0 2h0m1-2h0m0 2h0m0-3h0m1 1h0m2 1h0m1 2h0m0-3h0m0 2h0m1 1h0m1-1h0m0-3h0m1 4h0m0-5h0m1 4h0m1-2h0m1 3h0m0-1h0m0-3h0m1 2h0m0-3h0m0 4h0m1-3h0m0 4h0m0-1h0m1-4h0m0 2h0m1 3h0m0-5h0m0 1h0m1 2h0m0-2h0m2 2h0m0 2h0m2-2h0m1-2h0m0 2h0m2-3h0m0 2h0m0-1h0m1 4h0m2-1h0m0-3h0m1 4h0m42 6h0m-10-4h0m-40 0h0m-2 2h0m0-3h0m0 2h0m-1 0h0m-1 2h0m0 1h0m-1-4h0m0-1h0m-1 4h0m-1 0h0m0-1h0m0 2h0m0-5h0m-1 2h0m0-2h0m-3 5h0m-1-4h0m-1-1h0m-1 2h0m0 2h0m0-3h0m0 2h0m0-3h0m-1 1h0m0 2h0m0-3h0m-1 4h0m0-1h0m-1-1h0m-1-2h0m-1 2h0m-1-1h0m0-1h0m-1 0h0m0 4h0m-1 0h0m0-3h0m0 1h0m-1 2h0m-1 0h0m-1 0h0m-1 0h0m0-3h0m0 4h0m-1-3h0m0 3h0m-1-4h0m-1 0h0m0-1h0m-1 2h0m-1 2h0m-1-4h0m0 2h0m0-1h0m0 2h0m-1-2h0m0-1h0m0 2h0m-1 2h0m0-3h0m-1 1h0m0 2h0m-1-1h0m-1-2h0m0 2h0m0-3h0m-1 5h0m-1 0h0m0-1h0m-1 0h0m0-3h0m0 4h0m-1-3h0m0-1h0m-1 4h0m0-5h0m0 2h0m0 2h0m0-3h0m-1 1h0m0 2h0m0-1h0m-1 1h0m0-1h0m0-3h0m-1 2h0m0 2h0m0 1h0m-1-5h0m0 2h0m0 2h0m-1-1h0m0-3h0m-1 4h0m0-1h0m0 2h0m-1-5h0m0 2h0m0 2h0m0-1h0m-1-2h0m-1 4h0m-1 0h0m0-5h0m0 2h0m-3 0h0m0-1h0m-1-1h0m0 2h0m0 1h0m0 2h0m-1-1h0m0 1h0m-1 0h0m-2-3h0m0 1h0m-1 0h0m0 2h0m0-1h0m0-3h0m-1 1h0m0-1h0m0 2h0m0 2h0m-1-4h0m0 2h0m0-3h0m-1 2h0m0-2h0m-1 5h0m0-4h0m-1 3h0m0-4h0m-1 5h0m0-5h0m0 2h0m-1 1h0m-1 2h0m-1-1h0m-1-2h0m0-1h0m0 2h0m-1-3h0m-1 3h0m-1 1h0m-1-3h0m-2 0h0m-2 0h0m0 4h0m0-5h0m-1 2h0m0-1h0m0 2h0m-1 1h0m-1-2h0m-1 0h0m-1 0h0m0 1h0m-4-1h0m-2-1h0m-2-1h0m0 2h0m0-1h0m-13 1h0m-5 2h0m-2 1h0m-3 0h0m-1-1h0m-3 0h0m-2 1h0m-2 0h0m-1-2h0m-3-3h0m-10 5h0m-99-2h0m-9 0h0m0-1h0m-9 3h0m-3-5h0m-3 3h0m0 1h0m-2-4h0m-1 0h0m-1 3h0m-3 0h0m0 2h0m-1-4h0m0 2h0m0 2h0m-3-4h0m-3 3h0m-4-4h0m-2 0h0m-3 2h0m0 1h0m-3-2h0m-1 0h0m0 4h0m-1-2h0m0 1h0m-6-4h0m-6 3h0m-1 1h0m-4-4h0m-12 2h0m-13 1h0m-1-3h0m-2 1h0m0-1h0m-4 1h0m-1 4h0m-2 0h0m-2-2h0m-1 2h0m-2-3h0m-1 2h0m-2-4h0m-3 2h0m-1 2h0m-3-2h0m0 1h0m-1-3h0m-1 2h0m-1 1h0m-1 1h0m-2-4h0m-2 0h0m0 2h0m-1 3h0m-2-2h0m4 6h0m2-3h0m5 4h0m2 1h0m2-2h0m1-1h0m0 1h0m1-1h0m1 2h0m2-1h0m0 2h0m3-2h0m1 2h0m1-5h0m0 3h0m1 2h0m1-2h0m2 0h0m0-1h0m1 2h0m1-2h0m2-2h0m1 4h0m1-2h0m0 1h0m2-2h0m0 2h0m0 2h0m1-5h0m0 4h0m7-1h0m4 0h0m10-1h0m4 1h0m3 2h0m0-4h0m5 0h0m6 3h0m7-1h0m0-3h0m5 4h0m1 1h0m1 0h0m0-5h0m1 3h0m5-1h0m2 3h0m1-2h0m1 2h0m2 0h0m2 0h0m1-1h0m4 1h0m9 0h0m37-4h0m69 4h0m11-5h0m1 4h0m3-3h0m1 3h0m2-4h0m1 3h0m0-3h0m2 4h0m3-4h0m4 1h0m0 3h0m1-4h0m1 4h0m2-2h0m7 3h0m0-3h0m11 0h0m1 0h0m4 1h0m0-1h0m1 0h0m5-2h0m0 4h0m1 1h0m1-3h0m1-1h0m0-1h0m2 0h0m0 3h0m0 2h0m1-5h0m1 5h0m1 0h0m1-1h0m1-2h0m1 1h0m1 0h0m0-2h0m2 0h0m1 2h0m0 2h0m0-5h0m1 5h0m0-3h0m1 1h0m1 0h0m0-1h0m1-2h0m2 5h0m0-5h0m1 3h0m0-3h0m1 5h0m0-5h0m1 5h0m1-2h0m0 2h0m0-3h0m0 2h0m0-3h0m1 1h0m1 1h0m0-1h0m1 1h0m0-3h0m0 2h0m1 0h0m0-1h0m0 2h0m1 0h0m0 2h0m0-5h0m0 2h0m0-1h0m1 2h0m0-3h0m0 1h0m1 0h0m1 2h0m0 2h0m0-5h0m0 2h0m1 2h0m1-2h0m0 2h0m0-3h0m1 2h0m0 2h0m0-3h0m0 2h0m1-2h0m0 2h0m1-3h0m0 2h0m0 2h0m0-5h0m0 2h0m2-2h0m0 2h0m0 2h0m1 0h0m1-4h0m0 4h0m2-4h0m0 4h0m1-3h0m0-1h0m0 2h0m0 2h0m1-1h0m0-1h0m1 2h0m0-4h0m1 1h0m0 2h0m0 1h0m1-1h0m0-3h0m1 0h0m1 2h0m0-1h0m2 2h0m0 2h0m0-3h0m1-2h0m0 1h0m1 4h0m1-2h0m2-1h0m0 2h0m0-3h0m1 0h0m0 3h0m1-4h0m1 3h0m0-3h0m0 1h0m1 2h0m0 2h0m1-5h0m1 5h0m0-5h0m1 2h0m0 1h0m0 2h0m1-1h0m1-4h0m0 2h0m0-1h0m1 0h0m0 2h0m1-3h0m1 0h0m1 5h0m0-5h0m0 4h0m1-4h0m0 2h0m1-2h0m0 4h0m1 0h0m5-2h0m34-1h0m4 0h0m6 1h0m3 0h0m7 1h0m-61 3h0m-1 2h0m-1-1h0m-1 0h0m0 1h0m-1-1h0m-1 3h0m-1-2h0m0-2h0m-1 1h0m0 2h0m0 2h0m0-5h0m0 4h0m-1-3h0m0 2h0m-1 2h0m-1 0h0m0-1h0m-3 1h0m0-3h0m-1 3h0m-1-1h0m0-3h0m0 2h0m-1-1h0m0 2h0m0-3h0m0 2h0m-1 0h0m0-3h0m0 2h0m-2 3h0m-1-5h0m0 2h0m-1 3h0m0-5h0m-1 5h0m-1-1h0m0-1h0m-1-1h0m0-1h0m-2-1h0m-1 2h0m0-1h0m0 4h0m0-5h0m-1 1h0m0 2h0m0-3h0m0 4h0m-1-3h0m0 2h0m0-3h0m-1 3h0m-1-3h0m0 2h0m-1 0h0m-1 2h0m0-3h0m0 4h0m-1-1h0m-1 0h0m0 1h0m0-5h0m-2 5h0m0-5h0m0 2h0m0 2h0m-1 0h0m-1-1h0m0 2h0m-1-1h0m-1-3h0m0-1h0m0 2h0m-1 3h0m0-5h0m-1 1h0m0 2h0m-2-1h0m0 2h0m0-3h0m0 2h0m-1 0h0m-1-1h0m0 2h0m0-4h0m-1 4h0m0 1h0m-1-2h0m0-3h0m-1 0h0m0 2h0m0 1h0m-1 2h0m-1-5h0m0 4h0m0-1h0m-1-1h0m-1 0h0m0-2h0m-2 0h0m-3 2h0m0 2h0m-1 1h0m0-5h0m-1 0h0m-1 4h0m0-4h0m-1 1h0m-1 1h0m-1 2h0m-3-4h0m-1 2h0m-3 1h0m0 2h0m-1-1h0m-3-3h0m-1-1h0m0 4h0m-1 0h0m-4-4h0m-1 3h0m-2-2h0m-5 1h0m-6 1h0m-4 0h0m-3-3h0m-7 1h0m-11-1h0m-4 4h0m-101-1h0m-13 1h0m-3-3h0m-5 0h0m-8 1h0m-6-1h0m-3-1h0m-3 2h0m-1 3h0m-5 0h0m-3-4h0m-6 1h0m-9-2h0m-2 1h0m-13 2h0m-2 0h0m-4-1h0m-1 0h0m0-1h0m-1 4h0m-2-2h0m0 2h0m-1-2h0m0 2h0m-1-1h0m-2-2h0m-1-2h0m0 4h0m0 1h0m-1 0h0m-1-2h0m0 2h0m-1-2h0m0-1h0m0 2h0m-1 0h0m0-2h0m-3 3h0m-1-4h0m-1-1h0m-3 0h0m-2 5h0m-1-1h0m0-4h0m-1 1h0m0 2h0m0 2h0m-2-1h0m-2-2h0m-2 3h0m-3-5h0m0 4h0m-1-1h0m-1-1h0m0 2h0m-1-3h0m-1 4h0m-2-2h0m-2 1h0m-1-4h0m-1 4h0m-5 6h0m4-1h0m1 1h0m0-1h0m2 1h0m1-3h0m0-1h0m1 3h0m0-2h0m1 1h0m1-2h0m1 3h0m0-1h0m0 2h0m2-4h0m0 3h0m1 0h0m0 2h0m0-3h0m2-1h0m0-1h0m1 3h0m2-3h0m0 4h0m2-1h0m0 2h0m1-5h0m2 2h0m1 1h0m0 2h0m0-5h0m1 5h0m0-3h0m1-1h0m1 3h0m0-3h0m1 4h0m0-5h0m1 3h0m0-1h0m1-1h0m2 1h0m0 2h0m2-1h0m0 2h0m0-4h0m2 4h0m0-5h0m0 4h0m1 1h0m1 0h0m0-5h0m0 4h0m0-3h0m1 4h0m0-5h0m1 2h0m0-1h0m1 3h0m0-1h0m1-1h0m2-2h0m1 3h0m0 2h0m0-5h0m0 2h0m1 1h0m1 0h0m0-3h0m1 2h0m1 2h0m1 0h0m0-3h0m1 4h0m1 0h0m0-5h0m0 4h0m0-3h0m1 2h0m1 0h0m0 2h0m0-1h0m1 0h0m0-1h0m2 0h0m6 2h0m1 0h0m1-1h0m0-1h0m2 2h0m3-5h0m3 4h0m1-1h0m4-2h0m1 3h0m1 1h0m1 0h0m1-1h0m3-2h0m3 0h0m2 3h0m1 0h0m1-2h0m1 0h0m1 1h0m2 1h0m0-4h0m1 3h0m4 1h0m2 0h0m0-5h0m4 3h0m0-3h0m2 4h0m1 1h0m1-3h0m0 1h0m0 2h0m1-1h0m0-1h0m0 2h0m1 0h0m0-4h0m2 2h0m1-1h0m0-1h0m1 1h0m0 2h0m1 0h0m0 1h0m1-1h0m0 1h0m1-1h0m1 0h0m1 0h0m1-2h0m0 2h0m1-2h0m0 2h0m0-1h0m2 2h0m2-5h0m2 5h0m3 0h0m3-4h0m2 3h0m1-2h0m4 0h0m2 2h0m2 0h0m89 0h0m40-2h0m1-1h0m3-1h0m2 5h0m2-4h0m1-1h0m3 5h0m2-4h0m0 2h0m0 2h0m1-5h0m0 4h0m2-1h0m1 0h0m0 2h0m0-1h0m2 1h0m0-4h0m1 1h0m0 2h0m0-3h0m1 0h0m0-1h0m0 4h0m1-4h0m1 0h0m0 2h0m1 2h0m0-4h0m0 2h0m1 3h0m1 0h0m0-5h0m0 1h0m2 2h0m1 0h0m0-3h0m0 2h0m1 3h0m0-5h0m1 0h0m0 1h0m1 0h0m0-1h0m1 1h0m0 2h0m0 2h0m1-2h0m0 2h0m0-5h0m0 1h0m1-1h0m0 1h0m1 2h0m0-3h0m0 4h0m1-4h0m0 4h0m1-1h0m1 0h0m0-3h0m2 3h0m0 2h0m0-4h0m1-1h0m0 2h0m0 3h0m1-4h0m0-1h0m0 2h0m1 3h0m0-5h0m0 4h0m0-3h0m1 0h0m0 4h0m2-3h0m0-1h0m2-1h0m1 0h0m0 2h0m1 0h0m0-1h0m2 1h0m1-2h0m1 2h0m0-1h0m2-1h0m1 2h0m1-1h0m1 1h0m0-1h0m1-1h0m0 2h0m1-2h0m1 4h0m1-1h0m0-1h0m0 2h0m1-4h0m1 1h0m0 1h0m1-1h0m1-1h0m1 2h0m0 1h0m1 2h0m0-5h0m1 3h0m0-1h0m1-2h0m1 2h0m-5 6h0m-4 0h0m0-1h0m-1 1h0m-1 1h0m-1 2h0m-2-1h0m-1 0h0m-1 1h0m-1-4h0m0 2h0m0-1h0m-1 0h0m-2 3h0m0-5h0m-1 5h0m-1-4h0m-1 3h0m0-4h0m-4 5h0m0-1h0m-1-1h0m-1 0h0m0 2h0m-1-5h0m-1 2h0m-1 2h0m-1-3h0m0 1h0m-2 2h0m-2-4h0m-3 5h0m0-4h0m-1 1h0m-1 3h0m0-1h0m-2-4h0m-1 2h0m0 2h0m-1-3h0m0-1h0m0 2h0m-1 2h0m-2-3h0m-1-1h0m-1 2h0m-1-1h0m0 2h0m0 2h0m0-1h0m-2 1h0m-3-3h0m0-1h0m0 4h0m-2-4h0m-2 0h0m-3 0h0m-132-1h0m-1 2h0m-1 0h0m0 1h0m0 2h0m-1 0h0m0-1h0m-1-2h0m-1-1h0m-1 2h0m-1 1h0m-1 0h0m-1-2h0m-1-2h0m-3 2h0m-1 3h0m-1 0h0m-1 0h0m-1-2h0m-2 0h0m0-1h0m-1 0h0m-1-2h0m0 4h0m-1-4h0m-1 3h0m0 1h0m0-3h0m-1 0h0m0 2h0m-1 0h0m-1-1h0m-2 1h0m0 2h0m-1-4h0m0 4h0m-2-2h0m-2 2h0m0-1h0m-1 1h0m0-3h0m-1 1h0m-1-2h0m-1 2h0m-1 2h0m0-5h0m0 4h0m-1-2h0m-1-1h0m0-1h0m-1 0h0m0 4h0m-1-1h0m0-3h0m-1 0h0m-2 4h0m0-1h0m-3 0h0m-2-3h0m0 2h0m-2-1h0m0 2h0m-1 0h0m0 2h0m-1-4h0m0-1h0m-1 1h0m0-1h0m-1 1h0m0 4h0m-1-5h0m0 3h0m-1 2h0m0-1h0m-1-1h0m-1 1h0m0-1h0m-1-2h0m0 3h0m-1-3h0m0 2h0m0 1h0m-1 1h0m0-1h0m-1-3h0m0 2h0m-1 2h0m-3-2h0m-1-2h0m0 4h0m0-5h0m-1 0h0m0 3h0m0 2h0m-1-4h0m-1 4h0m-1-4h0m0 2h0m0 1h0m-1-1h0m0-3h0m-1 4h0m-1 1h0m-1-2h0m-1-2h0m0 4h0m-1-1h0m0-1h0m-1-3h0m-1 2h0m-1-1h0m-1 2h0m0-3h0m-1 1h0m0 1h0m-2-1h0m0 4h0m-1-5h0m0 1h0m-1 4h0m0-5h0m0 2h0m-1 2h0m0 1h0m-1-3h0m-1-2h0m0 4h0m-1-1h0m0-1h0m0 2h0m-1-1h0m0-3h0m-1 2h0m0 1h0m-1 2h0m-1-1h0m0-3h0m0-1h0m-2 5h0m-2-1h0m0 1h0m-1 0h0m-1-3h0m0 2h0m0-1h0m0-3h0m-1 3h0m0 2h0m0-3h0m-1 2h0m0-1h0m-1-3h0m0 4h0m-2-2h0m0 2h0m-1 1h0m-1 0h0m-1-3h0m-1 3h0m-1-5h0m-1 1h0m-1 0h0m-2 0h0m0-1h0m-3 0h0m0 4h0m-2-2h0m0 2h0m-1 0h0m0-3h0m-1 0h0m-1 0h0m0-1h0m0 4h0m-1 0h0m0-4h0m-1 1h0m-2 1h0m0 2h0m0-1h0m-2 1h0m0-3h0m0 4h0m-1 0h0m0-5h0m0 4h0m-1-3h0m-1 1h0m0 2h0m-1-2h0m0-1h0m0 4h0m-1 0h0m0-1h0m-2-2h0m-1 0h0m0 2h0m-1-1h0m-1-2h0m0 4h0m-2 0h0m0-1h0m-1-1h0m0 2h0m0-5h0m-4 3h0m0 2h0m-1-1h0m0-3h0m-1 1h0m0-1h0m0 4h0m-1-4h0m-1 3h0m-2-4h0m0 1h0m-1-1h0m0 4h0m-2-1h0m-1-1h0m0 2h0m0 1h0m-1-2h0m-1-1h0m0 2h0m-2-3h0m-2 1h0m-1 1h0m-4 2h0m2 4h0m0 2h0m2-2h0m0 2h0m0-3h0m1 0h0m1 3h0m1-4h0m1 1h0m0 2h0m0-3h0m1-1h0m1 3h0m0 2h0m0-3h0m0 2h0m1-3h0m0 2h0m2-1h0m1 1h0m1 1h0m1 1h0m0-5h0m1 0h0m0 4h0m1-3h0m0 2h0m0 1h0m1-2h0m0 2h0m1-1h0m3 1h0m0-1h0m1 0h0m1 1h0m1-3h0m0 1h0m0 2h0m1 0h0m1-3h0m0 2h0m0 2h0m0-5h0m0 2h0m1 2h0m1-1h0m1 0h0m0-3h0m0 1h0m1-1h0m0 2h0m1 0h0m0 2h0m0-1h0m1 0h0m0-2h0m1 1h0m1 1h0m0 2h0m0-1h0m1-1h0m1-3h0m0 2h0m1-2h0m0 2h0m1 2h0m1-3h0m0 1h0m1 3h0m1-4h0m1-1h0m0 2h0m1 1h0m0-2h0m1 0h0m1 0h0m2 4h0m0-5h0m1 4h0m1-3h0m1 1h0m0 2h0m0-3h0m2 3h0m1 1h0m0-1h0m1-3h0m0-1h0m0 4h0m1-1h0m2-3h0m0 4h0m0-3h0m1 3h0m1 1h0m0-3h0m1-2h0m0 2h0m1-2h0m0 3h0m0 2h0m1 0h0m0-2h0m1 0h0m2-1h0m0 2h0m1 1h0m0-4h0m0 2h0m2 0h0m2-1h0m1-2h0m0 2h0m0 2h0m0-3h0m1-1h0m0 1h0m1 0h0m0 4h0m3-3h0m0 1h0m0 2h0m1 0h0m0-1h0m0-3h0m1 2h0m1 2h0m0-5h0m0 2h0m1 1h0m0-1h0m0-1h0m1 3h0m1-4h0m1 4h0m0-3h0m1 4h0m1-5h0m0 3h0m1-2h0m0 4h0m0-5h0m1 2h0m0 2h0m0-1h0m1-2h0m0 1h0m1 0h0m1-2h0m0 4h0m0 1h0m1-3h0m0-1h0m1 4h0m0-4h0m0 2h0m1 1h0m1-1h0m1-3h0m0 2h0m0 2h0m1-4h0m0 2h0m0-1h0m1 1h0m0-2h0m1 0h0m1 0h0m1 2h0m0 2h0m1 1h0m0-1h0m0-3h0m0 2h0m1 1h0m2-1h0m1-1h0m0 2h0m0-1h0m2-2h0m0-1h0m0 2h0m1 3h0m0-1h0m0-3h0m2 3h0m0-1h0m1-1h0m0-1h0m0 4h0m1 0h0m1-3h0m1-2h0m0 1h0m0 2h0m2-1h0m0 2h0m2-4h0m1 5h0m0-1h0m1-1h0m1-1h0m0 3h0m1-4h0m2 0h0m2 2h0m1-1h0m0 2h0m1-1h0m1-1h0m0 1h0m1-2h0m0 2h0m1-1h0m1 3h0m1-1h0m0-3h0m0-1h0m2 2h0m0-1h0m0 4h0m2 0h0m1-2h0m1 0h0m0 1h0m3-4h0m1 5h0m0-3h0m2 3h0m1-1h0m0 1h0m1-3h0m0 2h0m2 1h0m2-5h0m0 3h0m2 2h0m0-5h0m1 4h0m0-4h0m3 4h0m1-3h0m4-1h0m2 1h0m1 3h0m0-3h0m1 4h0m1-5h0m2 3h0m0-1h0m1 3h0m3-2h0m2-1h0m124-2h0m4 0h0m8 3h0m0-1h0m1 3h0m1-2h0m0-3h0m0 2h0m1-2h0m1 3h0m1-3h0m0 4h0m2-4h0m2 0h0m1 1h0m1 0h0m1 0h0m1 0h0m1 1h0m0 1h0m1 2h0m1-3h0m1-2h0m1 2h0m0 3h0m1 0h0m1-4h0m0 1h0m1 3h0m0-3h0m2-1h0m3-1h0m0 2h0m1 3h0m1-2h0m0 2h0m0-5h0m0 2h0m1-2h0m0 4h0m1-3h0m1 2h0m2-3h0m1 0h0m1 5h0m1-1h0m2-4h0m3 0h0m-13 7h0m-6-1h0m-1 1h0m-3 2h0m-1-3h0m-6 5h0m-2-4h0m-1 1h0m-5 0h0m-133 2h0m-4-3h0m-1 3h0m-2-3h0m0 1h0m-1-2h0m0 3h0m-1 2h0m-1-2h0m-2 1h0m-1 1h0m-1-4h0m-1 0h0m-2 4h0m0-5h0m-2 5h0m-3-4h0m-3 2h0m0-3h0m-2 1h0m-1 2h0m0-1h0m-1-2h0m-4 1h0m-1 0h0m-1-1h0m-1 2h0m-1-2h0m-1 1h0m0 4h0m-3 0h0m0-1h0m0-3h0m-1 2h0m0 2h0m-3-3h0m-1-1h0m0 2h0m0-1h0m0 2h0m-1-4h0m-1 0h0m-1 3h0m-1-3h0m0 4h0m-1 1h0m0-3h0m-1-2h0m-1 1h0m-1 2h0m0-3h0m0 4h0m-1-1h0m0 1h0m-1 0h0m-1-1h0m0 2h0m0-3h0m0 2h0m-2 1h0m-1-4h0m0 2h0m0 2h0m0-5h0m0 2h0m0 2h0m-1-3h0m0 4h0m0-5h0m0 2h0m0 2h0m-1 1h0m-1-5h0m-1 1h0m0 4h0m0-3h0m-1 3h0m-1-2h0m0-1h0m-1 3h0m0-1h0m-1-3h0m-1 0h0m0 3h0m-2-3h0m0 4h0m-1-3h0m0 2h0m-2 0h0m-2 0h0m-1-3h0m0-1h0m0 2h0m-1-2h0m0 2h0m-1 0h0m0-1h0m-1 0h0m-1 3h0m-1-1h0m0 2h0m0-5h0m0 4h0m-1 1h0m0-3h0m0 2h0m-1-4h0m0 2h0m0 3h0m-1-2h0m0 2h0m0-3h0m-1 0h0m0-1h0m-1 3h0m-1-4h0m-2 1h0m0 2h0m0 2h0m-1-2h0m0-1h0m-1 0h0m-1 1h0m0-3h0m-1 2h0m-1 0h0m0 2h0m0-1h0m0 2h0m-2-3h0m0 2h0m-1 1h0m0-5h0m-1 3h0m-1-2h0m-1 4h0m-1-4h0m0-1h0m-1 5h0m-1-4h0m0 2h0m0-1h0m-1-2h0m0 4h0m0-1h0m-1 2h0m-1-4h0m0 4h0m-2 0h0m-2 0h0m-1-4h0m0 2h0m0 2h0m0-5h0m0 2h0m0 2h0m-1-3h0m0 4h0m-2-4h0m0-1h0m0 2h0m-1 3h0m0-4h0m-1 4h0m-1-5h0m0 4h0m0 1h0m-1-4h0m0 4h0m0-5h0m0 2h0m0 2h0m-1 0h0m-1-1h0m0-3h0m0 2h0m-1 2h0m0-3h0m0 4h0m-1-1h0m0-1h0m0 2h0m0-5h0m-1 1h0m0 2h0m0 2h0m0-1h0m-1-1h0m0 1h0m-1-3h0m0 1h0m0 2h0m-1-3h0m0 2h0m0 2h0m-1-1h0m-1-1h0m0 2h0m-1-4h0m0 2h0m0-3h0m-1 3h0m0 2h0m0-5h0m-1 1h0m-2 1h0m0-1h0m0 2h0m0-3h0m-1 2h0m0 2h0m-1-4h0m-1 2h0m-2 0h0m-1 0h0m0 2h0m-1-2h0m0 2h0m-1-3h0m0 2h0m0-3h0m-1 1h0m0-1h0m-1 2h0m-1 2h0m-1-2h0m0-1h0m0 2h0m0-3h0m-1 1h0m0 2h0m0-1h0m0 2h0m-1-4h0m0 4h0m-1-3h0m0 2h0m-1-3h0m0 1h0m0 4h0m-1-4h0m0 2h0m-1-2h0m0 2h0m0-1h0m-1 2h0m-1-3h0m0 2h0m0 2h0m0-3h0m-2 1h0m0 2h0m-1-1h0m0-3h0m0 2h0m0 2h0m0-5h0m0 2h0m-1-2h0m-1 2h0m0-1h0m-1 4h0m-2 0h0m0-1h0m-1-1h0m-1 0h0m0 2h0m0-5h0m-1 5h0m-3-5h0m-2 1h0m-2 3h0m-1-3h0m0 2h0m0-3h0m-3 2h0m0 3h0m-1-4h0m-1-1h0m0 3h0m-1 1h0m0 1h0m-2-2h0m-1-3h0m-1 4h0m0-4h0m-2 1h0m-5 9h0m1 1h0m1-4h0m2 2h0m0-3h0m0 4h0m0-3h0m1 1h0m0 2h0m1-1h0m0 2h0m0-5h0m1 2h0m1 0h0m1 1h0m0 2h0m0-5h0m0 2h0m1 1h0m0-3h0m1 5h0m0-5h0m0 2h0m1-2h0m1 3h0m0-1h0m2 2h0m1-3h0m0 4h0m1-2h0m1-3h0m1 5h0m1-1h0m1-3h0m0 4h0m0-5h0m0 2h0m1-1h0m1 4h0m0-5h0m2 4h0m1-2h0m0 2h0m1-4h0m0 3h0m1 1h0m1 1h0m1-4h0m0 2h0m0 2h0m0-5h0m1 3h0m0-1h0m0 2h0m1 1h0m0-3h0m0 2h0m0-3h0m1 4h0m0-3h0m0-1h0m1-1h0m1 5h0m1-2h0m0 2h0m1-5h0m0 5h0m1-5h0m0 2h0m0 2h0m0-1h0m1-2h0m0 4h0m2-2h0m0 2h0m0-4h0m1 2h0m0-2h0m1-1h0m0 2h0m0 1h0m0 2h0m1-2h0m0 2h0m0-5h0m1 5h0m0-5h0m0 2h0m1-2h0m0 4h0m1-1h0m0 1h0m1-2h0m0 1h0m1 1h0m1-2h0m0 1h0m1-2h0m2-1h0m0 2h0m0 1h0m1-3h0m0 2h0m0 1h0m1-2h0m1-1h0m0 1h0m1-1h0m0 1h0m1 0h0m1 2h0m1 2h0m0-3h0m0 2h0m1-2h0m0 2h0m0-1h0m1-1h0m1 0h0m0-1h0m0 2h0m1-2h0m0-1h0m0 4h0m1-2h0m1 2h0m1 0h0m1-2h0m0-1h0m1 4h0m0-3h0m0-1h0m1 0h0m0 2h0m0 2h0m1-5h0m0 2h0m0 1h0m1-1h0m0 2h0m1 0h0m0-1h0m1-2h0m0 4h0m0-5h0m0 2h0m1-2h0m1 2h0m0-1h0m1 2h0m0 1h0m0-3h0m1-1h0m0 4h0m0-1h0m1-1h0m1 1h0m1 0h0m1 0h0m1-2h0m0 1h0m0 2h0m1-2h0m0 2h0m1-1h0m0 2h0m0-3h0m0 2h0m1-2h0m1 2h0m0-1h0m1-3h0m0 5h0m1-5h0m1 4h0m1 1h0m2-4h0m0 4h0m1 0h0m0-3h0m1-2h0m1 1h0m1-1h0m0 4h0m1-1h0m0-2h0m1-1h0m1 4h0m1-2h0m0 2h0m0-1h0m1 0h0m1-1h0m0 2h0m0 1h0m1-4h0m0 2h0m1 1h0m0-3h0m0 2h0m1 0h0m0 1h0m1-4h0m0 1h0m0 4h0m2-4h0m0-1h0m1 5h0m0-5h0m3 4h0m1-3h0m0 4h0m0-5h0m1 2h0m1-2h0m0 2h0m0 1h0m1 1h0m0-3h0m1 2h0m0 2h0m1-4h0m1 1h0m0 2h0m0-1h0m0 2h0m2-3h0m0-1h0m0 2h0m1-3h0m0 4h0m0-1h0m1-1h0m0 3h0m0-5h0m1 3h0m1-1h0m0-1h0m1 1h0m0 2h0m1-3h0m0 1h0m2 0h0m0 2h0m0 1h0m2-1h0m1 1h0m1 0h0m1-5h0m2 0h0m1 1h0m0 1h0m2 1h0m0-3h0m2 1h0m0-1h0m2 3h0m0 2h0m1-3h0m2 1h0m1 1h0m1-4h0m2 3h0m0 2h0m2-3h0m0 2h0m3-2h0m4 3h0m0-5h0m1 3h0m1-3h0m0 2h0m6 1h0m3 0h0m1 2h0m0-5h0m1 3h0m0 2h0m0-5h0m1 1h0m1 1h0m3-1h0m1 0h0m0-1h0m0 2h0m1 1h0m2-2h0m0 2h0m1-2h0m0 3h0m1 1h0m1-5h0m1 2h0m1 3h0m1-4h0m0-1h0m0 2h0m2-1h0m0-1h0m135 1h0m-134 7h0m-1 3h0m-2 0h0m-1-1h0m0-3h0m0 4h0m-1-5h0m0 1h0m-1 4h0m0-3h0m-1 3h0m0-5h0m0 1h0m-2 0h0m-1 0h0m-1 3h0m-1-2h0m-1 1h0m-2-3h0m0 4h0m-2-3h0m-1-1h0m0 1h0m-1 0h0m-3 2h0m0-3h0m-2 3h0m-1-3h0m0 4h0m-1-2h0m-2 1h0m0 2h0m0-4h0m-1 3h0m0-1h0m-1 2h0m-1 0h0m-1-5h0m-3 0h0m-1 5h0m0-5h0m0 4h0m-2-3h0m0 4h0m0-5h0m0 4h0m-1 1h0m0-3h0m-1 1h0m0-3h0m0 2h0m-2-2h0m0 2h0m0-1h0m-2 3h0m-1-1h0m-1-1h0m-1 2h0m-1 0h0m0-3h0m-1 4h0m-1-5h0m0 2h0m0 1h0m-1-2h0m-1 2h0m0 1h0m-1-1h0m0 2h0m0-5h0m-2 0h0m-1 4h0m-1 0h0m0-1h0m-1 1h0m-1-4h0m0 2h0m-1 0h0m-1 1h0m0-1h0m-2 1h0m0-1h0m-1-2h0m-1 0h0m0 1h0m-3-1h0m-1 2h0m0 2h0m0 1h0m-1-2h0m0-3h0m-1 0h0m-1 1h0m-1 2h0m-1-2h0m0 4h0m0-1h0m-1 1h0m0-3h0m-1-1h0m0-1h0m-2 0h0m0 4h0m0-3h0m0 4h0m-1 0h0m0-5h0m-1 4h0m0-1h0m0 2h0m-1-3h0m-1-1h0m-1 0h0m0 4h0m-1-5h0m0 2h0m-1-1h0m0-1h0m0 4h0m-1-2h0m0 2h0m-2-3h0m0 2h0m0-3h0m0 4h0m-2-1h0m0-1h0m-2 3h0m-1-4h0m0 1h0m-1-1h0m0 2h0m0-3h0m-1 1h0m0 2h0m0 2h0m0-1h0m-1-1h0m0 1h0m-1-2h0m0-1h0m0 4h0m-1-4h0m0 3h0m-1-4h0m0 4h0m0 1h0m-1-4h0m-1-1h0m-1 1h0m0-1h0m0 2h0m-1-2h0m0 4h0m-1-1h0m0 2h0m0-5h0m0 4h0m-1-4h0m0 4h0m0-1h0m-1 1h0m0-3h0m0 4h0m0-3h0m-1-2h0m0 2h0m0 2h0m-1-2h0m0-1h0m0 2h0m0 2h0m-1-2h0m-2-3h0m-1 4h0m0-3h0m0 2h0m0 2h0m0-5h0m-1 4h0m-1 0h0m0-1h0m0-3h0m0 2h0m-1 1h0m0 2h0m0-5h0m-2 1h0m0 2h0m0 2h0m-1-5h0m0 1h0m0 2h0m0 2h0m-1-3h0m-1 0h0m0 2h0m0-3h0m-1 4h0m0-3h0m0 2h0m-1-3h0m-1 3h0m0-3h0m0 4h0m0-5h0m-1 0h0m0 1h0m-1 0h0m0 2h0m0 2h0m0-5h0m0 2h0m0 2h0m-1-1h0m0-3h0m0 4h0m-1 0h0m-1 0h0m0-3h0m0 2h0m0-3h0m0 2h0m-1-2h0m-1 5h0m0-3h0m-1 0h0m0 3h0m0-5h0m-1 2h0m-1 1h0m-1-3h0m-1 3h0m-1 1h0m0-3h0m-1 0h0m-1-1h0m0 2h0m-1-2h0m0 4h0m-1-3h0m-1 0h0m-1 3h0m0-3h0m0 2h0m-1 1h0m0-1h0m0-1h0m-1 2h0m0-1h0m0 2h0m-1-4h0m0-1h0m-1 1h0m0-1h0m-1 3h0m-1-3h0m0 2h0m0 2h0m0-3h0m0 2h0m0 2h0m-1-1h0m0-4h0m0 2h0m-1 3h0m-1-4h0m0 1h0m-1 2h0m0 1h0m-1-1h0m0 1h0m0-3h0m-1 3h0m0-2h0m-1 2h0m0-5h0m0 4h0m-2-3h0m-1 2h0m0 2h0m0-5h0m-1 4h0m0-3h0m0 4h0m-1-3h0m-1-1h0m0-1h0m-1 5h0m-1-1h0m0 1h0m-1-4h0m-1 3h0m-1-3h0m-1 4h0m0-5h0m0 4h0m-1 0h0m0 1h0m-1-4h0m0 4h0m0-5h0m-1 4h0m0 1h0m-1-1h0m0-1h0m0 2h0m0-5h0m-2 5h0m-1-2h0m-2 1h0m-2-3h0m0 2h0m0-3h0m-1 0h0m-1 4h0m0-1h0m0-3h0m-2 4h0m0 1h0m-1-3h0m0-1h0m-1 4h0m0-5h0m-1 3h0m-2 1h0m0-3h0m0 2h0m0 2h0m-1-3h0m-1 0h0m0 2h0m0-1h0m-1-1h0m0-1h0m-1 3h0m-1-2h0m0 2h0m0-1h0m-1-1h0m0 2h0m-2 1h0m-3 5h0m1 1h0m2-4h0m0 4h0m0-5h0m1 0h0m1 3h0m0 2h0m0-1h0m1 1h0m0-1h0m1-1h0m1-2h0m0 2h0m0-1h0m1-2h0m0 4h0m1 1h0m0-1h0m0-3h0m0 2h0m1-3h0m0 2h0m0 2h0m0-3h0m0 2h0m1 0h0m0-1h0m0-1h0m1 0h0m0 4h0m0-5h0m1 0h0m0 4h0m1 1h0m0-5h0m0 2h0m1 2h0m1-4h0m0 5h0m1-5h0m0 3h0m1-1h0m0 2h0m0-3h0m1 4h0m0-3h0m2 1h0m0-1h0m0-1h0m1 0h0m0 1h0m1 3h0m0-1h0m0-1h0m1-2h0m0 2h0m0-3h0m1 2h0m0-1h0m0 4h0m1-2h0m0 1h0m0-3h0m1 4h0m0-5h0m0 1h0m0 2h0m1 0h0m0-3h0m0 4h0m1 0h0m1-2h0m0 2h0m0 1h0m1-1h0m0-1h0m0 2h0m1-5h0m0 2h0m0 2h0m1-3h0m0 4h0m1 0h0m1-5h0m0 2h0m0-1h0m0 2h0m1 2h0m0-5h0m0 2h0m0-1h0m1 3h0m0-1h0m0 2h0m0-3h0m1 3h0m1-1h0m0-1h0m1-1h0m0-1h0m0 2h0m2 1h0m0-1h0m1 0h0m0-1h0m0 2h0m1-2h0m0 1h0m1 2h0m0-1h0m0-3h0m1 1h0m0 2h0m0-3h0m1-1h0m0 2h0m0 2h0m1 1h0m0-3h0m0 1h0m1 2h0m0-5h0m0 4h0m1-1h0m0 2h0m0-5h0m1 0h0m0 3h0m1 2h0m1 0h0m0-5h0m0 2h0m1 2h0m1 1h0m0-3h0m0 2h0m1-1h0m0 2h0m0-5h0m1 0h0m0 1h0m1 4h0m1-5h0m0 2h0m0 1h0m1 2h0m0-5h0m0 4h0m1-2h0m0 2h0m0-1h0m1 0h0m0 2h0m0-4h0m1 1h0m0-1h0m0 2h0m1 2h0m0-5h0m0 1h0m1-1h0m0 1h0m1 2h0m0 2h0m1-1h0m0-3h0m0 2h0m0 2h0m1 0h0m0-5h0m0 2h0m1 3h0m0-5h0m0 4h0m0-3h0m1 4h0m0-1h0m0-1h0m1-1h0m0 2h0m1-2h0m0 2h0m2-4h0m0 1h0m1 4h0m0-5h0m0 2h0m0 1h0m1-1h0m0 2h0m0-3h0m1 2h0m0 2h0m0-5h0m0 2h0m1 3h0m1-4h0m0 2h0m0 2h0m0-3h0m0 2h0m1-2h0m0-1h0m1 1h0m0 1h0m1-1h0m0-1h0m0 4h0m1-1h0m0-3h0m0 2h0m1 1h0m0-3h0m0 4h0m0-5h0m1 2h0m0 2h0m1 1h0m1-4h0m0 2h0m0 2h0m1-4h0m0 2h0m0 2h0m0-5h0m1 0h0m0 2h0m0-1h0m1-1h0m0 1h0m0 2h0m1 1h0m0-1h0m0 2h0m1-5h0m0 2h0m1 2h0m0-3h0m0 4h0m1-3h0m0 2h0m0-1h0m0 2h0m0-5h0m1 4h0m0-1h0m1-3h0m0 5h0m1-5h0m0 2h0m0 2h0m1-4h0m0 2h0m0 2h0m2 0h0m1-3h0m0-1h0m1 0h0m1 2h0m0 1h0m0 2h0m1-5h0m1 3h0m0-3h0m0 2h0m1 3h0m1-2h0m1-1h0m0 2h0m0-1h0m1-1h0m0 2h0m0-1h0m1-1h0m0 3h0m2-5h0m0 2h0m0 2h0m1-1h0m0-3h0m1 5h0m1-3h0m0 2h0m0-3h0m0-1h0m1 1h0m0 4h0m1-1h0m0-3h0m1-1h0m1 2h0m0-1h0m0 2h0m0 2h0m1-1h0m0-3h0m0 4h0m1-3h0m0 1h0m1 1h0m0-1h0m0 2h0m1-5h0m0 2h0m0 2h0m0-3h0m0 4h0m1-3h0m0-2h0m1 4h0m0-3h0m0 4h0m1-4h0m0 2h0m2 2h0m0-5h0m0 2h0m1 2h0m0-1h0m0-3h0m1 5h0m1-4h0m0 2h0m0 2h0m1-4h0m0 4h0m1-4h0m1 2h0m0-3h0m0 2h0m1 1h0m1 1h0m2-4h0m0 5h0m1-2h0m2 2h0m1 0h0m0-3h0m2 1h0m1 1h0m1-3h0m1-1h0m0 2h0m0 2h0m1-1h0m1 1h0m0-1h0m1 2h0m1-2h0m0 2h0m0-3h0m1 1h0m0 2h0m0-5h0m2 5h0m1 0h0m0-3h0m1 3h0m0-3h0m1 0h0m0 2h0m0-1h0m0 2h0m1-1h0m0-2h0m1 0h0m0 2h0m0-1h0m1-1h0m2-1h0m3 1h0m1-2h0m1 5h0m0-5h0m2 3h0m0-3h0m0 2h0m1 3h0m0-3h0m2 3h0m0-4h0m1-1h0m1 0h0m0 4h0m1-2h0m0 3h0m2-2h0m0 2h0m0-1h0m1-3h0m1 4h0m1-3h0m1 1h0m0 2h0m1-4h0m1-1h0m0 2h0m1 0h0m2 0h0m1-1h0m1 2h0m0-1h0m1 2h0m1-2h0m0 2h0m2-2h0m1 2h0m0 1h0m1-1h0m1-2h0m0-2h0m1 3h0m0 2h0m0-3h0m1-2h0m1 3h0m-2 3h0m-2 4h0m-1-2h0m0-1h0m-2-1h0m0 2h0m0-1h0m-1 4h0m-1-2h0m0-3h0m-1 2h0m-1 1h0m0-1h0m-1-1h0m0 2h0m-1-1h0m0 1h0m-1-3h0m-1 2h0m-1 0h0m0 2h0m-1-1h0m-1-2h0m-1 1h0m0 2h0m-1-1h0m-2-1h0m0 1h0m-2 1h0m-1-4h0m-1 1h0m-2 2h0m-1 1h0m0-1h0m-1 2h0m0-3h0m-1 3h0m-1-1h0m-2 0h0m-4 0h0m0-3h0m-1-1h0m0 1h0m0 2h0m-1 2h0m0-1h0m0-3h0m-1-1h0m-2 2h0m-1 1h0m0-3h0m-1 3h0m0 2h0m0-5h0m-1 0h0m0 2h0m-1-1h0m0 3h0m-1-4h0m-1 1h0m0 1h0m-1 2h0m0-1h0m-1 2h0m0-5h0m-1 3h0m0 2h0m0-4h0m-1 4h0m0-3h0m0 2h0m-1-1h0m0-1h0m0 2h0m-2-3h0m-1 2h0m-1 2h0m0-3h0m0 2h0m0-3h0m-1 1h0m0 2h0m0 1h0m-1-4h0m0 4h0m0-3h0m-1 0h0m-1 3h0m-1-5h0m-1 0h0m-1 2h0m0 2h0m-1-1h0m-1 0h0m0-1h0m-1-1h0m-1 4h0m0-3h0m0-1h0m0 2h0m-1-3h0m0 2h0m0 2h0m-1-1h0m0-2h0m-1-1h0m0 2h0m-1 1h0m0 1h0m-1-2h0m-1 1h0m0-3h0m-1 3h0m0 2h0m0-1h0m-1 1h0m0-5h0m0 2h0m0 2h0m-1-2h0m0 1h0m-1-2h0m0 1h0m0 2h0m-1-3h0m0-1h0m-1 1h0m0-1h0m0 4h0m-1-4h0m-1 2h0m-1 2h0m0-3h0m0 2h0m-1-1h0m0-1h0m0 2h0m-1-2h0m0 2h0m-1 2h0m0-1h0m-1-1h0m0 2h0m0-1h0m-1-3h0m-1 0h0m0 3h0m-1 0h0m0-2h0m-1 2h0m0-3h0m-1 0h0m0 4h0m-1-3h0m-1-2h0m0 4h0m-1 1h0m0-1h0m-1-1h0m0-1h0m-1-1h0m0 1h0m-1 1h0m-1 2h0m0-3h0m-1-1h0m0 3h0m-1-1h0m0 2h0m0-1h0m-1-4h0m0 2h0m0-1h0m0 2h0m-1 0h0m0-1h0m0 2h0m0-3h0m-1 2h0m0 2h0m0-3h0m0 2h0m-1-3h0m0 2h0m0 2h0m0-5h0m0 4h0m-1-3h0m0-1h0m-1 5h0m0-5h0m0 4h0m-1-3h0m0 2h0m-1-2h0m0 4h0m0-1h0m-1-3h0m0 4h0m0-5h0m0 2h0m0 2h0m-1-2h0m0-1h0m0 4h0m-1-4h0m0 2h0m0-1h0m-1-2h0m0 2h0m-1-1h0m0 4h0m-1-2h0m0-1h0m0 2h0m-1-3h0m0 4h0m0-3h0m-1 1h0m0-1h0m0 2h0m0-3h0m-1 0h0m0 2h0m0 2h0m0-5h0m0 2h0m-1 2h0m0-3h0m0 2h0m0-3h0m-1 4h0m0-4h0m0 2h0m-1-1h0m0 2h0m0 2h0m0-5h0m0 4h0m-1-1h0m0-3h0m-1 3h0m0 2h0m0-3h0m0 2h0m-1 0h0m0-1h0m-1 2h0m0-3h0m-1-2h0m0 1h0m0 2h0m-1-2h0m0 1h0m0 2h0m-1-3h0m0 2h0m0-3h0m0 4h0m-1-2h0m-1-2h0m0 2h0m0 2h0m-1-3h0m0 2h0m0-1h0m-1 0h0m0 3h0m-1-4h0m0 1h0m-1-2h0m-1 4h0m0-2h0m-1 0h0m-1-1h0m0 2h0m0 2h0m0-5h0m-1 3h0m0 2h0m0-5h0m0 2h0m0 2h0m-1-3h0m0 2h0m0-3h0m-1 5h0m0-3h0m-1 0h0m0 2h0m0-1h0m0 2h0m-1-4h0m0 2h0m-1 0h0m0-3h0m0 4h0m-1-3h0m0 4h0m0-5h0m0 2h0m0 2h0m-1-4h0m0 2h0m0-1h0m-1 2h0m0 1h0m-1-2h0m-1-2h0m0 2h0m0 2h0m-1-3h0m0-1h0m0 2h0m-1-2h0m0 4h0m-1-3h0m0 4h0m0-5h0m0 2h0m-1-2h0m-1 5h0m0-3h0m0 2h0m-1-3h0m0 4h0m0-5h0m0 4h0m-1-1h0m0 2h0m0-1h0m-1 1h0m-1 0h0m0-3h0m0-1h0m-1 0h0m0 4h0m-1-5h0m-1 4h0m0-3h0m-1 2h0m0-1h0m-2-1h0m0 2h0m0 2h0m-2-1h0m0 1h0m0-5h0m0 2h0m-1-2h0m0 1h0m-1 0h0m0 4h0m0-3h0m0 2h0m-1-2h0m0-2h0m-1 4h0m-1-3h0m0 4h0m0-5h0m-1 5h0m-1-2h0m-1 0h0m-1 0h0m0 2h0m0-5h0m-1 0h0m-1 3h0m0-1h0m-1 0h0m-1 3h0m0-5h0m0 4h0m-3-2h0m-1 2h0m0-3h0m-1 1h0m0 2h0m0-1h0m0 2h0m-1-2h0m-1 1h0m0 1h0m-1-4h0m0 4h0m-1-4h0m-1 2h0m0 2h0m0-1h0m-1-3h0m0 4h0m0-5h0m-1 2h0m0 2h0m0 1h0m-1-4h0m0 2h0m-1-2h0m0 4h0m-1-2h0m0 2h0m0-3h0m-1-2h0m0 1h0m0 2h0m0 2h0m-1 0h0m-1-5h0m0 3h0m0 2h0m-1-1h0m0-1h0m-2 2h0m0-3h0m-4 5h0m2 3h0m1-1h0m1-1h0m0 2h0m1-1h0m1-3h0m0 2h0m0-1h0m1-1h0m0 4h0m0-3h0m1 4h0m0-5h0m1 3h0m0-2h0m1 0h0m0 4h0m0-5h0m2 5h0m0-5h0m0 1h0m0 2h0m1 1h0m0-1h0m1 0h0m0 1h0m1-4h0m0 2h0m0 2h0m0 1h0m1-4h0m0 4h0m0-5h0m0 4h0m1-3h0m0 2h0m1 2h0m0-3h0m0-1h0m1-1h0m0 1h0m0 2h0m1 0h0m0-1h0m0 2h0m1 0h0m1 1h0m1-5h0m0 2h0m0 3h0m1-4h0m0 2h0m1 0h0m1 2h0m0-5h0m0 2h0m0-1h0m1-1h0m0 2h0m1-2h0m0 2h0m0 1h0m1-2h0m0 1h0m1 1h0m0-3h0m0 4h0m1 1h0m0-3h0m1 0h0m1 3h0m0-5h0m0 2h0m0 2h0m0-1h0m1-3h0m0 3h0m1 0h0m0-3h0m1 0h0m1 2h0m0-1h0m1-1h0m0 4h0m0-3h0m1 4h0m1-5h0m0 2h0m0 2h0m0-3h0m0 2h0m1-2h0m0 2h0m0 2h0m0-5h0m1 5h0m0-5h0m0 2h0m0-1h0m2 0h0m1-1h0m0 2h0m0 2h0m0-3h0m0 2h0m1-2h0m0 2h0m0-3h0m0 2h0m0 2h0m1 0h0m0-1h0m1 1h0m0 1h0m0-5h0m0 2h0m1-2h0m0 4h0m1-3h0m0 4h0m0-3h0m1-2h0m0 2h0m0 2h0m1 0h0m0 1h0m1-3h0m0 2h0m0-1h0m0 2h0m1 0h0m0-3h0m0 1h0m1-1h0m0 2h0m0-3h0m0 2h0m1 2h0m0-4h0m1-1h0m0 4h0m0-1h0m1 2h0m0-5h0m0 1h0m0 2h0m1-2h0m0 4h0m1-1h0m1-3h0m1 4h0m1 0h0m0-5h0m0 3h0m1 2h0m0-5h0m0 1h0m0 2h0m1-2h0m0 4h0m0-5h0m1 2h0m0 2h0m0-3h0m0 2h0m1-3h0m0 2h0m0 1h0m0 2h0m2-2h0m0 1h0m1-3h0m2 4h0m0-3h0m0 2h0m1 0h0m0-3h0m0 2h0m0-3h0m1 2h0m0 2h0m1 1h0m0-3h0m0 2h0m1-2h0m0 1h0m1-3h0m0 1h0m0 2h0m0 2h0m1-1h0m0-3h0m0 4h0m0-5h0m0 2h0m1-2h0m0 2h0m0 1h0m1 0h0m1-3h0m0 4h0m0-3h0m0 2h0m0 2h0m1-5h0m0 5h0m1-3h0m0 1h0m1-1h0m0 2h0m1-2h0m0 2h0m1 0h0m0-3h0m0 4h0m1-3h0m0 2h0m0-1h0m1-1h0m0-1h0m0 4h0m0-5h0m1 1h0m0 4h0m1-4h0m0 4h0m0-3h0m1-2h0m0 2h0m0 2h0m0-3h0m0 4h0m1 0h0m0-5h0m0 2h0m0-1h0m0 2h0m1-1h0m0 2h0m0-4h0m1 2h0m0 2h0m0-3h0m0 4h0m1-1h0m0-1h0m0 2h0m1-5h0m1 0h0m0 1h0m0 2h0m0 2h0m1-5h0m0 4h0m0-3h0m0 2h0m1-2h0m0 4h0m0-5h0m0 2h0m1 0h0m0-1h0m0-1h0m1 5h0m0-5h0m0 2h0m0 2h0m1-2h0m0 2h0m0-1h0m1-2h0m0 2h0m0 2h0m1-1h0m0-1h0m1-2h0m0 4h0m1-1h0m0-3h0m1 2h0m0-3h0m0 2h0m1 2h0m0-3h0m0 2h0m0 2h0m0-3h0m1 2h0m0-3h0m0-1h0m1 1h0m0 2h0m0-1h0m1-1h0m1 3h0m0-3h0m0-1h0m0 2h0m1 0h0m0 1h0m0 2h0m1-5h0m0 2h0m1 2h0m0 1h0m0-5h0m1 0h0m1 4h0m0 1h0m1-1h0m0-3h0m0 2h0m0 2h0m1-4h0m0 4h0m0-5h0m1 5h0m0-5h0m0 2h0m1 0h0m0 3h0m1 0h0m0-4h0m1 3h0m0-3h0m0 2h0m0 2h0m0-5h0m1 3h0m0 2h0m1-1h0m0 1h0m1 0h0m0-5h0m0 2h0m0-1h0m1 2h0m0 2h0m1-4h0m0 2h0m1-2h0m0 2h0m0-3h0m0 2h0m1 0h0m0-1h0m0 4h0m1-3h0m0 3h0m1-5h0m0 2h0m1 1h0m0-1h0m0 2h0m1-2h0m1 1h0m0-3h0m0 2h0m1-1h0m0 2h0m0-3h0m1 3h0m0 2h0m0-3h0m1-2h0m0 4h0m0-1h0m0 2h0m1-4h0m0 2h0m1 1h0m1-2h0m1 0h0m1-2h0m0 4h0m0 1h0m1-1h0m0 1h0m1-5h0m1 1h0m0 2h0m1-2h0m1 1h0m1 3h0m0-5h0m1 1h0m0 4h0m1-5h0m1 4h0m1-3h0m1 1h0m1 0h0m0-1h0m1 4h0m1-5h0m0 1h0m2 3h0m0-3h0m0-1h0m1 4h0m0-3h0m1 2h0m0-1h0m1-2h0m1 5h0m0-5h0m1 0h0m0 2h0m1 0h0m1-1h0m0 2h0m0 2h0m1-1h0m0-1h0m0 2h0m0-5h0m1 4h0m0-1h0m1 2h0m1-4h0m0 2h0m0-1h0m2 1h0m0-3h0m1 3h0m0 2h0m0-3h0m1-1h0m0 1h0m2 3h0m0-1h0m1 0h0m0 1h0m2-1h0m0-4h0m1 3h0m0-1h0m1 2h0m1-3h0m0-1h0m1 5h0m1 0h0m0-1h0m2-3h0m0 2h0m0 2h0m1-5h0m0 4h0m1-4h0m1 0h0m0 2h0m1 1h0m0-3h0m3 1h0m4-1h0m-9 6h0m-2 0h0m-1 1h0m-1 3h0m-1-4h0m0 3h0m-1-1h0m0 3h0m-1-5h0m0 2h0m-4-2h0m0 1h0m-2 2h0m0-3h0m-1 4h0m-1-4h0m-1 0h0m0 4h0m0-1h0m0 2h0m-1-5h0m0 3h0m-1-1h0m0 2h0m-1-4h0m0 4h0m-1-3h0m-1 2h0m0-3h0m0 2h0m-1-1h0m-1 4h0m0-1h0m-1 1h0m0-4h0m-1 2h0m-1-3h0m0 2h0m0 2h0m-1-2h0m-1 2h0m0-3h0m-1 4h0m0-5h0m0 2h0m-1-2h0m-1 4h0m-1-3h0m0 2h0m-1-3h0m-2 2h0m0 2h0m0-3h0m0 2h0m-1-3h0m0 2h0m-1-2h0m0 2h0m-1 3h0m0-3h0m-1 2h0m-1-2h0m-1-2h0m0 2h0m0 2h0m-1-4h0m-1 1h0m0 3h0m-1 1h0m0-4h0m-1 3h0m-1-4h0m0 1h0m-1 3h0m-1-2h0m-1-2h0m-2 3h0m-1 2h0m0-3h0m0 1h0m-1-2h0m0-1h0m0 2h0m0 2h0m-1 1h0m0-5h0m-1 0h0m0 2h0m0 2h0m0-1h0m-1-2h0m-1 2h0m0 2h0m0-5h0m0 4h0m0-3h0m-1 2h0m0-1h0m0 2h0m-1-1h0m0 2h0m-1 0h0m0-2h0m-1 0h0m-1 2h0m0-5h0m0 2h0m-1 1h0m0-3h0m0 4h0m0-3h0m-1 4h0m0-5h0m0 1h0m-1 4h0m0-5h0m0 1h0m-1 0h0m0 2h0m-1 2h0m0-3h0m0 2h0m-1-4h0m-1 0h0m-1 0h0m-1 5h0m0-5h0m-2 3h0m0 2h0m0-1h0m-1-2h0m0 3h0m-1-4h0m0 1h0m-2 1h0m0-3h0m0 4h0m-1-3h0m0 2h0m0 2h0m-1-1h0m-1 0h0m0-3h0m0 2h0m0 2h0m-1-3h0m0 2h0m-1-3h0m0 2h0m0-1h0m-1 0h0m-1 3h0m0-5h0m0 2h0m0 2h0m-1-4h0m0 2h0m-1 1h0m0-3h0m0 4h0m0-3h0m-1 3h0m-1-4h0m0 4h0m0-3h0m-1 3h0m-1-3h0m0 4h0m0-5h0m-1 1h0m0 4h0m0-5h0m0 2h0m0 2h0m-1-4h0m0 2h0m-1 3h0m0-5h0m0 2h0m0 2h0m-1-4h0m-1 1h0m-1 2h0m0 2h0m0-3h0m0 2h0m-1-4h0m0 2h0m0 2h0m-1-3h0m0 1h0m0 2h0m-1-4h0m0 5h0m-1-2h0m-1-3h0m0 1h0m-1 1h0m0 2h0m0-3h0m-1 2h0m-1-2h0m0-1h0m-1 1h0m0 2h0m-1-2h0m0 2h0m0 2h0m-1-4h0m0 2h0m0 2h0m0-5h0m0 2h0m0 2h0m-1-2h0m0 2h0m0 1h0m-1-4h0m0-1h0m0 2h0m-1-2h0m0 4h0m0-3h0m0 2h0m0 2h0m-1-4h0m0 4h0m0-5h0m0 2h0m-1-1h0m0-1h0m0 4h0m-1-1h0m0 2h0m0-3h0m0 2h0m-1 0h0m-1-3h0m0-1h0m0 4h0m-1 0h0m0-3h0m0 2h0m0-3h0m-1 0h0m0 2h0m0 2h0m-1-4h0m-1 2h0m-1 0h0m0 2h0m-1-1h0m0 2h0m0-3h0m0 2h0m-1-3h0m0 4h0m0-1h0m-1 0h0m0-3h0m0 1h0m-1 3h0m0-1h0m-1-1h0m0-3h0m0 4h0m-1-3h0m0 2h0m0 2h0m-1-4h0m0 2h0m0-3h0m0 4h0m-1-3h0m0-1h0m0 2h0m-1-2h0m0 1h0m-1 0h0m0 2h0m0-3h0m0 4h0m-1 1h0m0-5h0m0 2h0m0 2h0m-1-1h0m0-1h0m0 2h0m-1-1h0m0-3h0m0 2h0m0 2h0m-1-3h0m0 2h0m0-1h0m0 2h0m-1-2h0m0-1h0m0 2h0m-1-2h0m0 2h0m0-3h0m-1 5h0m0-3h0m-2 3h0m0-3h0m-1-2h0m0 4h0m-1-1h0m0-3h0m0 2h0m-1 2h0m0-1h0m0 2h0m0-5h0m0 2h0m-1 0h0m0 2h0m-2-4h0m0 2h0m-1-1h0m0 2h0m0 2h0m-1-4h0m0 2h0m-1 0h0m-1-1h0m0 2h0m0-1h0m0 2h0m-1 0h0m0-5h0m0 2h0m0 2h0m-1-3h0m0 1h0m-1 1h0m0-3h0m-1 4h0m0-3h0m0 4h0m0-3h0m-1-1h0m-1 3h0m-1 1h0m0-5h0m0 2h0m0 2h0m0-3h0m-1 2h0m0-3h0m-1 1h0m0 2h0m-1-3h0m0 5h0m-1-4h0m0 4h0m0-1h0m-1 1h0m0-1h0m-1-3h0m0-1h0m0 4h0m-1-4h0m0 4h0m0 1h0m-1-4h0m0 1h0m0 2h0m-1-4h0m0 2h0m0 2h0m0-1h0m0 2h0m-1-1h0m0-1h0m0-3h0m-2 3h0m0 2h0m0-1h0m-1-1h0m0 2h0m0-5h0m0 4h0m-1 0h0m-1 1h0m0-1h0m-1 1h0m-1-2h0m0 2h0m0-5h0m0 2h0m0 2h0m-1-3h0m-1 1h0m0 2h0m0-3h0m-1 2h0m0 2h0m0-5h0m0 2h0m-3 3h0m0-3h0m-1 2h0m0-1h0m0-3h0m-1 0h0m0 4h0m-1-3h0m0 2h0m0 2h0m-1-2h0m-2 4h0m5-1h0m0 1h0m1 2h0m0-1h0m0 2h0m1-4h0m0 1h0m1 2h0m0-3h0m2 0h0m1 5h0m0-4h0m1 0h0m1 1h0m1 1h0m1 0h0m0 1h0m1-4h0m0 3h0m0 2h0m1-5h0m0 1h0m1-1h0m0 2h0m1-2h0m0 2h0m0 1h0m1 0h0m1-3h0m0 5h0m1-5h0m0 1h0m0 2h0m1-1h0m0-1h0m0 4h0m1 0h0m0-5h0m0 4h0m0-3h0m1-1h0m0 2h0m0-1h0m0 2h0m0 2h0m1-3h0m0-1h0m1 3h0m0-1h0m1-1h0m0 2h0m0-3h0m1 2h0m0 2h0m0-5h0m2 1h0m0 2h0m0 2h0m1-5h0m1 5h0m0-5h0m1 5h0m0-5h0m0 3h0m1 2h0m0-3h0m1 3h0m0-4h0m1 1h0m0 1h0m1 1h0m1 1h0m0-5h0m0 2h0m1 0h0m0 2h0m1-1h0m0 2h0m2 0h0m0-3h0m0 1h0m1-2h0m0-1h0m0 2h0m1 2h0m1-3h0m0 4h0m1-5h0m0 4h0m0-1h0m1-3h0m0 4h0m0-3h0m1 3h0m0-1h0m1 0h0m0-1h0m0 2h0m1-4h0m0 4h0m1-2h0m1 2h0m0-4h0m1 2h0m1 2h0m0-3h0m0 2h0m1-3h0m0 2h0m0 2h0m1-4h0m0 1h0m0 4h0m2-4h0m0 2h0m0-3h0m1 0h0m0 1h0m1 4h0m1-5h0m0 2h0m0-1h0m0 4h0m1 0h0m0-5h0m0 2h0m0 2h0m1 0h0m1-1h0m0 1h0m1-2h0m0 2h0m0-3h0m0 4h0m1-4h0m0 4h0m1-3h0m1-2h0m0 1h0m0 2h0m1 0h0m0 2h0m1-3h0m0 2h0m0-3h0m0 2h0m0 2h0m1-3h0m0-1h0m0 4h0m1-3h0m0 1h0m1-2h0m0-1h0m1 1h0m1-1h0m0 4h0m0-3h0m0 4h0m1-2h0m0 2h0m1 0h0m1-3h0m0 1h0m0 2h0m0-5h0m1 4h0m0-3h0m0 4h0m0-5h0m1 2h0m0 2h0m0-1h0m0 2h0m1-5h0m1 4h0m0-3h0m1 2h0m0-1h0m1 2h0m0-3h0m0 4h0m1-5h0m0 4h0m0-1h0m1 1h0m1-4h0m0 2h0m0 2h0m1-2h0m0 1h0m0 2h0m0-5h0m1 5h0m0-3h0m0 2h0m1 0h0m0-1h0m0-3h0m1 4h0m0 1h0m1-4h0m0 4h0m1-3h0m0-1h0m0-1h0m1 2h0m0 3h0m1-3h0m0-1h0m0 2h0m2-1h0m0 2h0m0-3h0m0 2h0m0 2h0m1-4h0m0 2h0m0-1h0m0 2h0m1-2h0m0 2h0m0-1h0m1 1h0m0-3h0m1 1h0m0 2h0m0-3h0m0 2h0m1-1h0m0 2h0m0-3h0m0 2h0m1 2h0m1 0h0m0-3h0m0 2h0m0-3h0m0 2h0m2 1h0m0-1h0m0 2h0m1-4h0m0 2h0m1 0h0m1 2h0m1-5h0m0 2h0m0 2h0m1-3h0m1 0h0m1 0h0m0 2h0m1-1h0m0-2h0m1 1h0m0 3h0m1-2h0m0 2h0m0-1h0m0 2h0m0-5h0m1 1h0m0 3h0m1-2h0m0 2h0m0-4h0m1 0h0m1 4h0m0-1h0m1-2h0m0 1h0m1 2h0m0 1h0m0-5h0m1 2h0m0-1h0m2 1h0m0 2h0m0-3h0m0 2h0m0 2h0m1-4h0m1 1h0m1-1h0m0 2h0m0-1h0m1-1h0m1 0h0m0 2h0m0-3h0m1 2h0m0-1h0m0 4h0m1-2h0m0-1h0m1 3h0m0-3h0m1 2h0m0 1h0m2-3h0m1-1h0m1 1h0m0 2h0m1 0h0m0-3h0m0 4h0m0-5h0m1 0h0m1 4h0m0-1h0m0 2h0m0-3h0m2 2h0m0-1h0m0 2h0m1 0h0m1-3h0m2-1h0m0 3h0m1 0h0m0-4h0m2 0h0m1 5h0m1-2h0m1 2h0m0-5h0m1 4h0m0-1h0m0 2h0m0-5h0m1 0h0m1 0h0m1 5h0m0-4h0m2 2h0m1-3h0m0 4h0m1-4h0m2 1h0m0 2h0m3-2h0m0 2h0m0-3h0m1 1h0m0 1h0m2-1h0m1 0h0m0-1h0m-11 8h0m-3-1h0m-2 3h0m-3-3h0m-2 4h0m0-5h0m-1 2h0m0-1h0m0 2h0m-3-3h0m0 3h0m0 2h0m-1-2h0m0 2h0m0-5h0m0 4h0m-1-4h0m0 3h0m-1 2h0m0-3h0m-1-2h0m-1 2h0m0 1h0m-1 2h0m0-5h0m0 2h0m-1 1h0m-1-3h0m0 2h0m-1 2h0m0-3h0m0 4h0m0-5h0m-4 2h0m-1-2h0m-1 3h0m0 1h0m-1 1h0m-1 0h0m-1-2h0m-1-3h0m0 2h0m0-1h0m-1-1h0m-2 5h0m0-5h0m-3 0h0m0 2h0m0 2h0m-1-2h0m0-1h0m-1 2h0m0-3h0m0 2h0m-2 1h0m-1-3h0m-2 2h0m-1 1h0m-1-2h0m0 4h0m-1-4h0m-1 0h0m-1 4h0m0-1h0m-1-2h0m0 2h0m0-1h0m-1-2h0m0 3h0m-1-3h0m-1 0h0m0 2h0m0-1h0m0 2h0m-1-3h0m-1 2h0m0-1h0m0 2h0m-1 1h0m-1 0h0m0-5h0m0 1h0m-1 3h0m0-1h0m-1 2h0m-2-5h0m0 2h0m0 2h0m0-3h0m0 2h0m0 2h0m-1-5h0m-1 3h0m0 2h0m0-3h0m0 2h0m0-3h0m-1 3h0m-1-3h0m0 2h0m0-3h0m-1 3h0m0-3h0m0 2h0m-2-1h0m0 4h0m0-1h0m-1-2h0m-1-1h0m0 3h0m-1-1h0m0 1h0m-1-1h0m0-3h0m0 2h0m-1 1h0m0-3h0m0 2h0m-2 0h0m-1-2h0m-1 5h0m0-3h0m-1 1h0m0-3h0m0 2h0m-1 2h0m0-3h0m-1 3h0m0 1h0m-1-4h0m0 4h0m-1 0h0m0-5h0m0 2h0m-1 0h0m0 2h0m-1-1h0m0-1h0m0 2h0m-1-1h0m0-1h0m-1-2h0m0 2h0m0-1h0m-1 1h0m0 2h0m-2-1h0m-1-2h0m0 1h0m-1 1h0m0 2h0m0-1h0m-1-2h0m0-1h0m-1 0h0m0 2h0m0 2h0m0-3h0m0 2h0m-1-4h0m0 2h0m0 2h0m-1-2h0m0 2h0m0-3h0m0 2h0m-1 0h0m0 2h0m0-3h0m-1-1h0m0 2h0m0-3h0m-1 3h0m0-3h0m0 4h0m-1-1h0m-1-2h0m0 2h0m0 1h0m-1-4h0m0 2h0m0-1h0m0 2h0m0 2h0m-1-4h0m0-1h0m0 4h0m-1-3h0m0 4h0m0-3h0m0 2h0m-1 1h0m-1-1h0m0-1h0m0 2h0m-1 0h0m0-5h0m-1 5h0m0-2h0m-1 0h0m0 2h0m-1 0h0m0-3h0m0-1h0m-2 0h0m0 4h0m0-1h0m-1-1h0m0-3h0m-1 3h0m0 2h0m-1-3h0m0 2h0m0-3h0m0 4h0m0-5h0m-1 5h0m-1-1h0m0 1h0m-1-4h0m0 2h0m0 2h0m-1-2h0m0 2h0m0-1h0m-1-1h0m0-3h0m0 2h0m0 2h0m-1 1h0m0-3h0m-1 3h0m0-3h0m-1 0h0m-1-1h0m0 4h0m-1-4h0m-1 1h0m0 1h0m-1-1h0m0 1h0m-1 1h0m0-1h0m-1-2h0m0 3h0m-2 1h0m0-5h0m0 2h0m-1 2h0m0-2h0m-1 1h0m0-3h0m0 2h0m-1 1h0m0-1h0m-1-1h0m0 2h0m0 2h0m0-5h0m0 2h0m0 2h0m-1-4h0m0 2h0m-1 0h0m-1 3h0m0-5h0m0 2h0m0 1h0m-1-2h0m0 2h0m0-1h0m-1-1h0m0 4h0m0-5h0m-1 2h0m-1-2h0m0 2h0m0-1h0m0 2h0m-1-2h0m0-1h0m0 2h0m-1-1h0m0 2h0m-1 0h0m0 2h0m-1-4h0m0 2h0m-1 0h0m-1 0h0m0 2h0m-1 0h0m0-5h0m0 2h0m-2-2h0m0 4h0m0-1h0m0 2h0m-2-2h0m3 5h0m2-1h0m0-1h0m1 3h0m0 1h0m2-4h0m0 1h0m0 4h0m1-2h0m1 1h0m0-1h0m1 0h0m0-1h0m1-2h0m1 0h0m0 1h0m0 4h0m1-1h0m0-1h0m0 2h0m1-4h0m1-1h0m1 3h0m0-3h0m0 1h0m1 3h0m0-2h0m1 0h0m0 2h0m0-1h0m0 2h0m1-2h0m1 2h0m0-3h0m1 3h0m0-1h0m0-3h0m1-1h0m0 3h0m0 2h0m1 0h0m1-1h0m1 0h0m1-2h0m0 2h0m0-1h0m0 2h0m2-1h0m1 0h0m1-2h0m2 3h0m0-5h0m1 0h0m0 4h0m0-1h0m1 1h0m0-1h0m0 2h0m1-2h0m1-1h0m1-1h0m0 4h0m1-1h0m0-3h0m0 2h0m0-3h0m1 2h0m0 2h0m0-3h0m1 1h0m1 1h0m0 2h0m1-4h0m0 2h0m0 2h0m0-5h0m0 2h0m0 2h0m1-4h0m0 2h0m0 2h0m0-1h0m1-2h0m0 2h0m0 2h0m1-5h0m1 2h0m0-1h0m1-1h0m0 2h0m0 2h0m0-3h0m0 2h0m1 1h0m0-1h0m1-3h0m0 4h0m0-3h0m1 4h0m0-5h0m1 2h0m0 2h0m0-1h0m1 1h0m1-3h0m0-1h0m1 4h0m0-1h0m1-1h0m0 2h0m0-1h0m1-3h0m0 1h0m1 3h0m0-3h0m0 4h0m1-5h0m0 2h0m0-1h0m1 3h0m0-3h0m0 4h0m0-5h0m0 2h0m1 2h0m0-3h0m1 0h0m2 0h0m0 4h0m0-1h0m1 0h0m0-3h0m0-1h0m1 3h0m0-1h0m1 2h0m0 1h0m2-1h0m0-3h0m0-1h0m1 0h0m0 1h0m0 4h0m1-1h0m0-3h0m0 4h0m1-3h0m1 0h0m1 2h0m0-4h0m0 2h0m1 1h0m0-3h0m0 4h0m1-2h0m1 1h0m1-3h0m0 2h0m1 3h0m0-5h0m1 2h0m0 2h0m0-3h0m0 4h0m1-4h0m0-1h0m1 2h0m0 1h0m1 1h0m0-3h0m0 2h0m0-3h0m1 2h0m0 2h0m1-1h0m0 2h0m1-1h0m0-2h0m1-2h0m0 4h0m1-4h0m1 5h0m1-1h0m0-3h0m0 2h0m1-1h0m0-1h0m0 4h0m2-5h0m1 1h0m0-1h0m1 4h0m0-3h0m0-1h0m0 2h0m1-1h0m0 2h0m0-3h0m1 2h0m0-1h0m0 2h0m0 2h0m0-5h0m1 4h0m1-2h0m1-1h0m0 4h0m0-5h0m1 0h0m0 2h0m0 2h0m0-3h0m1 3h0m0-3h0m1 2h0m0-3h0m1 2h0m0 3h0m1 0h0m0-5h0m0 2h0m1 0h0m0 2h0m1 1h0m0-5h0m3 5h0m4-3h0m2 0h0m3 1h0m0 2h0m0-5h0m2 4h0m1 0h0m0-3h0m0 2h0m0 2h0m1-4h0m0 2h0m0-1h0m1 3h0m0-3h0m1 0h0m1 0h0m1 3h0m1-4h0m0 1h0m1 1h0m0-3h0m3 1h0m1 0h0m2 0h0m-15 5h0m-8 0h0m-2 1h0m-1 3h0m-1-4h0m0 2h0m-1-2h0m-3 1h0m-1-1h0m-2 1h0m0 2h0m-1-2h0m0 2h0m-1 0h0m-1-1h0m-2-1h0m-1-1h0m-1 3h0m-1-3h0m0 2h0m-1-2h0m0 4h0m0-3h0m-1 0h0m-1 4h0m0-1h0m-1-1h0m0-3h0m-1 0h0m0 2h0m0 2h0m-1-1h0m0-1h0m-1-2h0m0 1h0m0 2h0m-1-2h0m0-1h0m0 2h0m-1 0h0m0-1h0m-1 2h0m0 2h0m0-5h0m0 2h0m0 2h0m-1-1h0m-1-1h0m0 2h0m-1-1h0m-1-3h0m-1 5h0m0-1h0m-3-1h0m-2 1h0m0 1h0m-1 0h0m-2-2h0m0 2h0m-1 0h0m0-1h0m-1 0h0m-1 1h0m0-5h0m0 2h0m0 1h0m-1-2h0m0-1h0m0 2h0m0 2h0m-1-4h0m0 2h0m0 2h0m0-3h0m-2 0h0m-1 4h0m0-5h0m0 2h0m0-1h0m-2-1h0m0 3h0m-1-2h0m0 2h0m0 2h0m0-5h0m0 4h0m-1 1h0m-1-2h0m0-1h0m0 2h0m-1-3h0m-1 2h0m0 1h0m-1-3h0m0 4h0m-1-2h0m0 2h0m0-4h0m-1 0h0m0 4h0m-2 0h0m0-1h0m-1-1h0m0-3h0m-1 3h0m0-1h0m0-1h0m-1 2h0m-1-3h0m-1 1h0m0-1h0m-1 5h0m-1-3h0m0-1h0m-1-1h0m0 2h0m0 2h0m-1-2h0m-1 3h0m-1-2h0m0-1h0m0 2h0m0-3h0m-1 2h0m0-1h0m-1-1h0m0 4h0m0-5h0m-1 3h0m0-3h0m0 4h0m-1-2h0m0 2h0m-1-3h0m0-1h0m0 4h0m-1-4h0m0 2h0m-1 1h0m0 2h0m-1-3h0m-1 1h0m0-3h0m0 2h0m-1 2h0m-2-4h0m0 4h0m-1-3h0m0 1h0m-1-1h0m0-1h0m-2 4h0m-1-4h0m-1 0h0m-1 0h0m-1 1h0m0 1h0m-1-2h0m-4 0h0m-2 2h0m-2-1h0m15 6h0m2 1h0m5 3h0m5-4h0m0 2h0m1-1h0m1-1h0m1 1h0m0 2h0m1-2h0m0-1h0m1-1h0m1 1h0m1 3h0m2-3h0m0-1h0m1 2h0m0 2h0m0 1h0m2-3h0m1 2h0m2-2h0m1-1h0m0 2h0m0-3h0m0 2h0m1-1h0m1 1h0m0 2h0m0-1h0m1-1h0m0-1h0m0 2h0m1-1h0m1 0h0m0-1h0m1 3h0m0-3h0m1 2h0m0-3h0m1 3h0m0 2h0m0-3h0m1 0h0m0 1h0m1 0h0m0-3h0m0 4h0m1-4h0m0 5h0m1-2h0m2 1h0m1-3h0m0 4h0m5-3h0m0 2h0m0-3h0m1 0h0m1-1h0m1 5h0m0-3h0m1 0h0m1-2h0m1 0h0m1 0h0m3 0h0m3 3h0m1-1h0m1 0h0m2-2h0m2 1h0m2-1h0m0 1h0m7 0h0m-32 5h0m-2 0h0m-4 1h0m-4-1h0m-7 0h0m-7 0h0m0 1h0m312 43h0m1-1h0m0 2h0m0-1h0m1 2h0m1-2h0m1 3h0m1-3h0m0 2h0m2 0h0m2-4h0m1 3h0m0 1h0m1-1h0m0 2h0m1-2h0m1 2h0m0-1h0m2 1h0m4-1h0m1 0h0m2 1h0m1 0h0m4 0h0m14 5h0m-1-4h0m0 5h0m-1-2h0m-1 2h0m-1-1h0m-1-2h0m-1 1h0m-1 1h0m-1-1h0m0 2h0m-1-3h0m0 2h0m0 1h0m-1-1h0m-1-2h0m-2 1h0m-2-3h0m-1 3h0m0-1h0m-1-2h0m0 1h0m-1 4h0m-1-3h0m0 1h0m-1 1h0m-2 1h0m0-1h0m-1-3h0m0-1h0m-1 3h0m-1 2h0m0-3h0m-1-2h0m0 5h0m-1-2h0m-2-2h0m0 2h0m0 1h0m-1-2h0m-1 3h0m-1 0h0m-1-4h0m0 4h0m-1-5h0m0 3h0m-1 1h0m-1-1h0m0 2h0m0-5h0m0 2h0m0-1h0m-1 1h0m0 3h0m-1 0h0m0-5h0m0 1h0m-1 3h0m0-1h0m0 2h0m-1-4h0m0 2h0m-1-3h0m-1 3h0m-2 2h0m-1-5h0m-1 2h0m0 1h0m-2 2h0m0-5h0m-4 5h0m-2-1h0m-3 3h0m0 4h0m1-4h0m0 1h0m1 2h0m0-1h0m0-3h0m1 2h0m1-1h0m0 4h0m1-2h0m0-3h0m1 2h0m1 2h0m0-3h0m1 2h0m0-3h0m2 4h0m1-3h0m0 2h0m0 1h0m1-1h0m0 1h0m1-1h0m0 2h0m1 0h0m0-1h0m1 0h0m0 1h0m1-2h0m0-3h0m1 3h0m0 1h0m1 0h0m0-3h0m1-1h0m1 1h0m1 3h0m1 1h0m0-1h0m1 1h0m0-3h0m2 1h0m0 1h0m1 0h0m1-1h0m0-1h0m1-2h0m0 2h0m0-1h0m0 2h0m1 0h0m1 1h0m0-1h0m0 2h0m0-5h0m0 2h0m1 1h0m1-2h0m1 0h0m0 2h0m0 2h0m0-1h0m1-2h0m0 2h0m0 1h0m1 0h0m0-3h0m0 2h0m1-3h0m0 4h0m0-1h0m1-4h0m0 1h0m0 2h0m1 2h0m0-3h0m1 1h0m0-1h0m0-1h0m1 4h0m0-3h0m0 2h0m1 1h0m0-2h0m1-2h0m0 3h0m1-4h0m0 2h0m0-1h0m1 0h0m0 4h0m0-5h0m0 2h0m1 1h0m0-3h0m1 1h0m0 2h0m0 2h0m0-5h0m0 2h0m1-1h0m1 0h0m0 2h0m2-3h0m1 3h0m0-1h0m0 2h0m0-3h0m1-1h0m0 4h0m0-3h0m0 2h0m1-1h0m0-1h0m2 0h0m0 1h0m1 3h0m2-4h0m2 2h0m1 8h0m-2 0h0m-1-3h0m0 2h0m-1-3h0m0 2h0m0-1h0m-1-1h0m-1 1h0m-1 0h0m0 2h0m0-1h0m-1-1h0m0 1h0m-1-2h0m0 1h0m0 2h0m-1 1h0m-1 0h0m-1-4h0m0 2h0m-1-2h0m0 4h0m-2-1h0m0-2h0m-1 0h0m-1-1h0m0 4h0m-1-4h0m-1 4h0m0-5h0m-1 0h0m0 2h0m-1 0h0m0 2h0m0-4h0m-1 2h0m0-1h0m0 2h0m0 2h0m0-5h0m-1 2h0m-1-1h0m-1-1h0m0 5h0m-1-3h0m0 1h0m-1 1h0m0-3h0m0 2h0m-1 1h0m0 1h0m-1 0h0m0-5h0m0 2h0m0 2h0m0-3h0m-1-1h0m0 4h0m-1 0h0m0-1h0m-1 0h0m-1-3h0m0 4h0m0-1h0m-1-1h0m-1 2h0m-1-4h0m0 2h0m0 2h0m0-3h0m0 2h0m-1 1h0m0-1h0m0-1h0m-1 3h0m-1-2h0m-1-1h0m0 2h0m0-3h0m0 2h0m0 2h0m0-5h0m-1 5h0m0-3h0m-1 0h0m-1 1h0m0 2h0m0-3h0m-1 3h0m0-5h0m-1 1h0m0 2h0m0-3h0m-1 0h0m-1 0h0m0 2h0m0 2h0m0-3h0m0 4h0m-1 0h0m0-5h0m0 4h0m-1-3h0m0 4h0m-1-3h0m0-1h0m-1 1h0m0 2h0m0-3h0m0 2h0m0 2h0m-1-5h0m0 3h0m-1-3h0m-1 2h0m0 2h0m-1-4h0m0 2h0m0-1h0m-1 1h0m0 3h0m-3-1h0m0-3h0m0 2h0m-1-2h0m0 1h0m0 2h0m-1-2h0m0 2h0m-2-1h0m-1-1h0m0 2h0m0 7h0m0-5h0m1 1h0m0-1h0m0 4h0m1-1h0m1 2h0m0-1h0m1-4h0m0 2h0m0 3h0m1-5h0m1 2h0m0-1h0m1 1h0m0 2h0m0-3h0m1-1h0m2 0h0m0 2h0m2-1h0m0 2h0m0 2h0m1-5h0m0 2h0m0 2h0m1-3h0m0 1h0m2-1h0m0 2h0m1 0h0m0 2h0m0-3h0m0 2h0m1-3h0m0 3h0m1-3h0m0 2h0m1 0h0m0-3h0m0 2h0m1-1h0m0 2h0m0 2h0m0-3h0m0 2h0m1-1h0m0 2h0m0-4h0m1-1h0m0 2h0m0 2h0m0-1h0m0 2h0m1 0h0m0-5h0m1 3h0m0-3h0m1 2h0m0 2h0m1 1h0m0-4h0m1 1h0m1-2h0m0 4h0m1-4h0m0 2h0m1 3h0m0-3h0m1 3h0m1-2h0m0-3h0m0 2h0m1-2h0m0 4h0m0-3h0m0 4h0m1-2h0m0 2h0m0-1h0m1-1h0m0 2h0m1-5h0m0 2h0m0 2h0m1-3h0m0 2h0m0-3h0m0 2h0m0 2h0m1-3h0m0 4h0m0-5h0m1 1h0m0 2h0m0-3h0m0 2h0m1 1h0m0 2h0m0-3h0m1 1h0m0-3h0m1 2h0m0 2h0m1-3h0m0 2h0m1 1h0m1 1h0m0-5h0m0 2h0m0 2h0m2-1h0m0-3h0m0 2h0m0-1h0m1 4h0m0-5h0m1 3h0m0-3h0m0 4h0m1-3h0m1 0h0m1 3h0m1 0h0m1-3h0m0 2h0m1-3h0m0 4h0m0-3h0m1 2h0m0-3h0m0 2h0m1-2h0m0 1h0m1 2h0m0-1h0m0 2h0m1-3h0m0 2h0m1-3h0m0 4h0m1-1h0m2 0h0m0 2h0m1 0h0m0-3h0m2 7h0m0 2h0m-1-3h0m0 1h0m-1-3h0m-1 2h0m0-1h0m-1 0h0m0 2h0m-1 0h0m0-2h0m-1 4h0m0-3h0m-1 1h0m0-3h0m-1 1h0m0 4h0m0-5h0m-1 1h0m0-1h0m-1 3h0m-1-2h0m-1 0h0m0 2h0m-1 2h0m-1-5h0m0 1h0m-2 1h0m0 2h0m0-4h0m-1 5h0m0-3h0m0 2h0m-1 1h0m0-5h0m-1 4h0m0-3h0m0 2h0m0-1h0m-1 0h0m0-1h0m0 4h0m-1-2h0m-1-3h0m-1 4h0m0-3h0m0 4h0m-2-1h0m0-3h0m0-1h0m0 2h0m-1 1h0m0 2h0m0-5h0m0 2h0m-2-2h0m-1 4h0m0-4h0m-1 1h0m-1 4h0m-1-4h0m0 2h0m0 2h0m0-5h0m0 2h0m-1 0h0m0 2h0m0-3h0m0 2h0m-1 1h0m0-1h0m0-3h0m-1 5h0m0-5h0m0 2h0m-1-2h0m-1 4h0m0-1h0m-1-2h0m0 2h0m0 2h0m-1-1h0m0-1h0m0 2h0m-1-2h0m0 2h0m0-5h0m-1 4h0m-1-4h0m0 1h0m-1 1h0m0-1h0m0 4h0m-1-1h0m0 1h0m-1-4h0m0 4h0m-1-2h0m-1 2h0m0-5h0m0 2h0m0 2h0m-1-4h0m0 2h0m0 2h0m0 1h0m-1-3h0m0 2h0m-1-4h0m0 3h0m-1 1h0m0 1h0m-2-1h0m-1-4h0m0 4h0m0-3h0m-1-1h0m-1 1h0m0 4h0m0-5h0m0 4h0m-1-2h0m0 3h0m0-5h0m-1 2h0m-1 0h0m0-1h0m0 4h0m-1-2h0m0 2h0m-2-2h0m-1-3h0m0 4h0m0-3h0m0 2h0m-1-2h0m0 4h0m-2-1h0m-2 1h0m-2-1h0m0 1h0m-2 0h0m-3 5h0m3 1h0m2 0h0m0-3h0m0 2h0m1-1h0m0 1h0m1-3h0m1 0h0m0 3h0m1-2h0m0-1h0m1 2h0m0 2h0m2-2h0m0 2h0m0-3h0m0 2h0m1 1h0m0-3h0m1 1h0m0-3h0m1 5h0m0-5h0m0 2h0m1-1h0m1 2h0m0 1h0m1-1h0m0 2h0m0-5h0m1 1h0m0 2h0m1 0h0m0-3h0m0 2h0m1-1h0m1-1h0m1 4h0m1-1h0m0 2h0m0-5h0m0 2h0m0-1h0m1 0h0m0 2h0m0-3h0m1 3h0m0 1h0m2 0h0m0-1h0m0 2h0m1-3h0m0 2h0m1-3h0m0 2h0m0-1h0m1-2h0m0 2h0m0 2h0m1 0h0m0-3h0m1 1h0m1-1h0m0 3h0m1 1h0m1-5h0m0 2h0m0 2h0m0-3h0m1-1h0m0 4h0m0-1h0m0 2h0m1-3h0m1 0h0m0 2h0m1 1h0m0-5h0m1 5h0m1-2h0m0-3h0m1 2h0m0 2h0m0-3h0m0 2h0m1-3h0m0 4h0m0-3h0m1-1h0m0 4h0m0-3h0m0 2h0m1-1h0m1-2h0m1 3h0m0 2h0m1-3h0m1-1h0m0 2h0m1-1h0m1-2h0m0 2h0m0-1h0m1-1h0m0 1h0m1 1h0m1-2h0m1 4h0m1 1h0m0-5h0m0 4h0m1 1h0m1-5h0m0 2h0m0 2h0m1 1h0m1-4h0m0 1h0m1-1h0m2 4h0m1 0h0m0-1h0m0-3h0m1-1h0m0 2h0m0-1h0m1 3h0m0-3h0m1 3h0m0 1h0m1-5h0m0 4h0m0 1h0m1-4h0m1-1h0m0 1h0m1 2h0m1-1h0m-2 7h0m-1-2h0m0 2h0m0-3h0m-1 3h0m0-3h0m0 4h0m-1-4h0m0 4h0m-1 1h0m0-5h0m0 2h0m-1 3h0m0-5h0m-1 5h0m-2-4h0m0 4h0m0-3h0m-1 1h0m-1 0h0m0 2h0m0-5h0m0 2h0m-1-1h0m0 4h0m-3 0h0m-1-2h0m0 2h0m0-3h0m-1 2h0m0-1h0m-2-2h0m0 1h0m-1 1h0m0-3h0m-1 0h0m-1 1h0m0 2h0m0 2h0m-1-5h0m0 5h0m-1-5h0m0 2h0m-1 2h0m0-1h0m-1 1h0m-1 0h0m0-3h0m-1 4h0m0-3h0m-1-1h0m0 2h0m-1-1h0m0 2h0m0-1h0m-1-1h0m0 3h0m0-5h0m-1 5h0m0-3h0m-1 2h0m-1 1h0m-1-2h0m0 1h0m-1-1h0m-1-1h0m0 2h0m-1 0h0m0-1h0m-1 1h0m0-4h0m-1 2h0m0 2h0m0-4h0m-1 3h0m0-3h0m-1 3h0m0 2h0m-1-4h0m-1 3h0m0 1h0m-1-3h0m0 2h0m0-3h0m-1 2h0m0 2h0m-1-1h0m0-1h0m0 2h0m-2 0h0m-1-5h0m0 1h0m-1 1h0m0 1h0m0 2h0m0-5h0m-1 2h0m0 2h0m0-3h0m0 2h0m-1 0h0m-1 0h0m-1 0h0m0 2h0m-1-5h0m-1 4h0m0-1h0m-1-2h0m0 4h0m0-3h0m-1 0h0m0 2h0m0-3h0m-1 3h0m0-1h0m-1-2h0m0 4h0m0-5h0m-1 1h0m0-1h0m-2 5h0m-1-5h0m-1 5h0m-1 0h0m-1-4h0m-1 2h0m-1-1h0m-1 3h0m0-1h0m0-3h0m-1-1h0m0 2h0m-2 1h0m0 2h0m-4-2h0m0 2h0m-4 0h0m-1 5h0m3-4h0m1 1h0m1 4h0m1-3h0m0 1h0m0 2h0m1-4h0m0 2h0m1 1h0m1 0h0m1 1h0m0-3h0m2-2h0m1 4h0m1-3h0m0 2h0m0 2h0m0-3h0m2 3h0m0-1h0m1-4h0m1 1h0m1 3h0m1-3h0m0-1h0m0 2h0m1 2h0m1 1h0m0-5h0m0 2h0m0 2h0m0-3h0m3 0h0m0 4h0m1 0h0m1-4h0m0 4h0m0-5h0m1 3h0m0 2h0m0-3h0m0-1h0m1 2h0m1-1h0m0 2h0m0-3h0m0 2h0m1 0h0m0 2h0m2-4h0m0 4h0m0-3h0m1 0h0m1 3h0m0-2h0m1 0h0m0 2h0m2-1h0m2-1h0m0 2h0m0-1h0m1 0h0m0-3h0m1 1h0m1 1h0m0-3h0m1 4h0m1-2h0m0 1h0m1 1h0m0-3h0m0 4h0m0-5h0m0 2h0m1-2h0m0 4h0m0-3h0m1 4h0m0-3h0m0 2h0m1 1h0m0-5h0m0 4h0m0-3h0m0 2h0m1-2h0m0 2h0m2 1h0m1 0h0m0-3h0m1 0h0m0 2h0m1-3h0m0 4h0m0-1h0m1 2h0m0-1h0m0-3h0m0 2h0m1-2h0m1 2h0m0-3h0m1 3h0m0-1h0m1-2h0m1 2h0m1 1h0m0-1h0m1-2h0m0 4h0m0-3h0m1 1h0m0-1h0m0 2h0m2 1h0m0 1h0m1 0h0m0-3h0m1-1h0m1 0h0m0 4h0m0-5h0m2 2h0m0-1h0m0 2h0m1 2h0m0-3h0m1-1h0m1 2h0m0-1h0m1-2h0m1 4h0m0-3h0m0-1h0m1 1h0m1 4h0m1-2h0m1-1h0m0 3h0m0-5h0m1 5h0m0-1h0m2-1h0m0 2h0m-1 5h0m-1-3h0m-1-1h0m0 3h0m-1-2h0m0 2h0m0 2h0m-2 0h0m-1-3h0m0 3h0m-1-3h0m-1 1h0m-1 2h0m0-3h0m0 2h0m-1-3h0m0 2h0m0-1h0m-1-1h0m0 4h0m0-3h0m-1 1h0m0 2h0m0-3h0m0-1h0m-1 2h0m-1 2h0m0-5h0m0 4h0m-1 0h0m0-3h0m0 4h0m0-5h0m-1 0h0m0 4h0m-1-1h0m0 2h0m0-5h0m0 2h0m-1-2h0m0 2h0m-1 1h0m0 1h0m-1-2h0m0 2h0m0-3h0m0-1h0m-1 1h0m-1 4h0m-1-1h0m0 1h0m-1 0h0m0-3h0m0 2h0m-1-2h0m0 1h0m-1-2h0m0 4h0m0-1h0m-1 1h0m0-2h0m-1 2h0m-1-1h0m0-4h0m-1 3h0m0 2h0m-1-2h0m0 2h0m-1-1h0m0 1h0m0-5h0m-1 5h0m0-1h0m-1 0h0m0 1h0m0-5h0m-1 3h0m0-3h0m0 4h0m-1-4h0m0 4h0m-1-3h0m0 4h0m0-5h0m0 2h0m-1 2h0m-2 1h0m0-5h0m0 2h0m0 2h0m-2 1h0m-1-1h0m-1 1h0m-2 0h0m0-5h0m0 1h0m-1 0h0m0-1h0m-2 4h0m0 1h0m0-5h0m0 2h0m-1 2h0m0-2h0m-1 1h0m0 2h0m-1-3h0m-1 2h0m0-2h0m-1-1h0m0 2h0m0-1h0m-1-2h0m0 1h0m0 4h0m-1-4h0m-1 1h0m0 1h0m-1-3h0m-1 4h0m0-3h0m0 2h0m0 2h0m-2-4h0m-2 1h0m-1 2h0m-1-1h0m-2 1h0m-2-3h0m0 2h0m0-1h0m-1-2h0m0 4h0m-1 1h0m-1 0h0m-1-2h0m0-3h0m-1 5h0m-1-4h0m-2 3h0m0-1h0m-1-1h0m-1 1h0m0-3h0m-2 5h0m-1-3h0m0-1h0m-1 1h0m0 1h0m-2-3h0m0 2h0m0 1h0m-3-1h0m-4 1h0m-9 7h0m3 1h0m2-2h0m1-2h0m0 2h0m0 2h0m1-1h0m0-1h0m1 1h0m1 0h0m0-3h0m1 0h0m0 3h0m1-3h0m0 4h0m2 0h0m2-2h0m0-1h0m1 3h0m2-4h0m0-1h0m1 1h0m0-1h0m1 5h0m0-3h0m1 1h0m1 1h0m1-1h0m0 2h0m1-2h0m0 1h0m0-3h0m1 2h0m0 2h0m0-5h0m0 2h0m0 2h0m1 1h0m0-5h0m0 2h0m0 2h0m3-3h0m1 3h0m1-1h0m1 1h0m0-3h0m0 4h0m1-2h0m1 0h0m0-1h0m0 2h0m3 0h0m0-1h0m1-1h0m2 3h0m0-5h0m2 3h0m1-1h0m0 2h0m0-4h0m1 1h0m0 2h0m0-1h0m0 2h0m1-1h0m0-1h0m0 2h0m0-3h0m1 1h0m0-1h0m1 1h0m0 2h0m0-1h0m1-1h0m0 1h0m1-1h0m0 2h0m0-1h0m1-3h0m0 1h0m0 2h0m1 0h0m0 2h0m0-5h0m0 2h0m0-1h0m1-1h0m1 1h0m0 2h0m0 1h0m1-2h0m0 1h0m1-1h0m0 2h0m1 0h0m0-3h0m0 4h0m1 0h0m0-3h0m2 3h0m2-4h0m1 1h0m0 3h0m1 0h0m0-5h0m0 4h0m1-3h0m0 2h0m0-1h0m0 2h0m1 1h0m0-1h0m1-2h0m1 3h0m0-1h0m0-3h0m0 2h0m1 2h0m0-5h0m1 4h0m0-1h0m1-3h0m0 2h0m0-1h0m0 2h0m1-1h0m0 2h0m0-1h0m1 2h0m0-3h0m0 2h0m0-1h0m1 1h0m0-3h0m1 4h0m2-2h0m0-2h0m1 1h0m0 1h0m0 2h0m1 0h0m0-3h0m1-1h0m0 2h0m1-1h0m0-1h0m1 2h0m0-1h0m1-1h0m0 4h0m2 0h0m0-2h0m1 2h0m0-1h0m2-3h0m0 1h0m0 2h0m1-4h0m0 2h0m0-1h0m1 2h0m0-3h0m1 0h0m0 2h0m0-1h0m1-1h0m0 2h0m1 0h0m0 1h0m1-3h0m0 1h0m1 2h0m1-3h0m0 2h0m0-1h0m0 2h0m1-3h0m0 4h0m0-3h0m0 2h0m1-1h0m1 0h0m0 3h0m1-5h0m1 0h0m0 2h0m-6 5h0m-2 2h0m-1-2h0m-2 0h0m-1 4h0m-1-5h0m-4 1h0m0 4h0m0-5h0m-1 1h0m-1 2h0m-1 0h0m0-1h0m0 2h0m-3-3h0m-1 3h0m0 1h0m0-5h0m0 2h0m-1-1h0m-1 4h0m0-3h0m-1-2h0m0 4h0m-1 0h0m0-4h0m-1 5h0m0-3h0m0 2h0m-1-3h0m0 2h0m0-1h0m-1 3h0m-1-3h0m-1 2h0m0-1h0m0-1h0m-1-1h0m0 2h0m-2-3h0m0 1h0m-1 2h0m0 2h0m-1-1h0m0-3h0m0 2h0m-1-2h0m-1 4h0m-1-5h0m0 4h0m-2 1h0m0-5h0m-1 1h0m0 4h0m0-1h0m-1-2h0m-1-1h0m0 4h0m-1-3h0m0-1h0m0-1h0m-1 5h0m-1-1h0m0-3h0m0 4h0m0-3h0m-1-2h0m-1 3h0m0-3h0m0 2h0m-1 1h0m0-3h0m0 4h0m-1-2h0m-2 2h0m-1-3h0m0-1h0m0 2h0m-1 0h0m0 1h0m-1 0h0m0-3h0m-2 4h0m0-3h0m0 2h0m0-3h0m0 2h0m-1 3h0m0-5h0m-1 3h0m-2-2h0m0 2h0m0 2h0m0-3h0m-1 1h0m-1-3h0m0 4h0m0-3h0m0 4h0m-1-1h0m0-4h0m-1 2h0m0-1h0m-1 2h0m0-3h0m-1 3h0m0-3h0m0 2h0m-1 1h0m0 1h0m-1-3h0m0 4h0m0-3h0m0 2h0m-1 1h0m-1-4h0m0-1h0m-1 4h0m0-2h0m-1-1h0m-1 1h0m0 1h0m0 2h0m-1-2h0m0 1h0m0-3h0m-1 1h0m-2 0h0m-2-1h0m-1 4h0m-1-2h0m0-3h0m-1 0h0m0 2h0m0 2h0m-2 0h0m0-3h0m-1 1h0m-2-2h0m-1 2h0m0 1h0m-1-2h0m0 2h0m-2 1h0m0-3h0m0 4h0m-1-3h0m0 2h0m0-1h0m-1 0h0m0 2h0m0-5h0m-1 2h0m0 2h0m0-1h0m-1-2h0m0 4h0m-1-5h0m0 2h0m0 2h0m-1-1h0m0 1h0m-1-2h0m0 3h0m-1-1h0m-1 1h0m0-5h0m-1 5h0m0-5h0m-1 3h0m-2 3h0m1 1h0m0-1h0m1 2h0m1 1h0m0 2h0m0-5h0m1 5h0m0-5h0m1 5h0m0-4h0m1 2h0m0-2h0m1 3h0m1 0h0m1 1h0m0-3h0m1-1h0m2 4h0m0-5h0m1 2h0m1-1h0m0 2h0m1-2h0m0 1h0m1-1h0m1 0h0m1 1h0m0 3h0m1-5h0m0 4h0m1-1h0m1-3h0m2 5h0m0-1h0m1-4h0m1 3h0m1 2h0m1-2h0m0-1h0m1-1h0m0 2h0m0 2h0m1-5h0m1 5h0m2-2h0m1 2h0m0-1h0m0-1h0m1 2h0m0-1h0m1-1h0m1-3h0m2 5h0m1-2h0m1 0h0m1-3h0m1 1h0m1 4h0m1-3h0m0-1h0m1 1h0m0 1h0m1-2h0m1 4h0m0-3h0m2-1h0m0 4h0m0-3h0m1-2h0m0 3h0m1-2h0m1 2h0m2-1h0m0-1h0m1 4h0m1-3h0m0-2h0m1 0h0m0 2h0m1-1h0m0-1h0m0 4h0m1-3h0m1 3h0m2-2h0m3-2h0m0 3h0m1-2h0m1 2h0m1 0h0m0 2h0m2-3h0m1-2h0m1 0h0m1 2h0m0 1h0m1 0h0m0-3h0m2 2h0m0 1h0m2-1h0m1-2h0m0 2h0m0 2h0m1-2h0m1 1h0m1-1h0m0 1h0m0 2h0m1-3h0m2-1h0m1-1h0m1 5h0m1-4h0m3-1h0m0 1h0m3 0h0m-10 5h0m-3 2h0m-1-1h0m-1-1h0m-2 2h0m-1-2h0m-3 0h0m-2 0h0m0 4h0m-1-2h0m0 2h0m-1-4h0m-1 4h0m0-2h0m-1-2h0m0 2h0m-2 3h0m-2-2h0m0 2h0m0-5h0m0 2h0m-1-2h0m0 5h0m-2-3h0m-1-1h0m0 2h0m0 1h0m-1-4h0m0 2h0m0 2h0m0-1h0m-1 1h0m-1-2h0m0-1h0m0 4h0m-1-3h0m-1 1h0m-1 2h0m0-5h0m0 2h0m-2 2h0m0-2h0m-1-1h0m-1 4h0m0-3h0m-1 3h0m-1-2h0m-2-2h0m0 1h0m-1 1h0m-2 0h0m0-1h0m-2-1h0m0 4h0m0-3h0m-1 0h0m0-1h0m-1 0h0m0-1h0m-1 5h0m-1 0h0m-1 0h0m0-3h0m0 2h0m-1-2h0m-1 3h0m-3-1h0m0-3h0m0-1h0m-2 1h0m-1-1h0m-3 3h0m-1-2h0m0-1h0m0 2h0m-1-1h0m-1 0h0m0 2h0m0 2h0m0-5h0m0 2h0m-2-2h0m-3 2h0m-1 2h0m0 1h0m-1-1h0m0 1h0m-1-2h0m-1 1h0m0-3h0m-1 3h0m0-1h0m0-1h0m-1 1h0m0 2h0m-1-3h0m0 2h0m0 1h0m-1-2h0m0-3h0m-1 1h0m-2 0h0m0 2h0m0 2h0m-1-4h0m0 2h0m0 2h0m0-5h0m-1 4h0m0 1h0m-1-2h0m0-3h0m-1 1h0m0 2h0m-5 6h0m3-2h0m1 1h0m3 1h0m1-1h0m0-1h0m0 4h0m1-2h0m1-1h0m0 2h0m1-1h0m0 1h0m1-1h0m0-1h0m2-1h0m0 4h0m1-1h0m1 1h0m0-3h0m2 1h0m1 1h0m1-2h0m0 2h0m1-3h0m1 4h0m1-3h0m0 1h0m1 2h0m0-1h0m1-4h0m0 4h0m1-1h0m0-3h0m2 5h0m0-5h0m1 0h0m1 3h0m0-1h0m1 3h0m0-2h0m2-2h0m0 2h0m0 2h0m1-2h0m0 2h0m0-1h0m3-2h0m1-2h0m0 4h0m1-3h0m0 4h0m0-5h0m1 0h0m1 5h0m1-4h0m1 2h0m1 1h0m1-2h0m1-2h0m0 2h0m1 0h0m0-1h0m0 2h0m1-2h0m0 2h0m1-2h0m1 0h0m0 2h0m0-3h0m0 2h0m1 3h0m0-3h0m0 2h0m1-3h0m3-1h0m0 1h0m1-1h0m0 2h0m0 2h0m0-1h0m2 1h0m1-3h0m0 2h0m2-1h0m1 0h0m0-1h0m5 0h0m4 0h0m-13 6h0m-4 2h0m0-3h0m-2 1h0m-1 0h0m0 1h0m-2 2h0m-1-4h0m0 1h0m-2 0h0m-2-1h0m0 2h0m-1 2h0m-1-4h0m-2 3h0m-5-3h0m0 4h0m-1-4h0m-1 2h0m0 2h0m-1-3h0m0 2h0m-1-3h0m-1 1h0m-2 2h0m-1-2h0m-1 2h0m0-3h0m-1 1h0m-2 0h0m-3 0h0m-4 0h0m-1-1h0m0 2h0m0 2h0m-1-2h0m-1-2h0m-7 0h0m21 7h0m7-1h0m2 0h0" transform="scale(.5)" fill="none" stroke="#21918c" stroke-width="2.3" stroke-linecap="round" opacity="0.92"/>
<path d="M430 275h0m-9 6h0m5-1h0m0-1h0m1-1h0m2-2h0m1 1h0m1 0h0m0 4h0m1-4h0m0 2h0m0 2h0m1-4h0m2 0h0m1 4h0m0-5h0m2 3h0m0 1h0m1-2h0m1 1h0m2 1h0m1 1h0m1-1h0m0-3h0m0 4h0m2 0h0m2-1h0m2 1h0m0-1h0m2-2h0m1 2h0m2 1h0m1 0h0m-1 3h0m-4 0h0m0-1h0m-2 2h0m0 1h0m-1-2h0m0 2h0m0-3h0m0 2h0m-1 2h0m0-3h0m-1 2h0m0-1h0m-1-2h0m-1 2h0m-2 2h0m0-3h0m-1-2h0m-1 4h0m0-3h0m0 2h0m-1-3h0m0 2h0m-1-2h0m-1 2h0m0-2h0m-1 3h0m0 2h0m0-5h0m-1 5h0m-1-5h0m0 4h0m-2 1h0m0-5h0m-4 3h0m0 1h0m-1-3h0m0-1h0m-1 2h0m-1 3h0m-1-3h0m0 3h0m-1-1h0m-1-1h0m-2 2h0m-3 0h0m0-1h0m-2-3h0m-2 3h0m-2-3h0m-1 3h0m0 1h0m-3 0h0m-8 6h0m3 0h0m2-2h0m2 1h0m1 0h0m1-1h0m1 2h0m1 0h0m1-3h0m0 3h0m1-5h0m1 5h0m1-3h0m2-1h0m0 2h0m0 2h0m2-4h0m1 0h0m0 4h0m1-5h0m0 1h0m1 4h0m0-5h0m1 4h0m0 1h0m2-4h0m0 4h0m1-3h0m0 2h0m1 1h0m0-3h0m1-2h0m1 5h0m1-3h0m1 0h0m1-2h0m1 1h0m0-1h0m1 3h0m0 1h0m1-3h0m0-1h0m0 4h0m1-2h0m0 2h0m1-3h0m2 3h0m1-1h0m0-1h0m2-2h0m1 4h0m1 1h0m0-5h0m1 5h0m0-1h0m1-3h0m1 4h0m0-1h0m1-4h0m0 4h0m1 1h0m1-2h0m1-3h0m0 1h0m0 2h0m1-3h0m0 2h0m0 2h0m1 1h0m0-4h0m2 0h0m0 4h0m0-3h0m0 2h0m1-1h0m1-3h0m0 2h0m1 3h0m0-1h0m1-3h0m2 2h0m0 2h0m10 6h0m-3 0h0m-1-4h0m-1 1h0m-1 3h0m-1 0h0m0-5h0m0 2h0m-3-2h0m-2 1h0m0 4h0m-2-2h0m0-3h0m0 2h0m0 2h0m-2-2h0m0 1h0m0-3h0m-1 3h0m-2 0h0m-1 1h0m-1-4h0m-2 4h0m0-3h0m-1 2h0m-3 2h0m-1-5h0m-1 5h0m0-4h0m-1 3h0m0-1h0m0 2h0m-2-3h0m0-1h0m-1 1h0m-1 0h0m0-1h0m0 4h0m-2-2h0m-1 1h0m0-1h0m-1-1h0m-3 3h0m0-1h0m-1-3h0m0 2h0m-1 1h0m0 1h0m-1-5h0m0 2h0m0 2h0m-2 1h0m0-5h0m-1 4h0m0-3h0m-1 4h0m0-2h0m-2-2h0m-1 0h0m0 2h0m0 2h0m0-5h0m-1 3h0m0 2h0m-1-1h0m0-3h0m0 2h0m-1 2h0m0-3h0m-1-1h0m-1 4h0m0-4h0m0 2h0m-1-3h0m0 2h0m0 2h0m0-1h0m0 2h0m-3-1h0m0-1h0m-1 1h0m-2-1h0m0 2h0m-1 0h0m-1-5h0m-2 2h0m0-2h0m-1 2h0m0 2h0m-1-4h0m-2 4h0m-2 0h0m-1 0h0m-2 0h0m-5 0h0m-5 6h0m1 0h0m3 1h0m1-2h0m0 2h0m2-5h0m0 2h0m2-1h0m2 2h0m0 2h0m1-2h0m0-3h0m2 2h0m1-1h0m1 2h0m3 0h0m1 1h0m1-1h0m0-1h0m0 2h0m1-4h0m0 2h0m0 1h0m2-3h0m0 2h0m1 1h0m0-1h0m1 2h0m0-3h0m1 3h0m1-3h0m0 2h0m1 0h0m0-1h0m0 2h0m1-3h0m0 1h0m0 2h0m1-4h0m0 4h0m0-3h0m2 3h0m1-1h0m1-2h0m0 4h0m1-4h0m0-1h0m0 4h0m1-3h0m0 2h0m0 2h0m0-1h0m1-1h0m0 2h0m0-5h0m1 0h0m0 4h0m0-1h0m1 0h0m0 2h0m0-3h0m1 1h0m0-1h0m1 1h0m0-3h0m0 2h0m1-2h0m0 5h0m1-4h0m0 4h0m0-5h0m0 4h0m1-2h0m0 2h0m0-1h0m1 0h0m0 2h0m0-5h0m0 4h0m1 1h0m0-5h0m1 5h0m0-4h0m1 1h0m1-1h0m0-1h0m1 3h0m0 2h0m0-1h0m1-4h0m0 4h0m0-3h0m1 0h0m2 2h0m0 2h0m1-1h0m1-2h0m0 2h0m1-3h0m0 2h0m0-3h0m1 3h0m0-1h0m0 2h0m1-4h0m0 4h0m1 0h0m1-2h0m1 3h0m0-3h0m0 2h0m1-1h0m2 0h0m0-3h0m1 1h0m1 1h0m3 0h0m0 2h0m1 1h0m0-5h0m1 0h0m0 2h0m0 1h0m0 2h0m1-1h0m1-2h0m2 1h0m1 2h0m0-5h0m0 4h0m1-1h0m1 0h0m1 2h0m0-1h0m1 1h0m0-5h0m1 3h0m0-1h0m3 2h0m6 7h0m-1 0h0m-3-2h0m-1 0h0m-2-3h0m0 2h0m0 3h0m-1-5h0m-2 2h0m-1 3h0m-1-4h0m-1-1h0m-1 4h0m0-3h0m0-1h0m-1 3h0m0 2h0m0-5h0m-3 4h0m-1 0h0m-1-3h0m0 1h0m-2 2h0m0-4h0m-1 0h0m-1 5h0m0-3h0m-1 3h0m0-5h0m0 2h0m-2 0h0m0 2h0m0 1h0m-1-3h0m0 3h0m-1-4h0m-2 4h0m-2-2h0m0 2h0m-1-5h0m0 2h0m-1 2h0m0-3h0m0-1h0m-1 1h0m-1 1h0m0-2h0m-1 0h0m-1 3h0m-2-1h0m0 1h0m-3 0h0m-2-3h0m0 4h0m-1-3h0m0 2h0m-1 1h0m0-3h0m0 2h0m0-3h0m-1 2h0m0-1h0m-1 2h0m0-3h0m-1 2h0m0-1h0m0 2h0m-1 1h0m0-4h0m-2 1h0m0 2h0m-1-2h0m-1-1h0m0 5h0m-1-5h0m-1 2h0m0-2h0m-2 2h0m0-1h0m0 2h0m-1-2h0m0-1h0m-1 0h0m0 4h0m0 1h0m-1-1h0m-1-2h0m-1 2h0m-1 0h0m0-4h0m-1 4h0m-2 0h0m0 1h0m-1-4h0m0 4h0m-2-5h0m0 3h0m-1-3h0m-1 2h0m-1 3h0m-1-1h0m0-3h0m0 2h0m-1-3h0m-1 1h0m0 2h0m0-3h0m-1 1h0m-1 2h0m0 1h0m-1-2h0m-2 0h0m0 2h0m0-3h0m0 2h0m-1 1h0m-1-2h0m0 2h0m0-3h0m-1 4h0m0-5h0m-1 0h0m0 1h0m-1 2h0m-1-1h0m-2 2h0m0-1h0m-2 2h0m-2 0h0m-1 0h0m-3 0h0m-1-3h0m-1 3h0m-8 5h0m3-1h0m2 2h0m1-3h0m2 0h0m1 3h0m0-5h0m1 1h0m1 1h0m0 2h0m2-1h0m2-2h0m0-1h0m0 4h0m1-3h0m0-1h0m0 4h0m1 0h0m0-3h0m1 2h0m0-3h0m0 4h0m1-1h0m1-2h0m0-1h0m1 1h0m2 1h0m3-2h0m2 5h0m1-3h0m0 1h0m1-3h0m1 3h0m0-2h0m1-1h0m0 4h0m1 1h0m0-5h0m0 4h0m1-3h0m0-1h0m0 2h0m0 2h0m1-1h0m0 2h0m1-2h0m0 1h0m1-1h0m0 2h0m0-1h0m1-2h0m0-1h0m0 4h0m1-4h0m0 2h0m1-2h0m0-1h0m1 1h0m0 4h0m0-3h0m1 1h0m0-3h0m1 0h0m0 4h0m0-3h0m1-1h0m0 2h0m1-1h0m1 0h0m1 0h0m1 2h0m0 2h0m2-1h0m1-3h0m2 4h0m1-2h0m0-1h0m1-1h0m0 4h0m0-3h0m0 2h0m1 0h0m1-2h0m1-2h0m1 4h0m0 1h0m1-2h0m1 0h0m0 2h0m0-1h0m0-3h0m1 2h0m0-3h0m0 4h0m1-3h0m0 2h0m0-3h0m0 2h0m0 2h0m1-2h0m1 0h0m0 1h0m3 0h0m0-3h0m1 3h0m0 2h0m1-5h0m1 1h0m0 4h0m1-3h0m0 2h0m1 1h0m0-5h0m1 0h0m1 3h0m0-3h0m1 1h0m0 2h0m0-1h0m0 2h0m1-2h0m2-1h0m1 2h0m0-1h0m1 1h0m1 0h0m0 1h0m1-1h0m1 1h0m0-3h0m0 1h0m1 0h0m1-2h0m2 3h0m0 1h0m3-2h0m0 2h0m0-1h0m1 2h0m1-1h0m1 1h0m0-3h0m0-1h0m2 4h0m1 0h0m0-5h0m0 2h0m0 2h0m2-1h0m0-3h0m2 4h0m1 1h0m1-4h0m0 4h0m1-2h0m0 2h0m0-5h0m0 4h0m1-1h0m0-1h0m1 0h0m0-1h0m0 4h0m1 0h0m0-5h0m1 2h0m1-2h0m1 2h0m1 2h0m1-4h0m0 5h0m7 4h0m-2-2h0m0 4h0m-3 0h0m-2-1h0m-2-4h0m0 2h0m-1 2h0m0-1h0m-1-3h0m-1 3h0m0-3h0m-1 3h0m0 1h0m-1-1h0m-2-3h0m0 3h0m0 2h0m-1-4h0m0 2h0m0 2h0m0-3h0m-5-1h0m0-1h0m-1 4h0m-1 0h0m0-1h0m-1-2h0m0 3h0m-1 1h0m-1-3h0m0-2h0m-3 2h0m-1-1h0m-1 4h0m0-3h0m-1-1h0m-1-1h0m-2 0h0m-1 2h0m-1-1h0m0 4h0m-1-5h0m-1 4h0m0-3h0m0 4h0m-1-3h0m-2 3h0m-1-2h0m-1 0h0m0 2h0m-1-4h0m-1 2h0m-1 0h0m-1 0h0m0-3h0m-1 0h0m-3 0h0m-1 4h0m0-1h0m0 2h0m-1-5h0m0 2h0m-1 0h0m0 1h0m-2-1h0m0-1h0m-1 0h0m0 2h0m-2 1h0m0-1h0m0 2h0m-1-2h0m0-1h0m0 2h0m-2-2h0m0-1h0m0-1h0m-1 0h0m-3 5h0m-1-5h0m0 1h0m0 4h0m-1-3h0m-1-2h0m0 1h0m0 4h0m-1-4h0m-1 0h0m0 2h0m-1 1h0m0-3h0m0 4h0m-2-5h0m0 2h0m-1 0h0m0-1h0m0 4h0m-1-1h0m0-3h0m-1 1h0m-1-2h0m-1 4h0m-1-2h0m0-1h0m-1 0h0m0 4h0m-3-5h0m-1 1h0m0 1h0m-1 2h0m0-1h0m-1 1h0m-1-3h0m0 2h0m-1-2h0m0 4h0m-1-5h0m-1 5h0m-1-3h0m0 2h0m0-3h0m0 2h0m0-3h0m-1 0h0m-1 3h0m-1-3h0m0 3h0m0 2h0m-1-3h0m0 3h0m-1-5h0m0 2h0m0 3h0m-1-1h0m0-1h0m0 2h0m0-5h0m-1 4h0m0-4h0m-1 1h0m0 4h0m0-5h0m0 4h0m-1-3h0m-1 0h0m0 4h0m0-5h0m-1 5h0m-1-5h0m0 4h0m0-3h0m0 4h0m-1-4h0m-2-1h0m-1 0h0m0 1h0m-3 0h0m-1 1h0m-1-2h0m-2 4h0m-1 0h0m0 1h0m-1-3h0m-3 2h0m-3 1h0m-1 0h0m-7 6h0m4-3h0m1 1h0m0 1h0m2-3h0m2 4h0m3-4h0m2 4h0m0-3h0m2 0h0m1-2h0m1 5h0m1-1h0m1-2h0m1-2h0m1 4h0m1-3h0m0 1h0m0 2h0m1-1h0m0-2h0m2 4h0m1-5h0m0 4h0m2-3h0m0 4h0m1-2h0m1 1h0m0-1h0m0 2h0m0-3h0m1 3h0m0-5h0m1 1h0m3 2h0m1 1h0m1-4h0m0 4h0m0-3h0m1 1h0m2-1h0m0 4h0m0-5h0m1 1h0m0 1h0m1-1h0m1 0h0m0 2h0m1-3h0m0 1h0m1 2h0m0 2h0m0-3h0m0 2h0m1 0h0m1 1h0m1-2h0m0-2h0m1 0h0m0 1h0m2-1h0m0-1h0m0 4h0m1-4h0m0 2h0m0 1h0m1-3h0m1 5h0m2-3h0m0 2h0m0-3h0m0 4h0m1 0h0m0-4h0m1 1h0m0-1h0m1 2h0m0 2h0m0-1h0m0-3h0m2 1h0m0 2h0m1 1h0m1-2h0m1-3h0m1 0h0m0 2h0m0 2h0m0-3h0m1-1h0m0 3h0m1 1h0m1 0h0m0-3h0m1 4h0m0-5h0m0 4h0m0-3h0m1 2h0m0-1h0m2-2h0m0 4h0m1 1h0m0-5h0m0 2h0m0 2h0m0-3h0m0 2h0m1-3h0m0 4h0m0-3h0m2-1h0m1 3h0m2 0h0m0 2h0m1 0h0m0-4h0m1 2h0m2-1h0m1-1h0m1 1h0m1 1h0m0 2h0m1 0h0m0-5h0m1 3h0m0 2h0m1-1h0m2 1h0m0-1h0m1-1h0m1 1h0m1-2h0m0 2h0m0-1h0m1 0h0m1-3h0m1 3h0m1-3h0m0 2h0m1 0h0m0 2h0m0-1h0m2 1h0m1-1h0m2 2h0m2 0h0m1-5h0m1 1h0m1 0h0m0 2h0m1-3h0m0 4h0m1-4h0m1 2h0m3-2h0m0 2h0m0 2h0m1-3h0m1-1h0m0 2h0m1-2h0m0 2h0m0-1h0m1 0h0m0 2h0m1-3h0m1 3h0m0-3h0m0 2h0m0 2h0m1 0h0m1 1h0m1 0h0m1-4h0m0 3h0m2-1h0m1-2h0m1 3h0m3-2h0m2 0h0m3-2h0m1 1h0m6 9h0m-2-1h0m-3-2h0m0-1h0m-2 5h0m0-3h0m-1 2h0m-3-3h0m0 4h0m-2-2h0m0 2h0m0-1h0m-2-2h0m-1-2h0m0 2h0m-1-2h0m-1 1h0m0 4h0m-1-1h0m-1-4h0m0 4h0m-3 0h0m-1 1h0m-2-1h0m-1-3h0m0 4h0m-2-4h0m-1 1h0m0-2h0m-2 3h0m0 2h0m0-5h0m0 2h0m-1-2h0m-1 3h0m0-3h0m-1 3h0m-2-3h0m0 1h0m-1 3h0m0-4h0m-1 0h0m-1 0h0m0 5h0m-1-2h0m-1-1h0m0 2h0m-1-3h0m-1 1h0m0-2h0m-1 2h0m-1-2h0m-1 5h0m-1-5h0m-1 4h0m-1 1h0m-1-3h0m0 3h0m-1 0h0m0-5h0m0 4h0m-1 0h0m0-2h0m-1 1h0m0-1h0m-1 2h0m-1-4h0m-1 4h0m-1 1h0m0-1h0m-1-4h0m0 3h0m-1 1h0m-1-2h0m-1 2h0m-1 0h0m-1-1h0m0 2h0m-1-3h0m0-1h0m0 2h0m-1-2h0m-1-1h0m-2 4h0m0-2h0m-1 0h0m-1 1h0m0-1h0m-1 2h0m0-1h0m0-3h0m-1 5h0m0-5h0m0 4h0m-1-3h0m0 4h0m-1-4h0m0 2h0m0-3h0m-1 4h0m0-4h0m-1 1h0m0 2h0m0 2h0m-1-2h0m-1-2h0m0 4h0m0-5h0m0 4h0m-1-4h0m-1 2h0m0 1h0m-1 0h0m0-3h0m-2 2h0m0 2h0m0-3h0m0 4h0m-1-1h0m0-1h0m0-3h0m0 2h0m-1-2h0m0 2h0m-1 3h0m0-3h0m0 2h0m-2-3h0m-1 3h0m0-3h0m0 4h0m-1-3h0m0-2h0m-1 3h0m0-3h0m0 4h0m-1-2h0m0 2h0m0 1h0m0-5h0m-1 2h0m-1-2h0m0 1h0m-2 1h0m0 1h0m0 2h0m-1-2h0m0-3h0m0 2h0m-1 2h0m-1-3h0m0-1h0m-1 0h0m0 3h0m-1-1h0m0 2h0m0-1h0m0 2h0m0-5h0m-1 0h0m-1 3h0m0-1h0m-1 1h0m-2 2h0m-1-3h0m-1-1h0m0-1h0m-1 3h0m-1 0h0m0 2h0m0-5h0m-1 1h0m0-1h0m-2 0h0m0 4h0m0-1h0m0 2h0m-1-1h0m-1-4h0m0 3h0m-1-3h0m-1 1h0m-2 2h0m-2 2h0m-1-3h0m0-1h0m-1 1h0m0 3h0m-1-4h0m0 2h0m0 2h0m-1-3h0m-2-1h0m0 4h0m0-1h0m-1 1h0m-1-5h0m0 4h0m0-3h0m-1 0h0m-1 2h0m-1 2h0m-2 0h0m0-5h0m0 2h0m0 1h0m-1-3h0m0 3h0m-1-2h0m0 4h0m0-3h0m0 2h0m-1-2h0m0-2h0m-1 2h0m-1-1h0m-1 2h0m0-1h0m-2-2h0m-1 5h0m-1-3h0m-1 2h0m-3-1h0m-2 8h0m1 0h0m1-5h0m2 3h0m1 1h0m1-1h0m0 1h0m1-1h0m2 0h0m0-3h0m0 1h0m2 4h0m0-2h0m1-2h0m0 2h0m0-3h0m1 3h0m1-1h0m1-1h0m0 1h0m1 2h0m1-4h0m0 3h0m1 2h0m0-1h0m0-3h0m1 2h0m0-3h0m0 2h0m0-1h0m1 2h0m0 1h0m2-3h0m0-1h0m0 4h0m1 0h0m0-1h0m0 2h0m1-2h0m0 2h0m0-5h0m0 2h0m1 1h0m0-1h0m1 3h0m1-4h0m0 4h0m1-2h0m0 2h0m0-3h0m1-2h0m1 0h0m0 3h0m1-3h0m0 4h0m1-2h0m0-1h0m1 1h0m0 2h0m1-2h0m0-1h0m1 2h0m0 1h0m1-2h0m1 3h0m1-1h0m0-3h0m2 0h0m1 3h0m0-1h0m1 2h0m0-5h0m1 5h0m0-5h0m1 1h0m0 4h0m0-3h0m1 1h0m0-2h0m1 2h0m0 2h0m0-5h0m0 2h0m0 2h0m1 1h0m0-1h0m1 1h0m0-3h0m0-1h0m1 4h0m0-5h0m0 1h0m1 2h0m0 2h0m0-1h0m1-3h0m0 2h0m1-1h0m1-1h0m0 4h0m1 0h0m0-5h0m0 2h0m0-1h0m1 4h0m0-5h0m0 2h0m0-1h0m2 0h0m0 1h0m1 3h0m0-5h0m0 1h0m1-1h0m0 1h0m1 4h0m0-5h0m0 2h0m0-1h0m1 2h0m1-1h0m0 1h0m1 2h0m0-5h0m1 1h0m1 1h0m1-2h0m0 4h0m0-3h0m0 2h0m0 2h0m1 0h0m0-1h0m1-4h0m1 3h0m0-1h0m0 2h0m1-1h0m0-1h0m1 1h0m0 2h0m2-5h0m0 2h0m0 2h0m1-4h0m0 2h0m1 1h0m0 2h0m0-3h0m0 2h0m1-1h0m0-3h0m0 2h0m0-1h0m1-1h0m0 4h0m0-3h0m0 2h0m1 2h0m0-1h0m1-3h0m1 2h0m0 2h0m3-5h0m1 0h0m0 4h0m1-4h0m0 3h0m1-1h0m1-2h0m0 3h0m1-2h0m1 1h0m1-2h0m0 2h0m0 2h0m1 1h0m1 0h0m0-3h0m0 2h0m0-3h0m1 3h0m1-4h0m0 1h0m1 2h0m0-1h0m0 2h0m1-4h0m0 4h0m0-3h0m0 4h0m1-4h0m1 4h0m0-1h0m1-1h0m0 1h0m1-1h0m0-3h0m0 2h0m0-1h0m1 1h0m0 2h0m0 1h0m2-5h0m2 2h0m1-2h0m0 1h0m1 4h0m0-5h0m0 2h0m0 2h0m0-3h0m1 4h0m0-3h0m1 3h0m0-3h0m1-2h0m0 2h0m1 1h0m1-3h0m0 3h0m1-3h0m0 2h0m0-1h0m1 2h0m3-1h0m0-1h0m0 4h0m1 0h0m1-3h0m0-1h0m1 0h0m1 4h0m1-2h0m0 2h0m2-3h0m1-2h0m0 3h0m1-2h0m0 4h0m2 0h0m3-1h0m1-2h0m1 3h0m0-1h0m0-3h0m0 2h0m1-1h0m0-1h0m1 0h0m0-1h0m1 3h0m1-3h0m1 5h0m1-4h0m1 1h0m1 2h0m1-1h0m0-3h0m1 5h0m1-1h0m0-3h0m1 2h0m1 0h0m2-2h0m0 4h0m1-1h0m2 0h0m1-3h0m0 2h0m2 2h0m3-4h0m5 9h0m-2 0h0m-1-2h0m-1 1h0m-2 2h0m-1-5h0m0 5h0m-1-4h0m-2-1h0m-1 3h0m-1 0h0m-1-3h0m0 1h0m-1 3h0m0-3h0m0 4h0m-1 0h0m-2 0h0m-1 0h0m-1 0h0m0-1h0m-4 0h0m-1-3h0m-1 0h0m0 4h0m-1-5h0m0 5h0m-1-1h0m-1-2h0m0-1h0m-1-1h0m-2 1h0m0 3h0m-2-3h0m0 1h0m-1 2h0m-1-2h0m0 1h0m-1-1h0m-1-1h0m0 1h0m0 2h0m-1-1h0m0-3h0m0 2h0m-4 3h0m-1-2h0m0 2h0m0-3h0m-1 2h0m-1 0h0m0-1h0m-1 2h0m-1 0h0m0-1h0m-2-4h0m-1 3h0m0-3h0m0 2h0m-1-1h0m-1 1h0m-1 1h0m0 1h0m-1-3h0m-1 2h0m-1-1h0m0 2h0m-1 1h0m0-5h0m0 2h0m-1-2h0m0 4h0m-2-4h0m0 5h0m-1-2h0m0-3h0m-1 4h0m0-1h0m0-3h0m0 2h0m-1 2h0m0-1h0m0-1h0m-1-2h0m0 2h0m-1 2h0m0-3h0m0 2h0m-1 0h0m-1 1h0m0-4h0m-1 3h0m0 2h0m0-3h0m-2-1h0m0 4h0m0-3h0m-1 2h0m0-1h0m-1 2h0m0-1h0m-1-1h0m0 2h0m0-3h0m0 2h0m-1-4h0m0 4h0m-1 0h0m-1-3h0m0 2h0m-2-2h0m0 3h0m-2-3h0m-1-1h0m0 1h0m-1 3h0m-2-2h0m-1 2h0m0 1h0m-1-4h0m0 2h0m0-3h0m-2 1h0m-1 4h0m0-5h0m0 2h0m-1-2h0m0 4h0m0-1h0m-1-2h0m0 2h0m-1-2h0m0-1h0m0 2h0m-1-1h0m0-1h0m0 2h0m-1 3h0m0-5h0m0 4h0m-1-2h0m0 2h0m0-3h0m-1 2h0m0-3h0m0 2h0m0 2h0m-1 0h0m0-1h0m-2-2h0m0 4h0m-1 0h0m0-3h0m0-1h0m-1 3h0m0-1h0m-1-2h0m0-1h0m0 2h0m-1 3h0m-1-3h0m0 1h0m-1-1h0m0 2h0m0-3h0m0 4h0m0-5h0m-1 0h0m-1 3h0m-1 0h0m0 2h0m0-5h0m0 4h0m-1-2h0m0 1h0m-1-3h0m0 4h0m-1-3h0m0 2h0m-1 0h0m0-1h0m0 2h0m-2-3h0m0 2h0m0-3h0m-1 3h0m-1-3h0m-1 3h0m0 2h0m-1-1h0m0-3h0m0 2h0m-1-2h0m0 4h0m0-5h0m-1 4h0m0 1h0m-1-4h0m0 3h0m-1-1h0m-2 2h0m-1-4h0m0 2h0m-2 1h0m-1-4h0m-1 1h0m-1 4h0m0-5h0m-1 4h0m0-3h0m-2 0h0m0 4h0m-1-1h0m0-3h0m-1 3h0m0-3h0m0-1h0m-1 0h0m0 2h0m-1-1h0m-1 1h0m0-1h0m-1-1h0m-1 3h0m-1-1h0m0-1h0m-1 0h0m0 2h0m0-3h0m-1 0h0m-1 4h0m-1 1h0m-1-1h0m0-3h0m0 2h0m0 2h0m-1-2h0m-1-1h0m0-1h0m-1 1h0m0-1h0m-1 4h0m-1-4h0m0 4h0m-1 0h0m0-5h0m-3 5h0m0-5h0m-1 1h0m0 2h0m0 2h0m0-5h0m-1 5h0m0-1h0m-1-1h0m0 2h0m-1-1h0m0-1h0m0 2h0m-1-3h0m0-1h0m-3 4h0m1 1h0m0 2h0m1 1h0m1 0h0m0 2h0m1-4h0m0 3h0m2-1h0m0 2h0m0-5h0m0 2h0m1 0h0m1 3h0m0-1h0m1-3h0m1 3h0m0-1h0m1 0h0m1 1h0m2 1h0m0-4h0m1 2h0m1 0h0m1-1h0m0 2h0m1-3h0m0 3h0m1-4h0m0 4h0m0-3h0m0 2h0m1 2h0m1-3h0m0 1h0m1-3h0m0 2h0m2 3h0m0-5h0m0 2h0m1-1h0m0 2h0m0-1h0m1 3h0m0-3h0m0 2h0m1-2h0m1 0h0m0-1h0m1 3h0m1-2h0m1 1h0m0-3h0m0 2h0m0 2h0m1-2h0m0 2h0m1-4h0m1 2h0m0 2h0m0 1h0m1-2h0m0-2h0m1 4h0m0-4h0m1 4h0m0-3h0m1-2h0m0 4h0m1-1h0m0 2h0m0-5h0m0 2h0m1 0h0m0-2h0m1 5h0m0-3h0m0 2h0m2-2h0m0-1h0m1 4h0m0-5h0m2 4h0m0-3h0m0-1h0m1 3h0m0 2h0m0-5h0m1 2h0m0 2h0m0-1h0m1-3h0m0 3h0m1-3h0m0 2h0m1 2h0m0-1h0m1 0h0m0 2h0m0-5h0m2 3h0m0-3h0m1 0h0m1 0h0m0 1h0m0 2h0m1 1h0m1 1h0m1-5h0m1 0h0m0 2h0m0 1h0m1 0h0m1-3h0m0 4h0m1 1h0m0-5h0m0 2h0m0 2h0m1-4h0m0 2h0m0 3h0m1-5h0m2 1h0m0 2h0m0 2h0m1-2h0m0-1h0m0-1h0m1 3h0m0-3h0m1 1h0m0 1h0m1-1h0m0 1h0m1-3h0m0 2h0m0 2h0m1-4h0m1 0h0m0 3h0m1 1h0m0-3h0m1 3h0m0-2h0m2 3h0m0-3h0m1 2h0m0-3h0m0 2h0m3 0h0m1 2h0m1-1h0m1-4h0m0 4h0m0-1h0m2 2h0m1-5h0m1 3h0m0 2h0m1-5h0m0 2h0m0 2h0m1-3h0m1 4h0m0-5h0m0 2h0m1-1h0m2 4h0m1-5h0m1 2h0m1-2h0m0 2h0m1 3h0m0-1h0m1 1h0m1-2h0m0 2h0m1-4h0m1-1h0m0 4h0m1-1h0m1-3h0m0 4h0m0-3h0m2 0h0m0 4h0m0-5h0m1 4h0m0-1h0m1-3h0m2 1h0m1 4h0m0-5h0m1 3h0m1 2h0m0-4h0m0 2h0m1 1h0m0-1h0m1-1h0m1-2h0m0 2h0m1-2h0m1 0h0m0 2h0m0 2h0m1 1h0m2 0h0m0-2h0m1 0h0m5-2h0m1-1h0m0 2h0m1-2h0m0 5h0m1-5h0m0 2h0m1-1h0m0 4h0m1-1h0m0-4h0m1 0h0m0 2h0m0-1h0m1-1h0m1 5h0m0-5h0m1 3h0m0-3h0m0 2h0m0 2h0m3 0h0m1 0h0m0 1h0m1-3h0m0-1h0m1-1h0m0 2h0m2 3h0m2-4h0m3-1h0m1 0h0m0 1h0m4 3h0m1-3h0m0 4h0m0-5h0m2 4h0m0 1h0m1-2h0m3 0h0m1-3h0m1 5h0m1 0h0m0-3h0m2 2h0m2 1h0m5 6h0m-3-2h0m-1 1h0m-3-1h0m-1 2h0m-1-3h0m-1 3h0m0-3h0m0-1h0m-1 3h0m-1-3h0m0 2h0m-1-1h0m-1 3h0m0-3h0m0-1h0m-1 3h0m-1-3h0m-1 1h0m-2 2h0m-1 0h0m0-3h0m-1 1h0m0-1h0m-2 1h0m-2 2h0m-1-4h0m0 2h0m-1 1h0m-1-1h0m-2-2h0m0 3h0m-2 2h0m0-5h0m-1 5h0m0-1h0m-1-1h0m0 1h0m0-3h0m-1 3h0m-2 1h0m0-3h0m0 2h0m-2 0h0m0-3h0m-1-1h0m0 4h0m0 1h0m-1-2h0m0-1h0m-1 2h0m-1-2h0m-2-1h0m-1-1h0m-1 1h0m-1 0h0m0 1h0m0 2h0m-1-4h0m0 2h0m-1 3h0m-2 0h0m0-3h0m-2 1h0m0-1h0m0 2h0m-1-4h0m-1 1h0m0 2h0m0 2h0m-1-5h0m-2 4h0m-1-3h0m-1 1h0m-1 1h0m0 2h0m0-1h0m-1-3h0m-1 4h0m0-3h0m0-1h0m-1 1h0m-1-2h0m0 4h0m-1-1h0m-2 0h0m-1-1h0m0 1h0m0 2h0m-1-2h0m0 2h0m0-5h0m-1 1h0m0 4h0m-1-4h0m-1 2h0m0 2h0m0-3h0m-2-2h0m0 2h0m-2 2h0m0-2h0m-1 2h0m0-1h0m-1-2h0m-1 2h0m0 2h0m-4-5h0m0 1h0m-1 2h0m0 1h0m-1-2h0m-1 1h0m-1 0h0m0 2h0m-1-5h0m-2 1h0m0 1h0m-1 1h0m0 2h0m-1 0h0m0-3h0m-1 3h0m0-5h0m-2 1h0m0 4h0m-3-5h0m0 5h0m-1-3h0m-1-1h0m-1 3h0m0-1h0m-2 0h0m-1 0h0m-1 0h0m-1 1h0m-1-4h0m0 1h0m-1-1h0m0 4h0m-1 0h0m-1-1h0m0 2h0m-1 0h0m-1-4h0m0 4h0m0-5h0m-1 1h0m0 2h0m-1-2h0m0 2h0m0-1h0m-1 0h0m0 2h0m-2-4h0m-1 5h0m-2-3h0m-1-2h0m0 2h0m0 2h0m0-1h0m-1 0h0m0 2h0m-1-5h0m-1 3h0m0-3h0m0 2h0m0 2h0m-1 0h0m-1-2h0m0-1h0m-1 0h0m-1 3h0m0-4h0m-1 2h0m0 2h0m-1-4h0m0 2h0m0-1h0m0 4h0m-1-1h0m0 1h0m0-5h0m-1 5h0m-1-1h0m0-3h0m-1 3h0m0-1h0m0 2h0m-1-4h0m0-1h0m0 2h0m-2 1h0m0 2h0m0-3h0m-1 3h0m0-5h0m0 2h0m-1-1h0m0 2h0m-1-1h0m0-1h0m-1-1h0m0 1h0m0 4h0m-1 0h0m0-5h0m0 1h0m-1 3h0m0-3h0m0 2h0m-2-1h0m-1 2h0m-1-1h0m0-3h0m-1 5h0m0-5h0m0 2h0m-2 2h0m0-1h0m-1-1h0m-1 2h0m0-3h0m0 2h0m-1-1h0m-1 1h0m-1 1h0m-2-4h0m0 2h0m-1 2h0m0-3h0m0 4h0m-1-5h0m0 1h0m0 2h0m-2 2h0m-1-4h0m-1 2h0m0-1h0m-1-2h0m-1 2h0m-1-1h0m-2 4h0m-1-4h0m-2 4h0m-2-2h0m-1-1h0m-4 8h0m2-1h0m1 1h0m1-1h0m0 1h0m2 1h0m2-1h0m2 1h0m0-5h0m1 0h0m0 2h0m2 3h0m1-2h0m0-2h0m1-1h0m2 0h0m2 1h0m0 4h0m0-3h0m1-1h0m2 3h0m1 1h0m0-3h0m1-2h0m3 3h0m0 2h0m0-3h0m1-2h0m0 1h0m0 4h0m1-3h0m1 2h0m0-1h0m1-3h0m0 4h0m1-4h0m0 2h0m0 2h0m1 1h0m0-4h0m1 4h0m1 0h0m1-3h0m1-2h0m0 2h0m0 2h0m1-3h0m1 1h0m0-1h0m1-1h0m1 0h0m0 1h0m0 2h0m0 2h0m2-5h0m0 4h0m0-1h0m1-1h0m0 2h0m1 1h0m0-4h0m1-1h0m0 2h0m0 2h0m1-4h0m0 2h0m0 1h0m1 2h0m0-3h0m0 2h0m1-3h0m0 1h0m1-2h0m0 4h0m1 1h0m0-5h0m0 2h0m0 2h0m0-1h0m1 1h0m0-1h0m1-1h0m0 2h0m0-3h0m1-1h0m0 4h0m0-1h0m0 2h0m1-2h0m1 1h0m0-1h0m1-3h0m1 2h0m0 2h0m2-1h0m0-3h0m0 2h0m1 1h0m1-1h0m0 2h0m1-4h0m0 2h0m0 2h0m0-3h0m1 0h0m0 4h0m0-3h0m1 3h0m2-3h0m0-1h0m0 2h0m1 0h0m2-3h0m0 2h0m1 2h0m0-1h0m1-1h0m1 0h0m0-1h0m1 2h0m0 2h0m1-1h0m0 1h0m1-1h0m2-4h0m1 2h0m0 1h0m1-2h0m1 0h0m1 3h0m1 0h0m1-2h0m0-1h0m1-1h0m0 4h0m1 1h0m2-3h0m1 3h0m0-3h0m0 2h0m1 1h0m0-4h0m1 4h0m3-3h0m2 3h0m1-5h0m1 3h0m3-1h0m1 3h0m1 0h0m0-3h0m1 1h0m2 2h0m1-5h0m0 4h0m1 0h0m1-3h0m1 0h0m0 2h0m0-3h0m0 2h0m2 1h0m1 1h0m1-2h0m0-1h0m2 2h0m0-3h0m1 4h0m0-4h0m1 2h0m0 2h0m0 1h0m1-5h0m0 2h0m1 1h0m1-3h0m1 1h0m4 1h0m1 1h0m1 1h0m1-3h0m0 4h0m1-4h0m0-1h0m2 5h0m1-1h0m0-3h0m0 2h0m3-3h0m0 1h0m2 2h0m0-3h0m1 3h0m1-2h0m1 3h0m1-3h0m2 2h0m1 1h0m1-1h0m0-3h0m1 1h0m0 1h0m3 0h0m1-2h0m1 2h0m2-2h0m1 0h0m2 3h0m1 0h0m0-1h0m1 3h0m0-3h0m0 2h0m1 0h0m0-1h0m1 0h0m2-3h0m0 2h0m1 3h0m1-5h0m1 3h0m2-2h0m0 4h0m0-5h0m1 2h0m0-2h0m3 3h0m3-2h0m1-1h0m1 1h0m3 4h0m-1 1h0m-4 5h0m-3-5h0m-1 0h0m-2 0h0m-1 0h0m0 4h0m0-1h0m-1 2h0m-1-4h0m-1 0h0m-1 2h0m0-3h0m0 1h0m-1 3h0m-2 0h0m0-3h0m-1 4h0m0-5h0m-1 0h0m-1 5h0m0-4h0m-3 2h0m0 1h0m-2-3h0m0 4h0m-1-1h0m-1-4h0m0 2h0m0 3h0m-3-2h0m0 2h0m0-4h0m-1-1h0m-2 2h0m-1-1h0m-1 4h0m-3-2h0m0-1h0m-3 1h0m-1-2h0m0 3h0m-1-4h0m-1 3h0m0-2h0m-1 4h0m0-5h0m-1 0h0m0 4h0m-1-4h0m-3 2h0m0 3h0m-1-2h0m-1 2h0m0-2h0m-1-2h0m-2 3h0m-1-3h0m0 2h0m-1-3h0m-1 5h0m-1-3h0m0-1h0m-4 0h0m0 4h0m0-3h0m-2-1h0m-1 4h0m-1 0h0m0-5h0m-1 5h0m0-3h0m0 2h0m-1-1h0m-1 2h0m0-5h0m-1 1h0m-1 0h0m-2 1h0m0-1h0m-5 3h0m-1-2h0m0-1h0m-3 4h0m-2-4h0m-1 2h0m-4 1h0m-1 1h0m-3 0h0m0-5h0m-2 4h0m-1 0h0m-1-4h0m-1 0h0m-1 0h0m0 2h0m0 2h0m-1-4h0m0 4h0m-1-1h0m0-3h0m-1 5h0m-1-1h0m0-1h0m-1 0h0m0 1h0m-1 1h0m0-1h0m-1-4h0m0 4h0m-1-1h0m0 2h0m0-1h0m-1 0h0m0-1h0m-1-1h0m0 1h0m-1-2h0m0-1h0m0 2h0m-1-2h0m0 4h0m0-1h0m-1-2h0m0 2h0m0 1h0m-1-4h0m-1 1h0m0 3h0m-1-4h0m-1 0h0m-1 1h0m0 4h0m-1-2h0m-1 0h0m0-3h0m-1 2h0m0-1h0m0 4h0m0-5h0m-1 1h0m-2 0h0m0 3h0m-2-3h0m0 3h0m-1 0h0m0-4h0m-1 1h0m0 4h0m0-1h0m-2 1h0m0-3h0m-1 1h0m-1 2h0m0-5h0m0 4h0m-1-3h0m-1 3h0m0-1h0m0-1h0m-1 2h0m0-1h0m-1 2h0m0-1h0m-1-1h0m0 2h0m-1 0h0m0-5h0m-1 1h0m0 2h0m0-1h0m-1 2h0m0-3h0m0 2h0m0-1h0m-1-1h0m-1 2h0m-1-1h0m-1 3h0m-2-3h0m0-1h0m0 2h0m0 2h0m-1 0h0m0-5h0m0 4h0m-1 0h0m0-4h0m0 2h0m-1 1h0m0-1h0m0 2h0m-1 1h0m0-5h0m0 2h0m0 1h0m-1 0h0m0-3h0m-1 0h0m0 2h0m-2 2h0m0-2h0m-1 3h0m-2-5h0m-1 5h0m0-3h0m-1 3h0m-1-1h0m0-2h0m-1 2h0m-3-3h0m-1-1h0m0 2h0m0 2h0m-1-3h0m-1 0h0m0 2h0m-1 1h0m-1-1h0m-1 1h0m0-3h0m-1 2h0m0-1h0m0 2h0m-1-4h0m-1 1h0m0-1h0m-8 11h0m0-3h0m1 3h0m0-1h0m2-1h0m0 2h0m1 0h0m0-5h0m1 0h0m1 0h0m1 2h0m1 3h0m3-4h0m1 2h0m1-1h0m1 1h0m1 1h0m1-3h0m0 2h0m0-1h0m1-2h0m0 4h0m0-3h0m0 2h0m1-2h0m0 2h0m1-1h0m1-2h0m0 4h0m0-3h0m1 3h0m1-2h0m0 2h0m0-3h0m0 4h0m1-4h0m0 1h0m1-1h0m1 0h0m1 0h0m1 3h0m0-3h0m1 4h0m0-5h0m0 4h0m0-1h0m1 0h0m0 2h0m0-3h0m0 2h0m1-1h0m1-1h0m2 0h0m1 1h0m0-3h0m1 3h0m0-2h0m1 3h0m1 1h0m0-2h0m2 2h0m1-1h0m1-2h0m0 1h0m1-1h0m0-1h0m0 2h0m1 2h0m0-4h0m1 2h0m0-3h0m0 4h0m1-2h0m0-1h0m0 4h0m1-5h0m0 4h0m1-3h0m0 2h0m1-1h0m0 1h0m1 1h0m1 1h0m1-2h0m0-3h0m1 5h0m0-5h0m0 1h0m1 0h0m0 2h0m1-3h0m1 0h0m0 3h0m1-1h0m0-1h0m0 2h0m1-1h0m0 2h0m0-3h0m0 4h0m1 0h0m0-4h0m1 0h0m0 3h0m1 1h0m0-3h0m3-2h0m0 2h0m0 1h0m1 0h0m1-2h0m0 4h0m0-5h0m1 0h0m0 2h0m0-1h0m1 4h0m0-5h0m1 2h0m1-2h0m1 5h0m0-1h0m0-3h0m1-1h0m1 0h0m0 4h0m0-3h0m2 0h0m1-1h0m1 2h0m0 3h0m2 0h0m1 0h0m0-2h0m1 0h0m0 2h0m1 0h0m1-5h0m0 1h0m0 4h0m1 0h0m1-1h0m1 0h0m1-1h0m1 1h0m0-3h0m0 4h0m2-2h0m0 2h0m0-3h0m1 0h0m0 1h0m1 1h0m1-4h0m0 4h0m0 1h0m2-3h0m0-2h0m2 4h0m0-1h0m1-3h0m1 2h0m0 2h0m1-3h0m1 2h0m1 2h0m2-4h0m1 0h0m0-1h0m1 5h0m1-5h0m1 4h0m0 1h0m0-3h0m2 0h0m0-1h0m2 4h0m1-4h0m1 1h0m2-1h0m0-1h0m1 2h0m0 1h0m2-3h0m0 1h0m0 2h0m3-2h0m2 4h0m0-3h0m2 2h0m0-4h0m1 3h0m2-2h0m0 4h0m1-4h0m1 3h0m1 1h0m1-1h0m1 0h0m1-2h0m1 1h0m0 1h0m1 1h0m1-2h0m0-3h0m1 3h0m0-3h0m1 0h0m1 1h0m0 4h0m1-5h0m0 2h0m0 2h0m1 0h0m1-2h0m2 0h0m0 1h0m4 1h0m0-3h0m2 2h0m1-1h0m2 0h0m0 2h0m3 1h0m0-1h0m1 0h0m0-4h0m1 4h0m0-3h0m0 2h0m2 2h0m2-3h0m2-1h0m0 4h0m3-2h0m0 2h0m1-3h0m0 2h0m0-3h0m1 2h0m1-3h0m2 1h0m0 4h0m4-2h0m-13 4h0m-1 2h0m-3-3h0m0 4h0m-2 1h0m-1-3h0m-2 2h0m-3-2h0m-1 3h0m-2-1h0m-1 0h0m-2 1h0m-1 0h0m-4-3h0m0-1h0m-4 1h0m-2-1h0m0 3h0m-1-2h0m-1-1h0m-1 2h0m0 2h0m-1-1h0m-2-2h0m-1 3h0m-7-3h0m-1 0h0m-1 1h0m-1-3h0m0 2h0m-1 1h0m0 2h0m-1 0h0m-2-3h0m-4 3h0m-1-2h0m0-2h0m-1 2h0m-1-1h0m-2 1h0m-1 2h0m0-5h0m0 2h0m0-1h0m-2-1h0m-1 5h0m0-5h0m-3 5h0m0-5h0m0 4h0m-1-2h0m-1 1h0m0 2h0m0-1h0m0-3h0m-1 1h0m0 2h0m-2-2h0m-1 1h0m0 2h0m0-1h0m-1-3h0m0 3h0m-1-1h0m0-3h0m-1 0h0m0 4h0m-1 1h0m-1-4h0m0 2h0m-1-1h0m-1-1h0m-1 0h0m-1 2h0m0-3h0m-1 5h0m-1 0h0m0-5h0m0 4h0m-2 1h0m0-3h0m0 2h0m-1-4h0m-1 4h0m-2-2h0m-1 3h0m0-3h0m-1-1h0m0 4h0m0-5h0m0 2h0m0 2h0m-1 0h0m0-1h0m0-3h0m-1 3h0m0 2h0m-1-5h0m-1 1h0m-2 2h0m-1 2h0m0-5h0m0 2h0m0 1h0m-1 0h0m0-3h0m0 2h0m-2 0h0m-1-1h0m0 2h0m-1-2h0m0 2h0m-1-2h0m-1 0h0m0-1h0m-1 1h0m0-1h0m0 2h0m-1-2h0m0 5h0m-2-1h0m-1-4h0m-1 2h0m-1 2h0m0 1h0m-1-4h0m0 2h0m0 2h0m-1-4h0m0-1h0m-1 2h0m-1 3h0m-1-2h0m0-3h0m0 1h0m-1 1h0m-1 3h0m0-5h0m0 2h0m-1 3h0m-1-2h0m-1-1h0m-1-1h0m0 2h0m0-3h0m-1 1h0m0-1h0m-2 1h0m0 4h0m-1-4h0m0 2h0m0-3h0m-1 0h0m0 3h0m-1 0h0m0 2h0m0-5h0m-1 0h0m0 4h0m-1-3h0m0 2h0m0-3h0m0 4h0m-1 0h0m-2 1h0m-1-1h0m0-1h0m0-3h0m-1 1h0m0 1h0m-1 2h0m0-1h0m0-3h0m0 2h0m-1-2h0m0 2h0m0 2h0m-1 0h0m0-4h0m-1 1h0m0-1h0m0 4h0m-1-4h0m0 2h0m-1 0h0m-1 1h0m-2 0h0m0 2h0m-1 0h0m-1-3h0m-1-1h0m0 2h0m-1 1h0m0-2h0m-1-1h0m-2 3h0m0 1h0m0-3h0m-1-1h0m0 1h0m-1 0h0m0 3h0m-1 0h0m-1-4h0m0 2h0m-1 0h0m0 2h0m0-5h0m0 2h0m-1 2h0m0-4h0m-1 3h0m0 2h0m0-3h0m-1 2h0m-1 1h0m-1-5h0m0 5h0m-4-1h0m-1-1h0m-3 7h0m4 0h0m1-4h0m1 0h0m1 4h0m0-3h0m0 2h0m0-3h0m2 1h0m1 2h0m0 2h0m0-4h0m2-1h0m0 2h0m0 2h0m1-2h0m1 3h0m0-3h0m0 2h0m1 0h0m1 1h0m0-2h0m1 0h0m1-3h0m1 1h0m0 3h0m1 0h0m0 1h0m2-1h0m0-1h0m1-3h0m0 2h0m0 2h0m1-4h0m0 4h0m1-4h0m0 5h0m1-5h0m1 5h0m0-5h0m0 2h0m0 2h0m0-3h0m0 2h0m1 0h0m0-3h0m0 4h0m1 0h0m1-1h0m0-3h0m2 2h0m0 2h0m1 0h0m0-1h0m1-3h0m1 4h0m1 0h0m0-3h0m1 1h0m0 2h0m0-3h0m0 2h0m1-2h0m0 2h0m0 2h0m0-5h0m0 2h0m1 0h0m0 2h0m0-3h0m0 2h0m1 0h0m0-2h0m1 0h0m0 4h0m1-5h0m0 2h0m1 3h0m0-1h0m0-1h0m1 0h0m0 2h0m1 0h0m0-3h0m0 2h0m0-3h0m1-1h0m1 3h0m1-2h0m0 2h0m1 2h0m0-4h0m2 1h0m1 3h0m0-3h0m0 1h0m1-2h0m0-1h0m0 2h0m1-1h0m0 4h0m1-1h0m0-3h0m1 1h0m0 3h0m1-3h0m0 2h0m0-3h0m1 3h0m0-1h0m1-1h0m0 1h0m1-2h0m1-1h0m0 2h0m0 2h0m1-4h0m0 2h0m0 2h0m1-1h0m1-2h0m1 4h0m1 0h0m0-5h0m0 2h0m0 2h0m0-3h0m1 1h0m0 2h0m1-3h0m1 3h0m1-1h0m0 2h0m1-3h0m0-1h0m1-1h0m1 0h0m0 2h0m0 2h0m1 1h0m0-3h0m1 1h0m1 2h0m2-4h0m1 4h0m1-3h0m0 1h0m1-2h0m0 3h0m1 0h0m2-2h0m1 2h0m0-1h0m2-1h0m1 0h0m0 1h0m1-2h0m0 2h0m0 2h0m0-5h0m1 3h0m1 0h0m1 1h0m1 0h0m1-2h0m1 0h0m1 2h0m0-3h0m0-1h0m1 0h0m0 2h0m1-1h0m1 0h0m1 1h0m1 2h0m1-3h0m0 3h0m4 0h0m1 0h0m1 1h0m0-5h0m0 2h0m1 0h0m0 2h0m1-3h0m0-1h0m1 3h0m1-1h0m1 2h0m0-4h0m2 4h0m0-3h0m0 4h0m0-5h0m1 3h0m1-2h0m2 0h0m1 2h0m1 0h0m1 2h0m4-4h0m0-1h0m1 5h0m3-4h0m1 0h0m0-1h0m1 1h0m1 0h0m0-1h0m1 4h0m0 1h0m1-2h0m3-1h0m9-2h0m0 2h0m3-1h0m1-1h0m13 4h0m8 3h0m-1 0h0m-8-1h0m-1 3h0m0 2h0m-2-2h0m-2-1h0m-1-1h0m-3 3h0m-1-1h0m-1 0h0m-1 0h0m-2-3h0m-9 2h0m-4-1h0m-1 1h0m-3-2h0m0 4h0m0-3h0m-1 0h0m-3 2h0m-2-3h0m0 2h0m-2 3h0m-4-2h0m-2-2h0m-3 0h0m0 4h0m-3-5h0m-1 2h0m-1-1h0m-1 1h0m-1-2h0m0 2h0m-1-1h0m0 1h0m-1 2h0m0-4h0m-1 2h0m-2 1h0m0-1h0m0 2h0m-1 1h0m-1 0h0m0-3h0m-2 3h0m-1-4h0m-2 3h0m-2 0h0m0-3h0m-1 1h0m0 2h0m-1 0h0m-3-3h0m-3-1h0m0 4h0m-1 0h0m-1-2h0m0 2h0m-1-4h0m-1 1h0m0 1h0m-2-2h0m-1 1h0m-1 2h0m-1 0h0m-2 0h0m0 2h0m0-5h0m0 4h0m0-3h0m-1 3h0m-1-2h0m-1 1h0m0-3h0m-2 4h0m-1-4h0m-1 5h0m0-1h0m-1-3h0m-1 3h0m0-2h0m-1 1h0m0 2h0m0-5h0m0 4h0m-1-2h0m-1-2h0m0 2h0m-1-1h0m-1 0h0m0 3h0m-1-4h0m0 1h0m-1 0h0m0 2h0m0 1h0m-1-4h0m-1 2h0m0 2h0m-1-3h0m0 2h0m0 1h0m-1 1h0m0-5h0m-1 5h0m0-5h0m0 4h0m0-1h0m-1-3h0m0 2h0m-1-1h0m0 4h0m0-5h0m-1 1h0m0 2h0m0 2h0m-1-4h0m0 4h0m0-1h0m-1-4h0m-1 1h0m-1 0h0m0 2h0m0-3h0m-2 3h0m0 2h0m-1-4h0m0 2h0m0 1h0m-1 1h0m0-5h0m-1 0h0m-1 0h0m0 4h0m-1-2h0m-1 3h0m0-5h0m0 2h0m0 2h0m-1-1h0m0 2h0m0-1h0m-1-1h0m0-1h0m-1 1h0m-1 2h0m0-3h0m0 2h0m-1-3h0m0 2h0m0-1h0m0 2h0m-1-1h0m0 2h0m0-3h0m-1 3h0m-2-5h0m0 5h0m-1-2h0m0-3h0m0 2h0m-1 2h0m0-3h0m0 4h0m0-5h0m-1 3h0m0-1h0m0 2h0m-1-4h0m0 4h0m0-1h0m0 2h0m-1-5h0m-1 4h0m0 1h0m-1 0h0m0-3h0m-1 0h0m-1 3h0m-1-1h0m-3 0h0m0-1h0m0 2h0m0-5h0m-1 3h0m0-3h0m-1 4h0m0 1h0m-1-4h0m-1 4h0m-1-1h0m0-3h0m-1 1h0m0-1h0m0 2h0m0 2h0m-1 0h0m-1-4h0m0-1h0m-1 4h0m-1 0h0m-1-1h0m0-3h0m-2 1h0m0 2h0m-1 2h0m0-5h0m-1 4h0m-1-3h0m-1 3h0m0 1h0m-1-4h0m-2 7h0m0-1h0m1 2h0m0 2h0m1-1h0m0-2h0m1 3h0m1 0h0m0-4h0m0 2h0m3-1h0m1 3h0m0-3h0m1 0h0m0-1h0m1 1h0m1-2h0m1 4h0m1-4h0m0 2h0m0 1h0m1-1h0m1-2h0m2 2h0m0 2h0m1 1h0m0-1h0m1 0h0m0-3h0m0 2h0m1-2h0m0 2h0m1 1h0m0-3h0m0 1h0m2 2h0m1-2h0m0 3h0m1 0h0m0-5h0m0 3h0m2 0h0m1-3h0m2 0h0m0 3h0m1-3h0m0 2h0m1 2h0m0-1h0m1-2h0m0 2h0m0-3h0m0 4h0m1 1h0m0-3h0m0-1h0m0 2h0m1 2h0m0-5h0m1 3h0m0 2h0m0-3h0m0 2h0m1 0h0m1-4h0m0 3h0m1-2h0m0 4h0m1-4h0m0 2h0m1 1h0m1 1h0m0-1h0m1 0h0m0-1h0m1-2h0m0 4h0m0-5h0m1 0h0m0 2h0m1 0h0m0 1h0m2-3h0m0 2h0m1 0h0m1-2h0m0 3h0m1 1h0m0-3h0m0 4h0m1-3h0m1 2h0m0 1h0m2-3h0m0-1h0m1-1h0m0 2h0m0 2h0m0-3h0m0 2h0m1-2h0m0 2h0m0 2h0m0-3h0m0 2h0m1-4h0m0 2h0m0 1h0m1 1h0m0-3h0m0 4h0m0-5h0m1 0h0m0 1h0m1 1h0m0 2h0m1-3h0m0 2h0m1-2h0m0 1h0m1 2h0m0 1h0m1 0h0m0-5h0m0 4h0m1 0h0m0-3h0m0 2h0m0 2h0m0-5h0m1 4h0m1-1h0m0 2h0m1-3h0m1 3h0m1-4h0m1 0h0m0 2h0m0 2h0m0-5h0m0 4h0m1-2h0m0-1h0m1 1h0m1-2h0m0 2h0m0-1h0m1 4h0m1-2h0m1 1h0m2-2h0m0 1h0m0-3h0m1 3h0m0-1h0m2 2h0m0 1h0m0-3h0m5 0h0m0 2h0m0 1h0m1-2h0m1 2h0m3-2h0m1 0h0m0-3h0m2 3h0m0-3h0m1 5h0m0-5h0m0 2h0m0 2h0m3-3h0m0 2h0m1-2h0m1 2h0m2-1h0m1 1h0m1-3h0m2 0h0m1 5h0m4 0h0m6 0h0m1-4h0m2 0h0m4 3h0m9-4h0m2 4h0m4-2h0m0 2h0m2 0h0m0-1h0m1-2h0m0-1h0m2 4h0m2 1h0m0-1h0m3-3h0m1 1h0m5-1h0m1 3h0m1-3h0m0 1h0m6-2h0m2 1h0m2-1h0m-17 10h0m-1-4h0m-1 1h0m-2 2h0m-2 0h0m-2 2h0m-3-2h0m-2 2h0m-7-2h0m-6-1h0m-4 1h0m-5 0h0m-1-3h0m-1 3h0m-2-3h0m0 2h0m-2 3h0m-3-2h0m0 2h0m-1-5h0m-1 2h0m0 3h0m-2-3h0m-1 1h0m-1-3h0m0 2h0m-1-1h0m-2-1h0m-1 3h0m-3-2h0m-1 1h0m-1 1h0m-2 1h0m0-3h0m0 4h0m-1-2h0m-1-3h0m-1 1h0m0 1h0m-3 3h0m-2 0h0m-2 0h0m-1-3h0m0-1h0m-2 0h0m-3-1h0m-1 1h0m0 1h0m-1 3h0m0-5h0m-1 2h0m-1 3h0m0-5h0m-1 2h0m0 2h0m0-1h0m-1 0h0m0 2h0m0-5h0m-1 1h0m0 4h0m-1-5h0m-1 3h0m0 2h0m0-3h0m-1-1h0m0 4h0m0-1h0m-2-4h0m0 2h0m0 2h0m-1 1h0m0-1h0m-1 1h0m-1-2h0m-1 2h0m0-3h0m-1-1h0m0-1h0m0 2h0m-1 2h0m-1-2h0m-1 0h0m0 2h0m-1-3h0m0 2h0m-1-2h0m0 2h0m0 2h0m0-1h0m-1-1h0m0 2h0m0-5h0m0 4h0m-1-3h0m0 2h0m0 2h0m-1 0h0m-1-4h0m0 2h0m-2 2h0m0-5h0m-1 0h0m0 2h0m0 2h0m-1-1h0m0 2h0m0-5h0m-1 1h0m0 4h0m-2 0h0m-1-4h0m0 4h0m0-1h0m-2-4h0m0 2h0m0 2h0m-1-1h0m-1-2h0m0 4h0m0-3h0m-1-2h0m0 4h0m0-1h0m-1 0h0m0-3h0m0 4h0m-1 1h0m0-5h0m0 4h0m-1-3h0m0 4h0m0-3h0m0 2h0m-1-4h0m0 2h0m0 2h0m-1 0h0m0-1h0m0 2h0m0-5h0m-1 4h0m0-3h0m0 4h0m-1-4h0m0 2h0m0 2h0m0-1h0m-1-1h0m0 2h0m0-5h0m0 2h0m-1 1h0m0-1h0m-1 3h0m-1 0h0m0-1h0m-1 1h0m-1-1h0m0-3h0m-1-1h0m-1 1h0m-1 0h0m0 3h0m-1-3h0m0 3h0m-1-1h0m0 2h0m0-5h0m0 2h0m-2-1h0m0 2h0m-1-1h0m0 2h0m0-1h0m-1-2h0m0 2h0m0 1h0m-1 0h0m0-4h0m-1 4h0m-2-2h0m-1 2h0m-1 0h0m0 1h0m0-5h0m0 2h0m-1 0h0m-1 2h0m0-3h0m0 4h0m0-5h0m-1 4h0m0-3h0m-1 0h0m-1 2h0m-2 0h0m0 2h0m-1-2h0m-2 2h0m-1-5h0m-1 4h0m0 7h0m0-5h0m3 5h0m2 0h0m0-1h0m1 1h0m0-4h0m1 0h0m0-1h0m1 2h0m2 1h0m1 1h0m1 1h0m1-2h0m0-3h0m1 2h0m1 3h0m1-4h0m1-1h0m0 2h0m1 3h0m1 0h0m0-5h0m0 1h0m1 3h0m0 1h0m1-5h0m2 4h0m0-3h0m1 0h0m0 4h0m1-5h0m0 2h0m1-1h0m1-1h0m1 3h0m0 2h0m1-4h0m0 4h0m1-5h0m0 1h0m0 2h0m0 2h0m1-1h0m1 1h0m0-3h0m0 2h0m1 1h0m0-5h0m1 1h0m0 4h0m0-3h0m1 1h0m1-2h0m0-1h0m1 2h0m0-1h0m0 4h0m1 0h0m0-5h0m0 2h0m1 2h0m0 1h0m1-1h0m0 1h0m1-4h0m1 0h0m1 4h0m1-3h0m1-2h0m0 3h0m1-1h0m0 1h0m0 2h0m1 0h0m0-2h0m3-1h0m1 1h0m1 1h0m0-3h0m0 2h0m1-1h0m0 2h0m1-4h0m0 4h0m1-2h0m0 2h0m0-3h0m1 1h0m0 2h0m1-4h0m1 0h0m2 2h0m0 2h0m0-3h0m0 4h0m2-3h0m1 2h0m0-1h0m1 0h0m2 1h0m1-2h0m1-1h0m1 1h0m2 3h0m0-5h0m1 4h0m0 1h0m0-5h0m1 1h0m0 2h0m3 2h0m1-4h0m0-1h0m0 4h0m1-2h0m1-2h0m1 2h0m0 2h0m0 1h0m1-3h0m0 2h0m0 1h0m1 0h0m2-1h0m0-1h0m2 2h0m5-1h0m0-2h0m3 2h0m1-4h0m1 1h0m0-1h0m2 3h0m0 1h0m3 1h0m1 0h0m1-2h0m0-1h0m1 3h0m0-4h0m0 2h0m1-2h0m0 4h0m1-5h0m2 1h0m1 2h0m4 1h0m0-3h0m1 1h0m2 2h0m1-3h0m0 1h0m3 0h0m5-2h0m6 2h0m3 0h0m4 2h0m3-1h0m2 2h0m1-4h0m2 1h0m14 3h0m19 0h0m-27 6h0m-2-3h0m-5 3h0m-2-1h0m-1-2h0m-2 3h0m-13-5h0m-5 1h0m-5 1h0m-4 2h0m-3-4h0m-2 1h0m-2 2h0m0 2h0m0-5h0m0 2h0m-3 1h0m-1 2h0m-2-3h0m-1 1h0m-2 2h0m-1-4h0m0 2h0m-2 2h0m-2-4h0m-1 1h0m0 2h0m-4-3h0m0 2h0m0-3h0m0 4h0m-1-4h0m-2 2h0m-2 3h0m-1-2h0m-1-2h0m-2 4h0m0-3h0m-2 0h0m-1 3h0m-1-4h0m-1 0h0m0 2h0m-1-3h0m-1 4h0m-1-1h0m0 2h0m0-5h0m-1 4h0m-1-1h0m0 1h0m-2-1h0m0 2h0m0-5h0m-2 0h0m0 2h0m0 2h0m-1-2h0m0-1h0m-2-1h0m0 2h0m-1 0h0m-1-1h0m0 2h0m-1 0h0m0 1h0m0-3h0m-1-1h0m-1 3h0m-1 1h0m-2 0h0m-1-4h0m0 4h0m-2 1h0m0-1h0m0-1h0m-1 2h0m0-5h0m0 1h0m-1 3h0m-1 1h0m0-5h0m0 4h0m-2-2h0m-1 1h0m0-1h0m-1 0h0m0 2h0m0-1h0m0 2h0m0-5h0m-1 3h0m0-3h0m0 4h0m-1-4h0m0 2h0m0-1h0m-1 0h0m0-1h0m-1 3h0m0-3h0m-1 0h0m0 4h0m-1-1h0m0 2h0m0-4h0m-1 0h0m0 3h0m-1-3h0m0 2h0m0-3h0m0 2h0m-1-1h0m0 4h0m0-3h0m-1 3h0m0-5h0m0 2h0m-1 3h0m-1 0h0m0-5h0m-1 0h0m-1 5h0m0-5h0m0 4h0m-1 1h0m0-5h0m0 2h0m-1-2h0m-1 5h0m-4-3h0m0-1h0m-1 0h0m-1-1h0m0 2h0m0-1h0m-1 4h0m0-3h0m-2-1h0m0 2h0m0-3h0m-1 0h0m0 2h0m0 1h0m-1-2h0m0 4h0m-1-1h0m0-1h0m0-3h0m-1 1h0m0-1h0m-1 1h0m0 4h0m-2-5h0m0 2h0m-1-1h0m-2-1h0m0 3h0m0 2h0m-1-2h0m-3 2h0m-1-5h0m-1 1h0m0 2h0m-3 6h0m2-1h0m3-2h0m0 5h0m1 0h0m2 0h0m0-2h0m1-3h0m0 3h0m0 2h0m1-5h0m1 2h0m1 1h0m0-1h0m1-2h0m0 4h0m0-3h0m1 1h0m0 3h0m2-2h0m1 1h0m0-1h0m2-3h0m1 2h0m0 2h0m0-3h0m1 3h0m0-3h0m1 3h0m1 1h0m0-2h0m1-1h0m0 1h0m1-1h0m0 2h0m0-1h0m2 1h0m1-2h0m1-2h0m0 3h0m0 2h0m1-1h0m0-3h0m0 2h0m1 2h0m0-3h0m2 1h0m0 2h0m1-5h0m0 4h0m0 1h0m1 0h0m2-4h0m1 0h0m0 4h0m0-5h0m1 0h0m1 5h0m1-1h0m0-3h0m1 3h0m1 1h0m0-1h0m1-2h0m0-1h0m0 2h0m0 2h0m0-5h0m1 0h0m0 2h0m0-1h0m1 4h0m0-5h0m0 2h0m0 2h0m1-2h0m0-1h0m0 2h0m1-1h0m0 3h0m1-4h0m0 4h0m1-3h0m0 1h0m1 0h0m0 2h0m0-5h0m1 3h0m0 2h0m0-5h0m0 2h0m1 2h0m0-3h0m0 2h0m0 2h0m1 0h0m0-3h0m1 0h0m0 3h0m1-5h0m0 4h0m0-1h0m1-1h0m0-1h0m0-1h0m1 2h0m1 0h0m1-1h0m0 4h0m0-5h0m1 1h0m0 3h0m1 0h0m0-3h0m0 2h0m1-3h0m1 4h0m0 1h0m1-5h0m1 0h0m0 2h0m0-1h0m1-1h0m1 4h0m0 1h0m1-1h0m1-2h0m3 3h0m0-1h0m0-1h0m1 2h0m2-1h0m0-3h0m1 4h0m0-3h0m1 0h0m0-1h0m1 4h0m1-4h0m0 2h0m0-3h0m1 4h0m2 0h0m0-1h0m2-1h0m0 3h0m3-1h0m0-4h0m2 1h0m1 2h0m1 1h0m1-3h0m2 0h0m0 2h0m3 0h0m3-2h0m0 4h0m0-1h0m2 0h0m0-1h0m2-3h0m1 5h0m0-5h0m1 1h0m1 4h0m1-2h0m1 2h0m1-2h0m2-3h0m2 1h0m0 4h0m0-5h0m1 5h0m1-4h0m1 3h0m0-3h0m0 4h0m0-5h0m1 2h0m1-1h0m4 1h0m1-1h0m5-1h0m3 2h0m1 0h0m3 1h0m1 0h0m7-1h0m11-2h0m3 4h0m2-4h0m12 3h0m2 0h0m0 7h0m-7-1h0m-23-1h0m-1 1h0m-4 2h0m-2-1h0m-1 0h0m-1-4h0m-3 4h0m-3 0h0m0-1h0m-2-2h0m-1 2h0m-4-2h0m-1 2h0m-1 0h0m-3-2h0m-1 1h0m-3-2h0m0 3h0m-1-1h0m-1-1h0m-1 0h0m-1 1h0m-1 2h0m-1-1h0m0-3h0m-1 3h0m0-1h0m-1 0h0m-2-1h0m-3 2h0m0 2h0m0-3h0m-2-2h0m-1 5h0m-1-3h0m0-1h0m-1 3h0m0-3h0m-1 1h0m0 1h0m-1-1h0m-1 1h0m-1-1h0m0 2h0m-1-4h0m-1 5h0m0-5h0m-2 2h0m0 1h0m-1 0h0m-1 2h0m-1-5h0m-1 4h0m-1-1h0m0 2h0m0-3h0m0-1h0m-2 0h0m-2 2h0m0 2h0m-2 0h0m-1-5h0m-1 1h0m0 4h0m0-1h0m-1-1h0m-1 2h0m-1 0h0m0-4h0m-1 4h0m-1 0h0m0-4h0m-1 3h0m-1-4h0m0 1h0m-1 2h0m0-1h0m-1 2h0m-4-3h0m-1 3h0m0-1h0m-1 0h0m0-2h0m-2 0h0m-1 4h0m0-3h0m-1 1h0m0-3h0m0 4h0m-1 0h0m-1-3h0m0-1h0m0 2h0m0 2h0m-1-4h0m0 2h0m-1-1h0m0-1h0m0 4h0m-1-4h0m0 3h0m-1-2h0m0 2h0m0 2h0m0-5h0m0 4h0m-1-2h0m0 2h0m0-3h0m0 2h0m-1-3h0m-1 2h0m-1-2h0m0 1h0m0 2h0m0 2h0m-1-4h0m-1 2h0m-1 0h0m-1-2h0m0 1h0m-1-1h0m0 2h0m0 1h0m-1-4h0m0 4h0m0-3h0m0 2h0m-1 0h0m0 2h0m0-5h0m0 4h0m0-3h0m-1 1h0m0 1h0m-1-2h0m0 2h0m0 1h0m-1-3h0m0 2h0m0 2h0m0-5h0m-1 1h0m0-1h0m-1 3h0m0 2h0m-1 0h0m0-5h0m-1 2h0m0 2h0m-2-4h0m0 4h0m-1 0h0m-1-3h0m0 2h0m-1 1h0m-1-2h0m-2 2h0m-1-3h0m0 3h0m-1 1h0m0-5h0m0 2h0m-1-2h0m0 2h0m-1-1h0m0 2h0m0 2h0m0-1h0m-2-3h0m0 2h0m-1 0h0m0 2h0m0-5h0m0 1h0m-1 4h0m-1-4h0m0 2h0m0 2h0m0-5h0m-1 1h0m0-1h0m0 2h0m-1-2h0m0 2h0m-1 2h0m0-4h0m-1 3h0m-1 0h0m-1-2h0m0 2h0m0 2h0m0-5h0m0 2h0m0 2h0m-1-1h0m-1-1h0m-2-1h0m0 1h0m-1 2h0m0-2h0m-1 1h0m-1 1h0m-1-2h0m0 2h0m0 1h0m-1 0h0m0-4h0m-1 1h0m-1-2h0m0 4h0m-3 7h0m0-1h0m1 1h0m0-1h0m1 1h0m1-3h0m1-2h0m2 2h0m0-1h0m0 2h0m1 0h0m1-2h0m1 2h0m1-3h0m1 1h0m0 4h0m1-3h0m0 3h0m1-3h0m1-2h0m0 4h0m0 1h0m1-3h0m1-1h0m1 4h0m0-1h0m0-3h0m0 2h0m1-2h0m0 2h0m0-1h0m1 2h0m0-1h0m1 1h0m1-3h0m1 0h0m0 2h0m0 2h0m0-5h0m0 4h0m1-1h0m1 0h0m0-1h0m1 0h0m0 2h0m0-1h0m1 0h0m0-1h0m1 0h0m1 0h0m0 1h0m1-3h0m0 4h0m0-1h0m0 2h0m1-3h0m1-2h0m1 2h0m1-1h0m0 2h0m0-3h0m0 4h0m1-3h0m0 4h0m1-4h0m0 2h0m1-3h0m0 2h0m0-1h0m1 2h0m0 2h0m0-5h0m1 2h0m0 1h0m1-3h0m1 1h0m0 4h0m1-3h0m0 2h0m0-3h0m0 2h0m0-3h0m1 0h0m0 4h0m0-3h0m1-1h0m0 2h0m0 2h0m1 0h0m0 1h0m1-2h0m1 0h0m0-3h0m1 2h0m0-1h0m0-1h0m1 2h0m0-1h0m1 0h0m0 4h0m0-3h0m1 1h0m1 0h0m1 0h0m0 2h0m0-3h0m0 2h0m1-1h0m1 0h0m0-3h0m0 4h0m1 0h0m0 1h0m1-1h0m0-3h0m1-1h0m0 4h0m0-3h0m1 0h0m0 2h0m0-3h0m0 2h0m1-2h0m2 5h0m1-4h0m0 4h0m2-5h0m0 1h0m1 2h0m1 0h0m1 1h0m0-3h0m0-1h0m1 2h0m0-1h0m1 2h0m0-3h0m0 2h0m2-1h0m2 3h0m1-4h0m0 2h0m1 1h0m0-1h0m1 0h0m0 2h0m0-3h0m1 4h0m0-3h0m1 2h0m0-3h0m0-1h0m2 0h0m0 3h0m1 0h0m1 1h0m0-3h0m0 2h0m0-1h0m1 0h0m0-1h0m0-1h0m1 3h0m1-2h0m1 1h0m1-2h0m0 3h0m1-2h0m0 3h0m1 0h0m0 1h0m1-1h0m0 1h0m2-5h0m1 3h0m0-3h0m1 1h0m1 4h0m1 0h0m4-5h0m0 2h0m0 1h0m3-2h0m0 1h0m2-2h0m0 2h0m1-2h0m0 5h0m2-4h0m0 3h0m2 0h0m2-1h0m1 2h0m1-3h0m1 1h0m0-3h0m0 2h0m3-1h0m0 4h0m3-1h0m10 0h0m1 1h0m2-2h0m0-2h0m1 2h0m4-3h0m1 4h0m1 1h0m1-3h0m3 3h0m6-2h0m7 0h0m13-3h0m-11 10h0m-3-1h0m-3-1h0m-3-1h0m-3 0h0m-8-1h0m-1 5h0m-9 0h0m-7 0h0m0-5h0m-9 0h0m-2 0h0m-4 1h0m-1 0h0m0 1h0m-1 3h0m0-3h0m0-1h0m-1 1h0m-1-2h0m0 4h0m-1 0h0m0-1h0m-4 1h0m0-3h0m-1 2h0m0-3h0m-2 2h0m0 2h0m-1-4h0m0 2h0m0-1h0m-3 1h0m0 2h0m-2-4h0m-2 2h0m0-1h0m-1-1h0m0 1h0m-1 1h0m0 1h0m-1-3h0m-2 1h0m-1-1h0m0 1h0m0 2h0m-2-1h0m0 2h0m-1-3h0m-1 1h0m-1 3h0m-1 0h0m0-4h0m-1 4h0m-1-3h0m-1 1h0m0-3h0m-1 4h0m-1-1h0m-1 0h0m0 2h0m0-5h0m-1 5h0m0-5h0m-1 4h0m-1-4h0m0 1h0m-1 2h0m0 2h0m0-1h0m-1-4h0m-1 3h0m0-3h0m0 2h0m-1 3h0m0-1h0m-1-1h0m0 2h0m0-5h0m0 4h0m0-3h0m-1-1h0m0 2h0m0 1h0m-1-1h0m-1 0h0m-1 1h0m-1 0h0m0 1h0m-1 1h0m-1-5h0m0 2h0m-1 3h0m0-5h0m-1 0h0m0 2h0m0-1h0m-1 3h0m-1-4h0m0 2h0m-1-1h0m0 3h0m-1-3h0m0-1h0m0 2h0m0 2h0m-1-1h0m-1 2h0m-1-3h0m0 2h0m0-1h0m-1-3h0m-1 2h0m0 2h0m-1 1h0m0-5h0m0 2h0m-1 1h0m-1-1h0m0 2h0m0-3h0m-1 0h0m-2 0h0m-1-1h0m0 2h0m0 2h0m-1-1h0m-1 0h0m0 2h0m0-5h0m0 2h0m0 2h0m-1-1h0m0 2h0m0-1h0m-1-1h0m-1 0h0m0 2h0m0-5h0m0 4h0m0-3h0m-2 0h0m0 4h0m0-3h0m0 2h0m-1 1h0m-3-4h0m0 3h0m-1-4h0m-2 3h0m0-3h0m-1 2h0m0 2h0m0-3h0m0 2h0m-1 0h0m0 2h0m0-3h0m0 2h0m-1-2h0m0 2h0m-1-1h0m0-3h0m-1 3h0m0-1h0m-1-1h0m-1 0h0m0 2h0m0-1h0m0 2h0m-1-3h0m0 4h0m-1-5h0m0 2h0m0 2h0m-1-3h0m0 2h0m0 1h0m-1-4h0m0 4h0m-1-4h0m0 4h0m-1 1h0m0-5h0m-1 1h0m0 1h0m0 2h0m-1-2h0m-1 3h0m-1-2h0m0-3h0m0 4h0m-1-3h0m0 1h0m-1 3h0m-1-1h0m-2 0h0m-1 0h0m-2 4h0m7 1h0m2 1h0m1-4h0m0 1h0m1 3h0m0-1h0m1-2h0m0 2h0m0 2h0m0-5h0m1 0h0m1 2h0m1 0h0m0 3h0m1-3h0m0 3h0m0-5h0m1 3h0m0-3h0m1 4h0m0-3h0m1 3h0m1 0h0m0 1h0m0-3h0m1-1h0m0 4h0m0-5h0m1 2h0m0 1h0m1 2h0m1-5h0m0 1h0m1-1h0m0 5h0m1-2h0m1 2h0m0-1h0m1-4h0m0 1h0m1 0h0m0 4h0m1-3h0m1 3h0m2-1h0m0-3h0m1 2h0m0-3h0m1 2h0m0-1h0m0 2h0m1-1h0m0-2h0m1 2h0m0-2h0m1 4h0m0-4h0m1 2h0m0 1h0m1-2h0m0 2h0m1 1h0m0 1h0m0-5h0m0 2h0m1 2h0m1-1h0m0 2h0m1-2h0m0 1h0m1-1h0m1 0h0m0-3h0m1 0h0m1 3h0m1-3h0m1 3h0m0-1h0m1 0h0m1 3h0m1-3h0m0 2h0m1-3h0m0 2h0m0 2h0m1-3h0m1 1h0m1 0h0m1 2h0m0-4h0m0 2h0m2-1h0m0 2h0m1 0h0m0-3h0m0 2h0m0 2h0m1 0h0m0-5h0m1 1h0m0 2h0m0 2h0m0-5h0m0 4h0m1-2h0m0-1h0m0 4h0m1-2h0m2 0h0m0 1h0m2-2h0m0 2h0m1-3h0m0 2h0m0 2h0m1-1h0m2-1h0m1-2h0m0 2h0m0-3h0m1 4h0m1-1h0m0-1h0m1 1h0m1-1h0m0 2h0m1-4h0m1 0h0m2 2h0m0 2h0m1-4h0m0 2h0m2-1h0m0 1h0m1-2h0m2 2h0m0 1h0m2 1h0m0-1h0m2-3h0m0 2h0m3 2h0m1 1h0m1-3h0m1 1h0m1-2h0m0 2h0m1 1h0m1-1h0m2 0h0m0-1h0m1-1h0m0 1h0m2 1h0m2-1h0m3 1h0m14 1h0m3 1h0m0-5h0m1 3h0m12-3h0m17 0h0m10 4h0m-1 2h0m-5 2h0m-59-1h0m-1-1h0m0 1h0m-2 0h0m0 4h0m-1-3h0m-1 2h0m-1-3h0m-1 1h0m0 2h0m-1-2h0m0-1h0m-1-1h0m0 4h0m-2 1h0m0-2h0m-1 1h0m0-3h0m0 2h0m0 2h0m0-5h0m-1 1h0m-3 1h0m-1-2h0m0 2h0m-7 3h0m0-1h0m-1-3h0m0 3h0m-1 1h0m-2 0h0m0-5h0m-2 5h0m0-4h0m-1 4h0m0-5h0m0 4h0m0-3h0m-1 3h0m-1-2h0m0 3h0m-1-2h0m0 2h0m-1-2h0m-1-1h0m0 2h0m-4-4h0m-1 2h0m-1-1h0m-1 4h0m0-5h0m-1 0h0m-1 4h0m-4-3h0m0 2h0m0 2h0m0-3h0m-2 1h0m0-3h0m-1 1h0m-1 4h0m-2-1h0m-1-3h0m-2 4h0m0-5h0m0 1h0m-1-1h0m-1 1h0m-2 2h0m-1 2h0m-1-3h0m-1-2h0m-1 3h0m0 2h0m0-5h0m0 2h0m-1 2h0m-1-3h0m-1 3h0m-1-3h0m0 4h0m0-5h0m-1 4h0m0-3h0m-1 0h0m0 4h0m0-5h0m0 4h0m-1-2h0m0 2h0m0-1h0m-1 0h0m0-1h0m0 2h0m0-3h0m-1 4h0m0-5h0m0 4h0m-1-2h0m-1-1h0m0 2h0m0-3h0m0 2h0m-1 1h0m-1-2h0m-2 1h0m0 2h0m0-3h0m-1-1h0m0 4h0m0-3h0m0 2h0m-1 2h0m0-4h0m-1 4h0m0-1h0m-1-3h0m-1 2h0m0-1h0m-1-1h0m0 3h0m-1 1h0m-2 0h0m-2-1h0m-2-1h0m0-3h0m0 4h0m-1-1h0m0 2h0m0-5h0m-2 3h0m-1 1h0m-1-1h0m0 1h0m-1-3h0m-1-1h0m-1 3h0m0 7h0m2-3h0m1 0h0m0 2h0m0 2h0m1-3h0m0 1h0m1-3h0m0 2h0m1-2h0m2 2h0m1 0h0m0-2h0m1 2h0m1 1h0m2 1h0m0 1h0m3-1h0m0-3h0m0 4h0m2-1h0m0-4h0m1 4h0m0-1h0m1 1h0m1-3h0m0 2h0m0 2h0m1-5h0m0 2h0m1-1h0m0 2h0m1 2h0m0-5h0m1 5h0m1-1h0m1-1h0m1 1h0m0-1h0m1-2h0m0 2h0m0-3h0m1 2h0m0 2h0m0-4h0m1 2h0m0 1h0m1-1h0m0-1h0m1 4h0m1-3h0m0 1h0m0-3h0m1 5h0m1-1h0m0-3h0m0 4h0m0-3h0m1 2h0m0-3h0m3 2h0m0-1h0m1-2h0m1 5h0m0-3h0m1-2h0m0 1h0m2 1h0m1 0h0m1 2h0m1 1h0m0-5h0m0 2h0m1-1h0m0 2h0m1-3h0m0 4h0m1-2h0m0 2h0m1-2h0m2 3h0m0-3h0m0-1h0m1 0h0m0-1h0m1 4h0m0-1h0m1 0h0m0 2h0m2-2h0m0 2h0m2-2h0m0 2h0m1-2h0m0-3h0m1 4h0m1-3h0m1 1h0m0 2h0m1-2h0m0-1h0m1 3h0m0-2h0m2-2h0m0 4h0m1-3h0m2 4h0m0-1h0m1 1h0m1-5h0m1 2h0m0-1h0m1 3h0m1-4h0m0 5h0m1-4h0m0 1h0m1 0h0m1 2h0m0-4h0m1 0h0m1 5h0m2-5h0m0 2h0m1-1h0m2 4h0m0-5h0m0 4h0m1 0h0m0-1h0m1 1h0m1-3h0m0 4h0m0-5h0m1 1h0m1-1h0m1 3h0m0-1h0m6-2h0m71 6h0m-27 1h0m-11 4h0m-42 0h0m-1-5h0m0 4h0m0-3h0m-1 0h0m-4-1h0m0 2h0m0 2h0m-1-4h0m0 2h0m0 2h0m-1 1h0m0-1h0m-2-1h0m-1 0h0m-1-3h0m-3 4h0m-1-2h0m0 1h0m-1 2h0m0-3h0m-1-1h0m-1-1h0m0 2h0m0 3h0m-1-5h0m0 2h0m0-1h0m-4 3h0m-1 0h0m0-3h0m-1 4h0m0-2h0m-1-2h0m-1 0h0m-1 1h0m0 1h0m0 2h0m-1-5h0m-1 4h0m-1 0h0m-1-3h0m-3 0h0m0-1h0m-1 0h0m-1 3h0m0 1h0m0-3h0m-2-1h0m0 1h0m-2 0h0m0 1h0m0 2h0m-1-4h0m-1 0h0m-1 3h0m0 1h0m-1-2h0m-1 2h0m-1-3h0m0 4h0m-1-5h0m-1 2h0m0-1h0m0 4h0m-1-2h0m0-1h0m-1 2h0m-1-4h0m0 1h0m-2 0h0m0 4h0m-1-4h0m-1 4h0m0-3h0m0 2h0m-1 1h0m0-3h0m-1 3h0m0-5h0m0 4h0m-1-1h0m0-3h0m-1 1h0m-1 3h0m-2-4h0m0 2h0m-1 1h0m0-1h0m-1 1h0m0-1h0m-1 0h0m0-1h0m-1 0h0m-1-1h0m-1 5h0m0-5h0m-1 0h0m0 1h0m-1 4h0m0-5h0m0 2h0m-1 0h0m0 3h0m-1-2h0m-1 0h0m-1-2h0m-2 1h0m-1 3h0m-1-3h0m-1 1h0m0 1h0m-2 0h0m0-3h0m-2 0h0m-1-1h0m-1 3h0m0-1h0m-1 1h0m-1 2h0m-2-5h0m-3 5h0m-2 0h0m-5 4h0m3-1h0m0-1h0m1 3h0m0-1h0m1 2h0m1-1h0m0-3h0m2 0h0m0 4h0m1-3h0m0 3h0m1-2h0m0 2h0m0-5h0m1 1h0m1 3h0m0-3h0m1 2h0m0 1h0m0-3h0m1 1h0m0 1h0m2 0h0m1 2h0m1-4h0m0 1h0m1 3h0m1-4h0m0 4h0m0-5h0m0 4h0m1-3h0m3 1h0m1 3h0m2-1h0m1 1h0m1-3h0m1-1h0m0 1h0m1-2h0m1 3h0m0-1h0m1 0h0m0-2h0m1 1h0m0 4h0m0-3h0m0 2h0m1-1h0m0 1h0m1-1h0m1 2h0m1-3h0m0 2h0m0-1h0m1 2h0m1-1h0m1 0h0m2 0h0m0 1h0m0-5h0m0 2h0m1 0h0m1 0h0m0-2h0m1 1h0m0 2h0m0 2h0m0-5h0m0 2h0m1-2h0m0 4h0m1-4h0m0 2h0m3 2h0m1-1h0m0 2h0m2-4h0m0 2h0m0-3h0m1 3h0m1-2h0m0 2h0m0-3h0m1 3h0m1 1h0m0-3h0m0 1h0m1 2h0m1-1h0m0-3h0m0 2h0m1 1h0m0 2h0m1-3h0m2 2h0m0-4h0m1 4h0m1 0h0m0 1h0m1 0h0m3 0h0m0-5h0m1 1h0m0 2h0m0 2h0m0-5h0m1 1h0m2 3h0m0 1h0m1-4h0m0 4h0m0-5h0m3 5h0m1-3h0m1-1h0m0 4h0m3-5h0m0 1h0m1 3h0m0-3h0m0 4h0m0-5h0m2 5h0m1-5h0m0 2h0m0 2h0m0-3h0m1 0h0m0 1h0m1-2h0m1 1h0m0 4h0m1-2h0m1-2h0m1-1h0m2 5h0m0-5h0m4 0h0m-2 6h0m-5 3h0m0-1h0m-1-1h0m-1-1h0m-2 4h0m0-1h0m-1 0h0m0-1h0m-1 0h0m0 1h0m-1 2h0m0-5h0m0 1h0m-1 0h0m-1-1h0m-1 2h0m-1-1h0m0 1h0m-1 2h0m-2-4h0m0 2h0m-1-2h0m-1 0h0m0 4h0m0-3h0m-1 3h0m0-1h0m-1-2h0m-1 4h0m0-1h0m-1-1h0m0 2h0m0-1h0m-1-1h0m-1 2h0m0-5h0m0 3h0m-1 1h0m-1-3h0m-1-1h0m0 4h0m-1-1h0m0 2h0m0-5h0m0 2h0m0 2h0m-1-2h0m0 2h0m-1-1h0m-2-3h0m0 2h0m0 2h0m-1-4h0m0 4h0m0-1h0m-1 0h0m-1 1h0m0-1h0m-1-2h0m-1 3h0m-1 0h0m0-1h0m-1 2h0m0-1h0m0-1h0m-1-1h0m0 2h0m-1-3h0m0 2h0m0-3h0m-1 5h0m-2-1h0m-2-3h0m0 2h0m-1 0h0m-1-2h0m-3 1h0m0 2h0m-1-1h0m-1 1h0m0-4h0m-1 3h0m0 2h0m0-5h0m-2 5h0m0-5h0m-1 1h0m0 2h0m-1 0h0m-1 1h0m-1-3h0m-1 2h0m0 2h0m-1-5h0m0 2h0m-3 0h0m-4-2h0m0 4h0m-1 0h0m-1-3h0m-1 4h0m-1-4h0m-1 4h0m-1-5h0m-1 4h0m-1-2h0m-1 1h0m0 2h0m0-4h0m-1 0h0m-1 0h0m-1 0h0m0 1h0m-1 3h0m0-5h0m-2 4h0m0-3h0m-1 1h0m0-1h0m-2 2h0m0 2h0m0-3h0m0 2h0m-1-4h0m0 4h0m-1 1h0m-2-4h0m0 1h0m-1-1h0m0 3h0m-2 1h0m0-3h0m-2 2h0m-1 0h0m-4 0h0m-2 5h0m0 2h0m3-1h0m4 1h0m1-5h0m1 4h0m0-1h0m2 1h0m1 0h0m1 0h0m0-4h0m1 2h0m2-1h0m0 2h0m0 2h0m2-2h0m1 0h0m1-2h0m1 1h0m0 1h0m0-3h0m3 5h0m1-4h0m0 2h0m1-2h0m0 2h0m1-2h0m0 2h0m2 1h0m0-3h0m0 2h0m1-2h0m1 2h0m1-2h0m0-1h0m0 4h0m1 1h0m2-1h0m0 1h0m1-1h0m1-2h0m0 2h0m0-1h0m1 1h0m3-1h0m0 2h0m0-5h0m4 4h0m0-4h0m2 0h0m1 4h0m1-4h0m1 4h0m1 1h0m0-5h0m2 1h0m0 2h0m1-3h0m1 4h0m0-1h0m0-3h0m1 3h0m0 2h0m0-5h0m0 2h0m1 0h0m1-2h0m0 2h0m1-2h0m1 3h0m1 2h0m0-3h0m1 1h0m0 1h0m1-2h0m1 0h0m1 1h0m0-3h0m0 2h0m1-2h0m2 5h0m1-1h0m0 1h0m3-4h0m1 1h0m1 0h0m1-2h0m1 4h0m0-3h0m1-1h0m1 2h0m0 2h0m0-1h0m3-3h0m0 4h0m1-3h0m0 4h0m0-3h0m2 2h0m1-1h0m0-1h0m0 2h0m1-4h0m0 2h0m0 2h0m1-1h0m0 1h0m1 0h0m1-3h0m0 4h0m3-5h0m0 2h0m1-2h0m0 1h0m4 2h0m1-1h0m1-1h0m-9 7h0m-4 0h0m0-1h0m-1-1h0m-1 5h0m-4-3h0m-1-2h0m0 4h0m-1-3h0m0 2h0m0-1h0m-1 1h0m0 2h0m-1-2h0m-1-3h0m0 2h0m0 3h0m-1-1h0m-2 1h0m0-1h0m-1-2h0m0-1h0m0 2h0m-2 1h0m-1-3h0m0 2h0m-1-3h0m0 3h0m-1 0h0m-1-3h0m0 4h0m-2 1h0m0-5h0m0 4h0m0-3h0m-3-1h0m0 1h0m0 2h0m-1 0h0m0 1h0m-2-2h0m0 2h0m-2 1h0m0-5h0m0 4h0m-3-3h0m0 2h0m-2 1h0m-1 1h0m0-5h0m-1 5h0m0-1h0m-1-1h0m-1-1h0m-2 3h0m0-1h0m0-3h0m-1 0h0m0 4h0m-4 0h0m0-4h0m-1 0h0m0-1h0m-3 5h0m0-3h0m-1 3h0m0-3h0m-5-1h0m-1 0h0m-1 0h0m0-1h0m0 2h0m-1 0h0m-1-1h0m-1 1h0m-1-1h0m0 2h0m0 1h0m-2-3h0m-4-1h0m-1 3h0m0 1h0m-2-2h0m0-1h0m-1 2h0m-1 2h0m0-3h0m-1 1h0m0 2h0m-1-5h0m-1 5h0m0-5h0m-2 3h0m-4-3h0m-1 2h0m-1 3h0m0-5h0m-1 3h0m-1 1h0m0-3h0m-1 1h0m-2 2h0m-2 1h0m-1 2h0m7 2h0m1-3h0m2 3h0m0 2h0m1 0h0m1-2h0m2 1h0m0-1h0m1 0h0m2-3h0m1 4h0m0 1h0m3-3h0m1 3h0m1-3h0m1-2h0m0 3h0m1-3h0m0 2h0m3-2h0m1 0h0m3 3h0m3-1h0m2 0h0m1-1h0m0 2h0m2 0h0m2 2h0m1 0h0m4-5h0m1 0h0m2 3h0m0-3h0m1 4h0m0 1h0m1-5h0m0 2h0m0 1h0m1-3h0m1 4h0m1-1h0m2-2h0m1-1h0m1 3h0m0 2h0m2 0h0m0-3h0m2 0h0m0 2h0m1 1h0m1-2h0m1-2h0m0 2h0m2 2h0m0-5h0m0 2h0m1 0h0m0 2h0m1 1h0m0-5h0m0 4h0m2-4h0m0 2h0m1 2h0m0-1h0m1 0h0m3-3h0m2 3h0m1-2h0m0 2h0m0-3h0m0 2h0m1 0h0m0 2h0m2-4h0m1 2h0m0 2h0m0-3h0m1 4h0m1-2h0m1 0h0m0-3h0m-9 7h0m-3 4h0m-1-5h0m-2 3h0m-1-3h0m-1 2h0m0 2h0m0-3h0m0 2h0m-1-3h0m0 1h0m-1 1h0m0-1h0m-3 0h0m-1 0h0m0 2h0m-2-3h0m0 2h0m0-1h0m0 2h0m-1 2h0m-1-4h0m-1 0h0m-1 2h0m-1-1h0m-1-2h0m-1 5h0m-3-2h0m-5 2h0m-1-3h0m-1 1h0m-2 0h0m-3 1h0m-5-4h0m0 2h0m-4 0h0m-1 1h0m-1 2h0m-3-3h0m-1-1h0m0-1h0m-1 2h0m-3 0h0m-2 0h0m0 3h0m-1-4h0m-1 4h0m-2-4h0m-1 3h0m0-3h0m-2 0h0m4 5h0m3 3h0m2-2h0m0-1h0m0 2h0m1-2h0m0 4h0m2-2h0m1 1h0m1-1h0m1 2h0m1 0h0m1-3h0m3 2h0m2-3h0m0 4h0m1-3h0m0 4h0m1-5h0m1 0h0m0 2h0m3 3h0m1-3h0m3 0h0m2-1h0m0 4h0m3-4h0m2 2h0m0 2h0m0-1h0m1 0h0m2 1h0m2-3h0m2 2h0m3 0h0m1-1h0m3-2h0m-2 5h0m-7 0h0m-1 5h0m-3-2h0m-3-3h0m-2 2h0m-2 2h0m-1 1h0m0-1h0m0-1h0m-1-1h0m0-1h0m0 4h0m-1-1h0m0-3h0m-1 3h0m-1-3h0m-2 4h0m-1-4h0m-1 4h0m0-2h0m-1-1h0m0-1h0m-1 3h0m0-1h0m-1 0h0m0-1h0m-1-1h0m0 2h0m-3 2h0m-3-1h0m-2-2h0m-1 3h0m8 1h0m1 0h0m0 2h0m0 1h0m3 1h0m3-3h0m2-1h0m1 2h0m0-1h0m1 2h0" transform="scale(.5)" fill="none" stroke="#3b528b" stroke-width="2.3" stroke-linecap="round" opacity="0.92"/>
<path d="M668 188h0m-8 3h0m-1-1h0m-2-2h0m-6 1h0m-10 2h0m-1 0h0m-3 0h0m-3 0h0m-2-1h0m-5 1h0m-2 0h0m-12-1h0m-4 1h0m-4-2h0m-3 2h0m-9 0h0m-5-1h0m-59 7h0m2-1h0m1-2h0m1 2h0m1 1h0m2-1h0m4 1h0m1-4h0m0 3h0m3 1h0m9-1h0m1 1h0m0-1h0m1 0h0m1-1h0m0 2h0m2 0h0m0-3h0m1 2h0m2-3h0m0 2h0m3 2h0m2-2h0m1 0h0m2 2h0m0-1h0m3 0h0m1-3h0m1 4h0m2-4h0m0 4h0m1-4h0m1 3h0m2-4h0m0 2h0m1-1h0m4 1h0m0 2h0m3-3h0m0 2h0m0-3h0m1 3h0m0 2h0m0-1h0m2-3h0m2 3h0m1-2h0m0 2h0m2-1h0m2 2h0m0-3h0m1 1h0m0 2h0m0-5h0m0 2h0m1-1h0m1 3h0m1-3h0m1 4h0m1-5h0m1 0h0m0 4h0m1 1h0m1-2h0m0-3h0m0 2h0m1-1h0m0 2h0m0 1h0m1-1h0m0-3h0m0 2h0m2 1h0m0 2h0m0-3h0m1 1h0m0 1h0m4-3h0m0 2h0m2-2h0m0 4h0m2-2h0m0 2h0m0-5h0m0 4h0m1-1h0m2-1h0m0 2h0m0-1h0m1 2h0m2-3h0m0-1h0m1 0h0m0 4h0m1-4h0m1 4h0m0-3h0m1 1h0m2-3h0m0 1h0m1 1h0m0 2h0m0-3h0m1 3h0m1 1h0m1-2h0m2-1h0m0 1h0m1-2h0m0 2h0m0 2h0m1 0h0m0-5h0m2 3h0m0 1h0m1-1h0m0 1h0m2-4h0m0 2h0m0 2h0m1-3h0m0 2h0m1 0h0m1-1h0m1 1h0m1-2h0m0 2h0m1 2h0m2 0h0m0-3h0m0 2h0m1-4h0m0 1h0m2 2h0m1 1h0m0-1h0m1-2h0m0 2h0m0 2h0m0-3h0m0 2h0m1-4h0m0 2h0m0 3h0m1 0h0m0-5h0m0 2h0m1-1h0m1 1h0m0 2h0m2-1h0m0 2h0m0-1h0m2-2h0m3 0h0m1 2h0m2-1h0m0 2h0m0-5h0m0 4h0m2 0h0m0 1h0m1 0h0m1-1h0m0-1h0m1 2h0m2 0h0m4 0h0m20 4h0m-3 0h0m-2 2h0m-1-4h0m0 1h0m-1 3h0m-1-3h0m-2 0h0m-1-1h0m0 2h0m-1 0h0m0 1h0m-1-4h0m0 3h0m-1-2h0m-2 1h0m-1 0h0m-1 3h0m-1-1h0m-1-3h0m-3 1h0m0-1h0m0 4h0m-1-1h0m-1 0h0m-2 1h0m-2-3h0m0 2h0m0-1h0m-2 1h0m0-4h0m-1 4h0m-2-1h0m-1 2h0m-1-5h0m-1 0h0m-1 1h0m-1 3h0m-1-2h0m-1 2h0m-1-4h0m-1 4h0m-1 1h0m0-3h0m-1 2h0m0-3h0m0 1h0m-1-2h0m-2 4h0m-1 0h0m-1-1h0m0 2h0m0-3h0m-1 3h0m-1-2h0m0-3h0m0 2h0m-2 1h0m0 1h0m-1-3h0m0 4h0m0-5h0m-1 2h0m-1-2h0m0 2h0m0 2h0m-1-3h0m-1-1h0m0 2h0m-1 2h0m0-1h0m-1-3h0m0 2h0m-1-1h0m0 1h0m-2-2h0m-1 1h0m-1 1h0m0 2h0m0-3h0m0 2h0m-1 0h0m-1-1h0m0 1h0m-1 0h0m0 2h0m0-3h0m0 2h0m-1-1h0m0 2h0m0-5h0m-2 2h0m0 3h0m-1-3h0m0 1h0m0 2h0m-1-5h0m-1 1h0m0 2h0m0-1h0m-1 3h0m-1 0h0m-1-1h0m0-3h0m0 2h0m-1-2h0m0 2h0m0-1h0m-2 1h0m0 2h0m-2-2h0m0-3h0m-1 1h0m0 1h0m0 2h0m-1-3h0m0 4h0m-1-4h0m-1 2h0m0 2h0m-1-3h0m-1-1h0m0 4h0m-1-4h0m0 3h0m-1-3h0m-3 2h0m0 2h0m-1-3h0m0 2h0m0-3h0m-1 3h0m0-3h0m0 2h0m-1 0h0m0 2h0m0-4h0m-1 0h0m0 2h0m0 2h0m-1-4h0m0 2h0m0 1h0m-1 1h0m-1-1h0m-2-3h0m-1-1h0m-2 0h0m0 4h0m0-1h0m0 2h0m-1-1h0m-1 0h0m-1-3h0m-1 1h0m0 2h0m0-3h0m0 2h0m-2-2h0m-1 0h0m-1 1h0m0 2h0m-2 1h0m-1-3h0m0 2h0m0-3h0m-1 0h0m0-1h0m0 2h0m-2 1h0m0-3h0m0 2h0m-1 0h0m0 2h0m0 1h0m-1-1h0m0-1h0m-1 1h0m0 1h0m-3-4h0m-1-1h0m-1 4h0m-1-1h0m-1-1h0m0 2h0m0-3h0m0-1h0m-1 4h0m-1-1h0m-1-2h0m0-1h0m0 4h0m-1 0h0m0-1h0m-1 2h0m0-3h0m0-1h0m-1 3h0m-1 0h0m0 1h0m-1-5h0m0 1h0m0 4h0m-2 0h0m0-4h0m-1 1h0m0 2h0m-1-2h0m0-1h0m-1 0h0m-1 4h0m-1-1h0m0-2h0m-1-1h0m0-1h0m-3 1h0m-1 0h0m-1 1h0m0 1h0m-2-3h0m0 2h0m0 2h0m0-3h0m0 2h0m-1-2h0m-1 2h0m0 2h0m-1 0h0m0-5h0m0 3h0m-1 2h0m0-1h0m-1-4h0m0 2h0m0 1h0m-2-1h0m0 2h0m-4 1h0m0-5h0m-2 4h0m-1-1h0m0 2h0m-1-4h0m-2-1h0m-3 0h0m-1 2h0m0 3h0m-1-2h0m0 2h0m-1-1h0m-1-2h0m-1 3h0m-2-1h0m-9 6h0m2-3h0m0 4h0m1 0h0m2-1h0m0 1h0m1-5h0m2 0h0m1 1h0m0-1h0m1 5h0m0-3h0m1-1h0m1 2h0m0-1h0m1-2h0m0 2h0m0-1h0m1-1h0m1 0h0m0 4h0m1-2h0m0-1h0m0 2h0m0-3h0m1 1h0m0 2h0m0 2h0m0-1h0m1-4h0m2 2h0m0-1h0m0 4h0m1-1h0m0-1h0m0-1h0m2-2h0m1 2h0m1 0h0m0 2h0m0-1h0m1 2h0m0-5h0m2 3h0m0-1h0m1-2h0m0 2h0m0 3h0m2-3h0m1-2h0m1 0h0m2 1h0m0 4h0m1-5h0m1 4h0m0-2h0m2 1h0m1-2h0m0 2h0m0 2h0m0-1h0m3-1h0m0-1h0m0 2h0m1-2h0m1 3h0m0-5h0m2 1h0m0 3h0m1-2h0m0-1h0m0 2h0m1 1h0m1 1h0m1 0h0m0-5h0m0 2h0m1-1h0m0 2h0m0-3h0m2 1h0m1 4h0m1-4h0m1 1h0m0 2h0m0-3h0m1 2h0m1-1h0m0 2h0m1-4h0m1 5h0m0-3h0m1 0h0m1 2h0m0-3h0m0 2h0m1-2h0m1 2h0m0 2h0m0-3h0m1-2h0m0 2h0m2-2h0m1 5h0m1-1h0m1-2h0m0 2h0m1-1h0m1 0h0m0 2h0m0-1h0m1-1h0m0 2h0m0-5h0m0 4h0m0-3h0m1 3h0m1-4h0m0 2h0m1 3h0m0-5h0m1 0h0m1 1h0m1 4h0m0-3h0m1-1h0m1 4h0m1-4h0m2 4h0m3-4h0m0 4h0m0-5h0m1 5h0m0-1h0m0-3h0m1 4h0m1-3h0m1 3h0m0-5h0m1 0h0m0 1h0m1 4h0m0-3h0m0-1h0m1 2h0m0-1h0m0-1h0m1-1h0m0 2h0m1-1h0m0 4h0m2-4h0m0 2h0m1-3h0m1 5h0m0-3h0m2 2h0m0-3h0m3 2h0m0-1h0m1-2h0m1 1h0m1 4h0m1-5h0m0 1h0m1 4h0m0-5h0m1 4h0m1-2h0m1-1h0m0 2h0m1-3h0m0 2h0m2 1h0m1 0h0m0 2h0m1-3h0m0 2h0m1-3h0m1 4h0m0-5h0m1 3h0m2-1h0m2 2h0m3-4h0m0 2h0m1 1h0m1-1h0m0 3h0m1-2h0m1-3h0m0 1h0m0 2h0m1-1h0m1-1h0m0 2h0m1 2h0m1 0h0m0-5h0m0 1h0m1 1h0m1 3h0m1-3h0m0 1h0m3 0h0m2-3h0m1 3h0m1-1h0m0 3h0m1-3h0m0-1h0m1 4h0m2 0h0m1-2h0m1-3h0m0 3h0m1-1h0m1 3h0m1-3h0m0 2h0m0-1h0m1-3h0m0 2h0m0-1h0m1 4h0m0-3h0m0-1h0m2 0h0m0 3h0m1 1h0m1-1h0m0-3h0m3 0h0m1-1h0m1 0h0m0 1h0m0 2h0m0 2h0m1-1h0m1 0h0m0-4h0m2 5h0m1 0h0m1 0h0m0-3h0m2-2h0m0 2h0m2 3h0m2-2h0m1-1h0m0-1h0m1 1h0m0 3h0m1-5h0m0 5h0m1 0h0m1-3h0m1-1h0m0 1h0m1 2h0m0-1h0m0-3h0m1 5h0m0-1h0m1 0h0m1 1h0m0-5h0m1 4h0m0-3h0m0 2h0m1-1h0m0 2h0m0-1h0m0 2h0m1-2h0m2-2h0m0 4h0m1 0h0m1 0h0m2 0h0m1-3h0m1 3h0m0-1h0m18 6h0m-4 1h0m-1 0h0m-4 0h0m-1-2h0m0-3h0m-1 1h0m0 2h0m0 2h0m-1-3h0m0 2h0m-1 0h0m-1-1h0m0 1h0m-1-2h0m-2 3h0m-1-3h0m-1 3h0m-1-2h0m-1-1h0m0-1h0m-1 2h0m-1-3h0m0 4h0m-1-1h0m-2-1h0m-1 1h0m0-1h0m0 2h0m-1-1h0m0 2h0m0-5h0m0 4h0m-1 1h0m-1-3h0m0 1h0m0 2h0m-1-4h0m0 4h0m-1-5h0m0 4h0m-2-2h0m0 2h0m0-3h0m-1 3h0m-1 0h0m0-3h0m-1 1h0m0-1h0m-1 4h0m0-3h0m0-1h0m-1 3h0m-1-4h0m-1 3h0m0-3h0m-1 4h0m-1-2h0m-1 0h0m-2-1h0m0 1h0m0 2h0m-2-2h0m-2-1h0m0 1h0m-1-2h0m-1 1h0m0 1h0m-1-1h0m0 1h0m-1 0h0m0 2h0m0 1h0m-1 0h0m0-1h0m0-3h0m-1 0h0m0 3h0m-1-4h0m-1 2h0m-1-1h0m0 4h0m0-5h0m0 4h0m-1-1h0m0-3h0m-1 4h0m-1-2h0m-1-1h0m0 4h0m-1-1h0m0-1h0m0 2h0m-1-2h0m-1-3h0m-1 1h0m0 2h0m0-1h0m-1 1h0m0 1h0m-1-3h0m0 2h0m-1-2h0m0 2h0m0-3h0m-1 0h0m0 4h0m-2-2h0m-1 0h0m-1-2h0m-1 5h0m-1-3h0m-1 0h0m-1 2h0m-1 0h0m0-1h0m-2-3h0m0 4h0m-2-1h0m0 2h0m-1-3h0m0-1h0m-1 2h0m-2 0h0m-1-3h0m0 2h0m-1 2h0m0-3h0m-1 2h0m-2-2h0m-1 1h0m0 3h0m-1-2h0m-1 1h0m-1-4h0m0 2h0m-2-2h0m-3 4h0m-1-4h0m0 2h0m-2 3h0m0-5h0m-1 2h0m-1 2h0m-2-2h0m0 3h0m-1-3h0m-1 2h0m0 1h0m-1-3h0m-1 2h0m-1-2h0m0 1h0m-1 2h0m0-4h0m0 2h0m-1-2h0m-1 1h0m-3 3h0m0-5h0m-1 3h0m0-1h0m-1 1h0m0-3h0m-1 2h0m-1-1h0m0-1h0m-1 3h0m0-3h0m-1 0h0m-1 1h0m0 1h0m-1 1h0m-2-1h0m0-2h0m-1 3h0m0-1h0m0 2h0m-1-2h0m-1-2h0m0 2h0m-1 3h0m0-3h0m-1 0h0m0 2h0m0-1h0m-1 0h0m-1 1h0m0 1h0m0-5h0m-1 4h0m0-1h0m0 2h0m0-3h0m-1-2h0m-1 5h0m0-5h0m0 4h0m-1-4h0m-1 0h0m-1 4h0m-1-3h0m0 4h0m-1-4h0m0-1h0m-1 3h0m-1-2h0m-1 0h0m-1 4h0m-1-3h0m0-1h0m-1 2h0m0-3h0m-1 3h0m-1-2h0m0-1h0m0 2h0m-1-2h0m-1 0h0m-1 2h0m0-2h0m-1 1h0m-2 2h0m0 2h0m-1-4h0m0-1h0m-1 1h0m0 3h0m-2-1h0m-1-1h0m0-1h0m-1 1h0m0-1h0m0-1h0m-1 2h0m0 2h0m0-4h0m-1 3h0m-1-3h0m0 1h0m0 2h0m-1 1h0m-1 1h0m0-3h0m-1 0h0m-2 1h0m-1 2h0m0-3h0m0-1h0m-2 4h0m-1-3h0m-1 0h0m-1 0h0m0 2h0m0-3h0m0 4h0m-1-2h0m-2 1h0m-2 0h0m-2-2h0m0 2h0m0-1h0m-1 1h0m0-4h0m-1 3h0m0-3h0m-1 2h0m0 2h0m-2-2h0m-2 1h0m0-3h0m0 2h0m-1-2h0m0 2h0m-2 0h0m-2-2h0m-1 2h0m0 2h0m0-3h0m-1-1h0m0 4h0m-1-2h0m-1 3h0m0-3h0m-2-2h0m0 2h0m-1-1h0m0-1h0m-1 0h0m0 3h0m-2 1h0m0 1h0m-1-5h0m0 4h0m-2 1h0m0-2h0m-1 2h0m0-5h0m-1 2h0m0 1h0m-1-2h0m0 2h0m0-3h0m0 2h0m0 2h0m-1-1h0m-1 0h0m0 2h0m0-5h0m0 2h0m-1 1h0m0-3h0m-1 5h0m0-1h0m0-3h0m-2 3h0m0-1h0m-7 6h0m1-1h0m2 1h0m1 1h0m1-1h0m1 2h0m1-4h0m1-1h0m0 2h0m1 1h0m1 0h0m1 1h0m0-3h0m0 4h0m1-3h0m0 2h0m1-3h0m0 4h0m0-5h0m1 5h0m1-5h0m1 5h0m0-5h0m0 2h0m2 2h0m1-2h0m0 2h0m1-3h0m0 2h0m1 0h0m1 2h0m0-1h0m1-1h0m0 2h0m0-5h0m1 2h0m0-1h0m0 2h0m0 2h0m1 0h0m0-3h0m1 1h0m1-1h0m1 0h0m0 2h0m1-2h0m0 2h0m1-3h0m0 2h0m0 2h0m0-5h0m0 2h0m1-2h0m0 2h0m0 2h0m1-4h0m2 0h0m1 1h0m0 4h0m1 0h0m1-4h0m0 2h0m1 0h0m0 2h0m1-5h0m2 5h0m1-2h0m2-3h0m1 1h0m0 4h0m1-5h0m1 2h0m0-1h0m1 0h0m0 4h0m1 0h0m0-3h0m0 2h0m2 0h0m1-4h0m1 0h0m0 4h0m1-4h0m0 1h0m0 2h0m1 2h0m1-2h0m0 2h0m0-5h0m0 1h0m1 4h0m0-5h0m1 2h0m2 0h0m1 1h0m1 2h0m1 0h0m0-5h0m0 4h0m1-4h0m0 1h0m1 2h0m0 2h0m1-3h0m1-2h0m2 1h0m1 2h0m1 2h0m0-1h0m1 1h0m4 0h0m0-5h0m0 4h0m1-2h0m1-1h0m0 4h0m2-4h0m0 3h0m1-3h0m1 2h0m1 0h0m0 1h0m0-3h0m1 3h0m0 1h0m1-4h0m0 2h0m0 2h0m0-5h0m1 0h0m0 3h0m2 0h0m2 1h0m2-1h0m0-2h0m1 2h0m3-3h0m1 3h0m0 2h0m0-3h0m1 1h0m1-3h0m4 0h0m0 2h0m0 2h0m2-2h0m0 2h0m1-3h0m1 1h0m1-2h0m0 2h0m1-2h0m0 1h0m1 2h0m1-1h0m1-1h0m1 2h0m1-3h0m0 3h0m1-3h0m1 2h0m2 0h0m0-1h0m0 2h0m0 2h0m1-1h0m2-2h0m2 3h0m3 0h0m0-1h0m1-2h0m2-2h0m1 4h0m1-3h0m1 4h0m2-5h0m0 2h0m1 0h0m2-2h0m1 5h0m0-5h0m0 2h0m0 2h0m0-1h0m2-2h0m0 3h0m1 1h0m0-1h0m0-1h0m3-3h0m1 0h0m0 2h0m1-1h0m2 2h0m1 1h0m0 1h0m1 0h0m1 0h0m1-3h0m2-1h0m1 4h0m1-1h0m0-1h0m1-1h0m0 2h0m0-3h0m0 2h0m1-2h0m1 3h0m0-3h0m0 2h0m0 2h0m2-2h0m1-2h0m1-1h0m1 2h0m1-1h0m1 1h0m0 1h0m1-3h0m0 2h0m0 1h0m1 2h0m1-3h0m0 2h0m0 1h0m1 0h0m1-5h0m0 2h0m0 3h0m2-1h0m0-1h0m0 2h0m1-4h0m0 2h0m1-3h0m0 2h0m0-1h0m0 2h0m1 1h0m1 0h0m0-1h0m1 2h0m1-2h0m1 2h0m1-5h0m0 3h0m1-1h0m0 2h0m1 0h0m1-3h0m0 2h0m1 1h0m0-1h0m0 2h0m1-4h0m1 1h0m0 2h0m0-3h0m0 2h0m0-3h0m2 1h0m1 3h0m0-3h0m0 2h0m0 2h0m1-2h0m0 2h0m0-5h0m0 2h0m1-1h0m0-1h0m1 2h0m0 2h0m0-1h0m1 1h0m0-3h0m0 2h0m0 2h0m1 0h0m0-5h0m1 4h0m0 1h0m1-3h0m1 2h0m0-1h0m0 2h0m1-1h0m0-1h0m1 2h0m1-5h0m0 3h0m0 2h0m1-5h0m1 5h0m1 0h0m1-5h0m0 4h0m0-3h0m0 2h0m1 1h0m0-3h0m0 2h0m1-3h0m1 4h0m1-3h0m1 4h0m0-3h0m0 2h0m1-2h0m1-2h0m0 2h0m1-1h0m0 2h0m0 2h0m0-5h0m1 2h0m0 2h0m0 1h0m2-2h0m0 2h0m0-1h0m0-3h0m1 3h0m1-1h0m1 0h0m0-1h0m0 2h0m1-3h0m0-1h0m1 4h0m0-2h0m1 1h0m0 2h0m0-5h0m1 1h0m0 2h0m1-1h0m0-1h0m0 4h0m1-2h0m2 1h0m0 1h0m0-5h0m0 2h0m1 3h0m1-4h0m1 1h0m0 3h0m1 0h0m0-2h0m1 2h0m3-1h0m1 1h0m1 0h0m2 0h0m8 6h0m-3-1h0m-2-1h0m-1 2h0m-2-2h0m-1 2h0m-3-4h0m0 4h0m-1-1h0m-1 1h0m0-3h0m0 2h0m-1-3h0m-1 4h0m0-3h0m-1 3h0m0-1h0m-1-1h0m0 2h0m0-5h0m0 2h0m0-1h0m-1 3h0m0-3h0m-1-1h0m0 4h0m-1-3h0m0 1h0m0 2h0m-1 0h0m0 1h0m0-5h0m0 2h0m-1 1h0m0-3h0m0 4h0m0-3h0m-1-1h0m0 2h0m-1 3h0m0-5h0m0 2h0m0-1h0m-1 4h0m0-5h0m0 4h0m0-3h0m-1 2h0m0-3h0m0 1h0m-1 2h0m-1-3h0m0 4h0m-1-3h0m0 2h0m0 2h0m-1-5h0m0 4h0m-1 1h0m0-5h0m-1 3h0m0-3h0m0 2h0m0 2h0m-1-4h0m0 2h0m0-1h0m0 2h0m0 2h0m-1-2h0m0-3h0m0 4h0m-1 1h0m0-3h0m0 2h0m0-1h0m-1-2h0m0 4h0m0-5h0m-1 3h0m0 2h0m-1 0h0m0-3h0m0 2h0m-1 1h0m0-5h0m0 2h0m0 2h0m0-3h0m0 2h0m-1 2h0m0-5h0m-1 5h0m0-1h0m-1 1h0m-1-1h0m-1-3h0m-1 4h0m-1-3h0m0-1h0m-1 3h0m0-3h0m-1-1h0m0 5h0m-1-4h0m-1 0h0m0 4h0m0-3h0m-1-1h0m0-1h0m-1 3h0m0-3h0m0 2h0m0-1h0m-1-1h0m-1 3h0m0-3h0m0 2h0m-1-1h0m0 2h0m0 2h0m-1-2h0m0-1h0m0-1h0m-1 0h0m0 2h0m0-3h0m-1 5h0m0-3h0m0-1h0m-1 2h0m0 1h0m-1-3h0m0 4h0m0-5h0m0 2h0m-1-2h0m-1 5h0m0-5h0m0 2h0m0 2h0m-1-4h0m0 4h0m-1-2h0m-1 0h0m-1 3h0m-1-1h0m0 1h0m-1-3h0m-1 3h0m-1-1h0m0-3h0m0 1h0m-1 3h0m0-5h0m0 4h0m-1 1h0m-1-5h0m0 4h0m-1-3h0m0 4h0m-1-5h0m-1 1h0m0 2h0m0 2h0m0-5h0m-1 1h0m0 2h0m0 2h0m0-5h0m0 4h0m-1-4h0m0 4h0m0 1h0m-1 0h0m0-5h0m0 2h0m-1 2h0m-1-3h0m0 4h0m0-3h0m-1 3h0m-1-4h0m0 4h0m0-3h0m-1-2h0m-1 1h0m0 2h0m0-1h0m-1-1h0m-1 0h0m-1 4h0m0-4h0m-3 0h0m0 1h0m-1 1h0m-2 2h0m0-3h0m-1 2h0m-1-3h0m0 4h0m0-3h0m0 2h0m-1 0h0m0-3h0m-1 0h0m0 2h0m0 2h0m-1-4h0m0 2h0m0-3h0m0 4h0m-1-1h0m0-1h0m0 2h0m-1-3h0m0 4h0m-1 0h0m-1-3h0m0 2h0m0 1h0m-3-4h0m0 2h0m-1-2h0m0 3h0m-2-3h0m-1 3h0m0-1h0m0-3h0m-3 3h0m0-3h0m0 2h0m-2-1h0m0 4h0m0-1h0m-3-2h0m-1 1h0m-1 2h0m-2-5h0m0 4h0m-3 1h0m-1 0h0m-1-1h0m0-1h0m-1 0h0m0 1h0m-1-3h0m0 4h0m-1-2h0m0 2h0m-1-1h0m-1-4h0m0 2h0m-1 1h0m0 2h0m-1-5h0m-1 1h0m0 4h0m-1-5h0m-1 2h0m-2-1h0m0 1h0m-3 1h0m-1 2h0m0-5h0m-2 0h0m-4 1h0m-3 1h0m0 3h0m-1-2h0m0-1h0m-2 1h0m0-1h0m-1 0h0m-1 1h0m-1-2h0m0 2h0m0-1h0m0 2h0m-1-2h0m0 1h0m-1-1h0m-1 2h0m-1 1h0m-2-2h0m-1-2h0m-1 0h0m0 4h0m-1-4h0m-1 3h0m0-3h0m0 4h0m-1-4h0m0 2h0m-1-1h0m0 2h0m-1 0h0m0 1h0m-1-4h0m0 4h0m0-3h0m-1 1h0m0-1h0m0 2h0m-1-3h0m0 4h0m0-3h0m-1 1h0m0 2h0m-1-5h0m-1 1h0m-2 3h0m-1 0h0m0 1h0m-2-3h0m-1-1h0m0 4h0m0-3h0m0 2h0m-1 0h0m-1-4h0m-1 2h0m0-1h0m-1 1h0m0 2h0m-1-3h0m0 4h0m-1-2h0m0-3h0m-2 5h0m-1-2h0m0 2h0m-1-1h0m0-3h0m-1 4h0m-1-5h0m0 1h0m0 2h0m0 2h0m-1-3h0m-1 0h0m0 2h0m0 1h0m-1-1h0m0-4h0m0 2h0m-1 1h0m-1-1h0m0 2h0m0-1h0m-1-1h0m-1-1h0m0 2h0m0 2h0m-1-2h0m-1-2h0m0 2h0m0-3h0m-1 2h0m0 2h0m-2 1h0m-1-1h0m0-1h0m-2-2h0m-1 0h0m-3-1h0m0 5h0m-2 0h0m-3-2h0m0-1h0m-2 0h0m-1 1h0m0-3h0m0 4h0m-1 0h0m-3-3h0m-1 1h0m0-1h0m-1 3h0m-1-4h0m-1 0h0m0 2h0m0-1h0m0 2h0m0 2h0m-1-5h0m0 5h0m-1-3h0m-1 3h0m0-2h0m-1 0h0m0-1h0m-2 0h0m0-2h0m-1 0h0m0 3h0m-1-2h0m0 4h0m-1-5h0m0 2h0m-2-2h0m0 4h0m-3 0h0m-1-4h0m-1 0h0m0 2h0m0 2h0m-1 0h0m-2 0h0m-14 5h0m1 2h0m5 0h0m0-5h0m2 3h0m1 1h0m0-2h0m1 1h0m1-1h0m0 2h0m1 1h0m0-5h0m0 4h0m1-2h0m1 2h0m1 1h0m0-3h0m0 2h0m1-1h0m0 1h0m1 1h0m1-2h0m1-3h0m1 0h0m0 2h0m2 0h0m1 2h0m0-3h0m0 4h0m1-4h0m0 4h0m2-4h0m0 3h0m1-4h0m0 2h0m0-1h0m1-1h0m0 2h0m1-1h0m0 4h0m1-3h0m1 0h0m2 3h0m0-1h0m1 1h0m0-5h0m1 3h0m0-3h0m1 0h0m1 1h0m0-1h0m0 2h0m1 1h0m2 2h0m0-3h0m3-2h0m3 0h0m0 4h0m1-2h0m2 3h0m0-5h0m2 5h0m0-5h0m1 3h0m0-3h0m0 1h0m1-1h0m0 1h0m1 2h0m1 1h0m1-3h0m1 3h0m0-3h0m1 2h0m0 2h0m0-5h0m1 2h0m1-1h0m0-1h0m1 1h0m0 4h0m0-3h0m1 1h0m0 2h0m1-2h0m0 2h0m0-5h0m0 2h0m1 3h0m1-3h0m0 2h0m1-3h0m1 2h0m0 1h0m1-2h0m0 2h0m1-4h0m1 0h0m1 5h0m2-2h0m1 1h0m1-3h0m0 2h0m0 2h0m0-1h0m1-3h0m1 4h0m0-5h0m0 4h0m0-3h0m1-1h0m0 1h0m1 0h0m2 2h0m0-3h0m0 2h0m1-2h0m0 2h0m0-1h0m1-1h0m0 2h0m1 0h0m0-1h0m0-1h0m2 1h0m1 3h0m0-1h0m2 2h0m1-2h0m0-3h0m1 1h0m1 0h0m0 2h0m0 2h0m1-1h0m1-2h0m0-1h0m1 1h0m0 2h0m3 1h0m0-5h0m0 2h0m0-1h0m1 0h0m0 4h0m0-5h0m1 2h0m0-1h0m4 2h0m1-1h0m1 0h0m2-2h0m1 0h0m2 5h0m1-2h0m1 2h0m1-1h0m1-2h0m0 2h0m1 1h0m0-5h0m0 4h0m1 1h0m0-1h0m2 0h0m1-1h0m0 2h0m2-3h0m1 0h0m2 1h0m0 1h0m1-3h0m0 4h0m1-5h0m0 2h0m0-1h0m1 4h0m0-3h0m3 1h0m0 2h0m0-5h0m1 0h0m2 0h0m0 4h0m1-4h0m1 1h0m1 4h0m0-3h0m0 1h0m2 0h0m2 0h0m0 2h0m0-3h0m0 2h0m1-2h0m1 1h0m1 1h0m1-1h0m0 1h0m1-4h0m1 0h0m1 2h0m1-2h0m1 4h0m0 1h0m1-5h0m0 4h0m0-3h0m0 2h0m1 0h0m1-2h0m2 0h0m0 2h0m1-1h0m0-1h0m1 1h0m0 2h0m0-3h0m0 2h0m1-3h0m0 4h0m0-3h0m0 2h0m1-3h0m0 2h0m0 1h0m1-2h0m0 1h0m0 2h0m1-2h0m0-1h0m0 2h0m0 2h0m1-3h0m0 3h0m1-4h0m0 2h0m0-3h0m1 0h0m0 2h0m0 2h0m0-3h0m1 2h0m0 2h0m1-1h0m1 0h0m0-3h0m1 4h0m0-4h0m1 4h0m1-5h0m0 1h0m0 2h0m1-2h0m1 2h0m1 2h0m1-4h0m0 2h0m0-3h0m1 5h0m0-3h0m1 1h0m0 2h0m1-2h0m1-3h0m0 2h0m0 2h0m0 1h0m1-3h0m0 2h0m0-3h0m0 2h0m1-2h0m0 4h0m1-4h0m0 2h0m1-1h0m0 3h0m0-5h0m1 4h0m0-3h0m0 2h0m1 2h0m0-5h0m0 4h0m1-1h0m0 2h0m0-5h0m0 2h0m0 2h0m1-4h0m1 0h0m0 1h0m0 4h0m1-4h0m0 1h0m2 1h0m0 2h0m1-4h0m0 4h0m1-3h0m0-2h0m2 1h0m0 2h0m0 2h0m1-1h0m0-3h0m0 2h0m1 2h0m0-1h0m0-3h0m1 1h0m0 2h0m0-1h0m0 2h0m0-5h0m1 2h0m1-1h0m0 2h0m0-3h0m1 1h0m0 2h0m0 2h0m0-1h0m1-3h0m0 2h0m0 2h0m1-1h0m0-3h0m0 2h0m0-3h0m1 1h0m0 3h0m1-2h0m0 2h0m0-3h0m0 4h0m1-4h0m0 2h0m0-3h0m0 2h0m1-2h0m0 3h0m1 1h0m0-3h0m0 1h0m1-2h0m0 2h0m0 3h0m1-2h0m0 2h0m0-3h0m1 2h0m0 1h0m1-1h0m0-3h0m0 4h0m1-5h0m0 2h0m0-1h0m0 4h0m1-1h0m0 1h0m0-5h0m1 1h0m0 2h0m0-3h0m1 5h0m0-4h0m1 4h0m0-3h0m1-1h0m0 4h0m1-3h0m1-1h0m0 4h0m0-3h0m0 2h0m1 0h0m0-3h0m0 2h0m1-3h0m1 2h0m0 3h0m1-1h0m0-3h0m0 1h0m1 2h0m1-1h0m0-3h0m1 1h0m0 2h0m0 2h0m0-5h0m1 4h0m0-1h0m1-2h0m0 4h0m0-5h0m0 2h0m0 2h0m1-3h0m0 4h0m0-5h0m1 3h0m0-1h0m1 2h0m0-3h0m0 2h0m0-3h0m0 2h0m1 2h0m0-3h0m0 2h0m0-3h0m0 2h0m1 2h0m0-1h0m0 2h0m0-3h0m1 0h0m0 1h0m0-3h0m1 1h0m0 4h0m1-5h0m0 4h0m0-3h0m0 2h0m0 2h0m1-4h0m0 2h0m1 1h0m0-1h0m0-1h0m1-1h0m0-1h0m0 4h0m1-4h0m0 2h0m0-1h0m1 3h0m1 0h0m0 1h0m1-4h0m1 0h0m0 2h0m0 2h0m0-1h0m1-3h0m0 4h0m0-5h0m0 4h0m1-3h0m0 2h0m0-1h0m1-1h0m2 0h0m0-1h0m1 4h0m0 1h0m0-5h0m1 0h0m2 4h0m0-2h0m1-1h0m0 1h0m1 2h0m0-1h0m0 2h0m1 0h0m0-5h0m0 4h0m1-1h0m0 2h0m1-4h0m0-1h0m0 2h0m1 2h0m0 1h0m0-3h0m1-1h0m0-1h0m0 2h0m1 0h0m0 2h0m1 1h0m1-1h0m0-3h0m0 1h0m2 3h0m0-5h0m0 2h0m1 3h0m3-2h0m0-1h0m4 1h0m1 1h0m1-1h0m6 8h0m-1-2h0m-1 2h0m0-3h0m-1 1h0m0 2h0m-1-2h0m0-1h0m-1 0h0m-5 0h0m0 1h0m-1 0h0m0 2h0m0-1h0m-1-2h0m-1 3h0m0-3h0m-1 0h0m0 2h0m0-1h0m-1 2h0m-1-5h0m0 3h0m-2 2h0m0-1h0m-1-4h0m0 1h0m-1 4h0m0-3h0m0 2h0m0-3h0m0 2h0m-1 0h0m0 2h0m0-5h0m-1 5h0m0-3h0m-1-1h0m0 2h0m0 2h0m0-5h0m-1 0h0m0 2h0m0 3h0m-1-5h0m0 4h0m0 1h0m-1-5h0m-1 0h0m0 2h0m-1 3h0m-2-5h0m-1 0h0m0 4h0m0-3h0m-1-1h0m0 4h0m-1 0h0m0-1h0m-1-3h0m0 2h0m-1 3h0m-1-3h0m0 2h0m0 1h0m-1 0h0m0-3h0m0-1h0m-1 1h0m-3-1h0m0 2h0m0 1h0m-1 0h0m0-3h0m0 2h0m0-3h0m-1 5h0m0-1h0m0-3h0m-1 3h0m0-1h0m0 2h0m-1-2h0m0 2h0m0-5h0m0 2h0m0-1h0m-1 2h0m0-3h0m0 4h0m-1-1h0m0-3h0m0 2h0m0 2h0m0-3h0m-1 3h0m-1-4h0m0 1h0m-1 1h0m0 2h0m0-3h0m0 2h0m0 2h0m-1-4h0m0 2h0m0 2h0m0-5h0m0 2h0m0 2h0m-1-3h0m-1 3h0m0-3h0m0 2h0m0 2h0m0-5h0m0 2h0m-1 3h0m0-3h0m0 2h0m-1-3h0m-1 2h0m0-3h0m-1 1h0m0 3h0m-1 0h0m0-3h0m0 2h0m-1 0h0m0-3h0m0 2h0m-1 1h0m0-1h0m0 2h0m-1-3h0m-1 2h0m0 2h0m0-5h0m0 2h0m0 2h0m-1-4h0m0 1h0m0 2h0m0 2h0m-2-1h0m0-1h0m-1 0h0m0 2h0m0-5h0m0 2h0m0 2h0m-1-1h0m0 1h0m-1 1h0m0-3h0m-1 0h0m0 2h0m0-3h0m-1 2h0m0-3h0m0 2h0m0 2h0m0-3h0m-1 2h0m0 2h0m0-3h0m0 2h0m-1 0h0m0-3h0m0 2h0m0-1h0m-1 0h0m0 2h0m0-3h0m-1-1h0m0 4h0m0-1h0m0 2h0m-1 0h0m0-3h0m0 2h0m0-3h0m-1 2h0m0 2h0m0-3h0m-1 1h0m0 2h0m0-5h0m0 2h0m0 2h0m-1 0h0m0-1h0m0 2h0m-1-1h0m0-3h0m0 2h0m-1 2h0m0-1h0m-1-1h0m0 2h0m0-5h0m0 2h0m-1-2h0m0 2h0m0-1h0m-1 4h0m0-5h0m0 4h0m0-3h0m-1-1h0m0 1h0m0 4h0m-2-2h0m0 1h0m0-3h0m-1 1h0m-1 3h0m0-4h0m-1 0h0m0 4h0m0-5h0m0 4h0m-1-1h0m0 2h0m0-5h0m0 2h0m0 2h0m0-3h0m-1 2h0m0-3h0m0 1h0m-1 4h0m0-5h0m0 4h0m-1-2h0m0 2h0m0-1h0m-1 2h0m0-3h0m0 2h0m-1-3h0m0 4h0m0-5h0m-1 0h0m0 2h0m0 2h0m-2-1h0m0-2h0m-1-1h0m0 2h0m0 1h0m0 2h0m-1-5h0m0 2h0m0 2h0m0-1h0m-1-2h0m0 1h0m0 2h0m-1-3h0m0 2h0m0-3h0m0 2h0m-1 1h0m0 2h0m0-1h0m0-3h0m-1 2h0m0-3h0m-1 4h0m-1 1h0m0-5h0m0 4h0m-1 0h0m-2-4h0m-1 1h0m-1 2h0m0-3h0m0 2h0m-1 3h0m0-1h0m-1-4h0m0 4h0m-1-1h0m0 2h0m-1-4h0m0-1h0m-1 1h0m0 4h0m0-5h0m0 4h0m-1-3h0m0 2h0m-1 1h0m0 1h0m-1-2h0m0-3h0m0 4h0m-1 1h0m0-4h0m-1 2h0m0-1h0m0 2h0m-1-1h0m0 2h0m0-3h0m0 2h0m-1-4h0m-1 1h0m0 2h0m0-1h0m-1 3h0m0-3h0m0 2h0m-1-1h0m0 1h0m-1-3h0m0 4h0m-1-3h0m-1 2h0m-1 1h0m0-1h0m-1 1h0m-1-4h0m-1 2h0m-1 2h0m-1-5h0m-1 1h0m0 4h0m-1-4h0m0-1h0m-1 3h0m0 2h0m0-3h0m-1 0h0m0-1h0m-1 4h0m-1 0h0m0-1h0m-2-3h0m0 2h0m0 2h0m-1 0h0m0-5h0m-1 0h0m0 4h0m-2 0h0m0-3h0m0 2h0m0 2h0m-1-5h0m0 2h0m-1 1h0m0 2h0m0-3h0m-1 2h0m0-3h0m-1 0h0m-1 0h0m0 1h0m-1-1h0m0 1h0m-1-2h0m0 4h0m-1 1h0m0-5h0m-1 1h0m0 2h0m-2 0h0m0-1h0m-1-1h0m0 2h0m0-3h0m-1 0h0m-1 5h0m-1-2h0m-1 1h0m0-4h0m-1 2h0m-1 3h0m-1-2h0m0 2h0m-1-3h0m0-1h0m0 2h0m-1 0h0m-1-1h0m-1 1h0m-1-2h0m0 1h0m-1 2h0m0-3h0m-1 3h0m0-1h0m-1 2h0m-1-3h0m-1-2h0m0 3h0m0 2h0m-1-4h0m-1-1h0m-1 3h0m0 2h0m-1-2h0m0 2h0m-1-1h0m-1-4h0m-1 3h0m0 2h0m0-1h0m-1 0h0m0-3h0m0-1h0m-1 1h0m0 2h0m0 2h0m-1 0h0m-2-5h0m-1 1h0m-1 3h0m-1 0h0m-1-3h0m0 2h0m0-1h0m-1 0h0m-1-1h0m0 4h0m0-5h0m-2 2h0m-1-2h0m0 4h0m-1-2h0m-1-1h0m0 4h0m-1-2h0m-2-2h0m0-1h0m0 2h0m-1-2h0m0 3h0m-1-1h0m0 2h0m0-1h0m0-3h0m-1 3h0m0-3h0m-1 4h0m0-1h0m0 2h0m-1-1h0m0 1h0m0-5h0m0 2h0m-1-1h0m0 2h0m0 2h0m-1-1h0m-1 0h0m0-3h0m-2 3h0m0-1h0m-1-2h0m0 1h0m0 2h0m-1 0h0m0-3h0m0 4h0m-3 0h0m-1-5h0m0 3h0m-1-2h0m-1 3h0m0-3h0m0-1h0m-1 2h0m0 2h0m-1-2h0m0 1h0m-1-3h0m-1 1h0m0 2h0m-1 0h0m0-3h0m-1 3h0m0 2h0m-1-4h0m-2 0h0m-1 1h0m0 2h0m-2 0h0m0-4h0m-1 0h0m-1 5h0m0-3h0m0 2h0m-1 1h0m-2-5h0m0 5h0m-1-3h0m0-1h0m0 2h0m-1-3h0m-1 3h0m0 2h0m-1-3h0m-2 0h0m0 2h0m-2-1h0m0 2h0m-1-5h0m0 2h0m-2 0h0m-1-1h0m-1 4h0m0-5h0m-1 4h0m0-3h0m0 2h0m-1-1h0m0-1h0m0 2h0m-1 1h0m0-1h0m-1-2h0m0 1h0m0 2h0m-1 1h0m-1 0h0m0-5h0m-1 4h0m0-1h0m0-3h0m-1 3h0m0-1h0m-3 1h0m0 2h0m-1-1h0m-1-2h0m0-1h0m0 2h0m-1 2h0m0-5h0m0 4h0m-1-3h0m0 2h0m-1-2h0m0 4h0m-1-2h0m0 2h0m-1-3h0m0 2h0m0-3h0m-1 1h0m0 2h0m0-1h0m-1 2h0m0-1h0m-1 1h0m0-5h0m-1 2h0m-1 1h0m0-3h0m-1 0h0m0 2h0m0 1h0m0 2h0m-2-3h0m-1 2h0m-2-3h0m-1 4h0m-2-4h0m-1 0h0m-1 3h0m-2 0h0m-5 1h0m-12 6h0m5-1h0m4-2h0m1 2h0m2-2h0m1 2h0m1-4h0m1 0h0m3 1h0m2 0h0m1 4h0m1-2h0m0 2h0m0-5h0m1 1h0m0 2h0m0-3h0m1 1h0m1-1h0m0 2h0m1 3h0m1-1h0m2-1h0m1 2h0m1-3h0m0 2h0m1-1h0m0-3h0m0 2h0m1-2h0m0 4h0m1-3h0m1 4h0m0-1h0m1-3h0m1 3h0m0-3h0m1-1h0m0 2h0m1 2h0m0-3h0m1 2h0m0-3h0m0 2h0m0-1h0m2 2h0m0 2h0m0-1h0m1 0h0m2-3h0m1 1h0m0 1h0m2-1h0m0 2h0m0-3h0m0 2h0m1 2h0m0-5h0m1 1h0m0 3h0m1-1h0m1-3h0m0 4h0m2-3h0m0 2h0m1-2h0m0 3h0m2 1h0m0-3h0m1 2h0m0-1h0m1 0h0m0 2h0m1 0h0m0-1h0m1 1h0m0-5h0m0 2h0m0 2h0m0-3h0m0 2h0m1 1h0m1-4h0m1 3h0m2-3h0m0 4h0m1-3h0m2 1h0m0-2h0m2 1h0m1 4h0m1-2h0m0 2h0m0-5h0m3 0h0m1 4h0m1-3h0m1 4h0m0-5h0m1 0h0m0 2h0m0-1h0m1 2h0m0-1h0m1-2h0m0 1h0m1 3h0m1 1h0m0-4h0m1-1h0m1 2h0m0 2h0m0-3h0m0 2h0m0 2h0m1 0h0m0-1h0m0-1h0m1-2h0m0-1h0m1 3h0m2 1h0m1-1h0m0-2h0m2 0h0m0-1h0m0 4h0m1-2h0m2-1h0m0 4h0m1-3h0m0-1h0m2 1h0m2 3h0m1-1h0m1 1h0m1-2h0m0-1h0m0 2h0m1-2h0m0 2h0m1 0h0m0-1h0m0 2h0m1 0h0m1 0h0m0-1h0m2-4h0m0 3h0m2-2h0m0 1h0m1-2h0m1 5h0m0-5h0m1 3h0m2 1h0m0-3h0m1 2h0m0-3h0m0 2h0m1-2h0m0 1h0m1 4h0m1-4h0m0 4h0m3-2h0m0-2h0m1 4h0m1 0h0m0-4h0m1 2h0m0 2h0m1-5h0m0 2h0m0 3h0m1-4h0m0 4h0m0-3h0m2 3h0m0-5h0m2 3h0m2-1h0m1 2h0m1-4h0m0 2h0m1 1h0m1 0h0m0-3h0m0 4h0m1-2h0m0-1h0m0 2h0m0 2h0m1-1h0m1-3h0m0 1h0m1 1h0m0-1h0m0-1h0m1-1h0m0 4h0m0 1h0m1-5h0m0 1h0m0 4h0m1 0h0m2-4h0m2 3h0m0-1h0m0 2h0m1-3h0m1-1h0m0-1h0m0 2h0m0 2h0m1 0h0m1-4h0m1 3h0m0-3h0m0 4h0m1-2h0m0 2h0m0-3h0m0-1h0m1 1h0m1-1h0m0 2h0m0-1h0m0 2h0m1 0h0m1-3h0m0 4h0m0-3h0m0 4h0m1-4h0m0 2h0m0 2h0m0-5h0m1 0h0m0 4h0m0-3h0m1 2h0m0 2h0m1-5h0m0 3h0m2-3h0m0 4h0m0-3h0m0 2h0m1-2h0m1 4h0m0-3h0m0-1h0m0 2h0m1 1h0m0-3h0m0 4h0m0-3h0m1 0h0m0 2h0m0-3h0m0 4h0m1-3h0m0 1h0m0-3h0m1 1h0m0 2h0m0 2h0m0-5h0m0 2h0m0 2h0m1-1h0m0-3h0m0 2h0m0 2h0m0-3h0m1 3h0m0-3h0m1-1h0m0 2h0m0 1h0m0 2h0m1 0h0m1-1h0m0 1h0m0-5h0m1 2h0m0-2h0m1 0h0m0 2h0m0 2h0m0 1h0m1-5h0m0 2h0m0-1h0m0 2h0m0 2h0m1-2h0m1 0h0m0-3h0m1 2h0m0-1h0m0 2h0m0-3h0m1 0h0m0 1h0m1 3h0m0-3h0m1 0h0m0 2h0m0 2h0m0-5h0m2 5h0m1-3h0m0 2h0m0-1h0m1-1h0m1 1h0m0 2h0m0-5h0m0 2h0m0 2h0m1-2h0m0 3h0m0-5h0m2 4h0m1 0h0m0-1h0m0 2h0m0-5h0m1 0h0m0 4h0m0-3h0m1 0h0m0 4h0m0-3h0m1 2h0m0-1h0m1-1h0m0 2h0m0-4h0m1 3h0m0 2h0m1-3h0m0-1h0m0 2h0m1 1h0m0-1h0m0 2h0m0-3h0m1 3h0m0-1h0m0-3h0m1 1h0m0 2h0m0-3h0m0 2h0m0 2h0m0-5h0m1 0h0m0 4h0m0-1h0m1 0h0m0-1h0m1-2h0m1 4h0m0-3h0m0 4h0m1-5h0m0 1h0m0 2h0m1-3h0m0 2h0m0 1h0m1 0h0m0 2h0m1-4h0m0 1h0m0 2h0m1-2h0m0-1h0m0 2h0m1 2h0m1-4h0m0 2h0m0 2h0m1-4h0m0 2h0m0 2h0m0-5h0m0 2h0m1 0h0m0-1h0m0 2h0m0-3h0m1 1h0m0-1h0m1 3h0m0 2h0m0-5h0m1 4h0m0 1h0m0-3h0m1 1h0m0 2h0m1-3h0m0 1h0m1-2h0m0 2h0m0-1h0m0 2h0m1 0h0m0-3h0m0 2h0m0 2h0m1-1h0m0-4h0m1 1h0m1 0h0m0 2h0m0 2h0m0-5h0m0 2h0m1-2h0m0 2h0m0-1h0m1 1h0m0 1h0m0-3h0m1 4h0m1-4h0m0 1h0m0 4h0m1-4h0m0-1h0m0 2h0m1 1h0m0 2h0m0-5h0m0 2h0m1 0h0m0-1h0m0 2h0m0 2h0m0-5h0m1 3h0m0-3h0m0 2h0m1 2h0m0-4h0m1 3h0m0-3h0m0 2h0m0 2h0m1-3h0m0 4h0m1-5h0m0 3h0m1 2h0m1-1h0m0-1h0m0-3h0m1 4h0m0-3h0m0 2h0m0-3h0m1 2h0m0 1h0m0 2h0m1-4h0m0 2h0m0-3h0m0 2h0m1-2h0m0 1h0m0 4h0m1-4h0m0 2h0m0-3h0m0 4h0m1-3h0m0 2h0m0-3h0m0 2h0m1 2h0m0-3h0m0 2h0m0-3h0m0 2h0m1-2h0m0 2h0m0 2h0m0-3h0m1 0h0m0 2h0m0 2h0m1-3h0m0 2h0m0-1h0m0-3h0m1 5h0m0-5h0m1 4h0m0-3h0m0-1h0m0 2h0m2 2h0m0-3h0m0 4h0m0-5h0m0 2h0m1-1h0m0 2h0m1 2h0m0-5h0m1 4h0m1-2h0m0 2h0m3-3h0m0 2h0m0 2h0m1 0h0m1-1h0m1-3h0m1 4h0m1-4h0m0 1h0m0 2h0m1-1h0m0-3h0m2 4h0m0-4h0m1 4h0m0-3h0m0 2h0m1-2h0m0 2h0m0-1h0m2-2h0m0 2h0m1-1h0m0 4h0m1-4h0m0 1h0m0 2h0m1 1h0m0-5h0m0 2h0m0-1h0m2-1h0m0 4h0m0-1h0m0 2h0m1-5h0m0 2h0m0 2h0m1 0h0m2-3h0m0 4h0m1-5h0m0 2h0m1-1h0m1 0h0m0 2h0m1-2h0m0 1h0m1 0h0m1-1h0m0 1h0m0 2h0m3-2h0m1 3h0m0-5h0m1 1h0m0 2h0m0-1h0m5 3h0m0-5h0m1 2h0m0 1h0m0-3h0m1 0h0m3 2h0m0-1h0m2-1h0m0 4h0m-8 2h0m-1 2h0m-3 0h0m-3 1h0m-1-3h0m-1 3h0m-2 2h0m-1 0h0m0-5h0m0 4h0m-1-2h0m0 3h0m-1-2h0m-1 2h0m0-4h0m-1 1h0m0-2h0m-1 0h0m-1 0h0m0 2h0m0 2h0m0-3h0m-1 4h0m0-1h0m0-1h0m-1 0h0m0 2h0m-1-4h0m0 4h0m0-1h0m-1-2h0m0 2h0m0-3h0m-2 3h0m0-1h0m-2-1h0m-1-1h0m-1-1h0m0 3h0m-1-1h0m0 2h0m0-3h0m0 2h0m-1-1h0m0 1h0m-1 2h0m0-5h0m-1 4h0m0-3h0m0 4h0m-1-4h0m0 2h0m-2-3h0m0 4h0m0-1h0m-2-3h0m-1 3h0m-1-2h0m-1 4h0m0-5h0m0 2h0m-1 3h0m0-1h0m-1-1h0m0-3h0m0 2h0m0 2h0m0-3h0m-1-1h0m-1 5h0m0-5h0m0 2h0m0 2h0m-1-4h0m-1 3h0m0-1h0m-1-2h0m0 4h0m-1-1h0m0 2h0m0-5h0m-1 5h0m-1-5h0m0 4h0m-1 0h0m0-3h0m0 2h0m-1-1h0m0 1h0m0 2h0m-1-2h0m0-1h0m0 2h0m-1-4h0m0 1h0m0 4h0m-1-2h0m0 2h0m0-3h0m-1 3h0m0-5h0m0 4h0m0-1h0m-2-3h0m0 2h0m0 1h0m0 2h0m-1-2h0m-1-1h0m0 2h0m-1-3h0m0 2h0m0 2h0m0-5h0m0 4h0m-1 1h0m0-5h0m0 2h0m0 2h0m-1-4h0m0 4h0m0-3h0m-1 4h0m0-5h0m0 2h0m0-1h0m-1-1h0m0 2h0m0 2h0m-1 1h0m0-5h0m0 2h0m-1-1h0m0 2h0m0 1h0m-1-1h0m0 2h0m0-1h0m0-3h0m-1 3h0m-1-1h0m0-3h0m0 2h0m0 2h0m-1-2h0m0-1h0m0 2h0m-1 2h0m0-3h0m0 2h0m-1 0h0m0 1h0m-1-4h0m0 2h0m0-1h0m-1-2h0m0 4h0m0-1h0m-1-2h0m0 4h0m0-5h0m0 2h0m-1 2h0m0-3h0m-1 2h0m0 2h0m0-5h0m0 2h0m-1-2h0m0 3h0m-1-2h0m0 2h0m0 1h0m-1-3h0m0 2h0m0-3h0m0 2h0m0 2h0m-1-2h0m0 2h0m0-1h0m0-3h0m-1 5h0m0-3h0m0-1h0m-1 2h0m0 2h0m0-1h0m-1-4h0m-1 5h0m-1-3h0m0-1h0m-1 0h0m0 2h0m0-1h0m0 2h0m-1-1h0m0 2h0m0-5h0m0 2h0m0 2h0m-1-2h0m-1 2h0m-1 1h0m0-5h0m0 2h0m0 2h0m0-3h0m-1 0h0m0 2h0m0-1h0m0 2h0m-1-3h0m0 2h0m-1 0h0m0 2h0m0-5h0m0 4h0m-1 1h0m0-3h0m0 2h0m0-3h0m-1 3h0m-1 0h0m0-3h0m0 4h0m-1-2h0m0-3h0m0 1h0m-1 2h0m0-3h0m0 4h0m0-3h0m-1 3h0m0-3h0m0 2h0m0 2h0m-1-4h0m0 4h0m0-5h0m0 2h0m-1-2h0m0 3h0m0 2h0m-1-4h0m0 4h0m0-3h0m-1 2h0m-1-3h0m0 4h0m0-3h0m0 2h0m-1-4h0m0 2h0m0 1h0m0 2h0m-1 0h0m0-5h0m0 2h0m-1-1h0m0 2h0m0-3h0m0 2h0m0 2h0m-1-3h0m0 4h0m0-5h0m-1 3h0m0 2h0m0-5h0m0 4h0m-1-3h0m-1 4h0m-1-4h0m0 2h0m0 2h0m0-5h0m0 4h0m-1-1h0m0 2h0m0-1h0m-1-1h0m0 2h0m0-5h0m-1 3h0m0 2h0m0-3h0m0 2h0m-1-4h0m0 4h0m-1-1h0m0-1h0m0-1h0m-1 3h0m-1-1h0m0-2h0m-1 1h0m0-1h0m0 2h0m-1-2h0m0 2h0m-1-2h0m0 2h0m0-1h0m0 2h0m-1-3h0m0 4h0m0-3h0m0 2h0m-1-2h0m0 2h0m0-3h0m0 4h0m-1 0h0m0-3h0m0 2h0m-1-4h0m0 2h0m0 3h0m-1-3h0m0 2h0m0-3h0m-1 0h0m0 3h0m-1-1h0m0-3h0m-1 3h0m0-3h0m-1 1h0m-1 2h0m0 2h0m0-5h0m0 4h0m-1 0h0m0-1h0m0-1h0m-1-1h0m0 2h0m-1-1h0m0-1h0m-1 0h0m0-1h0m0 2h0m-1 1h0m-1-2h0m0 4h0m0-5h0m-1 0h0m-1 2h0m-1-2h0m0 2h0m-1-1h0m0 2h0m-1 2h0m0-5h0m0 2h0m0 2h0m-1-3h0m0 2h0m0-3h0m-1 0h0m0 2h0m-1 0h0m-1 3h0m0-3h0m0 2h0m-1 1h0m0-1h0m-1-3h0m0-1h0m-1 1h0m0 2h0m0 2h0m0-5h0m-1 2h0m-1-2h0m-1 1h0m-1 3h0m-2-2h0m0 2h0m0 1h0m-1-2h0m0-3h0m0 2h0m-1-1h0m-1 3h0m-1-1h0m-1-3h0m-1 1h0m-1 1h0m-1-1h0m-1 1h0m0-1h0m0 2h0m0 2h0m-2-3h0m-1 3h0m-1-3h0m0 2h0m0-1h0m0-3h0m-1 0h0m-1 3h0m0-3h0m0 2h0m-1 3h0m0-5h0m-2 4h0m0-3h0m0 2h0m0 2h0m-1-3h0m0 2h0m0-1h0m0 2h0m-1-1h0m0-1h0m0-3h0m0 2h0m-1 2h0m-2-4h0m0 4h0m0-1h0m-1-1h0m-1-1h0m-1 0h0m0 2h0m0-3h0m-1 1h0m0-1h0m-4 5h0m-1-1h0m0 1h0m-1-2h0m-3 0h0m0-3h0m-1 3h0m0-3h0m-1 1h0m0-1h0m0 4h0m-1 0h0m0-3h0m0 2h0m0-3h0m-1 2h0m0 2h0m-1 0h0m0-2h0m-1-2h0m-1 2h0m0-1h0m0 2h0m0 2h0m-1-1h0m-2 1h0m-1-3h0m-1 2h0m-1 1h0m0-5h0m-1 2h0m-1-1h0m-1 4h0m0-5h0m-1 0h0m0 2h0m0-1h0m0 4h0m-2-4h0m0 2h0m-1 1h0m-1-4h0m-1 4h0m-1-3h0m0-1h0m0 2h0m0 2h0m-1-2h0m-1-1h0m0 2h0m0-1h0m-1 2h0m0 1h0m-2-3h0m0-1h0m-1 2h0m0 1h0m-1-3h0m0 4h0m0-3h0m-1-2h0m-1 1h0m-2 3h0m-1-3h0m-1 0h0m-1 3h0m0-1h0m-1-3h0m0 4h0m0-1h0m-1 1h0m0-1h0m0-3h0m-1 2h0m0-1h0m0 4h0m-1-3h0m0 2h0m-1-3h0m-2 2h0m0-3h0m0 2h0m-1 0h0m-1 2h0m-1 1h0m-1-1h0m0 1h0m-1-4h0m0 2h0m0 2h0m-1-2h0m0-3h0m-1 0h0m0 2h0m0 3h0m-1-4h0m0 4h0m0-3h0m-1 1h0m0 2h0m-1-3h0m-1 1h0m0 2h0m-1-2h0m-1 2h0m0-4h0m-1 2h0m-1-1h0m0 2h0m-1 0h0m0 1h0m-1-4h0m-1 3h0m0 1h0m-1-1h0m0 1h0m-2 0h0m0-3h0m-1 0h0m0 1h0m-2 2h0m0-3h0m-1 0h0m0 2h0m0-4h0m-1 1h0m-1 1h0m0 2h0m-1-4h0m0 4h0m0 1h0m-1-1h0m0-3h0m0 2h0m-3-1h0m-1 2h0m0-1h0m0 2h0m-1-4h0m0 2h0m0 2h0m-1-2h0m-1-2h0m0 1h0m0 2h0m-1-1h0m-1-3h0m0 3h0m-1-3h0m0 2h0m0 3h0m-1-4h0m0-1h0m-1 5h0m-1-5h0m0 1h0m-2 0h0m-1 0h0m0 2h0m0-1h0m-1 2h0m-1-4h0m-1 4h0m0-3h0m-1 3h0m-2 0h0m0-1h0m-1-1h0m-2-1h0m0 2h0m0 2h0m-1-2h0m0 1h0m-1 0h0m-1 1h0m-1 0h0m-1-4h0m-1 2h0m-3 1h0m-1-1h0m-2 1h0m-4 6h0m0 1h0m1-4h0m0 2h0m0 2h0m2-3h0m1-1h0m0 2h0m1-2h0m0 4h0m1-5h0m1 1h0m0 4h0m1-2h0m0-1h0m1 2h0m3-1h0m1 2h0m1-4h0m1 0h0m1 4h0m1-1h0m1 1h0m1-2h0m0 2h0m0-5h0m1 5h0m0-5h0m0 4h0m1-3h0m0 1h0m1 0h0m2 1h0m0-3h0m0 4h0m0-3h0m1 3h0m1-1h0m0-3h0m0 2h0m1 3h0m0-1h0m1 0h0m1 1h0m0-5h0m0 2h0m1 2h0m0-4h0m0 2h0m1 2h0m1-1h0m0 1h0m1-3h0m0 2h0m1-1h0m1 1h0m0 2h0m0-3h0m1 1h0m0 2h0m0-5h0m0 2h0m0 2h0m1-4h0m0 2h0m0 2h0m0-3h0m0 4h0m1-4h0m1 3h0m1-4h0m1 5h0m0-1h0m1-4h0m0 4h0m1-4h0m1 0h0m0 2h0m0-1h0m1 1h0m1-1h0m0 2h0m0 2h0m1-3h0m1 1h0m0-1h0m1 1h0m0-3h0m0 2h0m1 2h0m0-3h0m1 0h0m1 4h0m0-5h0m0 2h0m0-1h0m1 2h0m0-1h0m1 3h0m0-5h0m0 2h0m1-1h0m0-1h0m2 1h0m0 3h0m2-1h0m0 1h0m1 0h0m1-1h0m1-1h0m0 2h0m1-1h0m2-3h0m0 1h0m1 2h0m0-3h0m0 1h0m1-1h0m0 1h0m1-1h0m0 2h0m1 1h0m0 2h0m0-3h0m1 0h0m1 3h0m0-1h0m0-1h0m2-3h0m1 1h0m0-1h0m0 2h0m1-1h0m1 0h0m0 4h0m0-5h0m2 2h0m0 2h0m1 1h0m0-4h0m0 2h0m1 2h0m0-1h0m2-1h0m1 1h0m0-4h0m1 3h0m1 0h0m1-1h0m0-1h0m1 3h0m1-1h0m1 1h0m1-1h0m0-3h0m0 4h0m2 0h0m0-1h0m2-2h0m1 0h0m0-1h0m1 2h0m1-1h0m1-1h0m0 3h0m1-2h0m0 2h0m1-1h0m0-1h0m0 2h0m4-2h0m1-1h0m0 2h0m3 3h0m0-5h0m0 3h0m1-3h0m0 1h0m2 4h0m0-3h0m0 2h0m1 1h0m1-3h0m0 2h0m0 1h0m1-4h0m1 2h0m1-3h0m0 2h0m1 0h0m1 3h0m1-4h0m1 4h0m1 0h0m0-1h0m1-2h0m1 3h0m1 0h0m0-1h0m1-1h0m0 2h0m0-1h0m1-2h0m0 1h0m0 2h0m1 0h0m0-5h0m0 2h0m1 0h0m0 2h0m0 1h0m1-2h0m0 2h0m0-3h0m0 2h0m1-1h0m1 2h0m0-3h0m0 2h0m1 1h0m0-5h0m0 1h0m1 1h0m0 2h0m0-1h0m1 1h0m0-3h0m1 4h0m0-1h0m1 1h0m0-5h0m0 2h0m0 2h0m1-3h0m1 3h0m0-1h0m0 2h0m1 0h0m0-5h0m0 1h0m1 4h0m0-5h0m0 2h0m1-1h0m2-1h0m0 5h0m1 0h0m0-3h0m0 2h0m0-1h0m1 2h0m0-3h0m1 0h0m0-1h0m1 0h0m0 2h0m0 2h0m1-3h0m0-1h0m1 0h0m0 2h0m0-1h0m1 3h0m1 0h0m0-5h0m0 2h0m0 1h0m1-1h0m0 1h0m0 2h0m1 0h0m0-5h0m0 2h0m0 2h0m1-2h0m0 1h0m1-1h0m0 1h0m0-3h0m1 0h0m0 2h0m0-1h0m0 4h0m1-5h0m0 3h0m1-1h0m1 1h0m0-1h0m0 2h0m1-2h0m0-1h0m0 4h0m1-4h0m0 2h0m0-1h0m1 0h0m0-1h0m1 0h0m1 3h0m0-3h0m0 2h0m1 1h0m1-2h0m0 2h0m0-3h0m0 4h0m0-5h0m1 5h0m0-5h0m1 0h0m1 4h0m1 1h0m1-5h0m0 3h0m1 1h0m0-3h0m0 2h0m0 2h0m1-4h0m0 4h0m1-2h0m1 0h0m0 2h0m1-4h0m0 4h0m1 0h0m1-5h0m0 2h0m0-1h0m1 4h0m0-5h0m0 2h0m1 1h0m0 1h0m1-2h0m0-1h0m0 4h0m0-5h0m1 4h0m0-3h0m1-1h0m1 1h0m0 2h0m0 2h0m1-3h0m0 2h0m0-3h0m0 2h0m1 2h0m0-5h0m0 2h0m0 2h0m1 0h0m0-3h0m0 2h0m0-3h0m1 4h0m0-1h0m0 2h0m0-3h0m1-1h0m0 2h0m0 1h0m1 0h0m0-1h0m1-1h0m0 2h0m0-3h0m0 2h0m0 2h0m0-5h0m1 2h0m0 2h0m0-3h0m0 2h0m1 2h0m1-4h0m1-1h0m0 2h0m1 0h0m0 2h0m0-3h0m1 3h0m0-3h0m0-1h0m1 1h0m0 2h0m0 2h0m0-5h0m1 4h0m0-3h0m0 2h0m0 2h0m1-1h0m0 1h0m0-3h0m1 1h0m0 2h0m1-1h0m0-3h0m0 2h0m0 2h0m0-5h0m1 0h0m0 2h0m0 1h0m0 2h0m1-1h0m0-3h0m0 2h0m0 2h0m0-5h0m0 2h0m1 2h0m0-3h0m1 1h0m0-1h0m0 2h0m0-3h0m1 0h0m0 2h0m0 2h0m0 1h0m1-2h0m0-3h0m0 2h0m0 2h0m1 0h0m0-1h0m0 2h0m1 0h0m0-3h0m1 0h0m0-1h0m0 2h0m0 2h0m0-5h0m1 1h0m0 2h0m0-3h0m0 2h0m1-1h0m0 2h0m0-3h0m1 5h0m1-2h0m1 1h0m0 1h0m0-3h0m1 0h0m1 2h0m0-3h0m0 2h0m0-3h0m1 1h0m0 4h0m1 0h0m1-2h0m0 2h0m0-5h0m1 3h0m1 0h0m0-3h0m0 4h0m1 0h0m0-3h0m0-1h0m2 0h0m0 2h0m0 2h0m0-3h0m1 1h0m0 2h0m0-1h0m1-2h0m0 2h0m0 2h0m0-5h0m1 0h0m0 2h0m1 2h0m0-1h0m0-1h0m1-1h0m0 2h0m0 2h0m0-5h0m1 2h0m0 2h0m0-3h0m0 4h0m1-4h0m0-1h0m1 3h0m0-3h0m1 5h0m0-5h0m0 2h0m0 2h0m0-1h0m1 1h0m0-4h0m1 1h0m0 2h0m0-3h0m0 2h0m1-1h0m0 2h0m0 1h0m1 0h0m0-3h0m1 4h0m0-5h0m0 2h0m1 2h0m0-3h0m0-1h0m1 0h0m0 2h0m1-1h0m0 2h0m1 1h0m1 0h0m0-3h0m0 4h0m0-3h0m1 2h0m0-3h0m0 4h0m1-3h0m0 2h0m0-4h0m1 3h0m2-2h0m0 3h0m1 0h0m0-1h0m0-1h0m1 3h0m0-1h0m1-4h0m1 2h0m0-1h0m0 2h0m1 0h0m0-3h0m1 0h0m0 1h0m1 0h0m0 4h0m0-3h0m0 2h0m1 1h0m0-5h0m0 4h0m1-3h0m0 4h0m0-5h0m0 2h0m1-2h0m1 4h0m0-3h0m0 2h0m0 2h0m0-3h0m1-1h0m0 1h0m2-1h0m1 2h0m0 2h0m1-4h0m0-1h0m0 2h0m1-1h0m0 4h0m0-1h0m1-3h0m0 3h0m1-3h0m1 3h0m0-3h0m0 4h0m0-3h0m1 0h0m0 2h0m1-3h0m0 2h0m0-1h0m0 2h0m1-1h0m1-2h0m0 4h0m1-5h0m0 4h0m1-1h0m0-3h0m1 2h0m1 3h0m0-5h0m1 1h0m0 2h0m1-2h0m0 4h0m0-3h0m1 1h0m1 1h0m0-1h0m0 2h0m0-5h0m0 2h0m1 1h0m0-1h0m1 3h0m0-3h0m1-1h0m0 1h0m1-2h0m1 1h0m0-1h0m0 4h0m1-2h0m1 1h0m0-1h0m1 2h0m1-1h0m0 2h0m1-3h0m2 2h0m1-3h0m0-1h0m1 3h0m1 0h0m6-2h0m2-1h0m-13 7h0m-3 4h0m-2-5h0m-2 4h0m0-3h0m-1-1h0m0 2h0m-2-2h0m-1 1h0m0 2h0m-1-2h0m-1-1h0m-1 1h0m0 2h0m-1-1h0m-1 2h0m0-3h0m0 2h0m-1 2h0m0-5h0m0 2h0m-1 3h0m-1-3h0m-1-2h0m0 5h0m-1 0h0m0-5h0m-2 3h0m0 2h0m-1-1h0m-1 0h0m0-1h0m-1-1h0m0-1h0m-1-1h0m-1 1h0m-1 1h0m0 2h0m-1 1h0m0-1h0m-1-4h0m0 2h0m0 2h0m0-1h0m-1 2h0m-1-2h0m0 2h0m-1-1h0m-1-4h0m0 2h0m0-1h0m0 4h0m-1 0h0m0-5h0m0 2h0m-1 0h0m0 2h0m0-1h0m-1-2h0m0-1h0m-1 0h0m0 2h0m-1 3h0m0-3h0m-1 0h0m0-1h0m-1 3h0m-1 0h0m-1-1h0m0 2h0m-1-1h0m0-1h0m-3 1h0m-1-3h0m-1 2h0m0 2h0m-1 0h0m0-5h0m-2 0h0m-1 0h0m0 4h0m0-3h0m0 4h0m-1-5h0m0 3h0m-1-2h0m0 2h0m0-3h0m0 4h0m-1 1h0m0-3h0m-1 3h0m0-5h0m0 2h0m0 2h0m0-3h0m-1 0h0m0-1h0m-1 4h0m0-3h0m0 2h0m0 2h0m-1 0h0m0-5h0m0 4h0m0-3h0m0 2h0m-1 2h0m0-3h0m0 2h0m-1 1h0m-1-5h0m0 2h0m0 2h0m0-3h0m-1-1h0m0 2h0m0-1h0m-1 2h0m0 1h0m0-3h0m-1 1h0m0 2h0m0-1h0m-1-1h0m0 2h0m-1-3h0m0 2h0m-1-1h0m0 2h0m0-3h0m-1 1h0m0-1h0m-1 0h0m0 2h0m0-1h0m0 2h0m-1-1h0m0 2h0m-2-3h0m0 3h0m-1 0h0m0-3h0m0-1h0m-1-1h0m0 2h0m-1-1h0m0 2h0m0 2h0m0-3h0m-1 1h0m0-3h0m0 4h0m0-3h0m-1 0h0m0-1h0m-1 5h0m0-3h0m0 2h0m-1-2h0m0 2h0m-1 1h0m0-5h0m0 1h0m0 2h0m-1-2h0m0-1h0m0 2h0m-1 1h0m0 2h0m0-5h0m0 2h0m-1 1h0m0-1h0m-1-1h0m0 4h0m0-3h0m-1-2h0m0 4h0m-1-2h0m0 2h0m-1 0h0m0-3h0m0 4h0m-1-2h0m0-3h0m0 4h0m-1-2h0m0-1h0m-1 0h0m0 2h0m0-3h0m0 2h0m-1-2h0m0 2h0m0-1h0m-1-1h0m0 4h0m0-3h0m-1-1h0m0 5h0m-1-2h0m0-3h0m0 2h0m-1 1h0m0 2h0m0-5h0m0 2h0m-1-2h0m-1 5h0m0-3h0m0-1h0m-1 2h0m0-3h0m-1 3h0m0-3h0m-1 2h0m0-1h0m0 2h0m-1 0h0m0 2h0m0-4h0m-1 1h0m0 2h0m0 1h0m-1-4h0m0 4h0m-1-4h0m0 2h0m0 2h0m0-3h0m-1-1h0m0 4h0m0-5h0m0 2h0m0 2h0m-1-4h0m0 2h0m0 2h0m0-3h0m-1 2h0m0-3h0m0 2h0m0 2h0m-1 1h0m0-3h0m0-1h0m-1 2h0m0 2h0m0-1h0m-1 1h0m0-3h0m0 2h0m0-3h0m-1 0h0m0 3h0m-1-4h0m0 2h0m0-1h0m-1 2h0m0 2h0m-1-2h0m-1-2h0m0 2h0m0 2h0m-1-2h0m0 2h0m-3-3h0m0 2h0m0-1h0m0-3h0m-1 5h0m0-5h0m0 2h0m0 2h0m-1 0h0m0-3h0m-1 4h0m0-1h0m-1-2h0m0-1h0m-1 4h0m0-3h0m-1-2h0m-2 5h0m0-5h0m0 4h0m-1-1h0m0 2h0m0-3h0m-1 0h0m-1 0h0m-1-1h0m0 2h0m0 2h0m0-3h0m-1-1h0m0 1h0m-1-1h0m0 2h0m-1 0h0m0-3h0m0 2h0m0-1h0m-1 2h0m0-3h0m-1 4h0m0-1h0m0-3h0m0 2h0m-1-2h0m-1 1h0m0 2h0m0 2h0m0-1h0m-1-3h0m-1 1h0m0 2h0m0-1h0m-1-2h0m0 2h0m0-1h0m-1 3h0m0-4h0m-1 2h0m-1-2h0m0-1h0m0 2h0m-1 0h0m-1-1h0m0-1h0m0 2h0m0 2h0m-1-4h0m0 4h0m-1-3h0m0-1h0m-1 2h0m0-1h0m0-1h0m-1 3h0m-1-2h0m0 2h0m0 2h0m-1-3h0m-1-2h0m-1 5h0m0-3h0m0 2h0m-1 1h0m0-5h0m-1 0h0m-1 1h0m0 2h0m0 2h0m0-5h0m0 2h0m-1 1h0m0-1h0m-1-1h0m0 2h0m0-1h0m-1 1h0m0-3h0m0 2h0m-1 3h0m0-1h0m-1-3h0m0 2h0m0 2h0m-1-2h0m0 2h0m0-5h0m0 2h0m-1 2h0m-1 0h0m0-3h0m-2 3h0m-1-2h0m0 2h0m-1-3h0m0 3h0m-1-2h0m0-1h0m0 2h0m0 2h0m-1-5h0m-2 3h0m0-1h0m-1-1h0m0 2h0m0-3h0m-1 1h0m0 2h0m0 1h0m-2-3h0m-1 2h0m-1 1h0m0-4h0m-2 0h0m0 2h0m-1 3h0m0-1h0m-1-1h0m0 2h0m0-5h0m0 2h0m-1 3h0m0-3h0m-1-1h0m-1 3h0m0-2h0m-1 2h0m0-3h0m0-1h0m0 2h0m-1 3h0m0-1h0m-2 1h0m-1 0h0m0-1h0m0-1h0m-1-2h0m-1 4h0m0-1h0m-1 1h0m-1-3h0m-1-1h0m0 4h0m0-5h0m0 2h0m-2-1h0m0 3h0m-1 1h0m0-5h0m-1 4h0m-1 0h0m0-1h0m-1 1h0m0 1h0m0-5h0m-1 1h0m0 2h0m0-3h0m-1 0h0m0 1h0m-1 3h0m-1-2h0m0-1h0m0 4h0m-2-4h0m-1 4h0m0-1h0m-1-3h0m0 2h0m0 2h0m-1-1h0m0-3h0m-1 1h0m-1 2h0m0 1h0m0-3h0m-1-1h0m0 2h0m0 2h0m-1-1h0m-2 0h0m0 1h0m0-5h0m-1 3h0m0 2h0m-1-4h0m-1 1h0m-2 2h0m0 1h0m-1 0h0m-1-4h0m-1 0h0m-1 4h0m-1-1h0m-1-3h0m0 2h0m0 2h0m0-3h0m0 2h0m-1-3h0m0 1h0m-1-2h0m-1 4h0m0-3h0m0 2h0m0-3h0m-1 4h0m-1-4h0m0 2h0m0 2h0m0-3h0m0 2h0m-2-2h0m0 2h0m-1 2h0m-1-2h0m-1-1h0m-1 2h0m-1-3h0m0 2h0m-1-1h0m0 2h0m0 1h0m-1-3h0m0 1h0m0-3h0m-1 4h0m0 1h0m0-3h0m-1 3h0m-1-5h0m-1 0h0m-1 2h0m0-2h0m-1 5h0m-2-3h0m0-1h0m0-1h0m-2 1h0m0 2h0m0 1h0m-1-4h0m0 2h0m-1 1h0m-1-2h0m-1 1h0m-1 0h0m0 1h0m-1 0h0m0-3h0m-1 0h0m0 2h0m0 2h0m-1 0h0m0-4h0m-1 0h0m-1 1h0m0 4h0m0-5h0m-1 1h0m-1-1h0m0 2h0m0-1h0m0 4h0m-1-1h0m-1 1h0m0-5h0m0 2h0m-1 1h0m0-3h0m0 2h0m0 2h0m-1 1h0m-1-5h0m-1 0h0m0 2h0m-1 3h0m0-1h0m-1-2h0m0 2h0m-1-2h0m-1-1h0m0 2h0m-1-3h0m0 1h0m0 2h0m-1 0h0m0-3h0m-1 1h0m0 4h0m-1-3h0m0 2h0m0-1h0m-1 1h0m0-1h0m-1 2h0m0-2h0m-1 0h0m0-3h0m-2 2h0m-1 3h0m-1-1h0m0-1h0m-1-3h0m0 2h0m-1-1h0m0 2h0m-1-2h0m0 4h0m0-1h0m-2 0h0m0-3h0m-1 4h0m-1-3h0m-1 2h0m-3-2h0m-1 1h0m-1 2h0m-1-1h0m-1 0h0m-12 6h0m2-2h0m2 2h0m2-1h0m1 0h0m1 2h0m0-4h0m2 3h0m1-1h0m2 2h0m1-4h0m1 0h0m1 2h0m1-1h0m1-2h0m0 2h0m0 2h0m2-2h0m0 2h0m0-4h0m2 3h0m1-2h0m0 2h0m0-1h0m1 2h0m0-3h0m2 2h0m0-3h0m1 0h0m0 4h0m0-3h0m1 0h0m0 3h0m1-3h0m0 4h0m0-1h0m1-3h0m1-1h0m0 1h0m1 0h0m0-1h0m1 4h0m1 0h0m0-1h0m1-1h0m0-1h0m3 4h0m0-1h0m1-1h0m1 2h0m0-3h0m1-1h0m0 3h0m1 1h0m1-1h0m0-3h0m0 2h0m0 2h0m1-4h0m0 4h0m1-2h0m0-1h0m1 3h0m0-5h0m0 2h0m1 1h0m0 1h0m0-3h0m1 3h0m1 1h0m1-4h0m0 1h0m1-1h0m1-1h0m0 1h0m0 2h0m0 2h0m1-4h0m0 4h0m0-5h0m1 4h0m0-3h0m1 2h0m0-3h0m0 2h0m0 2h0m1 1h0m1 0h0m0-3h0m0 2h0m1 1h0m0-3h0m0 2h0m1-3h0m1 4h0m0-1h0m2 1h0m0-4h0m1 2h0m1 2h0m0-5h0m0 2h0m0 2h0m1-1h0m0-3h0m2 0h0m1 5h0m0-1h0m1 1h0m0-5h0m0 4h0m0-1h0m1-2h0m0 4h0m0-1h0m1 1h0m0-5h0m0 4h0m3 1h0m0-5h0m0 2h0m1 1h0m0-1h0m1 0h0m1 1h0m0-3h0m0 4h0m1 1h0m0-5h0m0 1h0m1 3h0m2-4h0m0 1h0m0 2h0m1 1h0m1-2h0m0-1h0m1 1h0m0-1h0m1 4h0m0-1h0m4-4h0m0 2h0m1 1h0m1 0h0m1 0h0m0-2h0m2 0h0m1-1h0m1 1h0m0 2h0m1 0h0m1-1h0m1 1h0m1-2h0m0-1h0m1 0h0m0 1h0m1 4h0m0-5h0m0 2h0m0 2h0m0-3h0m1 3h0m1-1h0m0 2h0m0-1h0m1 0h0m0 1h0m1-3h0m0-1h0m2 3h0m0-3h0m1 1h0m0-2h0m1 5h0m1-5h0m0 2h0m0 1h0m1 0h0m1 0h0m0 2h0m1-3h0m0 2h0m0-1h0m1 0h0m1 0h0m1-3h0m0 2h0m1-2h0m0 4h0m0-3h0m0 4h0m1-2h0m0 2h0m1 0h0m0-3h0m0 1h0m1-2h0m0-1h0m1 3h0m0 1h0m1-4h0m0 4h0m1 0h0m0-3h0m0 4h0m0-3h0m1 3h0m0-5h0m0 4h0m0-3h0m1 4h0m0-2h0m1 2h0m0-5h0m0 1h0m1 2h0m0 2h0m1-2h0m0 2h0m0-5h0m0 2h0m0 2h0m0-3h0m1 0h0m0 2h0m0-1h0m1 2h0m1 1h0m0-5h0m1 5h0m1-2h0m0 2h0m0-1h0m2-4h0m0 1h0m2-1h0m0 3h0m0 2h0m1-5h0m0 4h0m0-3h0m1 4h0m0-5h0m0 4h0m1 1h0m0-5h0m0 3h0m1 1h0m0-3h0m0 2h0m1-2h0m0-1h0m0 4h0m2-2h0m1-2h0m1 0h0m0 2h0m1 0h0m0 2h0m1-1h0m0 2h0m0-5h0m1 5h0m0-1h0m1-1h0m0-3h0m0 2h0m1-2h0m0 4h0m1-4h0m0 2h0m0-1h0m1-1h0m1 0h0m0 3h0m1 1h0m0-3h0m0 4h0m0-5h0m1 2h0m0 3h0m0-5h0m1 2h0m0 3h0m1-5h0m0 4h0m0-3h0m2 4h0m0-1h0m0-3h0m1 4h0m0-5h0m0 2h0m0-1h0m1 4h0m0-5h0m0 1h0m1 1h0m1-2h0m0 2h0m0 2h0m0-3h0m0 4h0m1-1h0m2-1h0m1-2h0m1 2h0m0-3h0m0 2h0m1 2h0m0-1h0m0-3h0m1 0h0m0 2h0m0-1h0m0 2h0m1 1h0m0-3h0m0 4h0m1-5h0m0 1h0m0 4h0m1-2h0m0 2h0m1 0h0m0-5h0m0 2h0m0 2h0m0-3h0m0 2h0m1-2h0m0 2h0m1 1h0m0-3h0m0 4h0m0-5h0m1 1h0m0 2h0m0 2h0m0-3h0m1 2h0m2-2h0m0 2h0m0-1h0m0 2h0m1-4h0m0 1h0m0 2h0m1-2h0m0-1h0m0 2h0m0 2h0m1-1h0m0-3h0m0-1h0m0 2h0m1 0h0m0 2h0m0-1h0m1-1h0m0-2h0m1 2h0m0 2h0m0-1h0m0 2h0m0-5h0m1 5h0m0-5h0m0 2h0m0 2h0m1 0h0m0-3h0m0 2h0m0 2h0m0-5h0m1 2h0m0-1h0m0 2h0m1 1h0m0-1h0m0 2h0m1-5h0m0 4h0m0-3h0m1 1h0m0 1h0m0-3h0m1 2h0m0 2h0m1-2h0m0 2h0m0-3h0m1 1h0m0-1h0m0 2h0m0 2h0m1-4h0m0 2h0m0 2h0m0-5h0m0 2h0m0 2h0m2-4h0m1 0h0m0 2h0m0 1h0m0 2h0m1-4h0m0 4h0m0-5h0m0 2h0m1 0h0m0-1h0m1 0h0m0 2h0m0-3h0m1 0h0m1 1h0m0 1h0m1-1h0m0-1h0m1 2h0m0-1h0m0 2h0m0-3h0m1 4h0m0-3h0m0 4h0m0-5h0m1 5h0m0-3h0m0 2h0m1-3h0m0 2h0m0-3h0m0 2h0m1 1h0m1-2h0m0 2h0m0 2h0m0-3h0m0 2h0m1-3h0m1 0h0m0 2h0m0-3h0m1 2h0m0-1h0m1 1h0m0 1h0m1-3h0m0 1h0m0 2h0m0 2h0m1-5h0m1 4h0m0-1h0m0 2h0m1-5h0m1 4h0m0-3h0m0 2h0m0 2h0m0-5h0m2 1h0m1 2h0m0 1h0m0-3h0m1-1h0m1 4h0m0-1h0m0 2h0m1-2h0m0 2h0m0-5h0m1 3h0m0-3h0m1 0h0m1 0h0m0 4h0m0-3h0m1 0h0m0 3h0m1-2h0m0-2h0m1 0h0m0 2h0m1 2h0m1-3h0m0 2h0m1-1h0m0-1h0m0 4h0m1-3h0m0 1h0m0 2h0m1-4h0m0 4h0m0-5h0m1 4h0m1 1h0m0-5h0m0 2h0m1 1h0m0-1h0m1 1h0m0 2h0m1 0h0m0-5h0m0 1h0m1 4h0m1-3h0m1 1h0m0 2h0m1-4h0m0 3h0m1-3h0m2 1h0m1 0h0m0-1h0m0 2h0m0-3h0m1 3h0m0-3h0m0 2h0m1 2h0m1-1h0m0 2h0m0-1h0m1 0h0m1-3h0m0 4h0m1-1h0m0-1h0m0-1h0m1 0h0m0-1h0m2-1h0m0 2h0m1 3h0m2-5h0m1 4h0m0 1h0m1-2h0m0 2h0m1-1h0m1-2h0m0 2h0m1 1h0m1-3h0m2-2h0m1 1h0m0 4h0m0-1h0m1 0h0m0-3h0m1 2h0m0 2h0m1-3h0m0 3h0m1-2h0m0 2h0m1 0h0m0-5h0m1 5h0m0-5h0m0 2h0m1 2h0m1-3h0m0 2h0m0-1h0m2 1h0m0-1h0m0 2h0m1-1h0m0 2h0m0-3h0m0 2h0m1 0h0m1 0h0m1-4h0m0 2h0m1-1h0m0 2h0m0-3h0m0 2h0m1-1h0m0 2h0m1-2h0m0-1h0m1 3h0m1 1h0m0-3h0m0 2h0m0 2h0m0-5h0m1 5h0m1 0h0m1-5h0m0 1h0m2 0h0m2 1h0m2-1h0m2 0h0m1 1h0m1-2h0m-13 7h0m-1 0h0m-3 1h0m0 1h0m-1-1h0m0-1h0m-2-1h0m-1 0h0m-1 3h0m0-3h0m-2 0h0m0 2h0m-1-1h0m0 1h0m-1 0h0m-1 3h0m0-5h0m0 4h0m0-3h0m-1 0h0m0 2h0m-1 2h0m0-5h0m-1 4h0m0-1h0m-1 1h0m-1-3h0m0 4h0m-1-1h0m-1 0h0m0-3h0m-1 1h0m0 3h0m-2-4h0m0-1h0m-1 4h0m0-1h0m-2-2h0m0 2h0m0-1h0m0 2h0m-1-4h0m-1 0h0m-1 0h0m0 2h0m0 2h0m-1-2h0m-2 1h0m-2-2h0m0 2h0m-1-1h0m0-1h0m0 2h0m-1-2h0m0 4h0m-1-5h0m0 1h0m0 2h0m-1 1h0m0-3h0m0 1h0m-2 3h0m0-3h0m-1 3h0m0-5h0m0 2h0m0 2h0m-1 0h0m0-3h0m-1-1h0m0 2h0m-1 0h0m-1 1h0m0-1h0m0 2h0m-1-2h0m0-1h0m-1 4h0m-1-3h0m0 2h0m-1-3h0m-1 3h0m0-1h0m-1 0h0m0-3h0m-1 5h0m-1-3h0m-1 2h0m-1 1h0m-1-3h0m-1 3h0m0-5h0m-1 3h0m0-3h0m0 4h0m-1-1h0m-1 0h0m0-2h0m-1-1h0m0 2h0m-1 1h0m0-3h0m-1 2h0m0-1h0m0 2h0m-1 2h0m0-2h0m-1 2h0m-1 0h0m0-1h0m-1 1h0m-1-5h0m-1 1h0m-1-1h0m0 2h0m-1-2h0m-1 3h0m-1-3h0m0 2h0m-1-1h0m0 2h0m0 2h0m0-3h0m0 2h0m-1-1h0m-1 0h0m0-3h0m0 4h0m-1 0h0m-1-2h0m0-1h0m-1 2h0m0 1h0m-1 0h0m-1-3h0m0-1h0m-1 5h0m0-1h0m-1-4h0m0 4h0m0-3h0m-1 3h0m0-3h0m0 2h0m-1 1h0m0-3h0m-1 2h0m0-3h0m0 2h0m0 2h0m-1-3h0m0 4h0m0-5h0m0 2h0m-1-1h0m-1-1h0m0 2h0m0 3h0m-1 0h0m0-3h0m0 2h0m-1-1h0m0-3h0m0 4h0m-1-4h0m0 2h0m0-1h0m-1 0h0m0-1h0m-1 5h0m0-3h0m0 2h0m-1-1h0m0 2h0m0-3h0m0 2h0m-1 1h0m0-5h0m0 2h0m-1 3h0m0-5h0m0 2h0m0 2h0m-1-1h0m0 2h0m0-3h0m0 2h0m-1-4h0m0 1h0m0 2h0m-1-2h0m0 2h0m0 2h0m0-3h0m0 2h0m-1 0h0m-1-1h0m-1-1h0m-1 3h0m-1-3h0m-1 3h0m0-5h0m0 3h0m-1-1h0m-1 2h0m0-3h0m-1 1h0m-1 3h0m0-5h0m0 4h0m-1-3h0m-1 3h0m0-3h0m0 4h0m-1-2h0m0 2h0m-1-5h0m0 2h0m0-1h0m0 2h0m0 2h0m-1-4h0m0 2h0m0 2h0m0-3h0m-1 0h0m0 2h0m-1-1h0m0-1h0m0 2h0m-1 1h0m0-3h0m0 2h0m0-3h0m-1 2h0m0 2h0m0-5h0m0 2h0m0 2h0m-1-1h0m0-1h0m-1 1h0m0-1h0m-1-1h0m0 1h0m-1 3h0m0-5h0m0 4h0m-2 0h0m-1-3h0m0-1h0m0 2h0m-1-2h0m0 2h0m0-1h0m-1 2h0m0-3h0m-1 3h0m0 1h0m-1-2h0m-1-1h0m0 2h0m0 2h0m0-5h0m0 2h0m0 2h0m-1 1h0m0-5h0m0 4h0m-1-4h0m0 2h0m0 2h0m0-3h0m0 2h0m-1 0h0m0-1h0m0-1h0m-1 1h0m0 2h0m0-1h0m-1 0h0m0-1h0m0 2h0m-1-3h0m0 2h0m0 1h0m-1-1h0m0-3h0m0 2h0m-1 1h0m0-3h0m0 1h0m-1 0h0m0 2h0m0 2h0m0-3h0m0 2h0m-1-2h0m-1 0h0m0 2h0m0-3h0m0 2h0m0-3h0m-1 3h0m0 2h0m0-3h0m-1 1h0m0-3h0m0 2h0m0 2h0m-1-2h0m0 2h0m-1-3h0m0 4h0m0-3h0m0 2h0m-1-4h0m0 4h0m-1-4h0m0 1h0m0 4h0m-1-4h0m0-1h0m0 2h0m-1-1h0m0-1h0m0 2h0m-1-1h0m-2 0h0m0 4h0m0-1h0m-1 1h0m0-1h0m0-1h0m-1-2h0m0 4h0m0-5h0m0 2h0m0 2h0m-1-3h0m0 4h0m0-5h0m-1 4h0m0-1h0m0-3h0m-1 5h0m0-5h0m0 2h0m-1 1h0m0 2h0m0-1h0m-2 0h0m0-3h0m0 4h0m0-5h0m-1 3h0m-1-3h0m0 2h0m0-1h0m-1 0h0m0 2h0m0-1h0m0 2h0m-1-3h0m0 4h0m-1-4h0m-1-1h0m0 3h0m0 2h0m-1-4h0m0-1h0m0 2h0m-2-2h0m-1 4h0m0 1h0m-1-4h0m0-1h0m-1 0h0m0 4h0m-1-4h0m-1 0h0m0 2h0m-1-1h0m-1 0h0m-1 3h0m0-3h0m0 4h0m-1-1h0m-1-1h0m0 2h0m0-3h0m0 2h0m-1-3h0m0 4h0m0-5h0m0 4h0m-2-4h0m0 2h0m-1-2h0m0 2h0m0 2h0m0-3h0m-1 0h0m0 2h0m0-1h0m0 2h0m-1-4h0m0 2h0m0 3h0m-2-1h0m-1-2h0m0 2h0m-1 0h0m0 1h0m-2-2h0m0-1h0m-1 1h0m0 2h0m-1-3h0m-1 3h0m0-5h0m-1 1h0m0 1h0m-4-2h0m-2 3h0m-2-2h0m0 2h0m0 2h0m-2 0h0m-1-1h0m0 1h0m-1 0h0m-3-3h0m0 2h0m0-4h0m-1 1h0m-1 0h0m0 2h0m0-3h0m-1 3h0m0 2h0m-1-2h0m0 1h0m-1-3h0m0 4h0m-1 0h0m-2-4h0m0-1h0m0 2h0m-2-1h0m0 4h0m-1 0h0m0-5h0m0 2h0m-1-1h0m0 2h0m-1-2h0m0 4h0m0-5h0m0 4h0m-1 0h0m-1-1h0m0-3h0m-1 2h0m0 1h0m-1 0h0m0-1h0m-1 3h0m-1 0h0m0-3h0m-1 3h0m-1-4h0m0-1h0m-1 1h0m0-1h0m-1 3h0m-2-2h0m0 4h0m-1-5h0m0 1h0m0 4h0m-2-2h0m0 2h0m-1-1h0m0 1h0m0-3h0m-1-1h0m-1 2h0m0 2h0m-1-1h0m0-1h0m0 2h0m-2-3h0m-1 1h0m0 2h0m-1-4h0m-1 1h0m0-1h0m0 4h0m-1-4h0m0 2h0m0 2h0m0-5h0m-1 5h0m-1-2h0m-2-1h0m0-1h0m0 2h0m0-3h0m-2 1h0m0-1h0m-1 3h0m-1 1h0m-1-4h0m-2 2h0m-1 2h0m-2-2h0m-1 3h0m-1-5h0m-2 4h0m0-1h0m-1-3h0m-1 3h0m-1 1h0m0-3h0m0 2h0m0 2h0m0-5h0m-2 2h0m-1 0h0m0-1h0m0 2h0m-1 1h0m0 1h0m-1-5h0m0 1h0m-1 1h0m0-1h0m0 2h0m0 2h0m-1-5h0m-1 5h0m0-3h0m0 2h0m0-3h0m-1 2h0m0-1h0m-1-2h0m0 2h0m0-1h0m0 2h0m-1 1h0m0-3h0m0 4h0m-1-4h0m-1 4h0m0-5h0m-1 1h0m-1-1h0m0 2h0m-2 0h0m0 5h0m2-1h0m0 2h0m1 1h0m0-1h0m2 3h0m1-3h0m0 1h0m1 0h0m1 0h0m1 2h0m0-5h0m1 5h0m1-5h0m0 2h0m0 1h0m1 0h0m0-3h0m0 2h0m1 1h0m0-1h0m2-1h0m1 4h0m0-1h0m1-1h0m1 1h0m1-3h0m0 4h0m0-3h0m1 3h0m2-2h0m0 1h0m2-4h0m0 4h0m1-4h0m0 1h0m1-1h0m0 2h0m1 3h0m0-5h0m1 1h0m0-1h0m0 2h0m2 1h0m0 2h0m0-5h0m1 0h0m1 1h0m1 2h0m0 2h0m1-5h0m1 1h0m1-1h0m0 1h0m3 4h0m0-5h0m2 0h0m1 1h0m0 2h0m0-1h0m1-2h0m2 0h0m0 3h0m1 0h0m0 1h0m1-4h0m0 3h0m1 0h0m0 1h0m1-3h0m1 4h0m0-3h0m1-1h0m0 4h0m3 0h0m0-3h0m0 2h0m1-1h0m0-1h0m0-1h0m1 0h0m1-1h0m1 5h0m0-4h0m1 4h0m1-5h0m0 2h0m0 2h0m0-3h0m1 2h0m0-3h0m2 3h0m0-1h0m1 3h0m1-3h0m0-1h0m1-1h0m0 4h0m1-4h0m0 4h0m1 1h0m0-3h0m1 1h0m0 2h0m1-4h0m0 4h0m1-5h0m0 4h0m1-2h0m0-1h0m1 4h0m0-4h0m1-1h0m1 2h0m0 2h0m0 1h0m2-3h0m3-1h0m0-1h0m0 2h0m1 0h0m0 2h0m0-1h0m1-2h0m1 2h0m0 2h0m0-3h0m0 2h0m1-3h0m0-1h0m0 2h0m1 3h0m1 0h0m0-5h0m2 5h0m1-3h0m0-1h0m0 2h0m0 2h0m1 0h0m0-3h0m0 2h0m0-3h0m1 3h0m1-1h0m0-1h0m0 2h0m1-3h0m0 4h0m0-3h0m0 2h0m1-2h0m0-1h0m1 4h0m0-3h0m0-1h0m0 2h0m1 2h0m0-5h0m0 4h0m0-1h0m1 0h0m0 2h0m0-5h0m0 4h0m1-2h0m1 1h0m1-3h0m1 3h0m1 2h0m1-4h0m0 3h0m1 1h0m0-1h0m0-3h0m1 1h0m1 2h0m0-1h0m0 2h0m2-1h0m1 0h0m0-1h0m1-1h0m0 2h0m0-1h0m1 0h0m1 0h0m0-3h0m1 5h0m0-5h0m2 1h0m0 2h0m1 2h0m0-3h0m1 0h0m1 1h0m0-1h0m0-1h0m1-1h0m0 3h0m1-3h0m0 3h0m1-2h0m0 2h0m1-3h0m0 1h0m1 1h0m0 1h0m1-3h0m0 2h0m0-1h0m1 3h0m0-1h0m1-1h0m0 2h0m0-1h0m1-2h0m0 4h0m0-5h0m0 2h0m1 0h0m0 2h0m0-1h0m1-1h0m1-2h0m0 2h0m0 2h0m0-3h0m0 2h0m0 2h0m1 0h0m0-1h0m1 1h0m0-5h0m0 4h0m0-3h0m1 0h0m0 4h0m0-1h0m1-4h0m0 2h0m0 2h0m1-2h0m0-2h0m1 0h0m0 2h0m0 2h0m0-1h0m0 2h0m1 0h0m0-1h0m0-3h0m1-1h0m0 1h0m1 4h0m0-5h0m0 4h0m1-2h0m0 1h0m0 2h0m1-4h0m0 2h0m0-3h0m1 1h0m0 2h0m0 2h0m0-5h0m1 0h0m0 1h0m0 4h0m1-3h0m0 2h0m1 0h0m0 1h0m1 0h0m0-3h0m0 2h0m0-1h0m1 2h0m0-5h0m0 2h0m0 2h0m0-3h0m0 2h0m1-1h0m0-1h0m0 2h0m0-3h0m1 4h0m0-1h0m0 2h0m1-3h0m0 1h0m0 2h0m1-3h0m0 2h0m0-3h0m0 2h0m0 2h0m0-5h0m1 3h0m0 2h0m0-1h0m2-1h0m0 2h0m0-5h0m0 4h0m0-3h0m1 1h0m1 0h0m1 1h0m0 2h0m1-2h0m0 2h0m1-5h0m0 2h0m0-1h0m0 4h0m1-1h0m0-2h0m1-1h0m0 4h0m0-1h0m1-2h0m0 2h0m0-3h0m0 2h0m1 2h0m0-3h0m0 2h0m1-2h0m0 1h0m0 2h0m1-1h0m0-1h0m1-3h0m0 1h0m1 4h0m0-3h0m0 2h0m1-4h0m0 2h0m0 1h0m1 1h0m0-1h0m0-1h0m1 0h0m0 2h0m0-1h0m1 0h0m0 2h0m1-4h0m0-1h0m0 4h0m1-1h0m0 1h0m2 0h0m0-3h0m0 4h0m1-1h0m0-4h0m0 2h0m1 0h0m0 2h0m2-3h0m1 0h0m1 0h0m2 2h0m1 2h0m0-1h0m1-2h0m0 2h0m0-3h0m2 1h0m0 1h0m0-3h0m1 3h0m2 1h0m0 1h0m1-4h0m0 3h0m1 1h0m1-4h0m0 4h0m1-3h0m0-1h0m1 0h0m0 2h0m1-1h0m0 2h0m0-3h0m0 2h0m1 0h0m0 2h0m0-5h0m1 2h0m1 3h0m0-3h0m1-2h0m0 1h0m3 2h0m0-2h0m3 3h0m0-1h0m0 2h0m1-5h0m1 4h0m0-3h0m0 2h0m0 2h0m1-5h0m3 1h0m1 1h0m0 1h0m2 0h0m1 2h0m2-5h0m1 3h0m1 1h0m0-1h0m0-3h0m1 4h0m1 0h0m0-3h0m0 2h0m1-3h0m0 4h0m1 1h0m0-5h0m0 2h0m1-2h0m1 3h0m0-1h0m2-2h0m0 2h0m0 2h0m1-1h0m1 1h0m1-3h0m0 2h0m0 1h0m1-4h0m0 2h0m1-2h0m0 2h0m1 0h0m0 2h0m0-3h0m0 4h0m1-5h0m0 2h0m1 2h0m1 1h0m0-5h0m2 0h0m0 2h0m0-1h0m0 2h0m0 2h0m1-1h0m0-4h0m0 2h0m1 3h0m1-4h0m0 2h0m0-3h0m0 2h0m1 3h0m0-2h0m1 1h0m1-3h0m0 4h0m0-3h0m1 3h0m0-5h0m0 2h0m0 2h0m1 1h0m1-4h0m0 2h0m0 2h0m0-3h0m1 1h0m1 0h0m1 1h0m0-3h0m0 1h0m1 3h0m0-3h0m0 2h0m2-4h0m2 3h0m0-1h0m1 0h0m1 1h0m0 2h0m1 0h0m0-1h0m1-2h0m1 1h0m0-1h0m2-1h0m0-1h0m0 2h0m1 1h0m2-2h0m1 3h0m1-3h0m0 1h0m1 2h0m2-3h0m0 1h0m2-2h0m0 2h0m-3 4h0m-8 0h0m-2 0h0m-1 1h0m-1 0h0m-1 0h0m-1-1h0m-2 1h0m-1-1h0m0 4h0m0 1h0m-1-1h0m0-3h0m0 2h0m-2-2h0m0 4h0m-1-4h0m-1 1h0m0-1h0m-1 4h0m0-3h0m0-1h0m0 2h0m-1 0h0m0 2h0m0-5h0m-1 0h0m0 1h0m0 2h0m0 2h0m-1-1h0m-1-1h0m0-1h0m-1 2h0m0-3h0m-1 2h0m-1-3h0m0 3h0m-1 0h0m0 2h0m0-5h0m0 4h0m-1-1h0m-1 0h0m-1 1h0m-1 0h0m0-4h0m-2 2h0m0-1h0m0 2h0m-2-2h0m-1 2h0m0 2h0m0-5h0m-1 3h0m0-1h0m-1 0h0m-1 3h0m0-5h0m-2 4h0m-1-4h0m0 3h0m-1-1h0m-1 3h0m0-1h0m-1 1h0m-1-2h0m0-3h0m0 1h0m-1-1h0m0 2h0m0 1h0m-1 1h0m-1-2h0m0 2h0m-1 0h0m0-1h0m-1-2h0m-2 4h0m-1-5h0m0 1h0m0 2h0m-1-2h0m0 2h0m-1 0h0m-2-3h0m0 2h0m0-1h0m-2 3h0m-1-3h0m0 2h0m-2 1h0m-2-4h0m-1 5h0m0-1h0m-1-1h0m0-3h0m-1 4h0m-1-1h0m0 2h0m-1-4h0m0 4h0m-1-5h0m0 3h0m-1-3h0m0 4h0m-1-2h0m0 2h0m-1-4h0m0 2h0m0 2h0m0-3h0m-1 2h0m-1 2h0m0-3h0m0-1h0m-1 0h0m0 3h0m-1-3h0m-1 4h0m-1 0h0m-1-2h0m-1-2h0m0 1h0m0 2h0m-1-4h0m0 2h0m-1-2h0m-1 5h0m0-5h0m0 1h0m-2 2h0m0 2h0m0-5h0m0 2h0m-1 1h0m0 2h0m-1 0h0m0-4h0m-1 0h0m0 4h0m-1-4h0m0 2h0m0 1h0m-1 1h0m-1-2h0m0 1h0m-1-4h0m0 2h0m0-1h0m-1-1h0m-1 3h0m0 2h0m-2-4h0m0 4h0m0-5h0m0 2h0m0 2h0m-1-1h0m-1 0h0m0 2h0m-1-3h0m0 2h0m-1-2h0m-1-1h0m0-1h0m0 2h0m0 2h0m-1 1h0m0-3h0m-1-2h0m0 2h0m0-1h0m0 4h0m-1-5h0m0 3h0m-1-2h0m0 1h0m-1-1h0m0 2h0m0-1h0m0 2h0m-1-1h0m0 2h0m0-3h0m0 2h0m0-3h0m-1 3h0m-1-2h0m0-1h0m-1 4h0m0-5h0m0 4h0m-1-2h0m-1-1h0m0-1h0m0 4h0m-1-2h0m0 2h0m0-1h0m0 2h0m-1-2h0m0-1h0m-1 3h0m0-5h0m0 4h0m-1 1h0m0-5h0m0 4h0m-1-1h0m0 2h0m-1-2h0m0-1h0m-1-1h0m0 2h0m0 2h0m-1-4h0m0 4h0m0-3h0m0 2h0m-1-3h0m0 4h0m0-3h0m0 2h0m-1 0h0m0-3h0m0 2h0m0 2h0m-1 0h0m0-5h0m0 1h0m-1-1h0m0 1h0m0 4h0m-1-5h0m-1 1h0m0 1h0m-1-1h0m0 2h0m0 2h0m0-5h0m0 4h0m-1 1h0m0-5h0m0 4h0m0-3h0m-1 4h0m0-3h0m-1 0h0m-1 1h0m0 2h0m0-3h0m-1 1h0m0-3h0m-1 0h0m0 2h0m-1 1h0m0-3h0m0 4h0m0-3h0m-1 4h0m0-5h0m0 4h0m-1 0h0m-1 0h0m-1-3h0m0-1h0m0 4h0m-1 0h0m0-3h0m0 4h0m-1-4h0m-1 0h0m0 2h0m0-3h0m0 2h0m0 2h0m-1 1h0m-1-3h0m0-1h0m0 4h0m-1-2h0m0 2h0m0-3h0m-1 3h0m-1-2h0m0 2h0m0-5h0m-2 1h0m-1 0h0m0 1h0m-1 3h0m0-3h0m-1 3h0m0-3h0m-1-2h0m0 5h0m-1 0h0m-1-3h0m0 2h0m0-3h0m0 4h0m-1-1h0m-1 0h0m-1-4h0m0 4h0m-1-2h0m0 1h0m0 2h0m-2-2h0m-1 1h0m-1-1h0m0-1h0m-1 0h0m-1-1h0m-1 3h0m0-4h0m-1 2h0m-1-1h0m0-1h0m0 2h0m-1 1h0m0 2h0m0-3h0m-1 1h0m-1 0h0m-1-3h0m0 1h0m0 4h0m-1-1h0m0-3h0m-1 3h0m0 1h0m-1-5h0m0 2h0m0 2h0m-1 1h0m0-3h0m-1-2h0m-1 0h0m0 4h0m0 1h0m-2 0h0m0-1h0m0-3h0m0 2h0m-1 1h0m0-4h0m-1 4h0m0-1h0m0 2h0m0-5h0m0 2h0m-1 2h0m0-1h0m0-3h0m-1 3h0m0-3h0m0 2h0m-1-2h0m-1 1h0m0 2h0m0-1h0m-1 0h0m0-1h0m-1 2h0m-1-1h0m0 1h0m0 2h0m-1-4h0m0 2h0m0-1h0m0 2h0m-1-3h0m0-1h0m-1 1h0m0-1h0m0 4h0m-1-2h0m0-1h0m0 2h0m-1-3h0m-1 4h0m-1 0h0m0-3h0m0 2h0m-1 1h0m0 1h0m-1-1h0m-1-1h0m-1 2h0m-1-5h0m0 4h0m-1 1h0m-3-2h0m0 2h0m-1-5h0m-1 1h0m0 4h0m-1-5h0m0 5h0m-2-1h0m0-1h0m0-3h0m-1 4h0m-1-3h0m0 2h0m0 2h0m0-3h0m-2 3h0m0-3h0m0-1h0m-1 2h0m0 2h0m-1 0h0m0-5h0m-1 1h0m0 4h0m0-5h0m-1 0h0m0 4h0m-1 0h0m-1-1h0m0-3h0m0 2h0m-1-1h0m0-1h0m0 4h0m-1 1h0m0-5h0m0 4h0m-2-1h0m-1-2h0m-1 2h0m-1-3h0m0 3h0m-2-3h0m-1 3h0m-1-1h0m0-1h0m0 4h0m-2-1h0m-1-3h0m0 2h0m-1-3h0m0 1h0m-1 3h0m-1 0h0m0-3h0m0 2h0m-2-1h0m-1 3h0m-1-4h0m0-1h0m-1 2h0m-1 0h0m-1 2h0m-1 0h0m0-4h0m-2 2h0m0 3h0m0-5h0m-1 1h0m0 2h0m-1 2h0m-2-1h0m0-3h0m0-1h0m-1 2h0m0-1h0m-2-1h0m0 1h0m-1 1h0m0-1h0m0-1h0m-1 0h0m-1 0h0m0 1h0m-4-1h0m5 6h0m4 1h0m0 2h0m1 0h0m1-2h0m0-1h0m1 2h0m1-2h0m0 2h0m3-2h0m1 4h0m1-3h0m1 0h0m0 2h0m0 2h0m0-3h0m1-1h0m1 4h0m0-5h0m1 5h0m1 0h0m0-5h0m0 2h0m0-1h0m1 3h0m1-1h0m0-1h0m1 2h0m1-3h0m1 3h0m1-2h0m0 2h0m1 1h0m0-1h0m1-2h0m1 2h0m1-1h0m0-1h0m1-1h0m0 3h0m1-4h0m0 1h0m0 2h0m1 0h0m1-1h0m0 2h0m1-2h0m0 2h0m1-2h0m1 3h0m0-5h0m1 1h0m1 2h0m1-2h0m0 4h0m0-5h0m1 4h0m0-1h0m1 0h0m0-3h0m1 0h0m1 3h0m0-1h0m0 2h0m1 0h0m1-4h0m0 4h0m0-3h0m1 2h0m0 2h0m0-5h0m1 0h0m1 3h0m0 2h0m0-5h0m1 0h0m0 2h0m2 3h0m1-3h0m0 2h0m0-3h0m2 1h0m0 1h0m2-2h0m0 3h0m1 1h0m0-2h0m1 2h0m0-5h0m1 4h0m0-3h0m0 2h0m1 2h0m1 0h0m0-5h0m0 1h0m1 4h0m0-5h0m1 5h0m1-2h0m0-3h0m1 1h0m1 4h0m0-5h0m0 4h0m0-3h0m1 1h0m1 1h0m0-2h0m1 4h0m1-5h0m0 2h0m0 2h0m1 1h0m0-3h0m1 1h0m1-2h0m0 2h0m1-3h0m0 2h0m0 2h0m1 1h0m0-5h0m0 2h0m1 0h0m1-1h0m0 4h0m1-5h0m0 2h0m1-1h0m1 1h0m0 2h0m0-3h0m0 4h0m1-4h0m0-1h0m0 2h0m1 0h0m0 2h0m0-3h0m0 2h0m1-2h0m1 4h0m1-5h0m0 4h0m0-3h0m2 1h0m0 2h0m1-2h0m0-1h0m1 4h0m1-4h0m1 1h0m0 2h0m1-1h0m0 1h0m1 1h0m0-5h0m1 2h0m0 1h0m0 2h0m1 0h0m1-1h0m0-3h0m1 4h0m0-4h0m1-1h0m0 4h0m0-3h0m0 2h0m1-3h0m0 1h0m1 3h0m0-1h0m0 2h0m1-2h0m0 1h0m1-1h0m0 2h0m0-5h0m0 2h0m0 2h0m1-4h0m0 5h0m1-5h0m0 2h0m0 2h0m0-1h0m0 2h0m1 0h0m0-5h0m0 2h0m0 2h0m0-1h0m1 1h0m0-4h0m1 2h0m0 2h0m0 1h0m1-3h0m0-1h0m1-1h0m0 4h0m0-1h0m1-3h0m0 2h0m0-1h0m0 2h0m1-2h0m0 2h0m0 2h0m1 0h0m0-1h0m0-1h0m1-3h0m0 4h0m1-2h0m1 2h0m0-1h0m1 1h0m0-3h0m0 4h0m1-2h0m1 2h0m0-3h0m0 2h0m0-1h0m1-3h0m1 5h0m0-3h0m1 0h0m0 2h0m0-1h0m1-2h0m0 1h0m0 2h0m1-4h0m0 1h0m1-1h0m0 5h0m1-4h0m0 4h0m1-3h0m1-1h0m0 2h0m0 2h0m1-1h0m0-3h0m0 2h0m1-3h0m0 2h0m0 2h0m0-1h0m0 2h0m1-1h0m1-3h0m0 2h0m0-3h0m1 5h0m1-4h0m0-1h0m1 2h0m0 2h0m0-3h0m0 2h0m0 2h0m1 0h0m0-5h0m0 2h0m1 0h0m0-1h0m0 2h0m1-1h0m0 2h0m0-4h0m1 0h0m0 2h0m0 1h0m0 2h0m1-3h0m0-1h0m1 2h0m0-3h0m1 1h0m0 2h0m0-1h0m1 1h0m0-3h0m1 0h0m0 2h0m0-1h0m1 1h0m0 3h0m1-2h0m0-1h0m1-1h0m0-1h0m1 3h0m0 2h0m0-5h0m0 4h0m1 0h0m1 0h0m0-1h0m0-3h0m1 2h0m0 2h0m1 0h0m0-4h0m1 4h0m0-1h0m0-3h0m1 2h0m0 1h0m0 2h0m1-1h0m0-3h0m0-1h0m1 1h0m1-1h0m1 4h0m0-3h0m0-1h0m1 5h0m1-3h0m0 2h0m0 1h0m1-1h0m0 1h0m1-1h0m0 1h0m0-3h0m1 0h0m0-1h0m1 3h0m1-4h0m0 4h0m0-1h0m2 0h0m0-3h0m1 2h0m0-2h0m1 5h0m0-3h0m1-2h0m0 2h0m1-2h0m1 4h0m1-1h0m0 2h0m0-5h0m2 2h0m1-2h0m0 2h0m0 2h0m1-4h0m0 2h0m1 2h0m0 1h0m1-4h0m0 2h0m1-1h0m1 0h0m1-2h0m0 4h0m0-1h0m1-3h0m1 2h0m1 2h0m1 0h0m1-1h0m1-3h0m3 2h0m1 0h0m1-1h0m0 4h0m1-1h0m1-2h0m2 0h0m1 0h0m1 1h0m0-3h0m1 4h0m0-3h0m1 1h0m1 0h0m2-1h0m1 0h0m0 4h0m1-5h0m0 2h0m1 1h0m0-3h0m1 0h0m1 4h0m0-3h0m1 0h0m0 2h0m1-1h0m1 2h0m1-3h0m0 4h0m0-5h0m1 1h0m0 4h0m1-2h0m0-1h0m1-1h0m0 4h0m0-1h0m1-2h0m1 3h0m1-2h0m0-1h0m2-2h0m1 5h0m0-3h0m1-1h0m0 4h0m1 0h0m0-3h0m0 2h0m1-2h0m1-1h0m1 2h0m1-1h0m0 2h0m0 1h0m1-1h0m1-1h0m1 0h0m0 2h0m1-1h0m0-3h0m0 1h0m1 1h0m0 2h0m1-2h0m0-3h0m0 2h0m2 1h0m0-3h0m0 4h0m1 0h0m1-2h0m3 3h0m5-5h0m7 0h0m-17 8h0m0-1h0m-5 0h0m-1 1h0m-4-2h0m0 4h0m-1-4h0m-1 3h0m-2 0h0m-1 1h0m-1-4h0m-1 2h0m-1-1h0m0-1h0m0 4h0m-1-4h0m0 2h0m-1-2h0m-2 0h0m0 4h0m-1-4h0m0 4h0m0-1h0m-2-3h0m-1 0h0m0 5h0m-1-4h0m-1 1h0m0-1h0m-1-1h0m-1 2h0m0-1h0m0 4h0m0-5h0m-1 2h0m0 2h0m0-3h0m0 2h0m0 2h0m-1-3h0m0-1h0m-2 4h0m0-4h0m-1 3h0m-1-2h0m-2-2h0m0 1h0m0 2h0m-1-3h0m0 2h0m-1-2h0m0 2h0m-1 3h0m-1-5h0m-1 2h0m0 2h0m0-1h0m-3-1h0m-1 0h0m-1-2h0m0 2h0m-1-2h0m0 2h0m-1 3h0m-1-4h0m0 4h0m-2-3h0m-1-2h0m-1 0h0m-1 4h0m-1 1h0m0-4h0m-2 1h0m-1-2h0m-1 0h0m0 2h0m-1 3h0m-2-2h0m-2 0h0m-2-3h0m0 1h0m-1 2h0m0 2h0m-3-1h0m0-1h0m-2 2h0m0-1h0m-1-1h0m0 1h0m-1-4h0m0 2h0m-1 3h0m-1-4h0m-1 1h0m-1-1h0m0 2h0m0 2h0m0-3h0m-1-1h0m0 2h0m-1 0h0m0 2h0m0-5h0m-1 1h0m0 2h0m-1-3h0m-1 4h0m-1-1h0m0-3h0m-1 0h0m-1 2h0m-1 0h0m-1-1h0m-1 2h0m0-3h0m0 2h0m0 2h0m0-3h0m-1 3h0m-1-4h0m0 4h0m-1 0h0m0-3h0m-1 3h0m0-3h0m-1 4h0m0-1h0m-1-1h0m0 1h0m-1-1h0m0-1h0m-1-1h0m0 4h0m0-5h0m0 2h0m0 2h0m-1 0h0m0-3h0m0 2h0m0 2h0m-1-2h0m0 2h0m0-1h0m-1-4h0m0 3h0m-1-2h0m0 3h0m-1-3h0m0-1h0m-1 3h0m0-3h0m0 2h0m-1-2h0m0 4h0m0-3h0m0 4h0m-1-3h0m0 2h0m-1-4h0m0 2h0m-1 0h0m-1 0h0m0 2h0m-1-1h0m0-3h0m-1 3h0m0 2h0m-1-2h0m-1-2h0m0 2h0m0 2h0m-1-5h0m0 2h0m0 2h0m0-1h0m-1 0h0m0 1h0m-1 1h0m0-3h0m0 2h0m-1-3h0m0 4h0m-1-4h0m0 2h0m0 2h0m0-5h0m0 2h0m0 2h0m-1-3h0m-1-1h0m0 2h0m0 2h0m0-3h0m-1 0h0m0 4h0m-1-2h0m0-1h0m-1 2h0m0-4h0m-1 4h0m0 1h0m-1-2h0m0-3h0m0 4h0m-1 1h0m0-1h0m-1-1h0m0-2h0m-1 4h0m0-4h0m-1 1h0m-1-1h0m0 2h0m0-1h0m0 2h0m-1-2h0m0 2h0m-1-3h0m0 2h0m0-3h0m-1 4h0m0-1h0m0 2h0m-1-2h0m0-3h0m-1 0h0m0 2h0m0 2h0m0-3h0m0 4h0m-1 0h0m0-1h0m-1 0h0m-1-2h0m0 2h0m-1-3h0m0-1h0m-1 3h0m-1 1h0m0-1h0m0-1h0m-1 1h0m0-3h0m-1 1h0m0-1h0m-1 4h0m-1-1h0m0-3h0m0 2h0m-1 0h0m-1-1h0m-1 1h0m0 2h0m0-3h0m0 2h0m0-3h0m-1 3h0m0 2h0m0-3h0m-1 2h0m0-1h0m-1 0h0m0-1h0m-1 1h0m0 2h0m0-5h0m0 4h0m-1-3h0m0-1h0m-1 0h0m0 4h0m0-1h0m-1 0h0m0-1h0m-1 3h0m-1-5h0m0 4h0m-1-1h0m-1-1h0m-2 1h0m-1 2h0m0-5h0m-2 1h0m-1-1h0m0 3h0m-2 0h0m-1-3h0m0 4h0m-1-4h0m0 2h0m-1-1h0m0-1h0m-2 3h0m0-3h0m-1 0h0m0 2h0m-1-1h0m0 4h0m-1 0h0m-1-1h0m-1-3h0m-1 1h0m0-1h0m0 4h0m-1-4h0m0-1h0m0 2h0m0 2h0m-1-3h0m0 4h0m-1-4h0m-1-1h0m-1 5h0m-1-2h0m0 2h0m-2 0h0m-1 0h0m-1-1h0m0-1h0m-1 2h0m-1-2h0m-1 2h0m-1-4h0m0 2h0m0 2h0m-1-4h0m0 2h0m-1-1h0m0 2h0m-1-2h0m-1 1h0m-1-2h0m-1 1h0m-1-2h0m0 3h0m-1 0h0m0-3h0m0 2h0m-1-1h0m0 1h0m-1 1h0m0 2h0m-1-5h0m-1 5h0m0-5h0m-1 4h0m-1-4h0m0 2h0m-1-2h0m-1 4h0m0 1h0m0-5h0m-1 5h0m0-5h0m0 4h0m-1 1h0m-1-4h0m0 1h0m-1 1h0m0 2h0m0-5h0m-1 4h0m0 1h0m-1-3h0m-1 3h0m-1-5h0m-1 0h0m-3 1h0m-1-1h0m-1 3h0m-1-3h0m0 2h0m-1 1h0m-3 0h0m-2-1h0m6 4h0m2 2h0m1 0h0m2 1h0m2-2h0m0-1h0m2 2h0m0-1h0m1 2h0m0-3h0m0 1h0m1 3h0m1-3h0m0-1h0m1 3h0m1-2h0m0 2h0m0 1h0m1-4h0m0 3h0m0 2h0m1-5h0m0 4h0m1 1h0m0-1h0m1-1h0m0 1h0m1 1h0m0-4h0m1 1h0m0-1h0m1 1h0m0 2h0m0-4h0m1 1h0m1 2h0m0-1h0m1-2h0m0 2h0m1-2h0m0 2h0m1 3h0m0-5h0m1 1h0m0 2h0m0-3h0m0 2h0m1-2h0m0 2h0m1 2h0m1-3h0m2 4h0m0-4h0m1-1h0m1 2h0m0 2h0m0 1h0m1-2h0m0-2h0m1 3h0m0 1h0m1-3h0m1 2h0m0-3h0m0 2h0m1-1h0m1 3h0m1-5h0m1 5h0m0-1h0m1 1h0m0-5h0m0 1h0m1 4h0m0-3h0m0 2h0m1-4h0m0 2h0m0 2h0m0-1h0m1 1h0m1 0h0m0-1h0m1-3h0m0 2h0m1 0h0m0 2h0m1-4h0m0 1h0m0 4h0m1-1h0m0-3h0m0 2h0m1 2h0m1 0h0m0-4h0m1 2h0m0-3h0m0 1h0m1 1h0m0 1h0m1-3h0m0 2h0m3 0h0m1-2h0m1 5h0m0-4h0m1 2h0m0 2h0m1-2h0m0-3h0m1 4h0m0-3h0m0 2h0m0 2h0m1 0h0m0-4h0m1 1h0m0 2h0m1-1h0m2-2h0m0 1h0m2-1h0m0 4h0m1-5h0m1 0h0m0 4h0m1-2h0m0-1h0m0 2h0m1 2h0m0-4h0m0 2h0m1-3h0m0 2h0m1-2h0m0 2h0m1 3h0m0-5h0m0 2h0m0 2h0m1-2h0m0 1h0m1-3h0m0 1h0m1 0h0m0 2h0m0 2h0m1-5h0m0 4h0m1-4h0m1 2h0m0 2h0m0-3h0m0 2h0m0 2h0m0-5h0m2 0h0m0 4h0m0-1h0m0 2h0m1-5h0m0 2h0m0 2h0m1-3h0m0 3h0m1-3h0m1 4h0m0-1h0m0-3h0m0 2h0m1 1h0m0-3h0m0-1h0m0 2h0m1 0h0m0 1h0m0 2h0m1-4h0m0 4h0m1-5h0m0 3h0m0 2h0m1 0h0m0-5h0m0 2h0m1 1h0m0 2h0m0-5h0m0 2h0m1 3h0m1-1h0m0-3h0m0 4h0m0-5h0m1 3h0m0-1h0m1-2h0m0 5h0m1-4h0m0 4h0m1-5h0m0 4h0m0 1h0m1-4h0m1 1h0m0-1h0m0 4h0m1-1h0m0-3h0m1 3h0m1-4h0m0 4h0m2 0h0m0-3h0m0 4h0m1-2h0m1-2h0m0 4h0m1 0h0m0-5h0m0 2h0m1 0h0m0-1h0m1 0h0m0 2h0m1 1h0m1-3h0m0-1h0m0 2h0m0 2h0m1-3h0m0 2h0m0 2h0m1-5h0m0 2h0m2 2h0m0-3h0m0 4h0m1-1h0m0-4h0m1 2h0m0 2h0m1-3h0m3 3h0m0-3h0m0 4h0m1-4h0m1 3h0m0-1h0m1 1h0m0-4h0m1 2h0m0 3h0m1-1h0m1-4h0m0 2h0m0-1h0m1-1h0m0 2h0m1 0h0m0-1h0m0 2h0m1-2h0m1-1h0m1 5h0m1-3h0m1 2h0m1-4h0m1 1h0m0 4h0m0-5h0m0 2h0m1-2h0m0 2h0m1-2h0m0 4h0m1-2h0m0 1h0m1 0h0m2 2h0m0-5h0m0 2h0m1-1h0m0 4h0m1-3h0m0-1h0m0 2h0m1-2h0m0 3h0m1 1h0m1-3h0m1-2h0m0 4h0m0-1h0m1 2h0m1-3h0m0 1h0m1-1h0m0-2h0m2 0h0m0 4h0m0-3h0m1 0h0m0 4h0m0-5h0m2 1h0m0 1h0m1-2h0m0 1h0m2-1h0m2 3h0m0 2h0m0-3h0m3 3h0m0-3h0m1 0h0m0-1h0m1 3h0m1 0h0m0-3h0m0 4h0m0-5h0m1 2h0m3 0h0m1-2h0m2 2h0m1 0h0m1-1h0m0 2h0m1 0h0m0-3h0m1 5h0m1-4h0m0 2h0m0 2h0m0-5h0m0 2h0m2 1h0m0 2h0m3-4h0m0-1h0m1 0h0m1 2h0m1 0h0m1-1h0m0 4h0m0-3h0m1-1h0m1 1h0m1-1h0m0-1h0m1 1h0m3-1h0m1 3h0m1 0h0m1-2h0m7-1h0m4 0h0m-24 7h0m-1 2h0m-2-2h0m0 2h0m-2 0h0m-1 0h0m-1-1h0m-1 1h0m0-3h0m-1 4h0m-2-2h0m-2 1h0m0-2h0m-2 1h0m0 1h0m-1-3h0m0 2h0m0 3h0m-1 0h0m0-1h0m-1-4h0m0 1h0m-1 2h0m0 2h0m-1 0h0m-1-4h0m0 2h0m-1 0h0m-2-3h0m0 4h0m0 1h0m-2-5h0m0 1h0m-1 4h0m-1-2h0m0 1h0m-2-2h0m-1-1h0m0 4h0m-2-2h0m0 2h0m0-5h0m0 2h0m-1 3h0m0-1h0m-1-2h0m-1 0h0m0-1h0m-1 2h0m-1-2h0m-1-1h0m-1 2h0m-2 2h0m-1-1h0m0 2h0m0-5h0m-1 0h0m-1 3h0m-1 2h0m0-1h0m-2 1h0m0-1h0m0-3h0m-1 0h0m0-1h0m-2 0h0m0 2h0m-1 3h0m0-5h0m-1 0h0m-1 2h0m-2-1h0m-1 3h0m-2-2h0m0 3h0m-1-3h0m-1-2h0m0 5h0m-1-3h0m-1-2h0m-1 0h0m0 4h0m0-3h0m-1-1h0m0 2h0m0-1h0m0 4h0m-1-2h0m0 1h0m-3-3h0m-1-1h0m-1 4h0m0-3h0m-1 0h0m0 2h0m-1 0h0m0-1h0m-1 3h0m-1-2h0m-1-1h0m-1 0h0m0 2h0m-1-3h0m-1 4h0m-1-1h0m-1-1h0m0-3h0m-1 3h0m-1-1h0m-1 0h0m-1 0h0m-1-2h0m0 3h0m-1 0h0m0 2h0m-1 0h0m0-5h0m0 4h0m-1-2h0m-1-2h0m0 1h0m-1 1h0m-1 3h0m0-5h0m-1 4h0m0-4h0m-1 2h0m-1-2h0m-1 2h0m0 2h0m-1 1h0m-2 0h0m0-5h0m-1 0h0m-1 0h0m0 4h0m-1-1h0m0 2h0m-1-5h0m-1 5h0m0-1h0m-1-2h0m0-1h0m-1 2h0m0 2h0m0-4h0m-1 0h0m0 2h0m0-3h0m-1 4h0m0-3h0m0 1h0m-1 1h0m0 2h0m0-5h0m0 4h0m-1-3h0m0 2h0m0-3h0m0 4h0m-1 0h0m-1 0h0m0-3h0m0 2h0m-1-2h0m0 1h0m-1-2h0m-1 1h0m0 2h0m0 2h0m0-1h0m-1-1h0m0 2h0m0-5h0m-1 2h0m-1 1h0m0-3h0m0 2h0m0 2h0m-1-1h0m-1-1h0m0 2h0m-1-3h0m0 3h0m-1 1h0m0-5h0m0 2h0m0 2h0m-1 0h0m0-4h0m-1 0h0m0 2h0m-1 3h0m0-5h0m0 2h0m-1-1h0m0 4h0m-1-1h0m-1 0h0m-1-1h0m0 2h0m-1-2h0m-1 0h0m0 2h0m-1-2h0m0-3h0m-1 0h0m-2 4h0m0-1h0m-1-1h0m-1-1h0m0 4h0m0-1h0m-1-1h0m0-3h0m-1 3h0m-1-2h0m0 2h0m0 2h0m0-3h0m-1-2h0m0 4h0m-2 1h0m-1-1h0m-1-4h0m0 2h0m0 2h0m-1-1h0m-1 0h0m0 2h0m0-1h0m-1 0h0m0-1h0m-1 2h0m0-5h0m0 2h0m0 2h0m-4 0h0m-2 0h0m0-3h0m0 4h0m-1 0h0m0-3h0m-1 0h0m-1 2h0m0-3h0m0-1h0m-1 1h0m0-1h0m-1 3h0m-2-1h0m0 3h0m-1-1h0m-1 0h0m0 1h0m0-5h0m0 2h0m-1 0h0m-2-2h0m0 4h0m-1-3h0m-2 0h0m-2 2h0m0-3h0m-1 1h0m-1 1h0m-1-2h0m-1 3h0m0-3h0m-1 1h0m-1 1h0m0 2h0m0-3h0m0 2h0m-1-3h0m0 4h0m-3-3h0m0-1h0m4 8h0m3 1h0m2 2h0m0-5h0m0 1h0m1-1h0m0 1h0m1 1h0m0 2h0m1-2h0m1 1h0m0-1h0m0 2h0m1-4h0m0 5h0m1 0h0m1-2h0m2-3h0m0 4h0m1-4h0m0 2h0m1 3h0m0-3h0m1 1h0m0 2h0m1-4h0m1 4h0m0-5h0m0 4h0m2 1h0m0-3h0m2 3h0m0-1h0m0-1h0m1 0h0m0-3h0m0 2h0m1 2h0m0-3h0m1 2h0m1 1h0m1 1h0m0-3h0m1 2h0m0-1h0m1 2h0m0-5h0m0 2h0m1 0h0m1-2h0m1 2h0m0 2h0m1-2h0m1 0h0m0 2h0m0-3h0m1-1h0m0 3h0m1 1h0m1-4h0m0 2h0m0 3h0m1-3h0m0-2h0m1 2h0m0 1h0m1-1h0m1-2h0m2 2h0m1 3h0m0-3h0m0 2h0m1-2h0m0-1h0m0 4h0m1-4h0m0 2h0m1 1h0m0-3h0m1 4h0m0-1h0m0-3h0m1 2h0m0 2h0m1-3h0m0-1h0m0 2h0m1-2h0m0-1h0m0 4h0m1-1h0m1 1h0m0-3h0m0 2h0m0-3h0m1 3h0m0 2h0m1-1h0m1-2h0m0 2h0m0-3h0m0 2h0m1 0h0m1-3h0m1 2h0m0-2h0m1 4h0m0-3h0m0 2h0m0-3h0m1 0h0m0 4h0m0-3h0m0 4h0m1-1h0m0-3h0m1 3h0m2-3h0m0 2h0m1-2h0m0-1h0m1 0h0m0 2h0m0-1h0m1 3h0m0 1h0m1-3h0m0 1h0m0 2h0m1-2h0m1 1h0m0-4h0m1 2h0m1 2h0m0-3h0m1-1h0m1 4h0m1-1h0m0 2h0m0-3h0m0 2h0m2-1h0m1 1h0m0-1h0m1 0h0m1-2h0m0 3h0m1-4h0m0 1h0m1 0h0m0-1h0m1 2h0m1 2h0m2 1h0m2-3h0m1 0h0m0 1h0m1-2h0m0 2h0m0-1h0m1 2h0m1 1h0m0-4h0m1 1h0m0 1h0m2-2h0m0 2h0m0-3h0m2 0h0m0 1h0m1 3h0m2 0h0m0-4h0m1 4h0m2-2h0m1 2h0m0-3h0m0-1h0m1 1h0m0 2h0m0 2h0m0-3h0m0 2h0m1 1h0m1-5h0m1 2h0m0 1h0m0 2h0m1-3h0m0-1h0m1 4h0m0-5h0m1 0h0m0 4h0m1-3h0m0 4h0m2-4h0m1 2h0m1-1h0m0 2h0m0-3h0m2 4h0m1-4h0m5 0h0m0-1h0m0 2h0m3 2h0m0-3h0m0 2h0m1-3h0m0 2h0m1 2h0m0-3h0m0 2h0m0-3h0m1 2h0m0 1h0m0-3h0m1 3h0m1-3h0m1 1h0m0 4h0m0-1h0m2-1h0m0 2h0m1-4h0m1-1h0m1 5h0m3-5h0m1 0h0m1 4h0m0-3h0m1 2h0m1-1h0m1-1h0m0 3h0m1-4h0m0 3h0m1 2h0m2-2h0m0-3h0m2 1h0m0-1h0m1 5h0m0-1h0m1 0h0m1 1h0m0-1h0m1 1h0m1-2h0m1 1h0m0-3h0m2 2h0m1 0h0m0-3h0m1 0h0m3 0h0m-3 7h0m-2 1h0m-2 1h0m-4 0h0m-1 0h0m-1-3h0m-1 0h0m0 4h0m-3 1h0m-1 0h0m0-5h0m-1 4h0m-1 0h0m-1-3h0m-1 0h0m-1 3h0m-2-4h0m-3 3h0m0-2h0m-1 4h0m0-3h0m-1 2h0m-2-2h0m0 1h0m-1-3h0m0 2h0m-1-2h0m0 2h0m-1 3h0m0-4h0m-1 3h0m-2 0h0m-3-3h0m0 4h0m0-5h0m-1 5h0m0-5h0m0 3h0m-2-2h0m-1 1h0m-2 0h0m-1 1h0m-1 0h0m0-1h0m-1 0h0m-1-2h0m0 2h0m0 3h0m-1-5h0m-2 4h0m-1-1h0m0 2h0m0-1h0m0-3h0m-1 2h0m0-3h0m0 4h0m0-3h0m-1 1h0m0 2h0m-1-2h0m0-1h0m-2 3h0m0-1h0m0-3h0m-1 5h0m0-5h0m-1 2h0m0-1h0m-1 0h0m0 2h0m-1 0h0m0-3h0m0 2h0m0 2h0m-1-1h0m-1 1h0m-1-2h0m0-1h0m-1 0h0m0 4h0m0-5h0m0 2h0m-1-1h0m0 1h0m-1 1h0m0 2h0m0-1h0m0-3h0m-3-1h0m0 4h0m-1-1h0m-1 0h0m0 2h0m-1 0h0m-3-3h0m0 2h0m-2-4h0m-1 0h0m-2 3h0m0 2h0m0-1h0m-1-4h0m-2 0h0m0 1h0m-1 1h0m-1-1h0m0 2h0m0 2h0m0-3h0m-1-1h0m-1 2h0m0 2h0m0-5h0m-1 1h0m-1 2h0m0-1h0m-1-1h0m0 4h0m0-5h0m-1 0h0m0 2h0m0 2h0m-1-1h0m-1 2h0m-2-4h0m0 3h0m-1 1h0m-1-1h0m-1 0h0m0-3h0m0 2h0m-1-2h0m-1 4h0m-3-2h0m0 2h0m-1-5h0m0 2h0m0-1h0m-1 2h0m0 2h0m0-5h0m0 4h0m0-3h0m-1 2h0m-2 0h0m-1-1h0m0 2h0m-2-2h0m0 2h0m0-1h0m-2-1h0m-1 1h0m0 2h0m0-3h0m0 2h0m-1-1h0m-1 2h0m-1-2h0m-1 2h0m-1-2h0m0-1h0m-1-1h0m0-1h0m-1 1h0m0-1h0m0 2h0m-1 0h0m-3-1h0m0 4h0m-1-1h0m-1-2h0m-1-1h0m0 2h0m-1-3h0m0 2h0m-1-1h0m0 1h0m-2-2h0m0 3h0m0 2h0m-1-2h0m0 1h0m-1 1h0m0-3h0m0-1h0m0 2h0m-1 0h0m0 2h0m-1 0h0m-1 0h0m0-3h0m-1-2h0m0 2h0m-1 1h0m0-3h0m0 2h0m-1 0h0m-1 0h0m0-1h0m0 2h0m-1 1h0m-1-1h0m-1 2h0m-1-1h0m0 1h0m-2-5h0m-1 1h0m0 2h0m-2-2h0m-1 1h0m-1 2h0m-1 1h0m0-5h0m0 3h0m-3-3h0m7 7h0m1-1h0m1 5h0m0-5h0m2 3h0m1 0h0m1-3h0m0 4h0m1-4h0m0 4h0m1-4h0m0 2h0m1 3h0m1 0h0m0-3h0m0-1h0m1 3h0m1-3h0m1 3h0m0-3h0m1 0h0m2-1h0m0 1h0m0 2h0m1 0h0m0-1h0m2 0h0m0-2h0m1 2h0m0-2h0m1 0h0m0 4h0m1 0h0m0-1h0m1 1h0m1 1h0m0-5h0m0 2h0m1 0h0m0-2h0m1 0h0m0 2h0m1-2h0m0 3h0m2 1h0m0-3h0m0 4h0m1 0h0m0-1h0m1-2h0m0 2h0m0-3h0m1 3h0m0 1h0m0-5h0m1 2h0m0 2h0m1 0h0m0-3h0m0 4h0m1-4h0m0 2h0m0-3h0m0 2h0m1 3h0m0-5h0m0 4h0m0-3h0m1 1h0m0 3h0m1-3h0m1-1h0m0 2h0m0 2h0m0-3h0m1-1h0m1 1h0m0 2h0m1-4h0m0 4h0m0-3h0m1 0h0m1 3h0m0-3h0m0 4h0m1-3h0m1 1h0m1-3h0m1 0h0m1 4h0m1 0h0m0-4h0m1 0h0m0 4h0m1-4h0m1 4h0m0 1h0m0-3h0m2 0h0m0 2h0m1-2h0m1 0h0m0-1h0m1 2h0m0 2h0m0-5h0m0 2h0m1-2h0m0 2h0m0 2h0m0-3h0m0 4h0m1-2h0m1-1h0m0-2h0m1 2h0m0 2h0m0-3h0m0 2h0m1-3h0m0 1h0m0 4h0m1-3h0m0 3h0m0-5h0m3 1h0m0 2h0m0-3h0m1 4h0m1 0h0m0 1h0m1-5h0m1 1h0m1 0h0m0 4h0m1-2h0m1-1h0m2-1h0m2 3h0m1 0h0m1-2h0m0 3h0m0-5h0m1 3h0m0-3h0m0 2h0m1 1h0m0 2h0m1-3h0m1 2h0m0-1h0m1-3h0m1 4h0m1-2h0m0 2h0m0 1h0m2-5h0m0 2h0m1-1h0m1 3h0m0-3h0m2 0h0m1 0h0m0 2h0m0 2h0m1-1h0m2-2h0m3 3h0m0-5h0m1 2h0m2 2h0m0-1h0m1-1h0m1 0h0m1-2h0m2 5h0m3 0h0m3-2h0m0-1h0m1-2h0m0 4h0m1-1h0m4-2h0m0 1h0m6 2h0m1-2h0m1 2h0m2-3h0m0-1h0m1 5h0m4 0h0m0-3h0m1 1h0m1-3h0m3 3h0m-7 4h0m-5 1h0m-1-2h0m0 1h0m0 4h0m-1-5h0m0 1h0m-1 4h0m-1-5h0m0 2h0m0 2h0m-1-4h0m-2 1h0m-2 4h0m-3-4h0m-1 4h0m-1-1h0m-1-3h0m-2 0h0m-4 3h0m0-1h0m-2-2h0m-1 1h0m-3 3h0m0-5h0m-3 3h0m-2 0h0m-1-1h0m0-1h0m-5-1h0m0 2h0m0-1h0m-2 2h0m-1-3h0m0 4h0m-2-3h0m-2 2h0m0-1h0m-1-2h0m0 1h0m0 2h0m-1 1h0m-1 1h0m0-5h0m0 2h0m-1 1h0m0 2h0m-1-5h0m-1 1h0m-1 2h0m0 2h0m0-5h0m0 4h0m0-3h0m-1 2h0m0 2h0m-1-5h0m0 2h0m0 1h0m-2 2h0m0-3h0m-1-2h0m-1 3h0m0-1h0m0 2h0m-1-4h0m0 1h0m-1 0h0m0 2h0m0-3h0m0 4h0m-1 1h0m-1-4h0m0 1h0m0 2h0m-1-2h0m0 2h0m0-3h0m0 2h0m-1 0h0m-1-3h0m0 4h0m-1-1h0m0-1h0m0-1h0m-1-1h0m-1 2h0m-1 2h0m-1-4h0m-1 5h0m0-5h0m-1 5h0m0-5h0m0 2h0m-1 1h0m0-3h0m-1 2h0m-1 0h0m-1-1h0m0 2h0m0-3h0m-1 1h0m0 2h0m0 2h0m0-1h0m-1-4h0m0 2h0m0-1h0m-1 1h0m-1-2h0m0 2h0m-1-1h0m0 2h0m0-3h0m0 2h0m-1-2h0m0 4h0m0-3h0m-1 0h0m0 4h0m0-5h0m0 2h0m-1 3h0m0-4h0m-1 4h0m0-3h0m-1-1h0m-1 4h0m0-5h0m0 1h0m-1 4h0m-1-3h0m-1 3h0m0-5h0m0 4h0m-1-1h0m0-1h0m-1 1h0m0 2h0m0-3h0m0 2h0m-2-3h0m0 4h0m0-5h0m-1 0h0m-1 0h0m0 2h0m-1-2h0m-1 5h0m0-5h0m0 2h0m0 2h0m-1-3h0m-2 3h0m-1-3h0m0 2h0m0-1h0m-1-2h0m-1 3h0m-2-3h0m0 4h0m-1-3h0m0 3h0m-1-1h0m0-1h0m0 2h0m0-3h0m-1 2h0m0 2h0m-1-3h0m-1-1h0m-2 2h0m0-1h0m0 2h0m-3 1h0m-1-4h0m0 2h0m0 1h0m-1-3h0m-1 0h0m-1 0h0m-1 2h0m0-3h0m0 4h0m-3-3h0m-2 1h0m5 6h0m2 2h0m2-4h0m1 0h0m1 2h0m0 2h0m0-3h0m1 2h0m0 2h0m0-4h0m2 3h0m0-1h0m1-1h0m0 2h0m0 1h0m1-2h0m0-1h0m1 2h0m0 1h0m1-2h0m2 0h0m0-3h0m1 5h0m0-5h0m1 2h0m0-1h0m0 4h0m1-1h0m0-3h0m1 1h0m0 2h0m0-1h0m1 2h0m1-3h0m0 3h0m1-4h0m0-1h0m1 1h0m1 0h0m0 2h0m1 1h0m0-3h0m0-1h0m1 1h0m1-1h0m1 2h0m0 3h0m2-5h0m0 2h0m0 2h0m0 1h0m1-4h0m0-1h0m1 2h0m2 2h0m1-4h0m0 2h0m1 0h0m0 2h0m0 1h0m0-5h0m1 1h0m1 1h0m0 1h0m1-1h0m2-1h0m0 2h0m2 2h0m1-4h0m1-1h0m0 3h0m1 1h0m0-3h0m1 1h0m1-1h0m2 3h0m0-3h0m0 2h0m1 0h0m1 1h0m0-3h0m0 2h0m0-3h0m1 4h0m0-3h0m0 4h0m1-4h0m0 3h0m1 0h0m0-4h0m1 1h0m1-1h0m1 3h0m1 2h0m1-2h0m0 2h0m1-5h0m1 4h0m1 0h0m0-3h0m1 2h0m1-2h0m0 2h0m1-1h0m3-2h0m0 4h0m1-4h0m1 1h0m0 4h0m2-2h0m1 1h0m0 1h0m1 0h0m0-4h0m1 3h0m0 1h0m0-3h0m2 2h0m1 0h0m1-3h0m0 1h0m1 1h0m1-2h0m1 4h0m2-5h0m2 0h0m0 2h0m5 0h0m1-1h0m0 2h0m5 2h0m2-1h0m1 0h0m1-4h0m1 3h0m0 2h0m2 0h0m1-2h0m0-1h0m1 0h0m3 2h0m3 0h0m3 1h0m2-5h0m0 2h0m2-2h0m2 1h0m-13 5h0m0 2h0m-1 1h0m-1-3h0m-1 4h0m-5-2h0m-2-2h0m-7 1h0m-5 1h0m-3 0h0m-1-2h0m-2 5h0m-3-4h0m-1 2h0m-1 1h0m-1-4h0m-1 1h0m-1-1h0m0 2h0m-1 3h0m0-5h0m-1 4h0m-1-4h0m-1 5h0m-4-3h0m0-1h0m0 2h0m-1-3h0m0 1h0m-1 0h0m0 4h0m-1-5h0m-1 2h0m-1 2h0m-3-3h0m0 2h0m-1-3h0m-2 5h0m0-5h0m0 2h0m-1-2h0m0 4h0m-2 0h0m-1 1h0m-1-4h0m-1-1h0m0 2h0m-1 3h0m-1 0h0m0-5h0m0 1h0m0 2h0m-1-3h0m-1 4h0m0-3h0m-1 3h0m-1-4h0m0 1h0m-1 1h0m0 2h0m-1-3h0m0 3h0m-1-2h0m0 2h0m-1-4h0m0 4h0m-1-2h0m-1 2h0m-1-4h0m-1 4h0m0-3h0m-1-1h0m0 3h0m-1-2h0m0 1h0m-2 2h0m-1 1h0m0-5h0m-3 1h0m0 2h0m0 2h0m0-5h0m0 4h0m-1-2h0m-1 1h0m0-1h0m-1 1h0m-1 2h0m0-3h0m-1 0h0m-2-2h0m-2 3h0m-1-2h0m-1 2h0m0-1h0m-1-1h0m-1 4h0m0-3h0m-1 0h0m-2-1h0m-1 1h0m-1-2h0m-3 1h0m6 6h0m2-1h0m2 2h0m0 2h0m0-3h0m1 1h0m0 3h0m0-5h0m1 0h0m1 5h0m0-3h0m0-1h0m1 0h0m0 2h0m0-3h0m2 3h0m0-1h0m0 2h0m1-2h0m1 2h0m1-4h0m1 4h0m2 1h0m0-5h0m2 1h0m1 2h0m0-3h0m2 2h0m1 0h0m0-1h0m0 4h0m1-1h0m0-1h0m1-2h0m1-1h0m1 4h0m1-1h0m0 2h0m1-3h0m1 1h0m3 1h0m1 1h0m1-3h0m0 1h0m1 1h0m1-2h0m1-2h0m1 4h0m1-4h0m0 2h0m1-2h0m0 2h0m0 2h0m1-4h0m1 1h0m1-1h0m0 2h0m0 2h0m0-3h0m1 4h0m0-1h0m1-1h0m2 0h0m1-2h0m0 2h0m2-1h0m0 3h0m2-5h0m1 1h0m0 1h0m2 1h0m4 0h0m2-2h0m0 4h0m2-3h0m2-2h0m3 4h0m2 1h0m0-1h0m3 0h0m8 1h0m2-1h0m0-4h0m3 0h0m0 7h0m-2 0h0m-3-1h0m-1 1h0m0 4h0m-1-4h0m-2 1h0m-6-1h0m-2 4h0m-1-4h0m-3 4h0m0-5h0m0 2h0m-1 1h0m-2-3h0m0 1h0m-2 3h0m-1-3h0m0 2h0m-6 0h0m-1 1h0m-1-2h0m-1-2h0m-1 5h0m-2-4h0m-1 4h0m0-1h0m-1 1h0m-1-2h0m-1-2h0m-1 4h0m0-3h0m-2-1h0m-1 4h0m-2-4h0m-1 1h0m-1 1h0m-1-1h0m0 2h0m0-3h0m0 2h0m0 2h0m-1-1h0m-1 0h0m-1 1h0m0-5h0m-2 0h0m-1 5h0m0-3h0m0-1h0m-3-1h0m-1 0h0m-2 0h0m-1 4h0m-1-3h0m-1-1h0m0 5h0m-1-1h0m0-1h0m-1-3h0m0 4h0m-1-1h0m0-3h0m0 2h0m0 2h0m-1-1h0m0 2h0m0-3h0m0 2h0m-1-3h0m0 4h0m0-5h0m-1 5h0m0-5h0m0 2h0m0 2h0m0-3h0m-1 4h0m0-3h0m-1 0h0m0-1h0m-1 3h0m0-2h0m-1-2h0m0 2h0m-1-1h0m-2 1h0m-1-1h0m6 5h0m0 4h0m3-2h0m1-1h0m1 1h0m0 2h0m0 1h0m4-4h0m0 4h0m3-5h0m1 4h0m2-3h0m0 3h0m1-1h0m2 2h0m0-5h0m1 1h0m1 4h0m1-2h0m3 0h0m3 1h0m2-3h0m1-1h0m0 2h0m2-1h0m1 0h0m0 2h0m1 2h0m3-4h0m4-1h0m1 0h0m2 0h0m2 3h0m0-3h0m0 2h0m1 3h0m1-1h0m2-2h0m1-1h0m0-1h0m1 0h0m1 3h0m1-1h0m0 2h0m1-2h0m1-1h0m1-1h0m1 3h0m0 1h0m1 0h0m1 1h0m0-5h0m2 1h0m4 3h0m5-4h0m-15 6h0m0 2h0m-1 0h0m-3 2h0m-3-4h0m-2 5h0m0-3h0m-1-2h0m0 1h0m-2-1h0m-1 4h0m-3-1h0m-2-1h0m-2-1h0m-1 1h0m-1 0h0m-1 3h0m-1-2h0m-1 1h0m-2-3h0m-1 4h0m-2-4h0m-1 4h0m-1-1h0m-1-3h0m-1 4h0m0-5h0m0 2h0m-1 0h0m-3 1h0m0-3h0m-1 0h0m0 1h0m-1 0h0m-3-1h0m0 1h0m-2 0h0m-1 4h0m-5-5h0m-2 2h0m9 5h0m3 0h0m4-1h0m1 1h0m0 4h0m1-3h0m0 1h0m2-2h0m0 1h0m1-2h0m0 2h0m1-1h0m0 2h0m1 2h0m0-1h0m2-1h0m0-2h0m1-1h0m0 2h0m2-1h0m3 4h0m3-5h0m3 5h0m1-2h0m1-1h0m2 3h0m2-5h0m2 1h0m0 1h0m2-1h0m-23 8h0m-1-1h0m-3-1h0m-1 0h0m84 12h0m-15 19h0m14 9h0m-14-1h0m13 5h0m12 6h0m-2 1h0m-3-1h0m-3 0h0m-1-1h0m-3 0h0m-3-1h0m0 4h0m-1-4h0m-1 3h0m-1-2h0m-3 3h0m-3 0h0m-2-2h0m-1 2h0m-1 0h0m-4 0h0m-1-1h0m-23 1h0m-1-2h0m17 6h0m1 0h0m4-1h0m0 1h0m1 2h0m4-1h0m1 0h0m1-3h0m0 2h0m1-1h0m0-1h0m1-1h0m0 2h0m1-2h0m0 4h0m1 0h0m0 1h0m1-5h0m1 1h0m0 2h0m1 0h0m0-3h0m0 4h0m1-2h0m0 2h0m0-3h0m0 2h0m1 2h0m1-2h0m0-2h0m1-1h0m0 2h0m1 0h0m0-1h0m0 4h0m1 0h0m0-2h0m1-3h0m0 2h0m0 2h0m0-1h0m1 1h0m0-1h0m0 2h0m1-1h0m0-4h0m1 3h0m1-2h0m0 4h0m0-5h0m0 4h0m1-3h0m0 2h0m0 2h0m1-3h0m0 2h0m0-3h0m0 4h0m1-2h0m1 1h0m1-3h0m0-1h0m1 5h0m2-5h0m0 2h0m13 7h0m-13 1h0m-2-2h0m-2 0h0m-2-1h0m-2 1h0m0-1h0m-1 0h0m0 2h0m0 2h0m0-5h0m-1 2h0m-1 1h0m0-3h0m-1 1h0m-1-1h0m0 2h0m-1 3h0m0-5h0m0 2h0m0 2h0m-1-3h0m0 1h0m0 2h0m-1 0h0m0 1h0m0-5h0m-1 0h0m0 2h0m0 2h0m-1 1h0m0-5h0m0 2h0m-1 2h0m0-1h0m0 2h0m-1-5h0m0 2h0m0-1h0m-4 4h0m0-3h0m-3 2h0m-1 1h0m-2-2h0m-1-3h0m-6 0h0m-1 5h0m-5 0h0m-10 0h0m-6-4h0m8 6h0m3 4h0m18-2h0m1-2h0m5 1h0m2-1h0m0 4h0m1-5h0m1 5h0m1-5h0m1 1h0m1 1h0m2 1h0m0-3h0m1 0h0m1 2h0m1-2h0m6 2h0m-17 4h0m-2 5h0m-3-2h0m-5-1h0m-9 1h0m-1 2h0m-2 0h0m0-3h0m-1 2h0m-1-2h0m-1 2h0m-1-4h0m0 2h0m0-1h0m0 4h0m-1-5h0m-2 4h0m0-3h0m0 4h0m-1-5h0m-1 4h0m-1-1h0m-1 2h0m-1-1h0m-1 0h0m0-1h0m-1 2h0m-1 0h0m-5 0h0m-1-4h0m0 4h0m3 3h0m0-1h0m1 4h0m0-5h0m2 1h0m1-1h0m1 5h0m1-1h0m0-1h0m0 2h0m1-1h0m0-1h0m1 0h0m0 2h0m0-1h0m1-4h0m0 2h0m0 3h0m1-4h0m1-1h0m0 2h0m0 2h0m1 1h0m0-5h0m0 4h0m0-3h0m0 2h0m1 0h0m0 2h0m1-2h0m0-3h0m1 2h0m0-1h0m0 2h0m0 2h0m1-2h0m1-2h0m0 2h0m0 2h0m1-3h0m0 2h0m0-3h0m1-1h0m1 1h0m2 1h0m0 2h0m2 0h0m2-3h0m36 3h0m-15 3h0m-25 3h0m-2 1h0m0-3h0m-1 0h0m-1 3h0m0-5h0m0 2h0m-1-2h0m0 1h0m-1 1h0m0 2h0m0-3h0m-1 4h0m0-5h0m-1 4h0m-1-1h0m0-3h0m0 2h0m-1 0h0m0 2h0m-1-1h0m0-3h0m0 1h0m-1 0h0m0 2h0m0-3h0m0 4h0m-1-3h0m0 2h0m0 2h0m-1-5h0m0 4h0m0-3h0m-1 1h0m0 2h0m-1-2h0m0 3h0m-2-1h0m-2-4h0m0 3h0m-1-1h0m-1 1h0m0-1h0m-7 2h0m0-3h0m4 6h0m0 2h0m1 1h0m1 0h0m0-3h0m1 0h0m3 1h0m0 1h0m1 1h0m4-4h0m0 1h0m1 2h0m0 2h0m1-1h0m0-1h0m2-3h0m0 4h0m1-3h0m1 2h0m1-3h0m2 1h0m1 0h0m2-1h0m1 1h0m1 0h0m-1 8h0m0-1h0m-7 2h0m-5-4h0m0 2h0m-1-2h0m0 2h0m-3 2h0m-3-4h0" transform="scale(.5)" fill="none" stroke="#440154" stroke-width="2.3" stroke-linecap="round" opacity="0.92"/>
</g>
<rect x="917.00" y="188.30" width="40.00" height="54.10" fill="#b8d8e9"/>
<rect x="956.60" y="188.30" width="41.70" height="54.10" fill="#9f1228"/>
<rect x="997.90" y="188.30" width="40.70" height="54.10" fill="#d4e6f1"/>
<rect x="1038.20" y="188.30" width="41.60" height="54.10" fill="#0a3b70"/>
<rect x="1079.40" y="188.30" width="41.70" height="54.10" fill="#053061"/>
<rect x="1120.70" y="188.30" width="40.50" height="54.10" fill="#bbdaea"/>
<rect x="917.00" y="242.00" width="40.00" height="55.60" fill="#8ac0db"/>
<rect x="956.60" y="242.00" width="41.70" height="55.60" fill="#e7f0f4"/>
<rect x="997.90" y="242.00" width="40.70" height="55.60" fill="#f8bb9e"/>
<rect x="1038.20" y="242.00" width="41.60" height="55.60" fill="#ddebf2"/>
<rect x="1079.40" y="242.00" width="41.70" height="55.60" fill="#15508d"/>
<rect x="1120.70" y="242.00" width="40.50" height="55.60" fill="#c2ddec"/>
<rect x="917.00" y="297.20" width="40.00" height="54.30" fill="#fbe6da"/>
<rect x="956.60" y="297.20" width="41.70" height="54.30" fill="#2e77b5"/>
<rect x="997.90" y="297.20" width="40.70" height="54.30" fill="#f9eee7"/>
<rect x="1038.20" y="297.20" width="41.60" height="54.30" fill="#dc6e57"/>
<rect x="1079.40" y="297.20" width="41.70" height="54.30" fill="#fce2d2"/>
<rect x="1120.70" y="297.20" width="40.50" height="54.30" fill="#eff3f5"/>
<rect x="917.00" y="351.10" width="40.00" height="54.30" fill="#2b73b3"/>
<rect x="956.60" y="351.10" width="41.70" height="54.30" fill="#053061"/>
<rect x="997.90" y="351.10" width="40.70" height="54.30" fill="#8ac0db"/>
<rect x="1038.20" y="351.10" width="41.60" height="54.30" fill="#f19e7d"/>
<rect x="1079.40" y="351.10" width="41.70" height="54.30" fill="#dd7059"/>
<rect x="1120.70" y="351.10" width="40.50" height="54.30" fill="#ddebf2"/>
<rect x="917.00" y="405.00" width="40.00" height="54.80" fill="#d1e5f0"/>
<rect x="956.60" y="405.00" width="41.70" height="54.80" fill="#6bacd1"/>
<rect x="997.90" y="405.00" width="40.70" height="54.80" fill="#b1d5e7"/>
<rect x="1038.20" y="405.00" width="41.60" height="54.80" fill="#9dcbe1"/>
<rect x="1079.40" y="405.00" width="41.70" height="54.80" fill="#d25849"/>
<rect x="1120.70" y="405.00" width="40.50" height="54.80" fill="#f5aa89"/>
<path d="M1161.2 215.87h7.3" stroke="#000" stroke-width="1.5"/>
<text class="D" x="1174.7" y="222.37" font-size="18.6" fill="#000" stroke="#000" stroke-width="0.4">L2</text>
<path d="M1161.2 270.21h7.3" stroke="#000" stroke-width="1.5"/>
<text class="D" x="1174.7" y="276.71" font-size="18.6" fill="#000" stroke="#000" stroke-width="0.4">L3</text>
<path d="M1161.2 324.55h7.3" stroke="#000" stroke-width="1.5"/>
<text class="D" x="1174.7" y="331.05" font-size="18.6" fill="#000" stroke="#000" stroke-width="0.4">L4</text>
<path d="M1161.2 378.89h7.3" stroke="#000" stroke-width="1.5"/>
<text class="D" x="1174.7" y="385.39" font-size="18.6" fill="#000" stroke="#000" stroke-width="0.4">L4/L5</text>
<path d="M1161.2 433.23h7.3" stroke="#000" stroke-width="1.5"/>
<text class="D" x="1174.7" y="439.73" font-size="18.6" fill="#000" stroke="#000" stroke-width="0.4">L5/6</text>
<path d="M936.86 459.8v7.8" stroke="#000" stroke-width="1.5"/>
<text class="D" x="935.76" y="489" font-size="18" text-anchor="middle" fill="#000" stroke="#000" stroke-width="0.4">L1</text>
<path d="M977.58 459.8v7.8" stroke="#000" stroke-width="1.5"/>
<text class="D" x="976.48" y="489" font-size="18" text-anchor="middle" fill="#000" stroke="#000" stroke-width="0.4">L2</text>
<path d="M1018.29 459.8v7.8" stroke="#000" stroke-width="1.5"/>
<text class="D" x="1017.19" y="489" font-size="18" text-anchor="middle" fill="#000" stroke="#000" stroke-width="0.4">L3</text>
<path d="M1059.01 459.8v7.8" stroke="#000" stroke-width="1.5"/>
<text class="D" x="1057.91" y="489" font-size="18" text-anchor="middle" fill="#000" stroke="#000" stroke-width="0.4">L4</text>
<path d="M1099.72 459.8v7.8" stroke="#000" stroke-width="1.5"/>
<text class="D" x="1098.62" y="489" font-size="18" text-anchor="middle" fill="#000" stroke="#000" stroke-width="0.4">L5</text>
<path d="M1140.44 459.8v7.8" stroke="#000" stroke-width="1.5"/>
<text class="D" x="1139.34" y="489" font-size="18" text-anchor="middle" fill="#000" stroke="#000" stroke-width="0.4">L6</text>
<text class="D" x="1248.6" y="325.05" font-size="19.3" text-anchor="middle" fill="#000" transform="rotate(-90 1248.6 325.05)" stroke="#000" stroke-width="0.4">Layer annotations</text>
<text class="D" x="1038.8" y="515.6" font-size="19.1" text-anchor="middle" fill="#000" stroke="#000" stroke-width="0.4">He et al 2017, PFC marker genes</text>
<text class="D" x="852" y="72.2" font-size="23" text-anchor="middle" fill="#000" stroke="#000" stroke-width="0.4">Average marker expression</text>
<text class="D" x="852" y="95.1" font-size="23" text-anchor="middle" fill="#000" stroke="#000" stroke-width="0.4">(log2FC)</text>
<rect x="842" y="107.2" width="21.200000000000045" height="74.60000000000001" fill="url(#rdbu)"/>
<path d="M863.2 107.80h7.4" stroke="#000" stroke-width="1.5"/>
<text class="D" x="876.8" y="114.8" font-size="17.8" fill="#000" stroke="#000" stroke-width="0.4">1</text>
<path d="M863.2 145.10h7.4" stroke="#000" stroke-width="1.5"/>
<text class="D" x="876.8" y="152.1" font-size="17.8" fill="#000" stroke="#000" stroke-width="0.4">0</text>
<path d="M863.2 182.40h7.4" stroke="#000" stroke-width="1.5"/>
<text class="D" x="876.8" y="189.4" font-size="17.8" fill="#000" stroke="#000" stroke-width="0.4">−1</text>
<rect x="1599.00" y="178.70" width="40.30" height="47.50" fill="#e4eef4"/>
<rect x="1638.90" y="178.70" width="42.20" height="47.50" fill="#840924"/>
<rect x="1680.70" y="178.70" width="40.50" height="47.50" fill="#de735c"/>
<rect x="1720.80" y="178.70" width="41.30" height="47.50" fill="#053061"/>
<rect x="1761.70" y="178.70" width="41.70" height="47.50" fill="#053061"/>
<rect x="1803.00" y="178.70" width="39.90" height="47.50" fill="#053061"/>
<rect x="1599.00" y="225.80" width="40.30" height="47.20" fill="#cae1ee"/>
<rect x="1638.90" y="225.80" width="42.20" height="47.20" fill="#ecf2f5"/>
<rect x="1680.70" y="225.80" width="40.50" height="47.20" fill="#c6413e"/>
<rect x="1720.80" y="225.80" width="41.30" height="47.20" fill="#fddbc7"/>
<rect x="1761.70" y="225.80" width="41.70" height="47.20" fill="#8ac0db"/>
<rect x="1803.00" y="225.80" width="39.90" height="47.20" fill="#053061"/>
<rect x="1599.00" y="272.60" width="40.30" height="47.40" fill="#cae1ee"/>
<rect x="1638.90" y="272.60" width="42.20" height="47.40" fill="#2267ac"/>
<rect x="1680.70" y="272.60" width="40.50" height="47.40" fill="#124984"/>
<rect x="1720.80" y="272.60" width="41.30" height="47.40" fill="#d6604d"/>
<rect x="1761.70" y="272.60" width="41.70" height="47.40" fill="#d6604d"/>
<rect x="1803.00" y="272.60" width="39.90" height="47.40" fill="#e0ecf3"/>
<rect x="1599.00" y="319.60" width="40.30" height="47.30" fill="#2267ac"/>
<rect x="1638.90" y="319.60" width="42.20" height="47.30" fill="#053061"/>
<rect x="1680.70" y="319.60" width="40.50" height="47.30" fill="#053061"/>
<rect x="1720.80" y="319.60" width="41.30" height="47.30" fill="#e7f0f4"/>
<rect x="1761.70" y="319.60" width="41.70" height="47.30" fill="#ba2832"/>
<rect x="1803.00" y="319.60" width="39.90" height="47.30" fill="#f6b394"/>
<rect x="1599.00" y="366.50" width="40.30" height="46.30" fill="#b8d8e9"/>
<rect x="1638.90" y="366.50" width="42.20" height="46.30" fill="#8ac0db"/>
<rect x="1680.70" y="366.50" width="40.50" height="46.30" fill="#2b73b3"/>
<rect x="1720.80" y="366.50" width="41.30" height="46.30" fill="#569fc9"/>
<rect x="1761.70" y="366.50" width="41.70" height="46.30" fill="#b1d5e7"/>
<rect x="1803.00" y="366.50" width="39.90" height="46.30" fill="#760521"/>
<path d="M1842.9 202.20h7.3" stroke="#000" stroke-width="1.5"/>
<text class="D" x="1856.4" y="208.7" font-size="18.6" fill="#000" stroke="#000" stroke-width="0.4">L2</text>
<path d="M1842.9 249.50h7.3" stroke="#000" stroke-width="1.5"/>
<text class="D" x="1856.4" y="256.0" font-size="18.6" fill="#000" stroke="#000" stroke-width="0.4">L3</text>
<path d="M1842.9 296.20h7.3" stroke="#000" stroke-width="1.5"/>
<text class="D" x="1856.4" y="302.7" font-size="18.6" fill="#000" stroke="#000" stroke-width="0.4">L4</text>
<path d="M1842.9 343.30h7.3" stroke="#000" stroke-width="1.5"/>
<text class="D" x="1856.4" y="349.8" font-size="18.6" fill="#000" stroke="#000" stroke-width="0.4">L4/L5</text>
<path d="M1842.9 390.60h7.3" stroke="#000" stroke-width="1.5"/>
<text class="D" x="1856.4" y="397.1" font-size="18.6" fill="#000" stroke="#000" stroke-width="0.4">L5/6</text>
<path d="M1619.10 412.8v7.8" stroke="#000" stroke-width="1.5"/>
<text class="D" x="1624.7" y="496" font-size="19" fill="#000" transform="rotate(-90 1624.7 496)" stroke="#000" stroke-width="0.4">Layer1</text>
<path d="M1661.10 412.8v7.8" stroke="#000" stroke-width="1.5"/>
<text class="D" x="1665.5" y="496" font-size="19" fill="#000" transform="rotate(-90 1665.5 496)" stroke="#000" stroke-width="0.4">Layer2</text>
<path d="M1702.10 412.8v7.8" stroke="#000" stroke-width="1.5"/>
<text class="D" x="1706.6" y="496" font-size="19" fill="#000" transform="rotate(-90 1706.6 496)" stroke="#000" stroke-width="0.4">Layer3</text>
<path d="M1742.10 412.8v7.8" stroke="#000" stroke-width="1.5"/>
<text class="D" x="1747.6" y="496" font-size="19" fill="#000" transform="rotate(-90 1747.6 496)" stroke="#000" stroke-width="0.4">Layer4</text>
<path d="M1783.70 412.8v7.8" stroke="#000" stroke-width="1.5"/>
<text class="D" x="1788.5" y="496" font-size="19" fill="#000" transform="rotate(-90 1788.5 496)" stroke="#000" stroke-width="0.4">Layer5</text>
<path d="M1822.20 412.8v7.8" stroke="#000" stroke-width="1.5"/>
<text class="D" x="1828.9" y="496" font-size="19" fill="#000" transform="rotate(-90 1828.9 496)" stroke="#000" stroke-width="0.4">Layer6</text>
<text class="D" x="1929" y="297.5" font-size="19.3" text-anchor="middle" fill="#000" transform="rotate(-90 1929 297.5)" stroke="#000" stroke-width="0.4">Layer annotations</text>
<text class="D" x="1721" y="515.5" font-size="19.1" text-anchor="middle" fill="#000" stroke="#000" stroke-width="0.4">Maynard et al 2021, DLPFC marker genes</text>
<text class="D" x="1534.5" y="72.2" font-size="23" text-anchor="middle" fill="#000" stroke="#000" stroke-width="0.4">Average marker expression</text>
<text class="D" x="1534.5" y="95.1" font-size="23" text-anchor="middle" fill="#000" stroke="#000" stroke-width="0.4">(log2FC)</text>
<rect x="1525.1" y="107.0" width="20.5" height="74.80000000000001" fill="url(#rdbu)"/>
<path d="M1545.6 107.60h7.4" stroke="#000" stroke-width="1.5"/>
<text class="D" x="1559.2" y="114.6" font-size="17.8" fill="#000" stroke="#000" stroke-width="0.4">1</text>
<path d="M1545.6 145.00h7.4" stroke="#000" stroke-width="1.5"/>
<text class="D" x="1559.2" y="152.0" font-size="17.8" fill="#000" stroke="#000" stroke-width="0.4">0</text>
<path d="M1545.6 182.40h7.4" stroke="#000" stroke-width="1.5"/>
<text class="D" x="1559.2" y="189.4" font-size="17.8" fill="#000" stroke="#000" stroke-width="0.4">−1</text>
<rect x="1803.2" y="177.6" width="39.7" height="1.6" fill="#053061"/><rect x="1804" y="412.3" width="38.9" height="1.6" fill="#760521"/>
<rect x="175.80" y="664.85" width="55.70" height="25.7" fill="#de7199" stroke="#000" stroke-width="1.4"/>
<rect x="231.50" y="696.98" width="89.90" height="25.7" fill="#2d68b0" stroke="#000" stroke-width="1.4"/>
<rect x="231.50" y="729.11" width="89.90" height="25.7" fill="#e28a22" stroke="#000" stroke-width="1.4"/>
<rect x="231.50" y="761.24" width="252.70" height="25.7" fill="#c03262" stroke="#000" stroke-width="1.4"/>
<rect x="231.50" y="793.37" width="16.90" height="25.7" fill="#cb5b1f" stroke="#000" stroke-width="1.4"/>
<rect x="227.80" y="825.50" width="3.70" height="25.7" fill="#3b7a3a" stroke="#000" stroke-width="1.4"/>
<rect x="231.50" y="857.63" width="113.30" height="25.7" fill="#13706d" stroke="#000" stroke-width="1.4"/>
<rect x="217.40" y="889.76" width="14.10" height="25.7" fill="#4ecdc0" stroke="#000" stroke-width="1.4"/>
<path d="M78.5 661V918.7H508.5" fill="none" stroke="#262626" stroke-width="1.5"/>
<path d="M78.5 677.70h9.4M78.5 709.83h9.4M78.5 741.96h9.4M78.5 774.09h9.4M78.5 806.22h9.4M78.5 838.35h9.4M78.5 870.48h9.4M78.5 902.61h9.4M385.5 918.7v-9.4M231.5 918.7v-9.4" fill="none" stroke="#262626" stroke-width="1.5"/>
<text class="L" x="72.0" y="687.0" font-size="25.6" text-anchor="end" fill="#262626" stroke="#262626" stroke-width="0.4">PM.0</text>
<text class="L" x="72.0" y="719.13" font-size="25.6" text-anchor="end" fill="#262626" stroke="#262626" stroke-width="0.4">PM.1</text>
<text class="L" x="72.0" y="751.26" font-size="25.6" text-anchor="end" fill="#262626" stroke="#262626" stroke-width="0.4">PM.2</text>
<text class="L" x="72.0" y="783.39" font-size="25.6" text-anchor="end" fill="#262626" stroke="#262626" stroke-width="0.4">PM.3</text>
<text class="L" x="72.0" y="815.52" font-size="25.6" text-anchor="end" fill="#262626" stroke="#262626" stroke-width="0.4">PM.4</text>
<text class="L" x="72.0" y="847.65" font-size="25.6" text-anchor="end" fill="#262626" stroke="#262626" stroke-width="0.4">PM.5</text>
<text class="L" x="72.0" y="879.78" font-size="25.6" text-anchor="end" fill="#262626" stroke="#262626" stroke-width="0.4">PM.6</text>
<text class="L" x="72.0" y="911.91" font-size="25.6" text-anchor="end" fill="#262626" stroke="#262626" stroke-width="0.4">PM.7</text>
<text class="L" x="83.4" y="944.3" font-size="26" text-anchor="middle" fill="#262626" stroke="#262626" stroke-width="0.4">5</text>
<text class="L" x="231.5" y="944.3" font-size="26" text-anchor="middle" fill="#262626" stroke="#262626" stroke-width="0.4">0</text>
<text class="L" x="385.5" y="944.3" font-size="26" text-anchor="middle" fill="#262626" stroke="#262626" stroke-width="0.4">5</text>
<text class="L" x="293.4" y="650.0" font-size="29.3" text-anchor="middle" fill="#262626" stroke="#262626" stroke-width="0.4">Layer 2</text>
<text class="L" x="286" y="975" font-size="26" text-anchor="middle" fill="#262626" stroke="#262626" stroke-width="0.3">-log<tspan class="D" font-size="17.8" dy="4.3">10</tspan><tspan dy="-4.3">(p-value) * sign(NES)</tspan></text>
<rect x="652.20" y="664.85" width="98.50" height="25.7" fill="#de7199" stroke="#000" stroke-width="1.4"/>
<rect x="750.70" y="696.98" width="155.70" height="25.7" fill="#2d68b0" stroke="#000" stroke-width="1.4"/>
<rect x="750.70" y="729.11" width="72.10" height="25.7" fill="#e28a22" stroke="#000" stroke-width="1.4"/>
<rect x="750.70" y="761.24" width="188.60" height="25.7" fill="#c03262" stroke="#000" stroke-width="1.4"/>
<rect x="750.70" y="793.37" width="44.10" height="25.7" fill="#cb5b1f" stroke="#000" stroke-width="1.4"/>
<rect x="744.40" y="825.50" width="6.30" height="25.7" fill="#3b7a3a" stroke="#000" stroke-width="1.4"/>
<rect x="750.70" y="857.63" width="150.20" height="25.7" fill="#13706d" stroke="#000" stroke-width="1.4"/>
<rect x="745.60" y="889.76" width="5.10" height="25.7" fill="#4ecdc0" stroke="#000" stroke-width="1.4"/>
<path d="M597.3 661V918.7H1027.4" fill="none" stroke="#262626" stroke-width="1.5"/>
<path d="M597.3 677.70h9.4M597.3 709.83h9.4M597.3 741.96h9.4M597.3 774.09h9.4M597.3 806.22h9.4M597.3 838.35h9.4M597.3 870.48h9.4M597.3 902.61h9.4M904.6 918.7v-9.4M750.7 918.7v-9.4" fill="none" stroke="#262626" stroke-width="1.5"/>
<text class="L" x="590.8" y="687.0" font-size="25.6" text-anchor="end" fill="#262626" stroke="#262626" stroke-width="0.4">PM.0</text>
<text class="L" x="590.8" y="719.13" font-size="25.6" text-anchor="end" fill="#262626" stroke="#262626" stroke-width="0.4">PM.1</text>
<text class="L" x="590.8" y="751.26" font-size="25.6" text-anchor="end" fill="#262626" stroke="#262626" stroke-width="0.4">PM.2</text>
<text class="L" x="590.8" y="783.39" font-size="25.6" text-anchor="end" fill="#262626" stroke="#262626" stroke-width="0.4">PM.3</text>
<text class="L" x="590.8" y="815.52" font-size="25.6" text-anchor="end" fill="#262626" stroke="#262626" stroke-width="0.4">PM.4</text>
<text class="L" x="590.8" y="847.65" font-size="25.6" text-anchor="end" fill="#262626" stroke="#262626" stroke-width="0.4">PM.5</text>
<text class="L" x="590.8" y="879.78" font-size="25.6" text-anchor="end" fill="#262626" stroke="#262626" stroke-width="0.4">PM.6</text>
<text class="L" x="590.8" y="911.91" font-size="25.6" text-anchor="end" fill="#262626" stroke="#262626" stroke-width="0.4">PM.7</text>
<text class="L" x="602.2" y="944.3" font-size="26" text-anchor="middle" fill="#262626" stroke="#262626" stroke-width="0.4">5</text>
<text class="L" x="750.7" y="944.3" font-size="26" text-anchor="middle" fill="#262626" stroke="#262626" stroke-width="0.4">0</text>
<text class="L" x="904.6" y="944.3" font-size="26" text-anchor="middle" fill="#262626" stroke="#262626" stroke-width="0.4">5</text>
<text class="L" x="812.4" y="650.0" font-size="29.3" text-anchor="middle" fill="#262626" stroke="#262626" stroke-width="0.4">Layer 3</text>
<text class="L" x="813" y="973.1" font-size="26" text-anchor="middle" fill="#262626" stroke="#262626" stroke-width="0.3">-log<tspan class="D" font-size="17.8" dy="4.3">10</tspan><tspan dy="-4.3">(p-value) * sign(NES)</tspan></text>
<rect x="1164.80" y="664.85" width="105.00" height="25.7" fill="#de7199" stroke="#000" stroke-width="1.4"/>
<rect x="1269.80" y="696.98" width="112.80" height="25.7" fill="#2d68b0" stroke="#000" stroke-width="1.4"/>
<rect x="1269.80" y="729.11" width="58.70" height="25.7" fill="#e28a22" stroke="#000" stroke-width="1.4"/>
<rect x="1269.80" y="761.24" width="233.00" height="25.7" fill="#c03262" stroke="#000" stroke-width="1.4"/>
<rect x="1251.80" y="793.37" width="18.00" height="25.7" fill="#cb5b1f" stroke="#000" stroke-width="1.4"/>
<rect x="1261.20" y="825.50" width="8.60" height="25.7" fill="#3b7a3a" stroke="#000" stroke-width="1.4"/>
<rect x="1269.80" y="857.63" width="150.00" height="25.7" fill="#13706d" stroke="#000" stroke-width="1.4"/>
<rect x="1269.80" y="889.76" width="6.00" height="25.7" fill="#4ecdc0" stroke="#000" stroke-width="1.4"/>
<path d="M1116.8 661V918.7H1546.6" fill="none" stroke="#262626" stroke-width="1.5"/>
<path d="M1116.8 677.70h9.4M1116.8 709.83h9.4M1116.8 741.96h9.4M1116.8 774.09h9.4M1116.8 806.22h9.4M1116.8 838.35h9.4M1116.8 870.48h9.4M1116.8 902.61h9.4M1423.4 918.7v-9.4M1269.8 918.7v-9.4" fill="none" stroke="#262626" stroke-width="1.5"/>
<text class="L" x="1110.3" y="687.0" font-size="25.6" text-anchor="end" fill="#262626" stroke="#262626" stroke-width="0.4">PM.0</text>
<text class="L" x="1110.3" y="719.13" font-size="25.6" text-anchor="end" fill="#262626" stroke="#262626" stroke-width="0.4">PM.1</text>
<text class="L" x="1110.3" y="751.26" font-size="25.6" text-anchor="end" fill="#262626" stroke="#262626" stroke-width="0.4">PM.2</text>
<text class="L" x="1110.3" y="783.39" font-size="25.6" text-anchor="end" fill="#262626" stroke="#262626" stroke-width="0.4">PM.3</text>
<text class="L" x="1110.3" y="815.52" font-size="25.6" text-anchor="end" fill="#262626" stroke="#262626" stroke-width="0.4">PM.4</text>
<text class="L" x="1110.3" y="847.65" font-size="25.6" text-anchor="end" fill="#262626" stroke="#262626" stroke-width="0.4">PM.5</text>
<text class="L" x="1110.3" y="879.78" font-size="25.6" text-anchor="end" fill="#262626" stroke="#262626" stroke-width="0.4">PM.6</text>
<text class="L" x="1110.3" y="911.91" font-size="25.6" text-anchor="end" fill="#262626" stroke="#262626" stroke-width="0.4">PM.7</text>
<text class="L" x="1121.7" y="944.3" font-size="26" text-anchor="middle" fill="#262626" stroke="#262626" stroke-width="0.4">5</text>
<text class="L" x="1269.8" y="944.3" font-size="26" text-anchor="middle" fill="#262626" stroke="#262626" stroke-width="0.4">0</text>
<text class="L" x="1423.4" y="944.3" font-size="26" text-anchor="middle" fill="#262626" stroke="#262626" stroke-width="0.4">5</text>
<text class="L" x="1331.5" y="650.0" font-size="29.3" text-anchor="middle" fill="#262626" stroke="#262626" stroke-width="0.4">Layer 4</text>
<text class="L" x="1330" y="970.9" font-size="26" text-anchor="middle" fill="#262626" stroke="#262626" stroke-width="0.3">-log<tspan class="D" font-size="17.8" dy="4.3">10</tspan><tspan dy="-4.3">(p-value) * sign(NES)</tspan></text>
<rect x="106.60" y="1048.05" width="124.90" height="25.7" fill="#de7199" stroke="#000" stroke-width="1.4"/>
<rect x="231.50" y="1080.18" width="10.60" height="25.7" fill="#2d68b0" stroke="#000" stroke-width="1.4"/>
<rect x="231.50" y="1112.31" width="88.00" height="25.7" fill="#e28a22" stroke="#000" stroke-width="1.4"/>
<rect x="231.50" y="1144.44" width="181.20" height="25.7" fill="#c03262" stroke="#000" stroke-width="1.4"/>
<rect x="231.50" y="1176.57" width="30.40" height="25.7" fill="#cb5b1f" stroke="#000" stroke-width="1.4"/>
<rect x="219.80" y="1208.70" width="11.70" height="25.7" fill="#3b7a3a" stroke="#000" stroke-width="1.4"/>
<rect x="231.50" y="1240.83" width="129.30" height="25.7" fill="#13706d" stroke="#000" stroke-width="1.4"/>
<rect x="231.50" y="1272.96" width="22.90" height="25.7" fill="#4ecdc0" stroke="#000" stroke-width="1.4"/>
<path d="M78.5 1044.5V1301.9H508.5" fill="none" stroke="#262626" stroke-width="1.5"/>
<path d="M78.5 1060.90h9.4M78.5 1093.03h9.4M78.5 1125.16h9.4M78.5 1157.29h9.4M78.5 1189.42h9.4M78.5 1221.55h9.4M78.5 1253.68h9.4M78.5 1285.81h9.4M385.4 1301.9v-9.4M231.5 1301.9v-9.4" fill="none" stroke="#262626" stroke-width="1.5"/>
<text class="L" x="72.0" y="1070.2" font-size="25.6" text-anchor="end" fill="#262626" stroke="#262626" stroke-width="0.4">PM.0</text>
<text class="L" x="72.0" y="1102.33" font-size="25.6" text-anchor="end" fill="#262626" stroke="#262626" stroke-width="0.4">PM.1</text>
<text class="L" x="72.0" y="1134.46" font-size="25.6" text-anchor="end" fill="#262626" stroke="#262626" stroke-width="0.4">PM.2</text>
<text class="L" x="72.0" y="1166.59" font-size="25.6" text-anchor="end" fill="#262626" stroke="#262626" stroke-width="0.4">PM.3</text>
<text class="L" x="72.0" y="1198.72" font-size="25.6" text-anchor="end" fill="#262626" stroke="#262626" stroke-width="0.4">PM.4</text>
<text class="L" x="72.0" y="1230.85" font-size="25.6" text-anchor="end" fill="#262626" stroke="#262626" stroke-width="0.4">PM.5</text>
<text class="L" x="72.0" y="1262.98" font-size="25.6" text-anchor="end" fill="#262626" stroke="#262626" stroke-width="0.4">PM.6</text>
<text class="L" x="72.0" y="1295.11" font-size="25.6" text-anchor="end" fill="#262626" stroke="#262626" stroke-width="0.4">PM.7</text>
<text class="L" x="83.4" y="1327.2" font-size="26" text-anchor="middle" fill="#262626" stroke="#262626" stroke-width="0.4">5</text>
<text class="L" x="231.5" y="1327.2" font-size="26" text-anchor="middle" fill="#262626" stroke="#262626" stroke-width="0.4">0</text>
<text class="L" x="385.4" y="1327.2" font-size="26" text-anchor="middle" fill="#262626" stroke="#262626" stroke-width="0.4">5</text>
<text class="L" x="293" y="1034.0" font-size="29.3" text-anchor="middle" fill="#262626" stroke="#262626" stroke-width="0.4">Layers 4/5</text>
<text class="L" x="266.5" y="1357.5" font-size="26" text-anchor="middle" fill="#262626" stroke="#262626" stroke-width="0.3">-log<tspan class="D" font-size="17.8" dy="4.3">10</tspan><tspan dy="-4.3">(p-value) * sign(NES)</tspan></text>
<rect x="653.50" y="1048.05" width="97.20" height="25.7" fill="#de7199" stroke="#000" stroke-width="1.4"/>
<rect x="750.70" y="1080.18" width="186.50" height="25.7" fill="#2d68b0" stroke="#000" stroke-width="1.4"/>
<rect x="750.70" y="1112.31" width="42.70" height="25.7" fill="#e28a22" stroke="#000" stroke-width="1.4"/>
<rect x="750.70" y="1144.44" width="157.50" height="25.7" fill="#c03262" stroke="#000" stroke-width="1.4"/>
<rect x="719.40" y="1176.57" width="31.30" height="25.7" fill="#cb5b1f" stroke="#000" stroke-width="1.4"/>
<rect x="722.70" y="1208.70" width="28.00" height="25.7" fill="#3b7a3a" stroke="#000" stroke-width="1.4"/>
<rect x="750.70" y="1240.83" width="132.00" height="25.7" fill="#13706d" stroke="#000" stroke-width="1.4"/>
<rect x="750.70" y="1272.96" width="12.30" height="25.7" fill="#4ecdc0" stroke="#000" stroke-width="1.4"/>
<path d="M597.3 1044.5V1301.9H1027.4" fill="none" stroke="#262626" stroke-width="1.5"/>
<path d="M597.3 1060.90h9.4M597.3 1093.03h9.4M597.3 1125.16h9.4M597.3 1157.29h9.4M597.3 1189.42h9.4M597.3 1221.55h9.4M597.3 1253.68h9.4M597.3 1285.81h9.4M904.6 1301.9v-9.4M750.7 1301.9v-9.4" fill="none" stroke="#262626" stroke-width="1.5"/>
<text class="L" x="590.8" y="1070.2" font-size="25.6" text-anchor="end" fill="#262626" stroke="#262626" stroke-width="0.4">PM.0</text>
<text class="L" x="590.8" y="1102.33" font-size="25.6" text-anchor="end" fill="#262626" stroke="#262626" stroke-width="0.4">PM.1</text>
<text class="L" x="590.8" y="1134.46" font-size="25.6" text-anchor="end" fill="#262626" stroke="#262626" stroke-width="0.4">PM.2</text>
<text class="L" x="590.8" y="1166.59" font-size="25.6" text-anchor="end" fill="#262626" stroke="#262626" stroke-width="0.4">PM.3</text>
<text class="L" x="590.8" y="1198.72" font-size="25.6" text-anchor="end" fill="#262626" stroke="#262626" stroke-width="0.4">PM.4</text>
<text class="L" x="590.8" y="1230.85" font-size="25.6" text-anchor="end" fill="#262626" stroke="#262626" stroke-width="0.4">PM.5</text>
<text class="L" x="590.8" y="1262.98" font-size="25.6" text-anchor="end" fill="#262626" stroke="#262626" stroke-width="0.4">PM.6</text>
<text class="L" x="590.8" y="1295.11" font-size="25.6" text-anchor="end" fill="#262626" stroke="#262626" stroke-width="0.4">PM.7</text>
<text class="L" x="602.2" y="1327.2" font-size="26" text-anchor="middle" fill="#262626" stroke="#262626" stroke-width="0.4">5</text>
<text class="L" x="750.7" y="1327.2" font-size="26" text-anchor="middle" fill="#262626" stroke="#262626" stroke-width="0.4">0</text>
<text class="L" x="904.6" y="1327.2" font-size="26" text-anchor="middle" fill="#262626" stroke="#262626" stroke-width="0.4">5</text>
<text class="L" x="812" y="1034.0" font-size="29.3" text-anchor="middle" fill="#262626" stroke="#262626" stroke-width="0.4">Layers 5/6</text>
<text class="L" x="816" y="1353.6" font-size="26" text-anchor="middle" fill="#262626" stroke="#262626" stroke-width="0.3">-log<tspan class="D" font-size="17.8" dy="4.3">10</tspan><tspan dy="-4.3">(p-value) * sign(NES)</tspan></text>
</svg>
</body></html>
